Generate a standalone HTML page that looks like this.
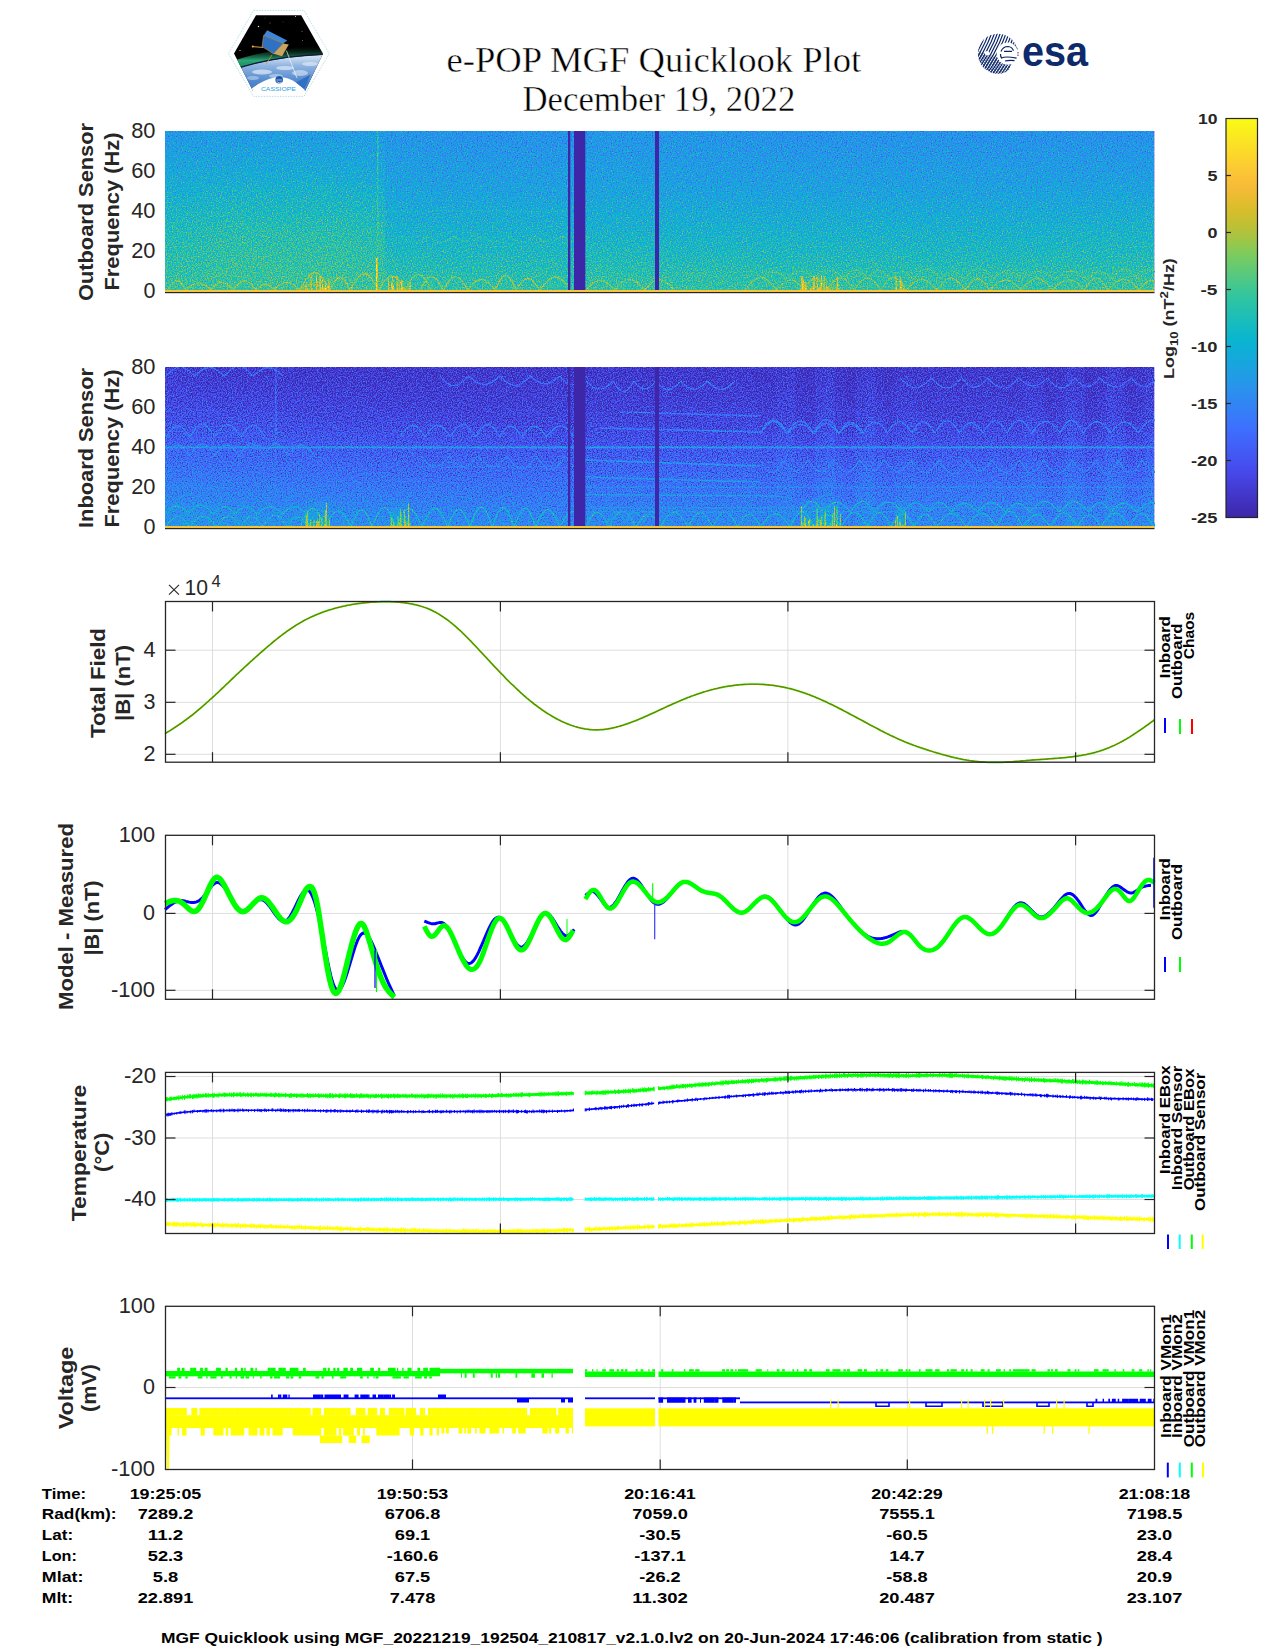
<!DOCTYPE html>
<html><head><meta charset="utf-8"><style>
html,body{margin:0;padding:0;background:#ffffff;}
body{width:1275px;height:1650px;overflow:hidden;}
svg{display:block;font-family:"Liberation Sans", sans-serif;}
</style></head><body>
<svg width="1275" height="1650" viewBox="0 0 1275 1650">
<defs><clipPath id="hexclip"><polygon points="256,15.2 301.2,15.2 323,53.8 305,91 253,91 234,53.6"/></clipPath>
<linearGradient id="earthg" x1="0" y1="0" x2="0" y2="1"><stop offset="0" stop-color="#dfeaf8"/><stop offset="0.25" stop-color="#8fb4e0"/><stop offset="0.6" stop-color="#4f86cc"/><stop offset="1" stop-color="#3c72c0"/></linearGradient>
<linearGradient id="aurg" x1="0" y1="0" x2="0" y2="1"><stop offset="0" stop-color="#0a2a1a" stop-opacity="0"/><stop offset="0.6" stop-color="#2aa877"/><stop offset="1" stop-color="#167a55"/></linearGradient>
<mask id="esamask" maskUnits="userSpaceOnUse" x="970" y="25" width="60" height="60"><circle cx="997.9" cy="53.7" r="20" fill="#fff"/><circle cx="1007.8" cy="53.6" r="11.2" fill="#000"/><circle cx="987.1" cy="53.3" r="2.3" fill="#000"/></mask>
<clipPath id="esabl"><polygon points="970,48 1010,62 1010,85 970,85"/></clipPath>
<linearGradient id="glow474354" x1="0" y1="1" x2="0" y2="0"><stop offset="0" stop-color="#b8b8b8" stop-opacity="0.3"/><stop offset="1" stop-color="#b8b8b8" stop-opacity="0"/></linearGradient>
<filter id="pfp1" filterUnits="userSpaceOnUse" x="165" y="131.0" width="990" height="161.0" color-interpolation-filters="sRGB"><feTurbulence type="fractalNoise" baseFrequency="0.80" numOctaves="2" seed="3" result="n"/><feColorMatrix in="n" type="matrix" values="1 0 0 0 0  1 0 0 0 0  1 0 0 0 0  0 0 0 0 1" result="ng"/><feComposite in="SourceGraphic" in2="ng" operator="arithmetic" k1="0" k2="1" k3="0.650" k4="-0.325" result="v"/><feComponentTransfer in="v"><feFuncR type="table" tableValues="0.2431 0.2510 0.2588 0.2667 0.2745 0.2745 0.2667 0.2588 0.2510 0.2392 0.2196 0.2000 0.1804 0.1608 0.1333 0.1059 0.0784 0.0510 0.0392 0.0745 0.1098 0.1490 0.1843 0.2471 0.3176 0.3882 0.4588 0.5412 0.6431 0.7255 0.7922 0.8549 0.9098 0.9608 0.9843 0.9843 0.9882 0.9843 0.9804 0.9804 0.9765"/><feFuncG type="table" tableValues="0.1490 0.1765 0.2078 0.2353 0.2667 0.2980 0.3333 0.3686 0.4039 0.4392 0.4745 0.5098 0.5412 0.5765 0.6078 0.6353 0.6627 0.6902 0.7137 0.7294 0.7451 0.7569 0.7725 0.7804 0.7843 0.7922 0.7961 0.7922 0.7725 0.7569 0.7490 0.7412 0.7373 0.7333 0.7529 0.7922 0.8275 0.8667 0.9059 0.9451 0.9843"/><feFuncB type="table" tableValues="0.6588 0.7176 0.7765 0.8353 0.8941 0.9333 0.9490 0.9647 0.9843 0.9961 0.9804 0.9647 0.9451 0.9255 0.9059 0.8824 0.8588 0.8353 0.8078 0.7647 0.7216 0.6745 0.6314 0.5765 0.5137 0.4510 0.3882 0.3294 0.2627 0.2157 0.1882 0.1647 0.1882 0.2157 0.2157 0.2000 0.1765 0.1529 0.1294 0.1059 0.0824"/></feComponentTransfer></filter>
<linearGradient id="p10" x1="0" y1="0" x2="0" y2="1"><stop offset="0.00" stop-color="#595959"/><stop offset="0.12" stop-color="#5e5e5e"/><stop offset="0.25" stop-color="#666666"/><stop offset="0.38" stop-color="#6e6e6e"/><stop offset="0.50" stop-color="#757575"/><stop offset="0.62" stop-color="#7d7d7d"/><stop offset="0.75" stop-color="#828282"/><stop offset="0.82" stop-color="#858585"/><stop offset="0.90" stop-color="#878787"/><stop offset="0.96" stop-color="#8a8a8a"/><stop offset="1.00" stop-color="#8c8c8c"/></linearGradient>
<linearGradient id="p11" x1="0" y1="0" x2="0" y2="1"><stop offset="0.00" stop-color="#595959"/><stop offset="0.12" stop-color="#5f5f5f"/><stop offset="0.25" stop-color="#666666"/><stop offset="0.38" stop-color="#6e6e6e"/><stop offset="0.50" stop-color="#767676"/><stop offset="0.62" stop-color="#7d7d7d"/><stop offset="0.75" stop-color="#828282"/><stop offset="0.82" stop-color="#858585"/><stop offset="0.90" stop-color="#888888"/><stop offset="0.96" stop-color="#8a8a8a"/><stop offset="1.00" stop-color="#8c8c8c"/></linearGradient>
<linearGradient id="p12" x1="0" y1="0" x2="0" y2="1"><stop offset="0.00" stop-color="#5a5a5a"/><stop offset="0.12" stop-color="#5f5f5f"/><stop offset="0.25" stop-color="#676767"/><stop offset="0.38" stop-color="#6f6f6f"/><stop offset="0.50" stop-color="#767676"/><stop offset="0.62" stop-color="#7e7e7e"/><stop offset="0.75" stop-color="#838383"/><stop offset="0.82" stop-color="#868686"/><stop offset="0.90" stop-color="#888888"/><stop offset="0.96" stop-color="#8a8a8a"/><stop offset="1.00" stop-color="#8d8d8d"/></linearGradient>
<linearGradient id="p13" x1="0" y1="0" x2="0" y2="1"><stop offset="0.00" stop-color="#5a5a5a"/><stop offset="0.12" stop-color="#5f5f5f"/><stop offset="0.25" stop-color="#676767"/><stop offset="0.38" stop-color="#707070"/><stop offset="0.50" stop-color="#777777"/><stop offset="0.62" stop-color="#7f7f7f"/><stop offset="0.75" stop-color="#848484"/><stop offset="0.82" stop-color="#868686"/><stop offset="0.90" stop-color="#898989"/><stop offset="0.96" stop-color="#8b8b8b"/><stop offset="1.00" stop-color="#8d8d8d"/></linearGradient>
<linearGradient id="p14" x1="0" y1="0" x2="0" y2="1"><stop offset="0.00" stop-color="#5b5b5b"/><stop offset="0.12" stop-color="#606060"/><stop offset="0.25" stop-color="#676767"/><stop offset="0.38" stop-color="#707070"/><stop offset="0.50" stop-color="#787878"/><stop offset="0.62" stop-color="#808080"/><stop offset="0.75" stop-color="#858585"/><stop offset="0.82" stop-color="#878787"/><stop offset="0.90" stop-color="#8a8a8a"/><stop offset="0.96" stop-color="#8b8b8b"/><stop offset="1.00" stop-color="#8e8e8e"/></linearGradient>
<linearGradient id="p15" x1="0" y1="0" x2="0" y2="1"><stop offset="0.00" stop-color="#5b5b5b"/><stop offset="0.12" stop-color="#606060"/><stop offset="0.25" stop-color="#686868"/><stop offset="0.38" stop-color="#717171"/><stop offset="0.50" stop-color="#797979"/><stop offset="0.62" stop-color="#818181"/><stop offset="0.75" stop-color="#868686"/><stop offset="0.82" stop-color="#888888"/><stop offset="0.90" stop-color="#8b8b8b"/><stop offset="0.96" stop-color="#8c8c8c"/><stop offset="1.00" stop-color="#8e8e8e"/></linearGradient>
<linearGradient id="p16" x1="0" y1="0" x2="0" y2="1"><stop offset="0.00" stop-color="#5b5b5b"/><stop offset="0.12" stop-color="#616161"/><stop offset="0.25" stop-color="#686868"/><stop offset="0.38" stop-color="#727272"/><stop offset="0.50" stop-color="#7a7a7a"/><stop offset="0.62" stop-color="#818181"/><stop offset="0.75" stop-color="#868686"/><stop offset="0.82" stop-color="#898989"/><stop offset="0.90" stop-color="#8c8c8c"/><stop offset="0.96" stop-color="#8c8c8c"/><stop offset="1.00" stop-color="#8e8e8e"/></linearGradient>
<linearGradient id="p17" x1="0" y1="0" x2="0" y2="1"><stop offset="0.00" stop-color="#5c5c5c"/><stop offset="0.12" stop-color="#616161"/><stop offset="0.25" stop-color="#686868"/><stop offset="0.38" stop-color="#737373"/><stop offset="0.50" stop-color="#7a7a7a"/><stop offset="0.62" stop-color="#828282"/><stop offset="0.75" stop-color="#878787"/><stop offset="0.82" stop-color="#8a8a8a"/><stop offset="0.90" stop-color="#8c8c8c"/><stop offset="0.96" stop-color="#8c8c8c"/><stop offset="1.00" stop-color="#8f8f8f"/></linearGradient>
<linearGradient id="p18" x1="0" y1="0" x2="0" y2="1"><stop offset="0.00" stop-color="#5c5c5c"/><stop offset="0.12" stop-color="#616161"/><stop offset="0.25" stop-color="#696969"/><stop offset="0.38" stop-color="#737373"/><stop offset="0.50" stop-color="#7a7a7a"/><stop offset="0.62" stop-color="#828282"/><stop offset="0.75" stop-color="#878787"/><stop offset="0.82" stop-color="#8a8a8a"/><stop offset="0.90" stop-color="#8c8c8c"/><stop offset="0.96" stop-color="#8c8c8c"/><stop offset="1.00" stop-color="#8f8f8f"/></linearGradient>
<linearGradient id="p19" x1="0" y1="0" x2="0" y2="1"><stop offset="0.00" stop-color="#5c5c5c"/><stop offset="0.12" stop-color="#616161"/><stop offset="0.25" stop-color="#696969"/><stop offset="0.38" stop-color="#737373"/><stop offset="0.50" stop-color="#7a7a7a"/><stop offset="0.62" stop-color="#828282"/><stop offset="0.75" stop-color="#878787"/><stop offset="0.82" stop-color="#8a8a8a"/><stop offset="0.90" stop-color="#8c8c8c"/><stop offset="0.96" stop-color="#8c8c8c"/><stop offset="1.00" stop-color="#8f8f8f"/></linearGradient>
<linearGradient id="p110" x1="0" y1="0" x2="0" y2="1"><stop offset="0.00" stop-color="#5c5c5c"/><stop offset="0.12" stop-color="#616161"/><stop offset="0.25" stop-color="#696969"/><stop offset="0.38" stop-color="#737373"/><stop offset="0.50" stop-color="#7a7a7a"/><stop offset="0.62" stop-color="#828282"/><stop offset="0.75" stop-color="#878787"/><stop offset="0.82" stop-color="#8a8a8a"/><stop offset="0.90" stop-color="#8c8c8c"/><stop offset="0.96" stop-color="#8c8c8c"/><stop offset="1.00" stop-color="#8f8f8f"/></linearGradient>
<linearGradient id="p111" x1="0" y1="0" x2="0" y2="1"><stop offset="0.00" stop-color="#5c5c5c"/><stop offset="0.12" stop-color="#616161"/><stop offset="0.25" stop-color="#696969"/><stop offset="0.38" stop-color="#737373"/><stop offset="0.50" stop-color="#7a7a7a"/><stop offset="0.62" stop-color="#828282"/><stop offset="0.75" stop-color="#878787"/><stop offset="0.82" stop-color="#8a8a8a"/><stop offset="0.90" stop-color="#8c8c8c"/><stop offset="0.96" stop-color="#8c8c8c"/><stop offset="1.00" stop-color="#8f8f8f"/></linearGradient>
<linearGradient id="p112" x1="0" y1="0" x2="0" y2="1"><stop offset="0.00" stop-color="#5c5c5c"/><stop offset="0.12" stop-color="#616161"/><stop offset="0.25" stop-color="#696969"/><stop offset="0.38" stop-color="#737373"/><stop offset="0.50" stop-color="#7a7a7a"/><stop offset="0.62" stop-color="#828282"/><stop offset="0.75" stop-color="#878787"/><stop offset="0.82" stop-color="#8a8a8a"/><stop offset="0.90" stop-color="#8c8c8c"/><stop offset="0.96" stop-color="#8c8c8c"/><stop offset="1.00" stop-color="#8f8f8f"/></linearGradient>
<linearGradient id="p113" x1="0" y1="0" x2="0" y2="1"><stop offset="0.00" stop-color="#5c5c5c"/><stop offset="0.12" stop-color="#616161"/><stop offset="0.25" stop-color="#696969"/><stop offset="0.38" stop-color="#737373"/><stop offset="0.50" stop-color="#7a7a7a"/><stop offset="0.62" stop-color="#828282"/><stop offset="0.75" stop-color="#878787"/><stop offset="0.82" stop-color="#8a8a8a"/><stop offset="0.90" stop-color="#8c8c8c"/><stop offset="0.96" stop-color="#8c8c8c"/><stop offset="1.00" stop-color="#8f8f8f"/></linearGradient>
<linearGradient id="p114" x1="0" y1="0" x2="0" y2="1"><stop offset="0.00" stop-color="#5c5c5c"/><stop offset="0.12" stop-color="#616161"/><stop offset="0.25" stop-color="#696969"/><stop offset="0.38" stop-color="#737373"/><stop offset="0.50" stop-color="#7a7a7a"/><stop offset="0.62" stop-color="#828282"/><stop offset="0.75" stop-color="#878787"/><stop offset="0.82" stop-color="#8a8a8a"/><stop offset="0.90" stop-color="#8c8c8c"/><stop offset="0.96" stop-color="#8c8c8c"/><stop offset="1.00" stop-color="#8f8f8f"/></linearGradient>
<linearGradient id="p115" x1="0" y1="0" x2="0" y2="1"><stop offset="0.00" stop-color="#5c5c5c"/><stop offset="0.12" stop-color="#616161"/><stop offset="0.25" stop-color="#696969"/><stop offset="0.38" stop-color="#737373"/><stop offset="0.50" stop-color="#7a7a7a"/><stop offset="0.62" stop-color="#828282"/><stop offset="0.75" stop-color="#878787"/><stop offset="0.82" stop-color="#8a8a8a"/><stop offset="0.90" stop-color="#8c8c8c"/><stop offset="0.96" stop-color="#8c8c8c"/><stop offset="1.00" stop-color="#8f8f8f"/></linearGradient>
<linearGradient id="p116" x1="0" y1="0" x2="0" y2="1"><stop offset="0.00" stop-color="#5c5c5c"/><stop offset="0.12" stop-color="#616161"/><stop offset="0.25" stop-color="#696969"/><stop offset="0.38" stop-color="#737373"/><stop offset="0.50" stop-color="#7a7a7a"/><stop offset="0.62" stop-color="#828282"/><stop offset="0.75" stop-color="#878787"/><stop offset="0.82" stop-color="#8a8a8a"/><stop offset="0.90" stop-color="#8c8c8c"/><stop offset="0.96" stop-color="#8c8c8c"/><stop offset="1.00" stop-color="#8f8f8f"/></linearGradient>
<linearGradient id="p117" x1="0" y1="0" x2="0" y2="1"><stop offset="0.00" stop-color="#5c5c5c"/><stop offset="0.12" stop-color="#616161"/><stop offset="0.25" stop-color="#686868"/><stop offset="0.38" stop-color="#737373"/><stop offset="0.50" stop-color="#7a7a7a"/><stop offset="0.62" stop-color="#828282"/><stop offset="0.75" stop-color="#878787"/><stop offset="0.82" stop-color="#898989"/><stop offset="0.90" stop-color="#8c8c8c"/><stop offset="0.96" stop-color="#8c8c8c"/><stop offset="1.00" stop-color="#8f8f8f"/></linearGradient>
<linearGradient id="p118" x1="0" y1="0" x2="0" y2="1"><stop offset="0.00" stop-color="#5c5c5c"/><stop offset="0.12" stop-color="#616161"/><stop offset="0.25" stop-color="#686868"/><stop offset="0.38" stop-color="#727272"/><stop offset="0.50" stop-color="#7a7a7a"/><stop offset="0.62" stop-color="#818181"/><stop offset="0.75" stop-color="#868686"/><stop offset="0.82" stop-color="#898989"/><stop offset="0.90" stop-color="#8b8b8b"/><stop offset="0.96" stop-color="#8c8c8c"/><stop offset="1.00" stop-color="#8f8f8f"/></linearGradient>
<linearGradient id="p119" x1="0" y1="0" x2="0" y2="1"><stop offset="0.00" stop-color="#5c5c5c"/><stop offset="0.12" stop-color="#616161"/><stop offset="0.25" stop-color="#676767"/><stop offset="0.38" stop-color="#717171"/><stop offset="0.50" stop-color="#797979"/><stop offset="0.62" stop-color="#808080"/><stop offset="0.75" stop-color="#868686"/><stop offset="0.82" stop-color="#888888"/><stop offset="0.90" stop-color="#8b8b8b"/><stop offset="0.96" stop-color="#8c8c8c"/><stop offset="1.00" stop-color="#8f8f8f"/></linearGradient>
<linearGradient id="p120" x1="0" y1="0" x2="0" y2="1"><stop offset="0.00" stop-color="#5c5c5c"/><stop offset="0.12" stop-color="#616161"/><stop offset="0.25" stop-color="#666666"/><stop offset="0.38" stop-color="#717171"/><stop offset="0.50" stop-color="#787878"/><stop offset="0.62" stop-color="#808080"/><stop offset="0.75" stop-color="#858585"/><stop offset="0.82" stop-color="#878787"/><stop offset="0.90" stop-color="#8a8a8a"/><stop offset="0.96" stop-color="#8c8c8c"/><stop offset="1.00" stop-color="#8f8f8f"/></linearGradient>
<linearGradient id="p121" x1="0" y1="0" x2="0" y2="1"><stop offset="0.00" stop-color="#5c5c5c"/><stop offset="0.12" stop-color="#616161"/><stop offset="0.25" stop-color="#666666"/><stop offset="0.38" stop-color="#707070"/><stop offset="0.50" stop-color="#787878"/><stop offset="0.62" stop-color="#808080"/><stop offset="0.75" stop-color="#858585"/><stop offset="0.82" stop-color="#878787"/><stop offset="0.90" stop-color="#8a8a8a"/><stop offset="0.96" stop-color="#8c8c8c"/><stop offset="1.00" stop-color="#8f8f8f"/></linearGradient>
<linearGradient id="p122" x1="0" y1="0" x2="0" y2="1"><stop offset="0.00" stop-color="#575757"/><stop offset="0.12" stop-color="#5a5a5a"/><stop offset="0.25" stop-color="#5f5f5f"/><stop offset="0.38" stop-color="#656565"/><stop offset="0.50" stop-color="#6a6a6a"/><stop offset="0.62" stop-color="#727272"/><stop offset="0.75" stop-color="#797979"/><stop offset="0.82" stop-color="#7e7e7e"/><stop offset="0.90" stop-color="#838383"/><stop offset="0.96" stop-color="#858585"/><stop offset="1.00" stop-color="#8a8a8a"/></linearGradient>
<linearGradient id="p123" x1="0" y1="0" x2="0" y2="1"><stop offset="0.00" stop-color="#575757"/><stop offset="0.12" stop-color="#595959"/><stop offset="0.25" stop-color="#5e5e5e"/><stop offset="0.38" stop-color="#636363"/><stop offset="0.50" stop-color="#696969"/><stop offset="0.62" stop-color="#707070"/><stop offset="0.75" stop-color="#787878"/><stop offset="0.82" stop-color="#7d7d7d"/><stop offset="0.90" stop-color="#828282"/><stop offset="0.96" stop-color="#858585"/><stop offset="1.00" stop-color="#8a8a8a"/></linearGradient>
<linearGradient id="p124" x1="0" y1="0" x2="0" y2="1"><stop offset="0.00" stop-color="#565656"/><stop offset="0.12" stop-color="#595959"/><stop offset="0.25" stop-color="#5e5e5e"/><stop offset="0.38" stop-color="#636363"/><stop offset="0.50" stop-color="#696969"/><stop offset="0.62" stop-color="#707070"/><stop offset="0.75" stop-color="#787878"/><stop offset="0.82" stop-color="#7d7d7d"/><stop offset="0.90" stop-color="#828282"/><stop offset="0.96" stop-color="#858585"/><stop offset="1.00" stop-color="#8a8a8a"/></linearGradient>
<linearGradient id="p125" x1="0" y1="0" x2="0" y2="1"><stop offset="0.00" stop-color="#565656"/><stop offset="0.12" stop-color="#595959"/><stop offset="0.25" stop-color="#5e5e5e"/><stop offset="0.38" stop-color="#636363"/><stop offset="0.50" stop-color="#696969"/><stop offset="0.62" stop-color="#707070"/><stop offset="0.75" stop-color="#787878"/><stop offset="0.82" stop-color="#7d7d7d"/><stop offset="0.90" stop-color="#828282"/><stop offset="0.96" stop-color="#858585"/><stop offset="1.00" stop-color="#8a8a8a"/></linearGradient>
<linearGradient id="p126" x1="0" y1="0" x2="0" y2="1"><stop offset="0.00" stop-color="#565656"/><stop offset="0.12" stop-color="#585858"/><stop offset="0.25" stop-color="#5d5d5d"/><stop offset="0.38" stop-color="#626262"/><stop offset="0.50" stop-color="#696969"/><stop offset="0.62" stop-color="#707070"/><stop offset="0.75" stop-color="#787878"/><stop offset="0.82" stop-color="#7d7d7d"/><stop offset="0.90" stop-color="#828282"/><stop offset="0.96" stop-color="#858585"/><stop offset="1.00" stop-color="#8a8a8a"/></linearGradient>
<linearGradient id="p127" x1="0" y1="0" x2="0" y2="1"><stop offset="0.00" stop-color="#555555"/><stop offset="0.12" stop-color="#585858"/><stop offset="0.25" stop-color="#5d5d5d"/><stop offset="0.38" stop-color="#626262"/><stop offset="0.50" stop-color="#696969"/><stop offset="0.62" stop-color="#707070"/><stop offset="0.75" stop-color="#787878"/><stop offset="0.82" stop-color="#7d7d7d"/><stop offset="0.90" stop-color="#828282"/><stop offset="0.96" stop-color="#858585"/><stop offset="1.00" stop-color="#8a8a8a"/></linearGradient>
<linearGradient id="p128" x1="0" y1="0" x2="0" y2="1"><stop offset="0.00" stop-color="#555555"/><stop offset="0.12" stop-color="#575757"/><stop offset="0.25" stop-color="#5c5c5c"/><stop offset="0.38" stop-color="#626262"/><stop offset="0.50" stop-color="#696969"/><stop offset="0.62" stop-color="#707070"/><stop offset="0.75" stop-color="#787878"/><stop offset="0.82" stop-color="#7d7d7d"/><stop offset="0.90" stop-color="#828282"/><stop offset="0.96" stop-color="#858585"/><stop offset="1.00" stop-color="#8a8a8a"/></linearGradient>
<linearGradient id="p129" x1="0" y1="0" x2="0" y2="1"><stop offset="0.00" stop-color="#545454"/><stop offset="0.12" stop-color="#575757"/><stop offset="0.25" stop-color="#5c5c5c"/><stop offset="0.38" stop-color="#616161"/><stop offset="0.50" stop-color="#696969"/><stop offset="0.62" stop-color="#707070"/><stop offset="0.75" stop-color="#787878"/><stop offset="0.82" stop-color="#7d7d7d"/><stop offset="0.90" stop-color="#828282"/><stop offset="0.96" stop-color="#858585"/><stop offset="1.00" stop-color="#8a8a8a"/></linearGradient>
<linearGradient id="p130" x1="0" y1="0" x2="0" y2="1"><stop offset="0.00" stop-color="#545454"/><stop offset="0.12" stop-color="#575757"/><stop offset="0.25" stop-color="#5c5c5c"/><stop offset="0.38" stop-color="#616161"/><stop offset="0.50" stop-color="#696969"/><stop offset="0.62" stop-color="#707070"/><stop offset="0.75" stop-color="#787878"/><stop offset="0.82" stop-color="#7d7d7d"/><stop offset="0.90" stop-color="#828282"/><stop offset="0.96" stop-color="#858585"/><stop offset="1.00" stop-color="#8a8a8a"/></linearGradient>
<linearGradient id="p131" x1="0" y1="0" x2="0" y2="1"><stop offset="0.00" stop-color="#545454"/><stop offset="0.12" stop-color="#575757"/><stop offset="0.25" stop-color="#5c5c5c"/><stop offset="0.38" stop-color="#616161"/><stop offset="0.50" stop-color="#696969"/><stop offset="0.62" stop-color="#707070"/><stop offset="0.75" stop-color="#787878"/><stop offset="0.82" stop-color="#7d7d7d"/><stop offset="0.90" stop-color="#828282"/><stop offset="0.96" stop-color="#858585"/><stop offset="1.00" stop-color="#8a8a8a"/></linearGradient>
<linearGradient id="p132" x1="0" y1="0" x2="0" y2="1"><stop offset="0.00" stop-color="#545454"/><stop offset="0.12" stop-color="#575757"/><stop offset="0.25" stop-color="#5c5c5c"/><stop offset="0.38" stop-color="#616161"/><stop offset="0.50" stop-color="#696969"/><stop offset="0.62" stop-color="#707070"/><stop offset="0.75" stop-color="#787878"/><stop offset="0.82" stop-color="#7d7d7d"/><stop offset="0.90" stop-color="#828282"/><stop offset="0.96" stop-color="#858585"/><stop offset="1.00" stop-color="#8a8a8a"/></linearGradient>
<linearGradient id="p133" x1="0" y1="0" x2="0" y2="1"><stop offset="0.00" stop-color="#545454"/><stop offset="0.12" stop-color="#575757"/><stop offset="0.25" stop-color="#5c5c5c"/><stop offset="0.38" stop-color="#616161"/><stop offset="0.50" stop-color="#696969"/><stop offset="0.62" stop-color="#707070"/><stop offset="0.75" stop-color="#787878"/><stop offset="0.82" stop-color="#7d7d7d"/><stop offset="0.90" stop-color="#828282"/><stop offset="0.96" stop-color="#858585"/><stop offset="1.00" stop-color="#8a8a8a"/></linearGradient>
<linearGradient id="p134" x1="0" y1="0" x2="0" y2="1"><stop offset="0.00" stop-color="#545454"/><stop offset="0.12" stop-color="#575757"/><stop offset="0.25" stop-color="#5c5c5c"/><stop offset="0.38" stop-color="#616161"/><stop offset="0.50" stop-color="#696969"/><stop offset="0.62" stop-color="#707070"/><stop offset="0.75" stop-color="#787878"/><stop offset="0.82" stop-color="#7d7d7d"/><stop offset="0.90" stop-color="#828282"/><stop offset="0.96" stop-color="#858585"/><stop offset="1.00" stop-color="#8a8a8a"/></linearGradient>
<linearGradient id="p135" x1="0" y1="0" x2="0" y2="1"><stop offset="0.00" stop-color="#545454"/><stop offset="0.12" stop-color="#575757"/><stop offset="0.25" stop-color="#5c5c5c"/><stop offset="0.38" stop-color="#616161"/><stop offset="0.50" stop-color="#696969"/><stop offset="0.62" stop-color="#707070"/><stop offset="0.75" stop-color="#787878"/><stop offset="0.82" stop-color="#7d7d7d"/><stop offset="0.90" stop-color="#828282"/><stop offset="0.96" stop-color="#858585"/><stop offset="1.00" stop-color="#8a8a8a"/></linearGradient>
<linearGradient id="p136" x1="0" y1="0" x2="0" y2="1"><stop offset="0.00" stop-color="#545454"/><stop offset="0.12" stop-color="#575757"/><stop offset="0.25" stop-color="#5c5c5c"/><stop offset="0.38" stop-color="#616161"/><stop offset="0.50" stop-color="#696969"/><stop offset="0.62" stop-color="#707070"/><stop offset="0.75" stop-color="#787878"/><stop offset="0.82" stop-color="#7d7d7d"/><stop offset="0.90" stop-color="#828282"/><stop offset="0.96" stop-color="#858585"/><stop offset="1.00" stop-color="#8a8a8a"/></linearGradient>
<linearGradient id="p137" x1="0" y1="0" x2="0" y2="1"><stop offset="0.00" stop-color="#545454"/><stop offset="0.12" stop-color="#575757"/><stop offset="0.25" stop-color="#5c5c5c"/><stop offset="0.38" stop-color="#616161"/><stop offset="0.50" stop-color="#696969"/><stop offset="0.62" stop-color="#707070"/><stop offset="0.75" stop-color="#787878"/><stop offset="0.82" stop-color="#7d7d7d"/><stop offset="0.90" stop-color="#828282"/><stop offset="0.96" stop-color="#858585"/><stop offset="1.00" stop-color="#8a8a8a"/></linearGradient>
<linearGradient id="p138" x1="0" y1="0" x2="0" y2="1"><stop offset="0.00" stop-color="#545454"/><stop offset="0.12" stop-color="#575757"/><stop offset="0.25" stop-color="#5c5c5c"/><stop offset="0.38" stop-color="#616161"/><stop offset="0.50" stop-color="#696969"/><stop offset="0.62" stop-color="#707070"/><stop offset="0.75" stop-color="#787878"/><stop offset="0.82" stop-color="#7d7d7d"/><stop offset="0.90" stop-color="#828282"/><stop offset="0.96" stop-color="#858585"/><stop offset="1.00" stop-color="#8a8a8a"/></linearGradient>
<linearGradient id="p139" x1="0" y1="0" x2="0" y2="1"><stop offset="0.00" stop-color="#545454"/><stop offset="0.12" stop-color="#575757"/><stop offset="0.25" stop-color="#5c5c5c"/><stop offset="0.38" stop-color="#616161"/><stop offset="0.50" stop-color="#696969"/><stop offset="0.62" stop-color="#707070"/><stop offset="0.75" stop-color="#787878"/><stop offset="0.82" stop-color="#7d7d7d"/><stop offset="0.90" stop-color="#828282"/><stop offset="0.96" stop-color="#858585"/><stop offset="1.00" stop-color="#8a8a8a"/></linearGradient>
<linearGradient id="p140" x1="0" y1="0" x2="0" y2="1"><stop offset="0.00" stop-color="#545454"/><stop offset="0.12" stop-color="#575757"/><stop offset="0.25" stop-color="#5c5c5c"/><stop offset="0.38" stop-color="#616161"/><stop offset="0.50" stop-color="#696969"/><stop offset="0.62" stop-color="#707070"/><stop offset="0.75" stop-color="#787878"/><stop offset="0.82" stop-color="#7d7d7d"/><stop offset="0.90" stop-color="#828282"/><stop offset="0.96" stop-color="#858585"/><stop offset="1.00" stop-color="#8a8a8a"/></linearGradient>
<linearGradient id="p141" x1="0" y1="0" x2="0" y2="1"><stop offset="0.00" stop-color="#555555"/><stop offset="0.12" stop-color="#585858"/><stop offset="0.25" stop-color="#5d5d5d"/><stop offset="0.38" stop-color="#626262"/><stop offset="0.50" stop-color="#6a6a6a"/><stop offset="0.62" stop-color="#707070"/><stop offset="0.75" stop-color="#797979"/><stop offset="0.82" stop-color="#7e7e7e"/><stop offset="0.90" stop-color="#838383"/><stop offset="0.96" stop-color="#868686"/><stop offset="1.00" stop-color="#8b8b8b"/></linearGradient>
<linearGradient id="p142" x1="0" y1="0" x2="0" y2="1"><stop offset="0.00" stop-color="#565656"/><stop offset="0.12" stop-color="#595959"/><stop offset="0.25" stop-color="#5e5e5e"/><stop offset="0.38" stop-color="#636363"/><stop offset="0.50" stop-color="#6b6b6b"/><stop offset="0.62" stop-color="#707070"/><stop offset="0.75" stop-color="#7a7a7a"/><stop offset="0.82" stop-color="#7f7f7f"/><stop offset="0.90" stop-color="#848484"/><stop offset="0.96" stop-color="#878787"/><stop offset="1.00" stop-color="#8c8c8c"/></linearGradient>
<linearGradient id="p143" x1="0" y1="0" x2="0" y2="1"><stop offset="0.00" stop-color="#575757"/><stop offset="0.12" stop-color="#595959"/><stop offset="0.25" stop-color="#5e5e5e"/><stop offset="0.38" stop-color="#636363"/><stop offset="0.50" stop-color="#6b6b6b"/><stop offset="0.62" stop-color="#707070"/><stop offset="0.75" stop-color="#7a7a7a"/><stop offset="0.82" stop-color="#808080"/><stop offset="0.90" stop-color="#858585"/><stop offset="0.96" stop-color="#878787"/><stop offset="1.00" stop-color="#8c8c8c"/></linearGradient>
<linearGradient id="p144" x1="0" y1="0" x2="0" y2="1"><stop offset="0.00" stop-color="#575757"/><stop offset="0.12" stop-color="#595959"/><stop offset="0.25" stop-color="#5e5e5e"/><stop offset="0.38" stop-color="#636363"/><stop offset="0.50" stop-color="#6b6b6b"/><stop offset="0.62" stop-color="#707070"/><stop offset="0.75" stop-color="#7a7a7a"/><stop offset="0.82" stop-color="#7f7f7f"/><stop offset="0.90" stop-color="#858585"/><stop offset="0.96" stop-color="#878787"/><stop offset="1.00" stop-color="#8c8c8c"/></linearGradient>
<linearGradient id="p145" x1="0" y1="0" x2="0" y2="1"><stop offset="0.00" stop-color="#575757"/><stop offset="0.12" stop-color="#595959"/><stop offset="0.25" stop-color="#5e5e5e"/><stop offset="0.38" stop-color="#636363"/><stop offset="0.50" stop-color="#6b6b6b"/><stop offset="0.62" stop-color="#707070"/><stop offset="0.75" stop-color="#7a7a7a"/><stop offset="0.82" stop-color="#7f7f7f"/><stop offset="0.90" stop-color="#858585"/><stop offset="0.96" stop-color="#878787"/><stop offset="1.00" stop-color="#8c8c8c"/></linearGradient>
<linearGradient id="p146" x1="0" y1="0" x2="0" y2="1"><stop offset="0.00" stop-color="#575757"/><stop offset="0.12" stop-color="#595959"/><stop offset="0.25" stop-color="#5e5e5e"/><stop offset="0.38" stop-color="#636363"/><stop offset="0.50" stop-color="#6b6b6b"/><stop offset="0.62" stop-color="#707070"/><stop offset="0.75" stop-color="#7a7a7a"/><stop offset="0.82" stop-color="#7f7f7f"/><stop offset="0.90" stop-color="#858585"/><stop offset="0.96" stop-color="#878787"/><stop offset="1.00" stop-color="#8c8c8c"/></linearGradient>
<linearGradient id="p147" x1="0" y1="0" x2="0" y2="1"><stop offset="0.00" stop-color="#575757"/><stop offset="0.12" stop-color="#595959"/><stop offset="0.25" stop-color="#5d5d5d"/><stop offset="0.38" stop-color="#636363"/><stop offset="0.50" stop-color="#6a6a6a"/><stop offset="0.62" stop-color="#707070"/><stop offset="0.75" stop-color="#7a7a7a"/><stop offset="0.82" stop-color="#7f7f7f"/><stop offset="0.90" stop-color="#858585"/><stop offset="0.96" stop-color="#878787"/><stop offset="1.00" stop-color="#8c8c8c"/></linearGradient>
<linearGradient id="p148" x1="0" y1="0" x2="0" y2="1"><stop offset="0.00" stop-color="#575757"/><stop offset="0.12" stop-color="#595959"/><stop offset="0.25" stop-color="#5d5d5d"/><stop offset="0.38" stop-color="#626262"/><stop offset="0.50" stop-color="#6a6a6a"/><stop offset="0.62" stop-color="#707070"/><stop offset="0.75" stop-color="#797979"/><stop offset="0.82" stop-color="#7e7e7e"/><stop offset="0.90" stop-color="#858585"/><stop offset="0.96" stop-color="#878787"/><stop offset="1.00" stop-color="#8c8c8c"/></linearGradient>
<linearGradient id="p149" x1="0" y1="0" x2="0" y2="1"><stop offset="0.00" stop-color="#575757"/><stop offset="0.12" stop-color="#595959"/><stop offset="0.25" stop-color="#5d5d5d"/><stop offset="0.38" stop-color="#626262"/><stop offset="0.50" stop-color="#696969"/><stop offset="0.62" stop-color="#707070"/><stop offset="0.75" stop-color="#797979"/><stop offset="0.82" stop-color="#7e7e7e"/><stop offset="0.90" stop-color="#858585"/><stop offset="0.96" stop-color="#878787"/><stop offset="1.00" stop-color="#8c8c8c"/></linearGradient>
<linearGradient id="p150" x1="0" y1="0" x2="0" y2="1"><stop offset="0.00" stop-color="#575757"/><stop offset="0.12" stop-color="#595959"/><stop offset="0.25" stop-color="#5c5c5c"/><stop offset="0.38" stop-color="#616161"/><stop offset="0.50" stop-color="#696969"/><stop offset="0.62" stop-color="#707070"/><stop offset="0.75" stop-color="#787878"/><stop offset="0.82" stop-color="#7e7e7e"/><stop offset="0.90" stop-color="#858585"/><stop offset="0.96" stop-color="#878787"/><stop offset="1.00" stop-color="#8c8c8c"/></linearGradient>
<linearGradient id="p151" x1="0" y1="0" x2="0" y2="1"><stop offset="0.00" stop-color="#575757"/><stop offset="0.12" stop-color="#595959"/><stop offset="0.25" stop-color="#5c5c5c"/><stop offset="0.38" stop-color="#616161"/><stop offset="0.50" stop-color="#696969"/><stop offset="0.62" stop-color="#707070"/><stop offset="0.75" stop-color="#787878"/><stop offset="0.82" stop-color="#7d7d7d"/><stop offset="0.90" stop-color="#858585"/><stop offset="0.96" stop-color="#878787"/><stop offset="1.00" stop-color="#8c8c8c"/></linearGradient>
<linearGradient id="p152" x1="0" y1="0" x2="0" y2="1"><stop offset="0.00" stop-color="#575757"/><stop offset="0.12" stop-color="#595959"/><stop offset="0.25" stop-color="#5c5c5c"/><stop offset="0.38" stop-color="#616161"/><stop offset="0.50" stop-color="#696969"/><stop offset="0.62" stop-color="#707070"/><stop offset="0.75" stop-color="#787878"/><stop offset="0.82" stop-color="#7d7d7d"/><stop offset="0.90" stop-color="#858585"/><stop offset="0.96" stop-color="#878787"/><stop offset="1.00" stop-color="#8c8c8c"/></linearGradient>
<linearGradient id="p153" x1="0" y1="0" x2="0" y2="1"><stop offset="0.00" stop-color="#575757"/><stop offset="0.12" stop-color="#595959"/><stop offset="0.25" stop-color="#5c5c5c"/><stop offset="0.38" stop-color="#616161"/><stop offset="0.50" stop-color="#696969"/><stop offset="0.62" stop-color="#707070"/><stop offset="0.75" stop-color="#787878"/><stop offset="0.82" stop-color="#7d7d7d"/><stop offset="0.90" stop-color="#858585"/><stop offset="0.96" stop-color="#878787"/><stop offset="1.00" stop-color="#8c8c8c"/></linearGradient>
<linearGradient id="p154" x1="0" y1="0" x2="0" y2="1"><stop offset="0.00" stop-color="#575757"/><stop offset="0.12" stop-color="#595959"/><stop offset="0.25" stop-color="#5c5c5c"/><stop offset="0.38" stop-color="#616161"/><stop offset="0.50" stop-color="#696969"/><stop offset="0.62" stop-color="#707070"/><stop offset="0.75" stop-color="#787878"/><stop offset="0.82" stop-color="#7d7d7d"/><stop offset="0.90" stop-color="#858585"/><stop offset="0.96" stop-color="#878787"/><stop offset="1.00" stop-color="#8c8c8c"/></linearGradient>
<linearGradient id="p155" x1="0" y1="0" x2="0" y2="1"><stop offset="0.00" stop-color="#565656"/><stop offset="0.12" stop-color="#595959"/><stop offset="0.25" stop-color="#5c5c5c"/><stop offset="0.38" stop-color="#616161"/><stop offset="0.50" stop-color="#696969"/><stop offset="0.62" stop-color="#707070"/><stop offset="0.75" stop-color="#787878"/><stop offset="0.82" stop-color="#7d7d7d"/><stop offset="0.90" stop-color="#858585"/><stop offset="0.96" stop-color="#878787"/><stop offset="1.00" stop-color="#8c8c8c"/></linearGradient>
<linearGradient id="p156" x1="0" y1="0" x2="0" y2="1"><stop offset="0.00" stop-color="#565656"/><stop offset="0.12" stop-color="#595959"/><stop offset="0.25" stop-color="#5c5c5c"/><stop offset="0.38" stop-color="#616161"/><stop offset="0.50" stop-color="#696969"/><stop offset="0.62" stop-color="#707070"/><stop offset="0.75" stop-color="#787878"/><stop offset="0.82" stop-color="#7d7d7d"/><stop offset="0.90" stop-color="#858585"/><stop offset="0.96" stop-color="#878787"/><stop offset="1.00" stop-color="#8c8c8c"/></linearGradient>
<linearGradient id="p157" x1="0" y1="0" x2="0" y2="1"><stop offset="0.00" stop-color="#565656"/><stop offset="0.12" stop-color="#585858"/><stop offset="0.25" stop-color="#5c5c5c"/><stop offset="0.38" stop-color="#616161"/><stop offset="0.50" stop-color="#696969"/><stop offset="0.62" stop-color="#707070"/><stop offset="0.75" stop-color="#787878"/><stop offset="0.82" stop-color="#7d7d7d"/><stop offset="0.90" stop-color="#858585"/><stop offset="0.96" stop-color="#878787"/><stop offset="1.00" stop-color="#8c8c8c"/></linearGradient>
<linearGradient id="p158" x1="0" y1="0" x2="0" y2="1"><stop offset="0.00" stop-color="#555555"/><stop offset="0.12" stop-color="#585858"/><stop offset="0.25" stop-color="#5c5c5c"/><stop offset="0.38" stop-color="#616161"/><stop offset="0.50" stop-color="#696969"/><stop offset="0.62" stop-color="#707070"/><stop offset="0.75" stop-color="#787878"/><stop offset="0.82" stop-color="#7d7d7d"/><stop offset="0.90" stop-color="#858585"/><stop offset="0.96" stop-color="#878787"/><stop offset="1.00" stop-color="#8c8c8c"/></linearGradient>
<linearGradient id="p159" x1="0" y1="0" x2="0" y2="1"><stop offset="0.00" stop-color="#555555"/><stop offset="0.12" stop-color="#585858"/><stop offset="0.25" stop-color="#5c5c5c"/><stop offset="0.38" stop-color="#616161"/><stop offset="0.50" stop-color="#696969"/><stop offset="0.62" stop-color="#707070"/><stop offset="0.75" stop-color="#787878"/><stop offset="0.82" stop-color="#7d7d7d"/><stop offset="0.90" stop-color="#858585"/><stop offset="0.96" stop-color="#878787"/><stop offset="1.00" stop-color="#8c8c8c"/></linearGradient>
<linearGradient id="p160" x1="0" y1="0" x2="0" y2="1"><stop offset="0.00" stop-color="#555555"/><stop offset="0.12" stop-color="#575757"/><stop offset="0.25" stop-color="#5c5c5c"/><stop offset="0.38" stop-color="#616161"/><stop offset="0.50" stop-color="#696969"/><stop offset="0.62" stop-color="#707070"/><stop offset="0.75" stop-color="#787878"/><stop offset="0.82" stop-color="#7d7d7d"/><stop offset="0.90" stop-color="#858585"/><stop offset="0.96" stop-color="#878787"/><stop offset="1.00" stop-color="#8c8c8c"/></linearGradient>
<linearGradient id="p161" x1="0" y1="0" x2="0" y2="1"><stop offset="0.00" stop-color="#545454"/><stop offset="0.12" stop-color="#575757"/><stop offset="0.25" stop-color="#5c5c5c"/><stop offset="0.38" stop-color="#616161"/><stop offset="0.50" stop-color="#696969"/><stop offset="0.62" stop-color="#707070"/><stop offset="0.75" stop-color="#787878"/><stop offset="0.82" stop-color="#7d7d7d"/><stop offset="0.90" stop-color="#858585"/><stop offset="0.96" stop-color="#878787"/><stop offset="1.00" stop-color="#8c8c8c"/></linearGradient>
<linearGradient id="p162" x1="0" y1="0" x2="0" y2="1"><stop offset="0.00" stop-color="#545454"/><stop offset="0.12" stop-color="#575757"/><stop offset="0.25" stop-color="#5c5c5c"/><stop offset="0.38" stop-color="#616161"/><stop offset="0.50" stop-color="#696969"/><stop offset="0.62" stop-color="#707070"/><stop offset="0.75" stop-color="#787878"/><stop offset="0.82" stop-color="#7d7d7d"/><stop offset="0.90" stop-color="#858585"/><stop offset="0.96" stop-color="#878787"/><stop offset="1.00" stop-color="#8c8c8c"/></linearGradient>
<linearGradient id="p163" x1="0" y1="0" x2="0" y2="1"><stop offset="0.00" stop-color="#545454"/><stop offset="0.12" stop-color="#575757"/><stop offset="0.25" stop-color="#5c5c5c"/><stop offset="0.38" stop-color="#616161"/><stop offset="0.50" stop-color="#696969"/><stop offset="0.62" stop-color="#707070"/><stop offset="0.75" stop-color="#787878"/><stop offset="0.82" stop-color="#7d7d7d"/><stop offset="0.90" stop-color="#858585"/><stop offset="0.96" stop-color="#878787"/><stop offset="1.00" stop-color="#8c8c8c"/></linearGradient>
<linearGradient id="p164" x1="0" y1="0" x2="0" y2="1"><stop offset="0.00" stop-color="#545454"/><stop offset="0.12" stop-color="#575757"/><stop offset="0.25" stop-color="#5c5c5c"/><stop offset="0.38" stop-color="#616161"/><stop offset="0.50" stop-color="#696969"/><stop offset="0.62" stop-color="#707070"/><stop offset="0.75" stop-color="#787878"/><stop offset="0.82" stop-color="#7d7d7d"/><stop offset="0.90" stop-color="#858585"/><stop offset="0.96" stop-color="#878787"/><stop offset="1.00" stop-color="#8c8c8c"/></linearGradient>
<linearGradient id="p165" x1="0" y1="0" x2="0" y2="1"><stop offset="0.00" stop-color="#545454"/><stop offset="0.12" stop-color="#575757"/><stop offset="0.25" stop-color="#5c5c5c"/><stop offset="0.38" stop-color="#616161"/><stop offset="0.50" stop-color="#696969"/><stop offset="0.62" stop-color="#707070"/><stop offset="0.75" stop-color="#787878"/><stop offset="0.82" stop-color="#7d7d7d"/><stop offset="0.90" stop-color="#858585"/><stop offset="0.96" stop-color="#878787"/><stop offset="1.00" stop-color="#8c8c8c"/></linearGradient>
<linearGradient id="p166" x1="0" y1="0" x2="0" y2="1"><stop offset="0.00" stop-color="#545454"/><stop offset="0.12" stop-color="#575757"/><stop offset="0.25" stop-color="#5c5c5c"/><stop offset="0.38" stop-color="#616161"/><stop offset="0.50" stop-color="#696969"/><stop offset="0.62" stop-color="#707070"/><stop offset="0.75" stop-color="#787878"/><stop offset="0.82" stop-color="#7d7d7d"/><stop offset="0.90" stop-color="#858585"/><stop offset="0.96" stop-color="#878787"/><stop offset="1.00" stop-color="#8c8c8c"/></linearGradient>
<linearGradient id="p167" x1="0" y1="0" x2="0" y2="1"><stop offset="0.00" stop-color="#545454"/><stop offset="0.12" stop-color="#575757"/><stop offset="0.25" stop-color="#5c5c5c"/><stop offset="0.38" stop-color="#616161"/><stop offset="0.50" stop-color="#696969"/><stop offset="0.62" stop-color="#707070"/><stop offset="0.75" stop-color="#787878"/><stop offset="0.82" stop-color="#7d7d7d"/><stop offset="0.90" stop-color="#858585"/><stop offset="0.96" stop-color="#878787"/><stop offset="1.00" stop-color="#8c8c8c"/></linearGradient>
<linearGradient id="p168" x1="0" y1="0" x2="0" y2="1"><stop offset="0.00" stop-color="#545454"/><stop offset="0.12" stop-color="#575757"/><stop offset="0.25" stop-color="#5c5c5c"/><stop offset="0.38" stop-color="#616161"/><stop offset="0.50" stop-color="#696969"/><stop offset="0.62" stop-color="#707070"/><stop offset="0.75" stop-color="#787878"/><stop offset="0.82" stop-color="#7d7d7d"/><stop offset="0.90" stop-color="#858585"/><stop offset="0.96" stop-color="#878787"/><stop offset="1.00" stop-color="#8c8c8c"/></linearGradient>
<linearGradient id="p169" x1="0" y1="0" x2="0" y2="1"><stop offset="0.00" stop-color="#545454"/><stop offset="0.12" stop-color="#575757"/><stop offset="0.25" stop-color="#5c5c5c"/><stop offset="0.38" stop-color="#616161"/><stop offset="0.50" stop-color="#696969"/><stop offset="0.62" stop-color="#707070"/><stop offset="0.75" stop-color="#787878"/><stop offset="0.82" stop-color="#7d7d7d"/><stop offset="0.90" stop-color="#858585"/><stop offset="0.96" stop-color="#878787"/><stop offset="1.00" stop-color="#8c8c8c"/></linearGradient>
<linearGradient id="p170" x1="0" y1="0" x2="0" y2="1"><stop offset="0.00" stop-color="#545454"/><stop offset="0.12" stop-color="#575757"/><stop offset="0.25" stop-color="#5c5c5c"/><stop offset="0.38" stop-color="#616161"/><stop offset="0.50" stop-color="#696969"/><stop offset="0.62" stop-color="#707070"/><stop offset="0.75" stop-color="#787878"/><stop offset="0.82" stop-color="#7d7d7d"/><stop offset="0.90" stop-color="#858585"/><stop offset="0.96" stop-color="#878787"/><stop offset="1.00" stop-color="#8c8c8c"/></linearGradient>
<linearGradient id="p171" x1="0" y1="0" x2="0" y2="1"><stop offset="0.00" stop-color="#545454"/><stop offset="0.12" stop-color="#575757"/><stop offset="0.25" stop-color="#5c5c5c"/><stop offset="0.38" stop-color="#616161"/><stop offset="0.50" stop-color="#696969"/><stop offset="0.62" stop-color="#707070"/><stop offset="0.75" stop-color="#787878"/><stop offset="0.82" stop-color="#7d7d7d"/><stop offset="0.90" stop-color="#858585"/><stop offset="0.96" stop-color="#878787"/><stop offset="1.00" stop-color="#8c8c8c"/></linearGradient>
<linearGradient id="p172" x1="0" y1="0" x2="0" y2="1"><stop offset="0.00" stop-color="#545454"/><stop offset="0.12" stop-color="#575757"/><stop offset="0.25" stop-color="#5c5c5c"/><stop offset="0.38" stop-color="#616161"/><stop offset="0.50" stop-color="#696969"/><stop offset="0.62" stop-color="#707070"/><stop offset="0.75" stop-color="#787878"/><stop offset="0.82" stop-color="#7d7d7d"/><stop offset="0.90" stop-color="#858585"/><stop offset="0.96" stop-color="#878787"/><stop offset="1.00" stop-color="#8c8c8c"/></linearGradient>
<linearGradient id="p173" x1="0" y1="0" x2="0" y2="1"><stop offset="0.00" stop-color="#545454"/><stop offset="0.12" stop-color="#575757"/><stop offset="0.25" stop-color="#5c5c5c"/><stop offset="0.38" stop-color="#616161"/><stop offset="0.50" stop-color="#696969"/><stop offset="0.62" stop-color="#707070"/><stop offset="0.75" stop-color="#787878"/><stop offset="0.82" stop-color="#7d7d7d"/><stop offset="0.90" stop-color="#858585"/><stop offset="0.96" stop-color="#878787"/><stop offset="1.00" stop-color="#8c8c8c"/></linearGradient>
<linearGradient id="p174" x1="0" y1="0" x2="0" y2="1"><stop offset="0.00" stop-color="#545454"/><stop offset="0.12" stop-color="#575757"/><stop offset="0.25" stop-color="#5c5c5c"/><stop offset="0.38" stop-color="#616161"/><stop offset="0.50" stop-color="#696969"/><stop offset="0.62" stop-color="#707070"/><stop offset="0.75" stop-color="#787878"/><stop offset="0.82" stop-color="#7d7d7d"/><stop offset="0.90" stop-color="#858585"/><stop offset="0.96" stop-color="#878787"/><stop offset="1.00" stop-color="#8c8c8c"/></linearGradient>
<linearGradient id="p175" x1="0" y1="0" x2="0" y2="1"><stop offset="0.00" stop-color="#545454"/><stop offset="0.12" stop-color="#575757"/><stop offset="0.25" stop-color="#5c5c5c"/><stop offset="0.38" stop-color="#616161"/><stop offset="0.50" stop-color="#696969"/><stop offset="0.62" stop-color="#707070"/><stop offset="0.75" stop-color="#787878"/><stop offset="0.82" stop-color="#7d7d7d"/><stop offset="0.90" stop-color="#858585"/><stop offset="0.96" stop-color="#878787"/><stop offset="1.00" stop-color="#8c8c8c"/></linearGradient>
<linearGradient id="p176" x1="0" y1="0" x2="0" y2="1"><stop offset="0.00" stop-color="#545454"/><stop offset="0.12" stop-color="#575757"/><stop offset="0.25" stop-color="#5c5c5c"/><stop offset="0.38" stop-color="#616161"/><stop offset="0.50" stop-color="#696969"/><stop offset="0.62" stop-color="#707070"/><stop offset="0.75" stop-color="#787878"/><stop offset="0.82" stop-color="#7d7d7d"/><stop offset="0.90" stop-color="#858585"/><stop offset="0.96" stop-color="#878787"/><stop offset="1.00" stop-color="#8c8c8c"/></linearGradient>
<linearGradient id="p177" x1="0" y1="0" x2="0" y2="1"><stop offset="0.00" stop-color="#545454"/><stop offset="0.12" stop-color="#575757"/><stop offset="0.25" stop-color="#5c5c5c"/><stop offset="0.38" stop-color="#616161"/><stop offset="0.50" stop-color="#696969"/><stop offset="0.62" stop-color="#707070"/><stop offset="0.75" stop-color="#787878"/><stop offset="0.82" stop-color="#7d7d7d"/><stop offset="0.90" stop-color="#858585"/><stop offset="0.96" stop-color="#878787"/><stop offset="1.00" stop-color="#8c8c8c"/></linearGradient>
<linearGradient id="p178" x1="0" y1="0" x2="0" y2="1"><stop offset="0.00" stop-color="#545454"/><stop offset="0.12" stop-color="#575757"/><stop offset="0.25" stop-color="#5c5c5c"/><stop offset="0.38" stop-color="#616161"/><stop offset="0.50" stop-color="#696969"/><stop offset="0.62" stop-color="#707070"/><stop offset="0.75" stop-color="#787878"/><stop offset="0.82" stop-color="#7d7d7d"/><stop offset="0.90" stop-color="#858585"/><stop offset="0.96" stop-color="#878787"/><stop offset="1.00" stop-color="#8c8c8c"/></linearGradient>
<linearGradient id="p179" x1="0" y1="0" x2="0" y2="1"><stop offset="0.00" stop-color="#545454"/><stop offset="0.12" stop-color="#575757"/><stop offset="0.25" stop-color="#5c5c5c"/><stop offset="0.38" stop-color="#616161"/><stop offset="0.50" stop-color="#696969"/><stop offset="0.62" stop-color="#707070"/><stop offset="0.75" stop-color="#787878"/><stop offset="0.82" stop-color="#7d7d7d"/><stop offset="0.90" stop-color="#858585"/><stop offset="0.96" stop-color="#878787"/><stop offset="1.00" stop-color="#8c8c8c"/></linearGradient>
<linearGradient id="p180" x1="0" y1="0" x2="0" y2="1"><stop offset="0.00" stop-color="#545454"/><stop offset="0.12" stop-color="#575757"/><stop offset="0.25" stop-color="#5c5c5c"/><stop offset="0.38" stop-color="#616161"/><stop offset="0.50" stop-color="#696969"/><stop offset="0.62" stop-color="#707070"/><stop offset="0.75" stop-color="#787878"/><stop offset="0.82" stop-color="#7d7d7d"/><stop offset="0.90" stop-color="#858585"/><stop offset="0.96" stop-color="#878787"/><stop offset="1.00" stop-color="#8c8c8c"/></linearGradient>
<linearGradient id="p181" x1="0" y1="0" x2="0" y2="1"><stop offset="0.00" stop-color="#545454"/><stop offset="0.12" stop-color="#575757"/><stop offset="0.25" stop-color="#5c5c5c"/><stop offset="0.38" stop-color="#616161"/><stop offset="0.50" stop-color="#696969"/><stop offset="0.62" stop-color="#707070"/><stop offset="0.75" stop-color="#787878"/><stop offset="0.82" stop-color="#7d7d7d"/><stop offset="0.90" stop-color="#858585"/><stop offset="0.96" stop-color="#878787"/><stop offset="1.00" stop-color="#8c8c8c"/></linearGradient>
<linearGradient id="p182" x1="0" y1="0" x2="0" y2="1"><stop offset="0.00" stop-color="#545454"/><stop offset="0.12" stop-color="#575757"/><stop offset="0.25" stop-color="#5c5c5c"/><stop offset="0.38" stop-color="#616161"/><stop offset="0.50" stop-color="#696969"/><stop offset="0.62" stop-color="#707070"/><stop offset="0.75" stop-color="#787878"/><stop offset="0.82" stop-color="#7d7d7d"/><stop offset="0.90" stop-color="#858585"/><stop offset="0.96" stop-color="#878787"/><stop offset="1.00" stop-color="#8c8c8c"/></linearGradient>
<linearGradient id="p183" x1="0" y1="0" x2="0" y2="1"><stop offset="0.00" stop-color="#545454"/><stop offset="0.12" stop-color="#575757"/><stop offset="0.25" stop-color="#5c5c5c"/><stop offset="0.38" stop-color="#616161"/><stop offset="0.50" stop-color="#696969"/><stop offset="0.62" stop-color="#707070"/><stop offset="0.75" stop-color="#787878"/><stop offset="0.82" stop-color="#7d7d7d"/><stop offset="0.90" stop-color="#858585"/><stop offset="0.96" stop-color="#878787"/><stop offset="1.00" stop-color="#8c8c8c"/></linearGradient>
<linearGradient id="p184" x1="0" y1="0" x2="0" y2="1"><stop offset="0.00" stop-color="#545454"/><stop offset="0.12" stop-color="#575757"/><stop offset="0.25" stop-color="#5c5c5c"/><stop offset="0.38" stop-color="#616161"/><stop offset="0.50" stop-color="#696969"/><stop offset="0.62" stop-color="#707070"/><stop offset="0.75" stop-color="#787878"/><stop offset="0.82" stop-color="#7d7d7d"/><stop offset="0.90" stop-color="#858585"/><stop offset="0.96" stop-color="#878787"/><stop offset="1.00" stop-color="#8c8c8c"/></linearGradient>
<linearGradient id="p185" x1="0" y1="0" x2="0" y2="1"><stop offset="0.00" stop-color="#545454"/><stop offset="0.12" stop-color="#575757"/><stop offset="0.25" stop-color="#5c5c5c"/><stop offset="0.38" stop-color="#616161"/><stop offset="0.50" stop-color="#696969"/><stop offset="0.62" stop-color="#707070"/><stop offset="0.75" stop-color="#787878"/><stop offset="0.82" stop-color="#7d7d7d"/><stop offset="0.90" stop-color="#858585"/><stop offset="0.96" stop-color="#878787"/><stop offset="1.00" stop-color="#8c8c8c"/></linearGradient>
<linearGradient id="p186" x1="0" y1="0" x2="0" y2="1"><stop offset="0.00" stop-color="#545454"/><stop offset="0.12" stop-color="#575757"/><stop offset="0.25" stop-color="#5c5c5c"/><stop offset="0.38" stop-color="#616161"/><stop offset="0.50" stop-color="#696969"/><stop offset="0.62" stop-color="#707070"/><stop offset="0.75" stop-color="#787878"/><stop offset="0.82" stop-color="#7d7d7d"/><stop offset="0.90" stop-color="#858585"/><stop offset="0.96" stop-color="#878787"/><stop offset="1.00" stop-color="#8d8d8d"/></linearGradient>
<linearGradient id="p187" x1="0" y1="0" x2="0" y2="1"><stop offset="0.00" stop-color="#545454"/><stop offset="0.12" stop-color="#575757"/><stop offset="0.25" stop-color="#5c5c5c"/><stop offset="0.38" stop-color="#616161"/><stop offset="0.50" stop-color="#696969"/><stop offset="0.62" stop-color="#717171"/><stop offset="0.75" stop-color="#787878"/><stop offset="0.82" stop-color="#7d7d7d"/><stop offset="0.90" stop-color="#858585"/><stop offset="0.96" stop-color="#888888"/><stop offset="1.00" stop-color="#8d8d8d"/></linearGradient>
<linearGradient id="p188" x1="0" y1="0" x2="0" y2="1"><stop offset="0.00" stop-color="#545454"/><stop offset="0.12" stop-color="#575757"/><stop offset="0.25" stop-color="#5c5c5c"/><stop offset="0.38" stop-color="#626262"/><stop offset="0.50" stop-color="#696969"/><stop offset="0.62" stop-color="#717171"/><stop offset="0.75" stop-color="#787878"/><stop offset="0.82" stop-color="#7e7e7e"/><stop offset="0.90" stop-color="#858585"/><stop offset="0.96" stop-color="#888888"/><stop offset="1.00" stop-color="#8d8d8d"/></linearGradient>
<linearGradient id="p189" x1="0" y1="0" x2="0" y2="1"><stop offset="0.00" stop-color="#545454"/><stop offset="0.12" stop-color="#575757"/><stop offset="0.25" stop-color="#5c5c5c"/><stop offset="0.38" stop-color="#626262"/><stop offset="0.50" stop-color="#696969"/><stop offset="0.62" stop-color="#717171"/><stop offset="0.75" stop-color="#797979"/><stop offset="0.82" stop-color="#7e7e7e"/><stop offset="0.90" stop-color="#858585"/><stop offset="0.96" stop-color="#888888"/><stop offset="1.00" stop-color="#8d8d8d"/></linearGradient>
<linearGradient id="p190" x1="0" y1="0" x2="0" y2="1"><stop offset="0.00" stop-color="#545454"/><stop offset="0.12" stop-color="#575757"/><stop offset="0.25" stop-color="#5c5c5c"/><stop offset="0.38" stop-color="#626262"/><stop offset="0.50" stop-color="#6a6a6a"/><stop offset="0.62" stop-color="#717171"/><stop offset="0.75" stop-color="#797979"/><stop offset="0.82" stop-color="#7e7e7e"/><stop offset="0.90" stop-color="#868686"/><stop offset="0.96" stop-color="#888888"/><stop offset="1.00" stop-color="#8d8d8d"/></linearGradient>
<linearGradient id="p191" x1="0" y1="0" x2="0" y2="1"><stop offset="0.00" stop-color="#545454"/><stop offset="0.12" stop-color="#575757"/><stop offset="0.25" stop-color="#5c5c5c"/><stop offset="0.38" stop-color="#626262"/><stop offset="0.50" stop-color="#6a6a6a"/><stop offset="0.62" stop-color="#727272"/><stop offset="0.75" stop-color="#797979"/><stop offset="0.82" stop-color="#7e7e7e"/><stop offset="0.90" stop-color="#868686"/><stop offset="0.96" stop-color="#888888"/><stop offset="1.00" stop-color="#8e8e8e"/></linearGradient>
<linearGradient id="p192" x1="0" y1="0" x2="0" y2="1"><stop offset="0.00" stop-color="#545454"/><stop offset="0.12" stop-color="#575757"/><stop offset="0.25" stop-color="#5c5c5c"/><stop offset="0.38" stop-color="#626262"/><stop offset="0.50" stop-color="#6a6a6a"/><stop offset="0.62" stop-color="#727272"/><stop offset="0.75" stop-color="#797979"/><stop offset="0.82" stop-color="#7f7f7f"/><stop offset="0.90" stop-color="#868686"/><stop offset="0.96" stop-color="#898989"/><stop offset="1.00" stop-color="#8e8e8e"/></linearGradient>
<linearGradient id="p193" x1="0" y1="0" x2="0" y2="1"><stop offset="0.00" stop-color="#545454"/><stop offset="0.12" stop-color="#575757"/><stop offset="0.25" stop-color="#5c5c5c"/><stop offset="0.38" stop-color="#636363"/><stop offset="0.50" stop-color="#6a6a6a"/><stop offset="0.62" stop-color="#727272"/><stop offset="0.75" stop-color="#7a7a7a"/><stop offset="0.82" stop-color="#7f7f7f"/><stop offset="0.90" stop-color="#868686"/><stop offset="0.96" stop-color="#898989"/><stop offset="1.00" stop-color="#8e8e8e"/></linearGradient>
<linearGradient id="p194" x1="0" y1="0" x2="0" y2="1"><stop offset="0.00" stop-color="#545454"/><stop offset="0.12" stop-color="#575757"/><stop offset="0.25" stop-color="#5c5c5c"/><stop offset="0.38" stop-color="#636363"/><stop offset="0.50" stop-color="#6b6b6b"/><stop offset="0.62" stop-color="#727272"/><stop offset="0.75" stop-color="#7a7a7a"/><stop offset="0.82" stop-color="#7f7f7f"/><stop offset="0.90" stop-color="#878787"/><stop offset="0.96" stop-color="#898989"/><stop offset="1.00" stop-color="#8e8e8e"/></linearGradient>
<linearGradient id="p195" x1="0" y1="0" x2="0" y2="1"><stop offset="0.00" stop-color="#545454"/><stop offset="0.12" stop-color="#575757"/><stop offset="0.25" stop-color="#5c5c5c"/><stop offset="0.38" stop-color="#636363"/><stop offset="0.50" stop-color="#6b6b6b"/><stop offset="0.62" stop-color="#727272"/><stop offset="0.75" stop-color="#7a7a7a"/><stop offset="0.82" stop-color="#7f7f7f"/><stop offset="0.90" stop-color="#878787"/><stop offset="0.96" stop-color="#898989"/><stop offset="1.00" stop-color="#8e8e8e"/></linearGradient>
<linearGradient id="p196" x1="0" y1="0" x2="0" y2="1"><stop offset="0.00" stop-color="#545454"/><stop offset="0.12" stop-color="#575757"/><stop offset="0.25" stop-color="#5c5c5c"/><stop offset="0.38" stop-color="#636363"/><stop offset="0.50" stop-color="#6b6b6b"/><stop offset="0.62" stop-color="#737373"/><stop offset="0.75" stop-color="#7a7a7a"/><stop offset="0.82" stop-color="#7f7f7f"/><stop offset="0.90" stop-color="#878787"/><stop offset="0.96" stop-color="#8a8a8a"/><stop offset="1.00" stop-color="#8f8f8f"/></linearGradient>
<linearGradient id="p197" x1="0" y1="0" x2="0" y2="1"><stop offset="0.00" stop-color="#545454"/><stop offset="0.12" stop-color="#575757"/><stop offset="0.25" stop-color="#5c5c5c"/><stop offset="0.38" stop-color="#636363"/><stop offset="0.50" stop-color="#6b6b6b"/><stop offset="0.62" stop-color="#737373"/><stop offset="0.75" stop-color="#7a7a7a"/><stop offset="0.82" stop-color="#7f7f7f"/><stop offset="0.90" stop-color="#878787"/><stop offset="0.96" stop-color="#8a8a8a"/><stop offset="1.00" stop-color="#8f8f8f"/></linearGradient>
<linearGradient id="p198" x1="0" y1="0" x2="0" y2="1"><stop offset="0.00" stop-color="#545454"/><stop offset="0.12" stop-color="#575757"/><stop offset="0.25" stop-color="#5c5c5c"/><stop offset="0.38" stop-color="#636363"/><stop offset="0.50" stop-color="#6b6b6b"/><stop offset="0.62" stop-color="#737373"/><stop offset="0.75" stop-color="#7a7a7a"/><stop offset="0.82" stop-color="#7f7f7f"/><stop offset="0.90" stop-color="#878787"/><stop offset="0.96" stop-color="#8a8a8a"/><stop offset="1.00" stop-color="#8f8f8f"/></linearGradient>
<linearGradient id="glow545233" x1="0" y1="1" x2="0" y2="0"><stop offset="0" stop-color="#9e9e9e" stop-opacity="0.3"/><stop offset="1" stop-color="#9e9e9e" stop-opacity="0"/></linearGradient>
<filter id="pfp2" filterUnits="userSpaceOnUse" x="165" y="367.0" width="990" height="161.0" color-interpolation-filters="sRGB"><feTurbulence type="fractalNoise" baseFrequency="0.80" numOctaves="2" seed="9" result="n"/><feColorMatrix in="n" type="matrix" values="1 0 0 0 0  1 0 0 0 0  1 0 0 0 0  0 0 0 0 1" result="ng"/><feComposite in="SourceGraphic" in2="ng" operator="arithmetic" k1="0" k2="1" k3="0.650" k4="-0.325" result="v"/><feComponentTransfer in="v"><feFuncR type="table" tableValues="0.2431 0.2510 0.2588 0.2667 0.2745 0.2745 0.2667 0.2588 0.2510 0.2392 0.2196 0.2000 0.1804 0.1608 0.1333 0.1059 0.0784 0.0510 0.0392 0.0745 0.1098 0.1490 0.1843 0.2471 0.3176 0.3882 0.4588 0.5412 0.6431 0.7255 0.7922 0.8549 0.9098 0.9608 0.9843 0.9843 0.9882 0.9843 0.9804 0.9804 0.9765"/><feFuncG type="table" tableValues="0.1490 0.1765 0.2078 0.2353 0.2667 0.2980 0.3333 0.3686 0.4039 0.4392 0.4745 0.5098 0.5412 0.5765 0.6078 0.6353 0.6627 0.6902 0.7137 0.7294 0.7451 0.7569 0.7725 0.7804 0.7843 0.7922 0.7961 0.7922 0.7725 0.7569 0.7490 0.7412 0.7373 0.7333 0.7529 0.7922 0.8275 0.8667 0.9059 0.9451 0.9843"/><feFuncB type="table" tableValues="0.6588 0.7176 0.7765 0.8353 0.8941 0.9333 0.9490 0.9647 0.9843 0.9961 0.9804 0.9647 0.9451 0.9255 0.9059 0.8824 0.8588 0.8353 0.8078 0.7647 0.7216 0.6745 0.6314 0.5765 0.5137 0.4510 0.3882 0.3294 0.2627 0.2157 0.1882 0.1647 0.1882 0.2157 0.2157 0.2000 0.1765 0.1529 0.1294 0.1059 0.0824"/></feComponentTransfer></filter>
<linearGradient id="p20" x1="0" y1="0" x2="0" y2="1"><stop offset="0.00" stop-color="#121212"/><stop offset="0.12" stop-color="#171717"/><stop offset="0.25" stop-color="#1f1f1f"/><stop offset="0.38" stop-color="#262626"/><stop offset="0.50" stop-color="#303030"/><stop offset="0.62" stop-color="#3b3b3b"/><stop offset="0.75" stop-color="#454545"/><stop offset="0.82" stop-color="#4a4a4a"/><stop offset="0.90" stop-color="#4f4f4f"/><stop offset="0.96" stop-color="#545454"/><stop offset="1.00" stop-color="#575757"/></linearGradient>
<linearGradient id="p21" x1="0" y1="0" x2="0" y2="1"><stop offset="0.00" stop-color="#121212"/><stop offset="0.12" stop-color="#171717"/><stop offset="0.25" stop-color="#1e1e1e"/><stop offset="0.38" stop-color="#262626"/><stop offset="0.50" stop-color="#303030"/><stop offset="0.62" stop-color="#3a3a3a"/><stop offset="0.75" stop-color="#454545"/><stop offset="0.82" stop-color="#4a4a4a"/><stop offset="0.90" stop-color="#4f4f4f"/><stop offset="0.96" stop-color="#545454"/><stop offset="1.00" stop-color="#565656"/></linearGradient>
<linearGradient id="p22" x1="0" y1="0" x2="0" y2="1"><stop offset="0.00" stop-color="#111111"/><stop offset="0.12" stop-color="#161616"/><stop offset="0.25" stop-color="#1e1e1e"/><stop offset="0.38" stop-color="#262626"/><stop offset="0.50" stop-color="#303030"/><stop offset="0.62" stop-color="#3a3a3a"/><stop offset="0.75" stop-color="#444444"/><stop offset="0.82" stop-color="#494949"/><stop offset="0.90" stop-color="#4f4f4f"/><stop offset="0.96" stop-color="#545454"/><stop offset="1.00" stop-color="#565656"/></linearGradient>
<linearGradient id="p23" x1="0" y1="0" x2="0" y2="1"><stop offset="0.00" stop-color="#111111"/><stop offset="0.12" stop-color="#161616"/><stop offset="0.25" stop-color="#1e1e1e"/><stop offset="0.38" stop-color="#252525"/><stop offset="0.50" stop-color="#303030"/><stop offset="0.62" stop-color="#3a3a3a"/><stop offset="0.75" stop-color="#444444"/><stop offset="0.82" stop-color="#494949"/><stop offset="0.90" stop-color="#4e4e4e"/><stop offset="0.96" stop-color="#535353"/><stop offset="1.00" stop-color="#565656"/></linearGradient>
<linearGradient id="p24" x1="0" y1="0" x2="0" y2="1"><stop offset="0.00" stop-color="#101010"/><stop offset="0.12" stop-color="#161616"/><stop offset="0.25" stop-color="#1d1d1d"/><stop offset="0.38" stop-color="#252525"/><stop offset="0.50" stop-color="#2f2f2f"/><stop offset="0.62" stop-color="#393939"/><stop offset="0.75" stop-color="#434343"/><stop offset="0.82" stop-color="#494949"/><stop offset="0.90" stop-color="#4e4e4e"/><stop offset="0.96" stop-color="#535353"/><stop offset="1.00" stop-color="#555555"/></linearGradient>
<linearGradient id="p25" x1="0" y1="0" x2="0" y2="1"><stop offset="0.00" stop-color="#101010"/><stop offset="0.12" stop-color="#151515"/><stop offset="0.25" stop-color="#1d1d1d"/><stop offset="0.38" stop-color="#242424"/><stop offset="0.50" stop-color="#2f2f2f"/><stop offset="0.62" stop-color="#393939"/><stop offset="0.75" stop-color="#434343"/><stop offset="0.82" stop-color="#484848"/><stop offset="0.90" stop-color="#4d4d4d"/><stop offset="0.96" stop-color="#525252"/><stop offset="1.00" stop-color="#555555"/></linearGradient>
<linearGradient id="p26" x1="0" y1="0" x2="0" y2="1"><stop offset="0.00" stop-color="#101010"/><stop offset="0.12" stop-color="#151515"/><stop offset="0.25" stop-color="#1c1c1c"/><stop offset="0.38" stop-color="#242424"/><stop offset="0.50" stop-color="#2e2e2e"/><stop offset="0.62" stop-color="#383838"/><stop offset="0.75" stop-color="#434343"/><stop offset="0.82" stop-color="#484848"/><stop offset="0.90" stop-color="#4d4d4d"/><stop offset="0.96" stop-color="#525252"/><stop offset="1.00" stop-color="#555555"/></linearGradient>
<linearGradient id="p27" x1="0" y1="0" x2="0" y2="1"><stop offset="0.00" stop-color="#0f0f0f"/><stop offset="0.12" stop-color="#141414"/><stop offset="0.25" stop-color="#1c1c1c"/><stop offset="0.38" stop-color="#242424"/><stop offset="0.50" stop-color="#2e2e2e"/><stop offset="0.62" stop-color="#383838"/><stop offset="0.75" stop-color="#424242"/><stop offset="0.82" stop-color="#474747"/><stop offset="0.90" stop-color="#4d4d4d"/><stop offset="0.96" stop-color="#525252"/><stop offset="1.00" stop-color="#545454"/></linearGradient>
<linearGradient id="p28" x1="0" y1="0" x2="0" y2="1"><stop offset="0.00" stop-color="#0f0f0f"/><stop offset="0.12" stop-color="#141414"/><stop offset="0.25" stop-color="#1c1c1c"/><stop offset="0.38" stop-color="#242424"/><stop offset="0.50" stop-color="#2e2e2e"/><stop offset="0.62" stop-color="#383838"/><stop offset="0.75" stop-color="#424242"/><stop offset="0.82" stop-color="#474747"/><stop offset="0.90" stop-color="#4c4c4c"/><stop offset="0.96" stop-color="#525252"/><stop offset="1.00" stop-color="#545454"/></linearGradient>
<linearGradient id="p29" x1="0" y1="0" x2="0" y2="1"><stop offset="0.00" stop-color="#0f0f0f"/><stop offset="0.12" stop-color="#141414"/><stop offset="0.25" stop-color="#1c1c1c"/><stop offset="0.38" stop-color="#242424"/><stop offset="0.50" stop-color="#2e2e2e"/><stop offset="0.62" stop-color="#383838"/><stop offset="0.75" stop-color="#424242"/><stop offset="0.82" stop-color="#474747"/><stop offset="0.90" stop-color="#4c4c4c"/><stop offset="0.96" stop-color="#515151"/><stop offset="1.00" stop-color="#545454"/></linearGradient>
<linearGradient id="p210" x1="0" y1="0" x2="0" y2="1"><stop offset="0.00" stop-color="#0f0f0f"/><stop offset="0.12" stop-color="#141414"/><stop offset="0.25" stop-color="#1c1c1c"/><stop offset="0.38" stop-color="#232323"/><stop offset="0.50" stop-color="#2e2e2e"/><stop offset="0.62" stop-color="#383838"/><stop offset="0.75" stop-color="#424242"/><stop offset="0.82" stop-color="#474747"/><stop offset="0.90" stop-color="#4c4c4c"/><stop offset="0.96" stop-color="#515151"/><stop offset="1.00" stop-color="#545454"/></linearGradient>
<linearGradient id="p211" x1="0" y1="0" x2="0" y2="1"><stop offset="0.00" stop-color="#0f0f0f"/><stop offset="0.12" stop-color="#141414"/><stop offset="0.25" stop-color="#1b1b1b"/><stop offset="0.38" stop-color="#232323"/><stop offset="0.50" stop-color="#2d2d2d"/><stop offset="0.62" stop-color="#373737"/><stop offset="0.75" stop-color="#414141"/><stop offset="0.82" stop-color="#474747"/><stop offset="0.90" stop-color="#4c4c4c"/><stop offset="0.96" stop-color="#515151"/><stop offset="1.00" stop-color="#535353"/></linearGradient>
<linearGradient id="p212" x1="0" y1="0" x2="0" y2="1"><stop offset="0.00" stop-color="#0f0f0f"/><stop offset="0.12" stop-color="#141414"/><stop offset="0.25" stop-color="#1b1b1b"/><stop offset="0.38" stop-color="#222222"/><stop offset="0.50" stop-color="#2d2d2d"/><stop offset="0.62" stop-color="#373737"/><stop offset="0.75" stop-color="#414141"/><stop offset="0.82" stop-color="#464646"/><stop offset="0.90" stop-color="#4b4b4b"/><stop offset="0.96" stop-color="#505050"/><stop offset="1.00" stop-color="#535353"/></linearGradient>
<linearGradient id="p213" x1="0" y1="0" x2="0" y2="1"><stop offset="0.00" stop-color="#0f0f0f"/><stop offset="0.12" stop-color="#141414"/><stop offset="0.25" stop-color="#1a1a1a"/><stop offset="0.38" stop-color="#222222"/><stop offset="0.50" stop-color="#2c2c2c"/><stop offset="0.62" stop-color="#363636"/><stop offset="0.75" stop-color="#414141"/><stop offset="0.82" stop-color="#464646"/><stop offset="0.90" stop-color="#4b4b4b"/><stop offset="0.96" stop-color="#505050"/><stop offset="1.00" stop-color="#525252"/></linearGradient>
<linearGradient id="p214" x1="0" y1="0" x2="0" y2="1"><stop offset="0.00" stop-color="#0f0f0f"/><stop offset="0.12" stop-color="#141414"/><stop offset="0.25" stop-color="#1a1a1a"/><stop offset="0.38" stop-color="#222222"/><stop offset="0.50" stop-color="#2c2c2c"/><stop offset="0.62" stop-color="#363636"/><stop offset="0.75" stop-color="#404040"/><stop offset="0.82" stop-color="#454545"/><stop offset="0.90" stop-color="#4a4a4a"/><stop offset="0.96" stop-color="#4f4f4f"/><stop offset="1.00" stop-color="#525252"/></linearGradient>
<linearGradient id="p215" x1="0" y1="0" x2="0" y2="1"><stop offset="0.00" stop-color="#0f0f0f"/><stop offset="0.12" stop-color="#141414"/><stop offset="0.25" stop-color="#1a1a1a"/><stop offset="0.38" stop-color="#212121"/><stop offset="0.50" stop-color="#2b2b2b"/><stop offset="0.62" stop-color="#363636"/><stop offset="0.75" stop-color="#404040"/><stop offset="0.82" stop-color="#454545"/><stop offset="0.90" stop-color="#4a4a4a"/><stop offset="0.96" stop-color="#4f4f4f"/><stop offset="1.00" stop-color="#525252"/></linearGradient>
<linearGradient id="p216" x1="0" y1="0" x2="0" y2="1"><stop offset="0.00" stop-color="#0f0f0f"/><stop offset="0.12" stop-color="#141414"/><stop offset="0.25" stop-color="#1a1a1a"/><stop offset="0.38" stop-color="#212121"/><stop offset="0.50" stop-color="#2b2b2b"/><stop offset="0.62" stop-color="#363636"/><stop offset="0.75" stop-color="#404040"/><stop offset="0.82" stop-color="#454545"/><stop offset="0.90" stop-color="#4a4a4a"/><stop offset="0.96" stop-color="#4f4f4f"/><stop offset="1.00" stop-color="#525252"/></linearGradient>
<linearGradient id="p217" x1="0" y1="0" x2="0" y2="1"><stop offset="0.00" stop-color="#0f0f0f"/><stop offset="0.12" stop-color="#141414"/><stop offset="0.25" stop-color="#191919"/><stop offset="0.38" stop-color="#212121"/><stop offset="0.50" stop-color="#2b2b2b"/><stop offset="0.62" stop-color="#353535"/><stop offset="0.75" stop-color="#404040"/><stop offset="0.82" stop-color="#454545"/><stop offset="0.90" stop-color="#4a4a4a"/><stop offset="0.96" stop-color="#4f4f4f"/><stop offset="1.00" stop-color="#525252"/></linearGradient>
<linearGradient id="p218" x1="0" y1="0" x2="0" y2="1"><stop offset="0.00" stop-color="#0f0f0f"/><stop offset="0.12" stop-color="#141414"/><stop offset="0.25" stop-color="#191919"/><stop offset="0.38" stop-color="#212121"/><stop offset="0.50" stop-color="#2b2b2b"/><stop offset="0.62" stop-color="#353535"/><stop offset="0.75" stop-color="#3f3f3f"/><stop offset="0.82" stop-color="#454545"/><stop offset="0.90" stop-color="#4a4a4a"/><stop offset="0.96" stop-color="#4f4f4f"/><stop offset="1.00" stop-color="#515151"/></linearGradient>
<linearGradient id="p219" x1="0" y1="0" x2="0" y2="1"><stop offset="0.00" stop-color="#0f0f0f"/><stop offset="0.12" stop-color="#141414"/><stop offset="0.25" stop-color="#191919"/><stop offset="0.38" stop-color="#202020"/><stop offset="0.50" stop-color="#2b2b2b"/><stop offset="0.62" stop-color="#353535"/><stop offset="0.75" stop-color="#3f3f3f"/><stop offset="0.82" stop-color="#444444"/><stop offset="0.90" stop-color="#494949"/><stop offset="0.96" stop-color="#4e4e4e"/><stop offset="1.00" stop-color="#515151"/></linearGradient>
<linearGradient id="p220" x1="0" y1="0" x2="0" y2="1"><stop offset="0.00" stop-color="#0f0f0f"/><stop offset="0.12" stop-color="#131313"/><stop offset="0.25" stop-color="#181818"/><stop offset="0.38" stop-color="#202020"/><stop offset="0.50" stop-color="#2a2a2a"/><stop offset="0.62" stop-color="#343434"/><stop offset="0.75" stop-color="#3f3f3f"/><stop offset="0.82" stop-color="#444444"/><stop offset="0.90" stop-color="#494949"/><stop offset="0.96" stop-color="#4e4e4e"/><stop offset="1.00" stop-color="#515151"/></linearGradient>
<linearGradient id="p221" x1="0" y1="0" x2="0" y2="1"><stop offset="0.00" stop-color="#0f0f0f"/><stop offset="0.12" stop-color="#131313"/><stop offset="0.25" stop-color="#181818"/><stop offset="0.38" stop-color="#202020"/><stop offset="0.50" stop-color="#2a2a2a"/><stop offset="0.62" stop-color="#343434"/><stop offset="0.75" stop-color="#3e3e3e"/><stop offset="0.82" stop-color="#434343"/><stop offset="0.90" stop-color="#484848"/><stop offset="0.96" stop-color="#4e4e4e"/><stop offset="1.00" stop-color="#505050"/></linearGradient>
<linearGradient id="p222" x1="0" y1="0" x2="0" y2="1"><stop offset="0.00" stop-color="#0f0f0f"/><stop offset="0.12" stop-color="#131313"/><stop offset="0.25" stop-color="#181818"/><stop offset="0.38" stop-color="#1f1f1f"/><stop offset="0.50" stop-color="#292929"/><stop offset="0.62" stop-color="#343434"/><stop offset="0.75" stop-color="#3e3e3e"/><stop offset="0.82" stop-color="#434343"/><stop offset="0.90" stop-color="#484848"/><stop offset="0.96" stop-color="#4d4d4d"/><stop offset="1.00" stop-color="#505050"/></linearGradient>
<linearGradient id="p223" x1="0" y1="0" x2="0" y2="1"><stop offset="0.00" stop-color="#0f0f0f"/><stop offset="0.12" stop-color="#121212"/><stop offset="0.25" stop-color="#171717"/><stop offset="0.38" stop-color="#1f1f1f"/><stop offset="0.50" stop-color="#292929"/><stop offset="0.62" stop-color="#333333"/><stop offset="0.75" stop-color="#3e3e3e"/><stop offset="0.82" stop-color="#434343"/><stop offset="0.90" stop-color="#484848"/><stop offset="0.96" stop-color="#4d4d4d"/><stop offset="1.00" stop-color="#4f4f4f"/></linearGradient>
<linearGradient id="p224" x1="0" y1="0" x2="0" y2="1"><stop offset="0.00" stop-color="#0f0f0f"/><stop offset="0.12" stop-color="#121212"/><stop offset="0.25" stop-color="#171717"/><stop offset="0.38" stop-color="#1f1f1f"/><stop offset="0.50" stop-color="#292929"/><stop offset="0.62" stop-color="#333333"/><stop offset="0.75" stop-color="#3d3d3d"/><stop offset="0.82" stop-color="#424242"/><stop offset="0.90" stop-color="#474747"/><stop offset="0.96" stop-color="#4d4d4d"/><stop offset="1.00" stop-color="#4f4f4f"/></linearGradient>
<linearGradient id="p225" x1="0" y1="0" x2="0" y2="1"><stop offset="0.00" stop-color="#0f0f0f"/><stop offset="0.12" stop-color="#121212"/><stop offset="0.25" stop-color="#171717"/><stop offset="0.38" stop-color="#1f1f1f"/><stop offset="0.50" stop-color="#292929"/><stop offset="0.62" stop-color="#333333"/><stop offset="0.75" stop-color="#3d3d3d"/><stop offset="0.82" stop-color="#424242"/><stop offset="0.90" stop-color="#474747"/><stop offset="0.96" stop-color="#4c4c4c"/><stop offset="1.00" stop-color="#4f4f4f"/></linearGradient>
<linearGradient id="p226" x1="0" y1="0" x2="0" y2="1"><stop offset="0.00" stop-color="#0f0f0f"/><stop offset="0.12" stop-color="#121212"/><stop offset="0.25" stop-color="#171717"/><stop offset="0.38" stop-color="#1f1f1f"/><stop offset="0.50" stop-color="#292929"/><stop offset="0.62" stop-color="#333333"/><stop offset="0.75" stop-color="#3d3d3d"/><stop offset="0.82" stop-color="#424242"/><stop offset="0.90" stop-color="#474747"/><stop offset="0.96" stop-color="#4c4c4c"/><stop offset="1.00" stop-color="#4f4f4f"/></linearGradient>
<linearGradient id="p227" x1="0" y1="0" x2="0" y2="1"><stop offset="0.00" stop-color="#0f0f0f"/><stop offset="0.12" stop-color="#121212"/><stop offset="0.25" stop-color="#171717"/><stop offset="0.38" stop-color="#1e1e1e"/><stop offset="0.50" stop-color="#292929"/><stop offset="0.62" stop-color="#333333"/><stop offset="0.75" stop-color="#3d3d3d"/><stop offset="0.82" stop-color="#424242"/><stop offset="0.90" stop-color="#474747"/><stop offset="0.96" stop-color="#4c4c4c"/><stop offset="1.00" stop-color="#4f4f4f"/></linearGradient>
<linearGradient id="p228" x1="0" y1="0" x2="0" y2="1"><stop offset="0.00" stop-color="#0f0f0f"/><stop offset="0.12" stop-color="#121212"/><stop offset="0.25" stop-color="#171717"/><stop offset="0.38" stop-color="#1e1e1e"/><stop offset="0.50" stop-color="#292929"/><stop offset="0.62" stop-color="#333333"/><stop offset="0.75" stop-color="#3d3d3d"/><stop offset="0.82" stop-color="#424242"/><stop offset="0.90" stop-color="#474747"/><stop offset="0.96" stop-color="#4c4c4c"/><stop offset="1.00" stop-color="#4f4f4f"/></linearGradient>
<linearGradient id="p229" x1="0" y1="0" x2="0" y2="1"><stop offset="0.00" stop-color="#0f0f0f"/><stop offset="0.12" stop-color="#121212"/><stop offset="0.25" stop-color="#171717"/><stop offset="0.38" stop-color="#1e1e1e"/><stop offset="0.50" stop-color="#282828"/><stop offset="0.62" stop-color="#333333"/><stop offset="0.75" stop-color="#3d3d3d"/><stop offset="0.82" stop-color="#424242"/><stop offset="0.90" stop-color="#474747"/><stop offset="0.96" stop-color="#4c4c4c"/><stop offset="1.00" stop-color="#4f4f4f"/></linearGradient>
<linearGradient id="p230" x1="0" y1="0" x2="0" y2="1"><stop offset="0.00" stop-color="#0f0f0f"/><stop offset="0.12" stop-color="#121212"/><stop offset="0.25" stop-color="#171717"/><stop offset="0.38" stop-color="#1e1e1e"/><stop offset="0.50" stop-color="#282828"/><stop offset="0.62" stop-color="#323232"/><stop offset="0.75" stop-color="#3c3c3c"/><stop offset="0.82" stop-color="#424242"/><stop offset="0.90" stop-color="#474747"/><stop offset="0.96" stop-color="#4c4c4c"/><stop offset="1.00" stop-color="#4e4e4e"/></linearGradient>
<linearGradient id="p231" x1="0" y1="0" x2="0" y2="1"><stop offset="0.00" stop-color="#0f0f0f"/><stop offset="0.12" stop-color="#121212"/><stop offset="0.25" stop-color="#171717"/><stop offset="0.38" stop-color="#1e1e1e"/><stop offset="0.50" stop-color="#282828"/><stop offset="0.62" stop-color="#323232"/><stop offset="0.75" stop-color="#3c3c3c"/><stop offset="0.82" stop-color="#414141"/><stop offset="0.90" stop-color="#464646"/><stop offset="0.96" stop-color="#4c4c4c"/><stop offset="1.00" stop-color="#4e4e4e"/></linearGradient>
<linearGradient id="p232" x1="0" y1="0" x2="0" y2="1"><stop offset="0.00" stop-color="#0f0f0f"/><stop offset="0.12" stop-color="#121212"/><stop offset="0.25" stop-color="#171717"/><stop offset="0.38" stop-color="#1d1d1d"/><stop offset="0.50" stop-color="#282828"/><stop offset="0.62" stop-color="#323232"/><stop offset="0.75" stop-color="#3c3c3c"/><stop offset="0.82" stop-color="#414141"/><stop offset="0.90" stop-color="#464646"/><stop offset="0.96" stop-color="#4b4b4b"/><stop offset="1.00" stop-color="#4e4e4e"/></linearGradient>
<linearGradient id="p233" x1="0" y1="0" x2="0" y2="1"><stop offset="0.00" stop-color="#0f0f0f"/><stop offset="0.12" stop-color="#121212"/><stop offset="0.25" stop-color="#171717"/><stop offset="0.38" stop-color="#1d1d1d"/><stop offset="0.50" stop-color="#272727"/><stop offset="0.62" stop-color="#323232"/><stop offset="0.75" stop-color="#3c3c3c"/><stop offset="0.82" stop-color="#414141"/><stop offset="0.90" stop-color="#464646"/><stop offset="0.96" stop-color="#4b4b4b"/><stop offset="1.00" stop-color="#4e4e4e"/></linearGradient>
<linearGradient id="p234" x1="0" y1="0" x2="0" y2="1"><stop offset="0.00" stop-color="#0f0f0f"/><stop offset="0.12" stop-color="#121212"/><stop offset="0.25" stop-color="#171717"/><stop offset="0.38" stop-color="#1d1d1d"/><stop offset="0.50" stop-color="#272727"/><stop offset="0.62" stop-color="#313131"/><stop offset="0.75" stop-color="#3b3b3b"/><stop offset="0.82" stop-color="#414141"/><stop offset="0.90" stop-color="#464646"/><stop offset="0.96" stop-color="#4b4b4b"/><stop offset="1.00" stop-color="#4d4d4d"/></linearGradient>
<linearGradient id="p235" x1="0" y1="0" x2="0" y2="1"><stop offset="0.00" stop-color="#0f0f0f"/><stop offset="0.12" stop-color="#121212"/><stop offset="0.25" stop-color="#171717"/><stop offset="0.38" stop-color="#1d1d1d"/><stop offset="0.50" stop-color="#272727"/><stop offset="0.62" stop-color="#313131"/><stop offset="0.75" stop-color="#3b3b3b"/><stop offset="0.82" stop-color="#404040"/><stop offset="0.90" stop-color="#454545"/><stop offset="0.96" stop-color="#4b4b4b"/><stop offset="1.00" stop-color="#4d4d4d"/></linearGradient>
<linearGradient id="p236" x1="0" y1="0" x2="0" y2="1"><stop offset="0.00" stop-color="#0f0f0f"/><stop offset="0.12" stop-color="#121212"/><stop offset="0.25" stop-color="#171717"/><stop offset="0.38" stop-color="#1c1c1c"/><stop offset="0.50" stop-color="#272727"/><stop offset="0.62" stop-color="#313131"/><stop offset="0.75" stop-color="#3b3b3b"/><stop offset="0.82" stop-color="#404040"/><stop offset="0.90" stop-color="#454545"/><stop offset="0.96" stop-color="#4a4a4a"/><stop offset="1.00" stop-color="#4d4d4d"/></linearGradient>
<linearGradient id="p237" x1="0" y1="0" x2="0" y2="1"><stop offset="0.00" stop-color="#0f0f0f"/><stop offset="0.12" stop-color="#121212"/><stop offset="0.25" stop-color="#171717"/><stop offset="0.38" stop-color="#1c1c1c"/><stop offset="0.50" stop-color="#262626"/><stop offset="0.62" stop-color="#313131"/><stop offset="0.75" stop-color="#3b3b3b"/><stop offset="0.82" stop-color="#404040"/><stop offset="0.90" stop-color="#454545"/><stop offset="0.96" stop-color="#4a4a4a"/><stop offset="1.00" stop-color="#4d4d4d"/></linearGradient>
<linearGradient id="p238" x1="0" y1="0" x2="0" y2="1"><stop offset="0.00" stop-color="#0f0f0f"/><stop offset="0.12" stop-color="#121212"/><stop offset="0.25" stop-color="#171717"/><stop offset="0.38" stop-color="#1c1c1c"/><stop offset="0.50" stop-color="#262626"/><stop offset="0.62" stop-color="#313131"/><stop offset="0.75" stop-color="#3b3b3b"/><stop offset="0.82" stop-color="#404040"/><stop offset="0.90" stop-color="#454545"/><stop offset="0.96" stop-color="#4a4a4a"/><stop offset="1.00" stop-color="#4d4d4d"/></linearGradient>
<linearGradient id="p239" x1="0" y1="0" x2="0" y2="1"><stop offset="0.00" stop-color="#0f0f0f"/><stop offset="0.12" stop-color="#121212"/><stop offset="0.25" stop-color="#171717"/><stop offset="0.38" stop-color="#1c1c1c"/><stop offset="0.50" stop-color="#262626"/><stop offset="0.62" stop-color="#303030"/><stop offset="0.75" stop-color="#3b3b3b"/><stop offset="0.82" stop-color="#404040"/><stop offset="0.90" stop-color="#454545"/><stop offset="0.96" stop-color="#4a4a4a"/><stop offset="1.00" stop-color="#4d4d4d"/></linearGradient>
<linearGradient id="p240" x1="0" y1="0" x2="0" y2="1"><stop offset="0.00" stop-color="#0f0f0f"/><stop offset="0.12" stop-color="#121212"/><stop offset="0.25" stop-color="#171717"/><stop offset="0.38" stop-color="#1c1c1c"/><stop offset="0.50" stop-color="#262626"/><stop offset="0.62" stop-color="#303030"/><stop offset="0.75" stop-color="#3b3b3b"/><stop offset="0.82" stop-color="#404040"/><stop offset="0.90" stop-color="#454545"/><stop offset="0.96" stop-color="#4a4a4a"/><stop offset="1.00" stop-color="#4c4c4c"/></linearGradient>
<linearGradient id="p241" x1="0" y1="0" x2="0" y2="1"><stop offset="0.00" stop-color="#0f0f0f"/><stop offset="0.12" stop-color="#121212"/><stop offset="0.25" stop-color="#171717"/><stop offset="0.38" stop-color="#1c1c1c"/><stop offset="0.50" stop-color="#262626"/><stop offset="0.62" stop-color="#303030"/><stop offset="0.75" stop-color="#3b3b3b"/><stop offset="0.82" stop-color="#404040"/><stop offset="0.90" stop-color="#454545"/><stop offset="0.96" stop-color="#4a4a4a"/><stop offset="1.00" stop-color="#4c4c4c"/></linearGradient>
<linearGradient id="p242" x1="0" y1="0" x2="0" y2="1"><stop offset="0.00" stop-color="#0f0f0f"/><stop offset="0.12" stop-color="#121212"/><stop offset="0.25" stop-color="#171717"/><stop offset="0.38" stop-color="#1c1c1c"/><stop offset="0.50" stop-color="#262626"/><stop offset="0.62" stop-color="#303030"/><stop offset="0.75" stop-color="#3b3b3b"/><stop offset="0.82" stop-color="#404040"/><stop offset="0.90" stop-color="#454545"/><stop offset="0.96" stop-color="#4a4a4a"/><stop offset="1.00" stop-color="#4c4c4c"/></linearGradient>
<linearGradient id="p243" x1="0" y1="0" x2="0" y2="1"><stop offset="0.00" stop-color="#0f0f0f"/><stop offset="0.12" stop-color="#121212"/><stop offset="0.25" stop-color="#171717"/><stop offset="0.38" stop-color="#1c1c1c"/><stop offset="0.50" stop-color="#262626"/><stop offset="0.62" stop-color="#303030"/><stop offset="0.75" stop-color="#3b3b3b"/><stop offset="0.82" stop-color="#404040"/><stop offset="0.90" stop-color="#454545"/><stop offset="0.96" stop-color="#4a4a4a"/><stop offset="1.00" stop-color="#4c4c4c"/></linearGradient>
<linearGradient id="p244" x1="0" y1="0" x2="0" y2="1"><stop offset="0.00" stop-color="#0f0f0f"/><stop offset="0.12" stop-color="#121212"/><stop offset="0.25" stop-color="#171717"/><stop offset="0.38" stop-color="#1c1c1c"/><stop offset="0.50" stop-color="#262626"/><stop offset="0.62" stop-color="#303030"/><stop offset="0.75" stop-color="#3b3b3b"/><stop offset="0.82" stop-color="#404040"/><stop offset="0.90" stop-color="#454545"/><stop offset="0.96" stop-color="#4a4a4a"/><stop offset="1.00" stop-color="#4c4c4c"/></linearGradient>
<linearGradient id="p245" x1="0" y1="0" x2="0" y2="1"><stop offset="0.00" stop-color="#0f0f0f"/><stop offset="0.12" stop-color="#121212"/><stop offset="0.25" stop-color="#171717"/><stop offset="0.38" stop-color="#1c1c1c"/><stop offset="0.50" stop-color="#262626"/><stop offset="0.62" stop-color="#303030"/><stop offset="0.75" stop-color="#3b3b3b"/><stop offset="0.82" stop-color="#404040"/><stop offset="0.90" stop-color="#454545"/><stop offset="0.96" stop-color="#4a4a4a"/><stop offset="1.00" stop-color="#4c4c4c"/></linearGradient>
<linearGradient id="p246" x1="0" y1="0" x2="0" y2="1"><stop offset="0.00" stop-color="#0f0f0f"/><stop offset="0.12" stop-color="#121212"/><stop offset="0.25" stop-color="#171717"/><stop offset="0.38" stop-color="#1c1c1c"/><stop offset="0.50" stop-color="#262626"/><stop offset="0.62" stop-color="#303030"/><stop offset="0.75" stop-color="#3b3b3b"/><stop offset="0.82" stop-color="#404040"/><stop offset="0.90" stop-color="#454545"/><stop offset="0.96" stop-color="#4a4a4a"/><stop offset="1.00" stop-color="#4c4c4c"/></linearGradient>
<linearGradient id="p247" x1="0" y1="0" x2="0" y2="1"><stop offset="0.00" stop-color="#0f0f0f"/><stop offset="0.12" stop-color="#121212"/><stop offset="0.25" stop-color="#171717"/><stop offset="0.38" stop-color="#1c1c1c"/><stop offset="0.50" stop-color="#262626"/><stop offset="0.62" stop-color="#303030"/><stop offset="0.75" stop-color="#3b3b3b"/><stop offset="0.82" stop-color="#404040"/><stop offset="0.90" stop-color="#454545"/><stop offset="0.96" stop-color="#4a4a4a"/><stop offset="1.00" stop-color="#4c4c4c"/></linearGradient>
<linearGradient id="p248" x1="0" y1="0" x2="0" y2="1"><stop offset="0.00" stop-color="#0e0e0e"/><stop offset="0.12" stop-color="#101010"/><stop offset="0.25" stop-color="#161616"/><stop offset="0.38" stop-color="#1b1b1b"/><stop offset="0.50" stop-color="#252525"/><stop offset="0.62" stop-color="#2f2f2f"/><stop offset="0.75" stop-color="#393939"/><stop offset="0.82" stop-color="#3e3e3e"/><stop offset="0.90" stop-color="#434343"/><stop offset="0.96" stop-color="#494949"/><stop offset="1.00" stop-color="#4b4b4b"/></linearGradient>
<linearGradient id="p249" x1="0" y1="0" x2="0" y2="1"><stop offset="0.00" stop-color="#111111"/><stop offset="0.12" stop-color="#141414"/><stop offset="0.25" stop-color="#191919"/><stop offset="0.38" stop-color="#1e1e1e"/><stop offset="0.50" stop-color="#282828"/><stop offset="0.62" stop-color="#323232"/><stop offset="0.75" stop-color="#3c3c3c"/><stop offset="0.82" stop-color="#414141"/><stop offset="0.90" stop-color="#474747"/><stop offset="0.96" stop-color="#4c4c4c"/><stop offset="1.00" stop-color="#4e4e4e"/></linearGradient>
<linearGradient id="p250" x1="0" y1="0" x2="0" y2="1"><stop offset="0.00" stop-color="#101010"/><stop offset="0.12" stop-color="#131313"/><stop offset="0.25" stop-color="#181818"/><stop offset="0.38" stop-color="#1d1d1d"/><stop offset="0.50" stop-color="#272727"/><stop offset="0.62" stop-color="#313131"/><stop offset="0.75" stop-color="#3b3b3b"/><stop offset="0.82" stop-color="#404040"/><stop offset="0.90" stop-color="#464646"/><stop offset="0.96" stop-color="#4b4b4b"/><stop offset="1.00" stop-color="#4d4d4d"/></linearGradient>
<linearGradient id="p251" x1="0" y1="0" x2="0" y2="1"><stop offset="0.00" stop-color="#0f0f0f"/><stop offset="0.12" stop-color="#111111"/><stop offset="0.25" stop-color="#161616"/><stop offset="0.38" stop-color="#1b1b1b"/><stop offset="0.50" stop-color="#262626"/><stop offset="0.62" stop-color="#303030"/><stop offset="0.75" stop-color="#3a3a3a"/><stop offset="0.82" stop-color="#3f3f3f"/><stop offset="0.90" stop-color="#444444"/><stop offset="0.96" stop-color="#494949"/><stop offset="1.00" stop-color="#4c4c4c"/></linearGradient>
<linearGradient id="p252" x1="0" y1="0" x2="0" y2="1"><stop offset="0.00" stop-color="#0f0f0f"/><stop offset="0.12" stop-color="#121212"/><stop offset="0.25" stop-color="#171717"/><stop offset="0.38" stop-color="#1c1c1c"/><stop offset="0.50" stop-color="#262626"/><stop offset="0.62" stop-color="#303030"/><stop offset="0.75" stop-color="#3a3a3a"/><stop offset="0.82" stop-color="#404040"/><stop offset="0.90" stop-color="#454545"/><stop offset="0.96" stop-color="#4a4a4a"/><stop offset="1.00" stop-color="#4c4c4c"/></linearGradient>
<linearGradient id="p253" x1="0" y1="0" x2="0" y2="1"><stop offset="0.00" stop-color="#0f0f0f"/><stop offset="0.12" stop-color="#121212"/><stop offset="0.25" stop-color="#171717"/><stop offset="0.38" stop-color="#1c1c1c"/><stop offset="0.50" stop-color="#262626"/><stop offset="0.62" stop-color="#313131"/><stop offset="0.75" stop-color="#3b3b3b"/><stop offset="0.82" stop-color="#404040"/><stop offset="0.90" stop-color="#454545"/><stop offset="0.96" stop-color="#4a4a4a"/><stop offset="1.00" stop-color="#4d4d4d"/></linearGradient>
<linearGradient id="p254" x1="0" y1="0" x2="0" y2="1"><stop offset="0.00" stop-color="#0f0f0f"/><stop offset="0.12" stop-color="#121212"/><stop offset="0.25" stop-color="#171717"/><stop offset="0.38" stop-color="#1c1c1c"/><stop offset="0.50" stop-color="#262626"/><stop offset="0.62" stop-color="#303030"/><stop offset="0.75" stop-color="#3b3b3b"/><stop offset="0.82" stop-color="#404040"/><stop offset="0.90" stop-color="#454545"/><stop offset="0.96" stop-color="#4a4a4a"/><stop offset="1.00" stop-color="#4d4d4d"/></linearGradient>
<linearGradient id="p255" x1="0" y1="0" x2="0" y2="1"><stop offset="0.00" stop-color="#0f0f0f"/><stop offset="0.12" stop-color="#121212"/><stop offset="0.25" stop-color="#171717"/><stop offset="0.38" stop-color="#1c1c1c"/><stop offset="0.50" stop-color="#262626"/><stop offset="0.62" stop-color="#303030"/><stop offset="0.75" stop-color="#3b3b3b"/><stop offset="0.82" stop-color="#404040"/><stop offset="0.90" stop-color="#454545"/><stop offset="0.96" stop-color="#4a4a4a"/><stop offset="1.00" stop-color="#4c4c4c"/></linearGradient>
<linearGradient id="p256" x1="0" y1="0" x2="0" y2="1"><stop offset="0.00" stop-color="#0f0f0f"/><stop offset="0.12" stop-color="#121212"/><stop offset="0.25" stop-color="#171717"/><stop offset="0.38" stop-color="#1c1c1c"/><stop offset="0.50" stop-color="#262626"/><stop offset="0.62" stop-color="#303030"/><stop offset="0.75" stop-color="#3a3a3a"/><stop offset="0.82" stop-color="#3f3f3f"/><stop offset="0.90" stop-color="#454545"/><stop offset="0.96" stop-color="#4a4a4a"/><stop offset="1.00" stop-color="#4c4c4c"/></linearGradient>
<linearGradient id="p257" x1="0" y1="0" x2="0" y2="1"><stop offset="0.00" stop-color="#101010"/><stop offset="0.12" stop-color="#121212"/><stop offset="0.25" stop-color="#181818"/><stop offset="0.38" stop-color="#1d1d1d"/><stop offset="0.50" stop-color="#272727"/><stop offset="0.62" stop-color="#313131"/><stop offset="0.75" stop-color="#3b3b3b"/><stop offset="0.82" stop-color="#404040"/><stop offset="0.90" stop-color="#454545"/><stop offset="0.96" stop-color="#4b4b4b"/><stop offset="1.00" stop-color="#4d4d4d"/></linearGradient>
<linearGradient id="p258" x1="0" y1="0" x2="0" y2="1"><stop offset="0.00" stop-color="#101010"/><stop offset="0.12" stop-color="#131313"/><stop offset="0.25" stop-color="#181818"/><stop offset="0.38" stop-color="#1d1d1d"/><stop offset="0.50" stop-color="#272727"/><stop offset="0.62" stop-color="#323232"/><stop offset="0.75" stop-color="#3c3c3c"/><stop offset="0.82" stop-color="#414141"/><stop offset="0.90" stop-color="#464646"/><stop offset="0.96" stop-color="#4b4b4b"/><stop offset="1.00" stop-color="#4e4e4e"/></linearGradient>
<linearGradient id="p259" x1="0" y1="0" x2="0" y2="1"><stop offset="0.00" stop-color="#0e0e0e"/><stop offset="0.12" stop-color="#101010"/><stop offset="0.25" stop-color="#161616"/><stop offset="0.38" stop-color="#1b1b1b"/><stop offset="0.50" stop-color="#252525"/><stop offset="0.62" stop-color="#2f2f2f"/><stop offset="0.75" stop-color="#393939"/><stop offset="0.82" stop-color="#3e3e3e"/><stop offset="0.90" stop-color="#434343"/><stop offset="0.96" stop-color="#494949"/><stop offset="1.00" stop-color="#4b4b4b"/></linearGradient>
<linearGradient id="p260" x1="0" y1="0" x2="0" y2="1"><stop offset="0.00" stop-color="#0d0d0d"/><stop offset="0.12" stop-color="#0f0f0f"/><stop offset="0.25" stop-color="#151515"/><stop offset="0.38" stop-color="#1a1a1a"/><stop offset="0.50" stop-color="#242424"/><stop offset="0.62" stop-color="#2e2e2e"/><stop offset="0.75" stop-color="#383838"/><stop offset="0.82" stop-color="#3d3d3d"/><stop offset="0.90" stop-color="#424242"/><stop offset="0.96" stop-color="#484848"/><stop offset="1.00" stop-color="#4a4a4a"/></linearGradient>
<linearGradient id="p261" x1="0" y1="0" x2="0" y2="1"><stop offset="0.00" stop-color="#111111"/><stop offset="0.12" stop-color="#141414"/><stop offset="0.25" stop-color="#191919"/><stop offset="0.38" stop-color="#1e1e1e"/><stop offset="0.50" stop-color="#282828"/><stop offset="0.62" stop-color="#333333"/><stop offset="0.75" stop-color="#3d3d3d"/><stop offset="0.82" stop-color="#424242"/><stop offset="0.90" stop-color="#474747"/><stop offset="0.96" stop-color="#4c4c4c"/><stop offset="1.00" stop-color="#4f4f4f"/></linearGradient>
<linearGradient id="p262" x1="0" y1="0" x2="0" y2="1"><stop offset="0.00" stop-color="#131313"/><stop offset="0.12" stop-color="#161616"/><stop offset="0.25" stop-color="#1b1b1b"/><stop offset="0.38" stop-color="#202020"/><stop offset="0.50" stop-color="#2a2a2a"/><stop offset="0.62" stop-color="#343434"/><stop offset="0.75" stop-color="#3e3e3e"/><stop offset="0.82" stop-color="#434343"/><stop offset="0.90" stop-color="#494949"/><stop offset="0.96" stop-color="#4e4e4e"/><stop offset="1.00" stop-color="#505050"/></linearGradient>
<linearGradient id="p263" x1="0" y1="0" x2="0" y2="1"><stop offset="0.00" stop-color="#0d0d0d"/><stop offset="0.12" stop-color="#0f0f0f"/><stop offset="0.25" stop-color="#141414"/><stop offset="0.38" stop-color="#191919"/><stop offset="0.50" stop-color="#242424"/><stop offset="0.62" stop-color="#2e2e2e"/><stop offset="0.75" stop-color="#383838"/><stop offset="0.82" stop-color="#3d3d3d"/><stop offset="0.90" stop-color="#424242"/><stop offset="0.96" stop-color="#474747"/><stop offset="1.00" stop-color="#4a4a4a"/></linearGradient>
<linearGradient id="p264" x1="0" y1="0" x2="0" y2="1"><stop offset="0.00" stop-color="#0a0a0a"/><stop offset="0.12" stop-color="#0d0d0d"/><stop offset="0.25" stop-color="#121212"/><stop offset="0.38" stop-color="#171717"/><stop offset="0.50" stop-color="#212121"/><stop offset="0.62" stop-color="#2c2c2c"/><stop offset="0.75" stop-color="#363636"/><stop offset="0.82" stop-color="#3b3b3b"/><stop offset="0.90" stop-color="#404040"/><stop offset="0.96" stop-color="#454545"/><stop offset="1.00" stop-color="#484848"/></linearGradient>
<linearGradient id="p265" x1="0" y1="0" x2="0" y2="1"><stop offset="0.00" stop-color="#121212"/><stop offset="0.12" stop-color="#151515"/><stop offset="0.25" stop-color="#1a1a1a"/><stop offset="0.38" stop-color="#1f1f1f"/><stop offset="0.50" stop-color="#292929"/><stop offset="0.62" stop-color="#333333"/><stop offset="0.75" stop-color="#3e3e3e"/><stop offset="0.82" stop-color="#434343"/><stop offset="0.90" stop-color="#484848"/><stop offset="0.96" stop-color="#4d4d4d"/><stop offset="1.00" stop-color="#4f4f4f"/></linearGradient>
<linearGradient id="p266" x1="0" y1="0" x2="0" y2="1"><stop offset="0.00" stop-color="#151515"/><stop offset="0.12" stop-color="#181818"/><stop offset="0.25" stop-color="#1d1d1d"/><stop offset="0.38" stop-color="#222222"/><stop offset="0.50" stop-color="#2c2c2c"/><stop offset="0.62" stop-color="#363636"/><stop offset="0.75" stop-color="#404040"/><stop offset="0.82" stop-color="#454545"/><stop offset="0.90" stop-color="#4b4b4b"/><stop offset="0.96" stop-color="#505050"/><stop offset="1.00" stop-color="#525252"/></linearGradient>
<linearGradient id="p267" x1="0" y1="0" x2="0" y2="1"><stop offset="0.00" stop-color="#0d0d0d"/><stop offset="0.12" stop-color="#0f0f0f"/><stop offset="0.25" stop-color="#141414"/><stop offset="0.38" stop-color="#191919"/><stop offset="0.50" stop-color="#242424"/><stop offset="0.62" stop-color="#2e2e2e"/><stop offset="0.75" stop-color="#383838"/><stop offset="0.82" stop-color="#3d3d3d"/><stop offset="0.90" stop-color="#424242"/><stop offset="0.96" stop-color="#474747"/><stop offset="1.00" stop-color="#4a4a4a"/></linearGradient>
<linearGradient id="p268" x1="0" y1="0" x2="0" y2="1"><stop offset="0.00" stop-color="#0a0a0a"/><stop offset="0.12" stop-color="#0c0c0c"/><stop offset="0.25" stop-color="#111111"/><stop offset="0.38" stop-color="#161616"/><stop offset="0.50" stop-color="#212121"/><stop offset="0.62" stop-color="#2b2b2b"/><stop offset="0.75" stop-color="#353535"/><stop offset="0.82" stop-color="#3a3a3a"/><stop offset="0.90" stop-color="#3f3f3f"/><stop offset="0.96" stop-color="#444444"/><stop offset="1.00" stop-color="#474747"/></linearGradient>
<linearGradient id="p269" x1="0" y1="0" x2="0" y2="1"><stop offset="0.00" stop-color="#111111"/><stop offset="0.12" stop-color="#141414"/><stop offset="0.25" stop-color="#191919"/><stop offset="0.38" stop-color="#1e1e1e"/><stop offset="0.50" stop-color="#282828"/><stop offset="0.62" stop-color="#333333"/><stop offset="0.75" stop-color="#3d3d3d"/><stop offset="0.82" stop-color="#424242"/><stop offset="0.90" stop-color="#474747"/><stop offset="0.96" stop-color="#4c4c4c"/><stop offset="1.00" stop-color="#4f4f4f"/></linearGradient>
<linearGradient id="p270" x1="0" y1="0" x2="0" y2="1"><stop offset="0.00" stop-color="#141414"/><stop offset="0.12" stop-color="#171717"/><stop offset="0.25" stop-color="#1c1c1c"/><stop offset="0.38" stop-color="#212121"/><stop offset="0.50" stop-color="#2b2b2b"/><stop offset="0.62" stop-color="#363636"/><stop offset="0.75" stop-color="#404040"/><stop offset="0.82" stop-color="#454545"/><stop offset="0.90" stop-color="#4a4a4a"/><stop offset="0.96" stop-color="#4f4f4f"/><stop offset="1.00" stop-color="#525252"/></linearGradient>
<linearGradient id="p271" x1="0" y1="0" x2="0" y2="1"><stop offset="0.00" stop-color="#0e0e0e"/><stop offset="0.12" stop-color="#101010"/><stop offset="0.25" stop-color="#161616"/><stop offset="0.38" stop-color="#1b1b1b"/><stop offset="0.50" stop-color="#252525"/><stop offset="0.62" stop-color="#2f2f2f"/><stop offset="0.75" stop-color="#393939"/><stop offset="0.82" stop-color="#3e3e3e"/><stop offset="0.90" stop-color="#434343"/><stop offset="0.96" stop-color="#494949"/><stop offset="1.00" stop-color="#4b4b4b"/></linearGradient>
<linearGradient id="p272" x1="0" y1="0" x2="0" y2="1"><stop offset="0.00" stop-color="#0b0b0b"/><stop offset="0.12" stop-color="#0e0e0e"/><stop offset="0.25" stop-color="#131313"/><stop offset="0.38" stop-color="#181818"/><stop offset="0.50" stop-color="#222222"/><stop offset="0.62" stop-color="#2d2d2d"/><stop offset="0.75" stop-color="#373737"/><stop offset="0.82" stop-color="#3c3c3c"/><stop offset="0.90" stop-color="#414141"/><stop offset="0.96" stop-color="#464646"/><stop offset="1.00" stop-color="#494949"/></linearGradient>
<linearGradient id="p273" x1="0" y1="0" x2="0" y2="1"><stop offset="0.00" stop-color="#101010"/><stop offset="0.12" stop-color="#131313"/><stop offset="0.25" stop-color="#181818"/><stop offset="0.38" stop-color="#1d1d1d"/><stop offset="0.50" stop-color="#272727"/><stop offset="0.62" stop-color="#313131"/><stop offset="0.75" stop-color="#3b3b3b"/><stop offset="0.82" stop-color="#414141"/><stop offset="0.90" stop-color="#464646"/><stop offset="0.96" stop-color="#4b4b4b"/><stop offset="1.00" stop-color="#4d4d4d"/></linearGradient>
<linearGradient id="p274" x1="0" y1="0" x2="0" y2="1"><stop offset="0.00" stop-color="#121212"/><stop offset="0.12" stop-color="#141414"/><stop offset="0.25" stop-color="#191919"/><stop offset="0.38" stop-color="#1f1f1f"/><stop offset="0.50" stop-color="#292929"/><stop offset="0.62" stop-color="#333333"/><stop offset="0.75" stop-color="#3d3d3d"/><stop offset="0.82" stop-color="#424242"/><stop offset="0.90" stop-color="#474747"/><stop offset="0.96" stop-color="#4c4c4c"/><stop offset="1.00" stop-color="#4f4f4f"/></linearGradient>
<linearGradient id="p275" x1="0" y1="0" x2="0" y2="1"><stop offset="0.00" stop-color="#0f0f0f"/><stop offset="0.12" stop-color="#121212"/><stop offset="0.25" stop-color="#171717"/><stop offset="0.38" stop-color="#1c1c1c"/><stop offset="0.50" stop-color="#262626"/><stop offset="0.62" stop-color="#303030"/><stop offset="0.75" stop-color="#3a3a3a"/><stop offset="0.82" stop-color="#3f3f3f"/><stop offset="0.90" stop-color="#454545"/><stop offset="0.96" stop-color="#4a4a4a"/><stop offset="1.00" stop-color="#4c4c4c"/></linearGradient>
<linearGradient id="p276" x1="0" y1="0" x2="0" y2="1"><stop offset="0.00" stop-color="#0e0e0e"/><stop offset="0.12" stop-color="#111111"/><stop offset="0.25" stop-color="#161616"/><stop offset="0.38" stop-color="#1b1b1b"/><stop offset="0.50" stop-color="#252525"/><stop offset="0.62" stop-color="#2f2f2f"/><stop offset="0.75" stop-color="#3a3a3a"/><stop offset="0.82" stop-color="#3f3f3f"/><stop offset="0.90" stop-color="#444444"/><stop offset="0.96" stop-color="#494949"/><stop offset="1.00" stop-color="#4b4b4b"/></linearGradient>
<linearGradient id="p277" x1="0" y1="0" x2="0" y2="1"><stop offset="0.00" stop-color="#0f0f0f"/><stop offset="0.12" stop-color="#121212"/><stop offset="0.25" stop-color="#171717"/><stop offset="0.38" stop-color="#1c1c1c"/><stop offset="0.50" stop-color="#262626"/><stop offset="0.62" stop-color="#313131"/><stop offset="0.75" stop-color="#3b3b3b"/><stop offset="0.82" stop-color="#404040"/><stop offset="0.90" stop-color="#454545"/><stop offset="0.96" stop-color="#4a4a4a"/><stop offset="1.00" stop-color="#4d4d4d"/></linearGradient>
<linearGradient id="p278" x1="0" y1="0" x2="0" y2="1"><stop offset="0.00" stop-color="#101010"/><stop offset="0.12" stop-color="#121212"/><stop offset="0.25" stop-color="#171717"/><stop offset="0.38" stop-color="#1c1c1c"/><stop offset="0.50" stop-color="#262626"/><stop offset="0.62" stop-color="#313131"/><stop offset="0.75" stop-color="#3b3b3b"/><stop offset="0.82" stop-color="#404040"/><stop offset="0.90" stop-color="#454545"/><stop offset="0.96" stop-color="#4a4a4a"/><stop offset="1.00" stop-color="#4d4d4d"/></linearGradient>
<linearGradient id="p279" x1="0" y1="0" x2="0" y2="1"><stop offset="0.00" stop-color="#0f0f0f"/><stop offset="0.12" stop-color="#121212"/><stop offset="0.25" stop-color="#171717"/><stop offset="0.38" stop-color="#1c1c1c"/><stop offset="0.50" stop-color="#262626"/><stop offset="0.62" stop-color="#303030"/><stop offset="0.75" stop-color="#3b3b3b"/><stop offset="0.82" stop-color="#404040"/><stop offset="0.90" stop-color="#454545"/><stop offset="0.96" stop-color="#4a4a4a"/><stop offset="1.00" stop-color="#4c4c4c"/></linearGradient>
<linearGradient id="p280" x1="0" y1="0" x2="0" y2="1"><stop offset="0.00" stop-color="#0f0f0f"/><stop offset="0.12" stop-color="#121212"/><stop offset="0.25" stop-color="#171717"/><stop offset="0.38" stop-color="#1c1c1c"/><stop offset="0.50" stop-color="#262626"/><stop offset="0.62" stop-color="#303030"/><stop offset="0.75" stop-color="#3b3b3b"/><stop offset="0.82" stop-color="#404040"/><stop offset="0.90" stop-color="#454545"/><stop offset="0.96" stop-color="#4a4a4a"/><stop offset="1.00" stop-color="#4c4c4c"/></linearGradient>
<linearGradient id="p281" x1="0" y1="0" x2="0" y2="1"><stop offset="0.00" stop-color="#0f0f0f"/><stop offset="0.12" stop-color="#121212"/><stop offset="0.25" stop-color="#171717"/><stop offset="0.38" stop-color="#1c1c1c"/><stop offset="0.50" stop-color="#262626"/><stop offset="0.62" stop-color="#303030"/><stop offset="0.75" stop-color="#3b3b3b"/><stop offset="0.82" stop-color="#404040"/><stop offset="0.90" stop-color="#454545"/><stop offset="0.96" stop-color="#4a4a4a"/><stop offset="1.00" stop-color="#4c4c4c"/></linearGradient>
<linearGradient id="p282" x1="0" y1="0" x2="0" y2="1"><stop offset="0.00" stop-color="#101010"/><stop offset="0.12" stop-color="#121212"/><stop offset="0.25" stop-color="#171717"/><stop offset="0.38" stop-color="#1d1d1d"/><stop offset="0.50" stop-color="#272727"/><stop offset="0.62" stop-color="#313131"/><stop offset="0.75" stop-color="#3b3b3b"/><stop offset="0.82" stop-color="#404040"/><stop offset="0.90" stop-color="#454545"/><stop offset="0.96" stop-color="#4a4a4a"/><stop offset="1.00" stop-color="#4d4d4d"/></linearGradient>
<linearGradient id="p283" x1="0" y1="0" x2="0" y2="1"><stop offset="0.00" stop-color="#0f0f0f"/><stop offset="0.12" stop-color="#121212"/><stop offset="0.25" stop-color="#171717"/><stop offset="0.38" stop-color="#1c1c1c"/><stop offset="0.50" stop-color="#262626"/><stop offset="0.62" stop-color="#313131"/><stop offset="0.75" stop-color="#3b3b3b"/><stop offset="0.82" stop-color="#404040"/><stop offset="0.90" stop-color="#454545"/><stop offset="0.96" stop-color="#4a4a4a"/><stop offset="1.00" stop-color="#4d4d4d"/></linearGradient>
<linearGradient id="p284" x1="0" y1="0" x2="0" y2="1"><stop offset="0.00" stop-color="#0e0e0e"/><stop offset="0.12" stop-color="#101010"/><stop offset="0.25" stop-color="#151515"/><stop offset="0.38" stop-color="#1a1a1a"/><stop offset="0.50" stop-color="#252525"/><stop offset="0.62" stop-color="#2f2f2f"/><stop offset="0.75" stop-color="#393939"/><stop offset="0.82" stop-color="#3e3e3e"/><stop offset="0.90" stop-color="#434343"/><stop offset="0.96" stop-color="#484848"/><stop offset="1.00" stop-color="#4b4b4b"/></linearGradient>
<linearGradient id="p285" x1="0" y1="0" x2="0" y2="1"><stop offset="0.00" stop-color="#0f0f0f"/><stop offset="0.12" stop-color="#111111"/><stop offset="0.25" stop-color="#171717"/><stop offset="0.38" stop-color="#1c1c1c"/><stop offset="0.50" stop-color="#262626"/><stop offset="0.62" stop-color="#303030"/><stop offset="0.75" stop-color="#3a3a3a"/><stop offset="0.82" stop-color="#3f3f3f"/><stop offset="0.90" stop-color="#444444"/><stop offset="0.96" stop-color="#4a4a4a"/><stop offset="1.00" stop-color="#4c4c4c"/></linearGradient>
<linearGradient id="p286" x1="0" y1="0" x2="0" y2="1"><stop offset="0.00" stop-color="#121212"/><stop offset="0.12" stop-color="#151515"/><stop offset="0.25" stop-color="#1a1a1a"/><stop offset="0.38" stop-color="#1f1f1f"/><stop offset="0.50" stop-color="#292929"/><stop offset="0.62" stop-color="#343434"/><stop offset="0.75" stop-color="#3e3e3e"/><stop offset="0.82" stop-color="#434343"/><stop offset="0.90" stop-color="#484848"/><stop offset="0.96" stop-color="#4d4d4d"/><stop offset="1.00" stop-color="#505050"/></linearGradient>
<linearGradient id="p287" x1="0" y1="0" x2="0" y2="1"><stop offset="0.00" stop-color="#101010"/><stop offset="0.12" stop-color="#131313"/><stop offset="0.25" stop-color="#181818"/><stop offset="0.38" stop-color="#1d1d1d"/><stop offset="0.50" stop-color="#272727"/><stop offset="0.62" stop-color="#313131"/><stop offset="0.75" stop-color="#3c3c3c"/><stop offset="0.82" stop-color="#414141"/><stop offset="0.90" stop-color="#464646"/><stop offset="0.96" stop-color="#4b4b4b"/><stop offset="1.00" stop-color="#4d4d4d"/></linearGradient>
<linearGradient id="p288" x1="0" y1="0" x2="0" y2="1"><stop offset="0.00" stop-color="#0b0b0b"/><stop offset="0.12" stop-color="#0d0d0d"/><stop offset="0.25" stop-color="#121212"/><stop offset="0.38" stop-color="#181818"/><stop offset="0.50" stop-color="#222222"/><stop offset="0.62" stop-color="#2c2c2c"/><stop offset="0.75" stop-color="#363636"/><stop offset="0.82" stop-color="#3b3b3b"/><stop offset="0.90" stop-color="#404040"/><stop offset="0.96" stop-color="#454545"/><stop offset="1.00" stop-color="#484848"/></linearGradient>
<linearGradient id="p289" x1="0" y1="0" x2="0" y2="1"><stop offset="0.00" stop-color="#0e0e0e"/><stop offset="0.12" stop-color="#101010"/><stop offset="0.25" stop-color="#151515"/><stop offset="0.38" stop-color="#1b1b1b"/><stop offset="0.50" stop-color="#252525"/><stop offset="0.62" stop-color="#2f2f2f"/><stop offset="0.75" stop-color="#393939"/><stop offset="0.82" stop-color="#3e3e3e"/><stop offset="0.90" stop-color="#434343"/><stop offset="0.96" stop-color="#484848"/><stop offset="1.00" stop-color="#4b4b4b"/></linearGradient>
<linearGradient id="p290" x1="0" y1="0" x2="0" y2="1"><stop offset="0.00" stop-color="#151515"/><stop offset="0.12" stop-color="#171717"/><stop offset="0.25" stop-color="#1c1c1c"/><stop offset="0.38" stop-color="#222222"/><stop offset="0.50" stop-color="#2c2c2c"/><stop offset="0.62" stop-color="#363636"/><stop offset="0.75" stop-color="#404040"/><stop offset="0.82" stop-color="#454545"/><stop offset="0.90" stop-color="#4a4a4a"/><stop offset="0.96" stop-color="#4f4f4f"/><stop offset="1.00" stop-color="#525252"/></linearGradient>
<linearGradient id="p291" x1="0" y1="0" x2="0" y2="1"><stop offset="0.00" stop-color="#111111"/><stop offset="0.12" stop-color="#141414"/><stop offset="0.25" stop-color="#191919"/><stop offset="0.38" stop-color="#1e1e1e"/><stop offset="0.50" stop-color="#282828"/><stop offset="0.62" stop-color="#333333"/><stop offset="0.75" stop-color="#3d3d3d"/><stop offset="0.82" stop-color="#424242"/><stop offset="0.90" stop-color="#474747"/><stop offset="0.96" stop-color="#4c4c4c"/><stop offset="1.00" stop-color="#4f4f4f"/></linearGradient>
<linearGradient id="p292" x1="0" y1="0" x2="0" y2="1"><stop offset="0.00" stop-color="#090909"/><stop offset="0.12" stop-color="#0c0c0c"/><stop offset="0.25" stop-color="#111111"/><stop offset="0.38" stop-color="#161616"/><stop offset="0.50" stop-color="#202020"/><stop offset="0.62" stop-color="#2b2b2b"/><stop offset="0.75" stop-color="#353535"/><stop offset="0.82" stop-color="#3a3a3a"/><stop offset="0.90" stop-color="#3f3f3f"/><stop offset="0.96" stop-color="#444444"/><stop offset="1.00" stop-color="#474747"/></linearGradient>
<linearGradient id="p293" x1="0" y1="0" x2="0" y2="1"><stop offset="0.00" stop-color="#0d0d0d"/><stop offset="0.12" stop-color="#0f0f0f"/><stop offset="0.25" stop-color="#141414"/><stop offset="0.38" stop-color="#191919"/><stop offset="0.50" stop-color="#242424"/><stop offset="0.62" stop-color="#2e2e2e"/><stop offset="0.75" stop-color="#383838"/><stop offset="0.82" stop-color="#3d3d3d"/><stop offset="0.90" stop-color="#424242"/><stop offset="0.96" stop-color="#474747"/><stop offset="1.00" stop-color="#4a4a4a"/></linearGradient>
<linearGradient id="p294" x1="0" y1="0" x2="0" y2="1"><stop offset="0.00" stop-color="#151515"/><stop offset="0.12" stop-color="#171717"/><stop offset="0.25" stop-color="#1d1d1d"/><stop offset="0.38" stop-color="#222222"/><stop offset="0.50" stop-color="#2c2c2c"/><stop offset="0.62" stop-color="#363636"/><stop offset="0.75" stop-color="#404040"/><stop offset="0.82" stop-color="#454545"/><stop offset="0.90" stop-color="#4a4a4a"/><stop offset="0.96" stop-color="#505050"/><stop offset="1.00" stop-color="#525252"/></linearGradient>
<linearGradient id="p295" x1="0" y1="0" x2="0" y2="1"><stop offset="0.00" stop-color="#121212"/><stop offset="0.12" stop-color="#151515"/><stop offset="0.25" stop-color="#1a1a1a"/><stop offset="0.38" stop-color="#1f1f1f"/><stop offset="0.50" stop-color="#292929"/><stop offset="0.62" stop-color="#333333"/><stop offset="0.75" stop-color="#3d3d3d"/><stop offset="0.82" stop-color="#424242"/><stop offset="0.90" stop-color="#484848"/><stop offset="0.96" stop-color="#4d4d4d"/><stop offset="1.00" stop-color="#4f4f4f"/></linearGradient>
<linearGradient id="p296" x1="0" y1="0" x2="0" y2="1"><stop offset="0.00" stop-color="#0b0b0b"/><stop offset="0.12" stop-color="#0d0d0d"/><stop offset="0.25" stop-color="#121212"/><stop offset="0.38" stop-color="#171717"/><stop offset="0.50" stop-color="#222222"/><stop offset="0.62" stop-color="#2c2c2c"/><stop offset="0.75" stop-color="#363636"/><stop offset="0.82" stop-color="#3b3b3b"/><stop offset="0.90" stop-color="#404040"/><stop offset="0.96" stop-color="#454545"/><stop offset="1.00" stop-color="#484848"/></linearGradient>
<linearGradient id="p297" x1="0" y1="0" x2="0" y2="1"><stop offset="0.00" stop-color="#0d0d0d"/><stop offset="0.12" stop-color="#0f0f0f"/><stop offset="0.25" stop-color="#151515"/><stop offset="0.38" stop-color="#1a1a1a"/><stop offset="0.50" stop-color="#242424"/><stop offset="0.62" stop-color="#2e2e2e"/><stop offset="0.75" stop-color="#383838"/><stop offset="0.82" stop-color="#3d3d3d"/><stop offset="0.90" stop-color="#424242"/><stop offset="0.96" stop-color="#484848"/><stop offset="1.00" stop-color="#4a4a4a"/></linearGradient>
<linearGradient id="p298" x1="0" y1="0" x2="0" y2="1"><stop offset="0.00" stop-color="#131313"/><stop offset="0.12" stop-color="#151515"/><stop offset="0.25" stop-color="#1a1a1a"/><stop offset="0.38" stop-color="#1f1f1f"/><stop offset="0.50" stop-color="#2a2a2a"/><stop offset="0.62" stop-color="#343434"/><stop offset="0.75" stop-color="#3e3e3e"/><stop offset="0.82" stop-color="#434343"/><stop offset="0.90" stop-color="#484848"/><stop offset="0.96" stop-color="#4d4d4d"/><stop offset="1.00" stop-color="#505050"/></linearGradient>
<linearGradient id="cbar" x1="0" y1="0" x2="0" y2="1"><stop offset="0.000" stop-color="#f9fb15"/><stop offset="0.025" stop-color="#faf11b"/><stop offset="0.050" stop-color="#fae721"/><stop offset="0.075" stop-color="#fbdd27"/><stop offset="0.100" stop-color="#fcd32d"/><stop offset="0.125" stop-color="#fbca33"/><stop offset="0.150" stop-color="#fbc037"/><stop offset="0.175" stop-color="#f5bb37"/><stop offset="0.200" stop-color="#e8bc30"/><stop offset="0.225" stop-color="#dabd2a"/><stop offset="0.250" stop-color="#cabf30"/><stop offset="0.275" stop-color="#b9c137"/><stop offset="0.300" stop-color="#a4c543"/><stop offset="0.325" stop-color="#8aca54"/><stop offset="0.350" stop-color="#75cb63"/><stop offset="0.375" stop-color="#63ca73"/><stop offset="0.400" stop-color="#51c883"/><stop offset="0.425" stop-color="#3fc793"/><stop offset="0.450" stop-color="#2fc5a1"/><stop offset="0.475" stop-color="#26c1ac"/><stop offset="0.500" stop-color="#1cbeb8"/><stop offset="0.525" stop-color="#13bac3"/><stop offset="0.550" stop-color="#0ab6ce"/><stop offset="0.575" stop-color="#0db0d5"/><stop offset="0.600" stop-color="#14a9db"/><stop offset="0.625" stop-color="#1ba2e1"/><stop offset="0.650" stop-color="#229be7"/><stop offset="0.675" stop-color="#2993ec"/><stop offset="0.700" stop-color="#2e8af1"/><stop offset="0.725" stop-color="#3382f6"/><stop offset="0.750" stop-color="#3879fa"/><stop offset="0.775" stop-color="#3d70fe"/><stop offset="0.800" stop-color="#4067fb"/><stop offset="0.825" stop-color="#425ef6"/><stop offset="0.850" stop-color="#4455f2"/><stop offset="0.875" stop-color="#464cee"/><stop offset="0.900" stop-color="#4644e4"/><stop offset="0.925" stop-color="#443cd5"/><stop offset="0.950" stop-color="#4235c6"/><stop offset="0.975" stop-color="#402db7"/><stop offset="1.000" stop-color="#3e26a8"/></linearGradient></defs>
<rect width="1275" height="1650" fill="#ffffff"/>
<polygon points="253.6,10.4 304,10.4 329.3,53.6 304,96.4 253.6,96.4 228.5,53.6" fill="#ffffff" stroke="#b8e0ec" stroke-width="1" stroke-dasharray="1.5,1.2"/>
<g clip-path="url(#hexclip)">
<rect x="228" y="10" width="100" height="90" fill="#000000"/>
<circle cx="258.5" cy="26.5" r="0.7" fill="#e8ecff"/>
<circle cx="295.5" cy="16.5" r="0.5" fill="#e8ecff"/>
<circle cx="240.0" cy="50.5" r="0.6" fill="#e8ecff"/>
<circle cx="302.0" cy="31.5" r="0.4" fill="#e8ecff"/>
<circle cx="270.0" cy="23.0" r="0.4" fill="#e8ecff"/>
<circle cx="302.5" cy="40.5" r="0.4" fill="#e8ecff"/>
<circle cx="283.0" cy="22.0" r="0.3" fill="#e8ecff"/>
<circle cx="265.0" cy="18.0" r="0.3" fill="#e8ecff"/>
<path d="M230,62 Q272,47 326,46 L326,55 Q272,56 232,70 Z" fill="url(#aurg)"/>
<path d="M230,70.5 Q272,56.5 326,54.6 L326,100 L230,100 Z" fill="url(#earthg)"/>
<path d="M233,70 Q272,56 326,54.2" stroke="#0b1a3a" stroke-width="1.2" fill="none"/>
<ellipse cx="262.0" cy="72.0" rx="10.0" ry="2.5" fill="#ffffff" opacity="0.55"/>
<ellipse cx="285.0" cy="68.0" rx="9.0" ry="2.0" fill="#ffffff" opacity="0.50"/>
<ellipse cx="300.0" cy="73.0" rx="8.0" ry="3.0" fill="#ffffff" opacity="0.45"/>
<ellipse cx="276.0" cy="76.0" rx="7.0" ry="2.0" fill="#ffffff" opacity="0.40"/>
<ellipse cx="253.0" cy="78.0" rx="6.0" ry="2.0" fill="#ffffff" opacity="0.35"/>
<ellipse cx="310.0" cy="64.0" rx="8.0" ry="2.0" fill="#ffffff" opacity="0.45"/>
<path d="M248,93 L250,90 Q262,80 275,77.5 Q287,76 296,82.5 L304,89 L306,93 Z" fill="#ffffff"/>
<path d="M296,82.5 L310.5,74.4 L304,89 Z" fill="#2f6fc4"/>
</g>
<polygon points="267.2,30.2 287.2,40.4 283.2,43.4 263.6,35.4" fill="#3f86d6"/>
<polygon points="263.6,35.4 283.2,43.4 273.6,53.8 262,46.6" fill="#2f72c4" stroke="#c9943f" stroke-width="0.6"/>
<polygon points="283.2,43.4 288.8,44.5 282,56.2 273.6,53.8" fill="#c9a560"/>
<line x1="252" y1="46.6" x2="263" y2="47.4" stroke="#d8a050" stroke-width="1"/>
<circle cx="252.8" cy="46.6" r="1" fill="#ffb040"/>
<line x1="286.4" y1="50.6" x2="297" y2="78" stroke="#f0f4ff" stroke-width="0.7"/>
<line x1="272" y1="55" x2="266" y2="64" stroke="#c9943f" stroke-width="0.8"/>
<circle cx="279.2" cy="79.8" r="3.8" fill="#1f57a8"/>
<path d="M276.5,80 H282 M276.8,81.5 Q279,84 282,82" stroke="#ffffff" stroke-width="0.6" fill="none"/>
<text x="278.4" y="90.8" font-size="5.2" text-anchor="middle" fill="#2aa0dc" textLength="35" lengthAdjust="spacingAndGlyphs">CASSIOPE</text>
<text x="446.5" y="71.6" font-size="36.8" font-family='Liberation Serif, serif' text-anchor="start" textLength="414.8" lengthAdjust="spacingAndGlyphs" fill="#000000" stroke="#ffffff" stroke-width="0.45">e-POP MGF Quicklook Plot</text>
<text x="522.5" y="110.9" font-size="36.8" font-family='Liberation Serif, serif' text-anchor="start" textLength="272.8" lengthAdjust="spacingAndGlyphs" fill="#000000" stroke="#ffffff" stroke-width="0.45">December 19, 2022</text>
<g mask="url(#esamask)" stroke="#0a2466" fill="none">
<path d="M955.2,30 Q947.2,54 927.2,80 M958.1,30 Q950.1,54 930.1,80 M961.0,30 Q953.0,54 933.0,80 M963.9,30 Q955.9,54 935.9,80 M966.8,30 Q958.8,54 938.8,80 M969.7,30 Q961.7,54 941.7,80 M972.6,30 Q964.6,54 944.6,80 M975.5,30 Q967.5,54 947.5,80 M978.4,30 Q970.4,54 950.4,80 M981.3,30 Q973.3,54 953.3,80 M984.2,30 Q976.2,54 956.2,80 M987.1,30 Q979.1,54 959.1,80 M990.0,30 Q982.0,54 962.0,80 M992.9,30 Q984.9,54 964.9,80 M995.8,30 Q987.8,54 967.8,80 M998.7,30 Q990.7,54 970.7,80 M1001.6,30 Q993.6,54 973.6,80 M1004.5,30 Q996.5,54 976.5,80 M1007.4,30 Q999.4,54 979.4,80 M1010.3,30 Q1002.3,54 982.3,80 M1013.2,30 Q1005.2,54 985.2,80 M1016.1,30 Q1008.1,54 988.1,80 M1019.0,30 Q1011.0,54 991.0,80 M1021.9,30 Q1013.9,54 993.9,80 M1024.8,30 Q1016.8,54 996.8,80 M1027.7,30 Q1019.7,54 999.7,80 " stroke-width="1.15"/>
<g clip-path="url(#esabl)"><path d="M946.0,30 L996.0,80 M948.9,30 L998.9,80 M951.8,30 L1001.8,80 M954.7,30 L1004.7,80 M957.6,30 L1007.6,80 M960.5,30 L1010.5,80 M963.4,30 L1013.4,80 M966.3,30 L1016.3,80 M969.2,30 L1019.2,80 M972.1,30 L1022.1,80 M975.0,30 L1025.0,80 M977.9,30 L1027.9,80 M980.8,30 L1030.8,80 M983.7,30 L1033.7,80 M986.6,30 L1036.6,80 M989.5,30 L1039.5,80 M992.4,30 L1042.4,80 M995.3,30 L1045.3,80 M998.2,30 L1048.2,80 M1001.1,30 L1051.1,80 M1004.0,30 L1054.0,80 M1006.9,30 L1056.9,80 " stroke-width="0.7"/></g>
</g>
<path d="M1001,51.5 Q1003,46.5 1008,46.5 Q1012,46.8 1013.5,50.7 M1004,51.3 H1012 M1002,57.8 Q1006,56 1016.6,58.2 M1005,61 Q1009,60 1014.5,60.6 M1000.5,54 Q1000.3,57 1002,58.5" stroke="#0a2466" stroke-width="1.2" fill="none"/>
<path d="M1011,42.5 Q1016,45 1017.8,50 M1018,52 L1018,56" stroke="#0a2466" stroke-width="0.9" fill="none" stroke-dasharray="1.5,1"/>
<text x="1022" y="65.5" font-size="43" font-weight="bold" fill="#0d2a6b" textLength="66" lengthAdjust="spacingAndGlyphs">esa</text>
<g filter="url(#pfp1)"><g shape-rendering="crispEdges"><rect x="165" y="131.0" width="10.3" height="161.0" fill="url(#p10)"/><rect x="175" y="131.0" width="10.3" height="161.0" fill="url(#p11)"/><rect x="185" y="131.0" width="10.3" height="161.0" fill="url(#p12)"/><rect x="195" y="131.0" width="10.3" height="161.0" fill="url(#p13)"/><rect x="205" y="131.0" width="10.3" height="161.0" fill="url(#p14)"/><rect x="215" y="131.0" width="10.3" height="161.0" fill="url(#p15)"/><rect x="225" y="131.0" width="10.3" height="161.0" fill="url(#p16)"/><rect x="235" y="131.0" width="10.3" height="161.0" fill="url(#p17)"/><rect x="245" y="131.0" width="10.3" height="161.0" fill="url(#p18)"/><rect x="255" y="131.0" width="10.3" height="161.0" fill="url(#p19)"/><rect x="265" y="131.0" width="10.3" height="161.0" fill="url(#p110)"/><rect x="275" y="131.0" width="10.3" height="161.0" fill="url(#p111)"/><rect x="285" y="131.0" width="10.3" height="161.0" fill="url(#p112)"/><rect x="295" y="131.0" width="10.3" height="161.0" fill="url(#p113)"/><rect x="305" y="131.0" width="10.3" height="161.0" fill="url(#p114)"/><rect x="315" y="131.0" width="10.3" height="161.0" fill="url(#p115)"/><rect x="325" y="131.0" width="10.3" height="161.0" fill="url(#p116)"/><rect x="335" y="131.0" width="10.3" height="161.0" fill="url(#p117)"/><rect x="345" y="131.0" width="10.3" height="161.0" fill="url(#p118)"/><rect x="355" y="131.0" width="10.3" height="161.0" fill="url(#p119)"/><rect x="365" y="131.0" width="10.3" height="161.0" fill="url(#p120)"/><rect x="375" y="131.0" width="10.3" height="161.0" fill="url(#p121)"/><rect x="385" y="131.0" width="10.3" height="161.0" fill="url(#p122)"/><rect x="395" y="131.0" width="10.3" height="161.0" fill="url(#p123)"/><rect x="405" y="131.0" width="10.3" height="161.0" fill="url(#p124)"/><rect x="415" y="131.0" width="10.3" height="161.0" fill="url(#p125)"/><rect x="425" y="131.0" width="10.3" height="161.0" fill="url(#p126)"/><rect x="435" y="131.0" width="10.3" height="161.0" fill="url(#p127)"/><rect x="445" y="131.0" width="10.3" height="161.0" fill="url(#p128)"/><rect x="455" y="131.0" width="10.3" height="161.0" fill="url(#p129)"/><rect x="465" y="131.0" width="10.3" height="161.0" fill="url(#p130)"/><rect x="475" y="131.0" width="10.3" height="161.0" fill="url(#p131)"/><rect x="485" y="131.0" width="10.3" height="161.0" fill="url(#p132)"/><rect x="495" y="131.0" width="10.3" height="161.0" fill="url(#p133)"/><rect x="505" y="131.0" width="10.3" height="161.0" fill="url(#p134)"/><rect x="515" y="131.0" width="10.3" height="161.0" fill="url(#p135)"/><rect x="525" y="131.0" width="10.3" height="161.0" fill="url(#p136)"/><rect x="535" y="131.0" width="10.3" height="161.0" fill="url(#p137)"/><rect x="545" y="131.0" width="10.3" height="161.0" fill="url(#p138)"/><rect x="555" y="131.0" width="10.3" height="161.0" fill="url(#p139)"/><rect x="565" y="131.0" width="10.3" height="161.0" fill="url(#p140)"/><rect x="575" y="131.0" width="10.3" height="161.0" fill="url(#p141)"/><rect x="585" y="131.0" width="10.3" height="161.0" fill="url(#p142)"/><rect x="595" y="131.0" width="10.3" height="161.0" fill="url(#p143)"/><rect x="605" y="131.0" width="10.3" height="161.0" fill="url(#p144)"/><rect x="615" y="131.0" width="10.3" height="161.0" fill="url(#p145)"/><rect x="625" y="131.0" width="10.3" height="161.0" fill="url(#p146)"/><rect x="635" y="131.0" width="10.3" height="161.0" fill="url(#p147)"/><rect x="645" y="131.0" width="10.3" height="161.0" fill="url(#p148)"/><rect x="655" y="131.0" width="10.3" height="161.0" fill="url(#p149)"/><rect x="665" y="131.0" width="10.3" height="161.0" fill="url(#p150)"/><rect x="675" y="131.0" width="10.3" height="161.0" fill="url(#p151)"/><rect x="685" y="131.0" width="10.3" height="161.0" fill="url(#p152)"/><rect x="695" y="131.0" width="10.3" height="161.0" fill="url(#p153)"/><rect x="705" y="131.0" width="10.3" height="161.0" fill="url(#p154)"/><rect x="715" y="131.0" width="10.3" height="161.0" fill="url(#p155)"/><rect x="725" y="131.0" width="10.3" height="161.0" fill="url(#p156)"/><rect x="735" y="131.0" width="10.3" height="161.0" fill="url(#p157)"/><rect x="745" y="131.0" width="10.3" height="161.0" fill="url(#p158)"/><rect x="755" y="131.0" width="10.3" height="161.0" fill="url(#p159)"/><rect x="765" y="131.0" width="10.3" height="161.0" fill="url(#p160)"/><rect x="775" y="131.0" width="10.3" height="161.0" fill="url(#p161)"/><rect x="785" y="131.0" width="10.3" height="161.0" fill="url(#p162)"/><rect x="795" y="131.0" width="10.3" height="161.0" fill="url(#p163)"/><rect x="805" y="131.0" width="10.3" height="161.0" fill="url(#p164)"/><rect x="815" y="131.0" width="10.3" height="161.0" fill="url(#p165)"/><rect x="825" y="131.0" width="10.3" height="161.0" fill="url(#p166)"/><rect x="835" y="131.0" width="10.3" height="161.0" fill="url(#p167)"/><rect x="845" y="131.0" width="10.3" height="161.0" fill="url(#p168)"/><rect x="855" y="131.0" width="10.3" height="161.0" fill="url(#p169)"/><rect x="865" y="131.0" width="10.3" height="161.0" fill="url(#p170)"/><rect x="875" y="131.0" width="10.3" height="161.0" fill="url(#p171)"/><rect x="885" y="131.0" width="10.3" height="161.0" fill="url(#p172)"/><rect x="895" y="131.0" width="10.3" height="161.0" fill="url(#p173)"/><rect x="905" y="131.0" width="10.3" height="161.0" fill="url(#p174)"/><rect x="915" y="131.0" width="10.3" height="161.0" fill="url(#p175)"/><rect x="925" y="131.0" width="10.3" height="161.0" fill="url(#p176)"/><rect x="935" y="131.0" width="10.3" height="161.0" fill="url(#p177)"/><rect x="945" y="131.0" width="10.3" height="161.0" fill="url(#p178)"/><rect x="955" y="131.0" width="10.3" height="161.0" fill="url(#p179)"/><rect x="965" y="131.0" width="10.3" height="161.0" fill="url(#p180)"/><rect x="975" y="131.0" width="10.3" height="161.0" fill="url(#p181)"/><rect x="985" y="131.0" width="10.3" height="161.0" fill="url(#p182)"/><rect x="995" y="131.0" width="10.3" height="161.0" fill="url(#p183)"/><rect x="1005" y="131.0" width="10.3" height="161.0" fill="url(#p184)"/><rect x="1015" y="131.0" width="10.3" height="161.0" fill="url(#p185)"/><rect x="1025" y="131.0" width="10.3" height="161.0" fill="url(#p186)"/><rect x="1035" y="131.0" width="10.3" height="161.0" fill="url(#p187)"/><rect x="1045" y="131.0" width="10.3" height="161.0" fill="url(#p188)"/><rect x="1055" y="131.0" width="10.3" height="161.0" fill="url(#p189)"/><rect x="1065" y="131.0" width="10.3" height="161.0" fill="url(#p190)"/><rect x="1075" y="131.0" width="10.3" height="161.0" fill="url(#p191)"/><rect x="1085" y="131.0" width="10.3" height="161.0" fill="url(#p192)"/><rect x="1095" y="131.0" width="10.3" height="161.0" fill="url(#p193)"/><rect x="1105" y="131.0" width="10.3" height="161.0" fill="url(#p194)"/><rect x="1115" y="131.0" width="10.3" height="161.0" fill="url(#p195)"/><rect x="1125" y="131.0" width="10.3" height="161.0" fill="url(#p196)"/><rect x="1135" y="131.0" width="10.3" height="161.0" fill="url(#p197)"/><rect x="1145" y="131.0" width="9.3" height="161.0" fill="url(#p198)"/></g><path d="M168.0,290.0 L170.2,286.4 L172.5,283.4 L174.7,281.3 L177.0,280.6 L179.2,281.3 L181.5,283.4 L183.7,286.4 L186.0,290.0 M186.0,290.0 L189.1,287.3 L192.2,285.0 L195.3,283.5 L198.4,283.0 L201.5,283.5 L204.7,285.0 L207.8,287.3 L210.9,290.0 M210.9,290.0 L213.6,287.0 L216.4,284.5 L219.1,282.8 L221.9,282.2 L224.6,282.8 L227.3,284.5 L230.1,287.0 L232.8,290.0 M232.8,290.0 L235.8,286.5 L238.7,283.5 L241.7,281.5 L244.7,280.8 L247.6,281.5 L250.6,283.5 L253.5,286.5 L256.5,290.0 M256.5,290.0 L258.7,287.7 L260.9,285.7 L263.1,284.4 L265.3,283.9 L267.5,284.4 L269.6,285.7 L271.8,287.7 L274.0,290.0 M274.0,290.0 L277.2,287.0 L280.5,284.5 L283.7,282.9 L286.9,282.3 L290.1,282.9 L293.3,284.5 L296.5,287.0 L299.7,290.0 M299.7,290.0 L302.8,287.7 L305.9,285.8 L309.1,284.4 L312.2,284.0 L315.3,284.4 L318.4,285.8 L321.5,287.7 L324.6,290.0 " stroke="#b8b8b8" stroke-width="1.2" fill="none" opacity="0.85" stroke-linejoin="round"/><path d="M300.0,290.0 L303.7,283.2 L307.4,277.5 L311.1,273.7 L314.8,272.3 L318.5,273.7 L322.2,277.5 L325.9,283.2 L329.6,290.0 M329.6,290.0 L332.1,285.2 L334.7,281.2 L337.3,278.4 L339.8,277.5 L342.4,278.4 L345.0,281.2 L347.6,285.2 L350.1,290.0 M350.1,290.0 L353.7,283.7 L357.2,278.4 L360.8,274.8 L364.3,273.6 L367.8,274.8 L371.4,278.4 L374.9,283.7 L378.5,290.0 M378.5,290.0 L381.8,284.7 L385.2,280.2 L388.5,277.2 L391.8,276.2 L395.2,277.2 L398.5,280.2 L401.8,284.7 L405.2,290.0 M405.2,290.0 L408.4,284.0 L411.7,278.9 L415.0,275.5 L418.2,274.4 L421.5,275.5 L424.7,278.9 L428.0,284.0 L431.2,290.0 " stroke="#bdbdbd" stroke-width="1.3" fill="none" opacity="0.90" stroke-linejoin="round"/><path d="M420.0,290.0 L422.9,284.9 L425.8,280.6 L428.7,277.8 L431.6,276.8 L434.5,277.8 L437.5,280.6 L440.4,284.9 L443.3,290.0 M443.3,290.0 L446.4,284.8 L449.4,280.4 L452.5,277.5 L455.6,276.5 L458.7,277.5 L461.8,280.4 L464.8,284.8 L467.9,290.0 M467.9,290.0 L471.3,285.9 L474.7,282.4 L478.2,280.1 L481.6,279.3 L485.0,280.1 L488.4,282.4 L491.8,285.9 L495.2,290.0 M495.2,290.0 L497.8,284.4 L500.5,279.6 L503.1,276.4 L505.7,275.2 L508.3,276.4 L510.9,279.6 L513.5,284.4 L516.2,290.0 M516.2,290.0 L519.1,285.6 L522.0,281.8 L525.0,279.3 L527.9,278.4 L530.9,279.3 L533.8,281.8 L536.7,285.6 L539.7,290.0 M539.7,290.0 L543.6,285.1 L547.5,280.9 L551.3,278.1 L555.2,277.2 L559.1,278.1 L563.0,280.9 L566.9,285.1 L570.8,290.0 " stroke="#b8b8b8" stroke-width="1.3" fill="none" opacity="0.90" stroke-linejoin="round"/><path d="M400.0,236.0 L403.4,238.3 L406.8,240.2 L410.1,241.5 L413.5,242.0 L416.9,241.5 L420.2,240.2 L423.6,238.3 L427.0,236.0 M427.0,236.0 L430.4,238.3 L433.8,240.2 L437.1,241.5 L440.5,242.0 L443.9,241.5 L447.2,240.2 L450.6,238.3 L454.0,236.0 M454.0,236.0 L457.4,238.3 L460.8,240.2 L464.1,241.5 L467.5,242.0 L470.9,241.5 L474.2,240.2 L477.6,238.3 L481.0,236.0 M481.0,236.0 L484.4,238.3 L487.8,240.2 L491.1,241.5 L494.5,242.0 L497.9,241.5 L501.2,240.2 L504.6,238.3 L508.0,236.0 M508.0,236.0 L511.4,238.3 L514.8,240.2 L518.1,241.5 L521.5,242.0 L524.9,241.5 L528.2,240.2 L531.6,238.3 L535.0,236.0 M535.0,236.0 L538.4,238.3 L541.8,240.2 L545.1,241.5 L548.5,242.0 L551.9,241.5 L555.2,240.2 L558.6,238.3 L562.0,236.0 M562.0,236.0 L565.4,238.3 L568.8,240.2 L572.1,241.5 L575.5,242.0 L578.9,241.5 L582.2,240.2 L585.6,238.3 L589.0,236.0 " stroke="#8f8f8f" stroke-width="1.2" fill="none" opacity="0.80" stroke-linejoin="round"/><rect x="380" y="210.5" width="190" height="1.2" fill="#808080" opacity="0.6"/><path d="M586.0,290.0 L589.5,286.2 L593.1,283.0 L596.6,280.9 L600.2,280.1 L603.7,280.9 L607.2,283.0 L610.8,286.2 L614.3,290.0 M614.3,290.0 L618.1,285.9 L621.9,282.5 L625.6,280.2 L629.4,279.4 L633.2,280.2 L637.0,282.5 L640.7,285.9 L644.5,290.0 M644.5,290.0 L648.2,286.0 L651.9,282.6 L655.6,280.3 L659.3,279.5 L663.0,280.3 L666.7,282.6 L670.4,286.0 L674.1,290.0 " stroke="#b2b2b2" stroke-width="1.2" fill="none" opacity="0.85" stroke-linejoin="round"/><path d="M745.0,290.0 L748.9,285.2 L752.8,281.2 L756.7,278.5 L760.6,277.6 L764.6,278.5 L768.5,281.2 L772.4,285.2 L776.3,290.0 M776.3,290.0 L779.8,286.2 L783.2,283.0 L786.7,280.8 L790.2,280.0 L793.7,280.8 L797.2,283.0 L800.6,286.2 L804.1,290.0 M804.1,290.0 L806.9,285.5 L809.7,281.7 L812.5,279.2 L815.3,278.3 L818.1,279.2 L820.9,281.7 L823.7,285.5 L826.5,290.0 M826.5,290.0 L830.0,285.4 L833.4,281.4 L836.9,278.8 L840.4,277.9 L843.8,278.8 L847.3,281.4 L850.7,285.4 L854.2,290.0 M854.2,290.0 L857.5,285.3 L860.8,281.4 L864.2,278.7 L867.5,277.8 L870.8,278.7 L874.1,281.4 L877.4,285.3 L880.8,290.0 M880.8,290.0 L884.0,285.3 L887.1,281.3 L890.3,278.6 L893.5,277.7 L896.7,278.6 L899.9,281.3 L903.0,285.3 L906.2,290.0 M906.2,290.0 L910.0,285.9 L913.9,282.5 L917.7,280.2 L921.5,279.4 L925.3,280.2 L929.2,282.5 L933.0,285.9 L936.8,290.0 M936.8,290.0 L940.4,285.5 L943.9,281.7 L947.5,279.1 L951.0,278.2 L954.6,279.1 L958.1,281.7 L961.7,285.5 L965.2,290.0 M965.2,290.0 L968.3,285.7 L971.4,282.1 L974.4,279.6 L977.5,278.8 L980.6,279.6 L983.6,282.1 L986.7,285.7 L989.8,290.0 M989.8,290.0 L993.7,286.2 L997.6,283.0 L1001.6,280.8 L1005.5,280.0 L1009.4,280.8 L1013.4,283.0 L1017.3,286.2 L1021.2,290.0 M1021.2,290.0 L1025.1,285.5 L1029.1,281.6 L1033.0,279.1 L1036.9,278.2 L1040.8,279.1 L1044.8,281.6 L1048.7,285.5 L1052.6,290.0 M1052.6,290.0 L1056.6,286.1 L1060.6,282.7 L1064.5,280.5 L1068.5,279.7 L1072.5,280.5 L1076.5,282.7 L1080.5,286.1 L1084.5,290.0 M1084.5,290.0 L1087.4,285.3 L1090.3,281.3 L1093.3,278.6 L1096.2,277.7 L1099.1,278.6 L1102.0,281.3 L1105.0,285.3 L1107.9,290.0 M1107.9,290.0 L1111.8,285.9 L1115.8,282.4 L1119.7,280.1 L1123.6,279.2 L1127.5,280.1 L1131.5,282.4 L1135.4,285.9 L1139.3,290.0 M1139.3,290.0 L1142.2,286.3 L1145.2,283.2 L1148.1,281.1 L1151.0,280.3 L1154.0,281.1 L1156.9,283.2 L1159.8,286.3 L1162.8,290.0 " stroke="#b2b2b2" stroke-width="1.2" fill="none" opacity="0.85" stroke-linejoin="round"/><path d="M760.0,279.0 L763.3,276.0 L766.5,273.5 L769.8,271.8 L773.0,271.3 L776.3,271.8 L779.5,273.5 L782.8,276.0 L786.0,279.0 M786.0,279.0 L789.7,276.1 L793.4,273.7 L797.2,272.1 L800.9,271.5 L804.6,272.1 L808.3,273.7 L812.0,276.1 L815.7,279.0 M815.7,279.0 L819.3,275.7 L822.8,273.0 L826.4,271.1 L829.9,270.5 L833.5,271.1 L837.0,273.0 L840.6,275.7 L844.1,279.0 M844.1,279.0 L847.0,275.5 L849.9,272.6 L852.8,270.7 L855.6,270.0 L858.5,270.7 L861.4,272.6 L864.3,275.5 L867.2,279.0 M867.2,279.0 L870.0,275.6 L872.9,272.8 L875.7,270.9 L878.6,270.2 L881.4,270.9 L884.3,272.8 L887.1,275.6 L890.0,279.0 M890.0,279.0 L892.9,276.1 L895.8,273.7 L898.7,272.0 L901.6,271.5 L904.5,272.0 L907.4,273.7 L910.3,276.1 L913.2,279.0 M913.2,279.0 L916.6,275.1 L920.0,271.8 L923.4,269.6 L926.7,268.8 L930.1,269.6 L933.5,271.8 L936.9,275.1 L940.3,279.0 M940.3,279.0 L943.3,275.9 L946.3,273.3 L949.2,271.6 L952.2,271.0 L955.2,271.6 L958.2,273.3 L961.1,275.9 L964.1,279.0 M964.1,279.0 L967.8,274.9 L971.5,271.5 L975.1,269.2 L978.8,268.4 L982.5,269.2 L986.2,271.5 L989.9,274.9 L993.5,279.0 M993.5,279.0 L997.1,275.7 L1000.8,272.9 L1004.4,271.0 L1008.0,270.4 L1011.6,271.0 L1015.2,272.9 L1018.8,275.7 L1022.4,279.0 M1022.4,279.0 L1026.6,276.2 L1030.7,273.8 L1034.9,272.2 L1039.1,271.6 L1043.2,272.2 L1047.4,273.8 L1051.6,276.2 L1055.7,279.0 M1055.7,279.0 L1059.7,275.8 L1063.7,273.2 L1067.7,271.4 L1071.7,270.8 L1075.7,271.4 L1079.7,273.2 L1083.8,275.8 L1087.8,279.0 M1087.8,279.0 L1090.8,276.1 L1093.8,273.6 L1096.8,272.0 L1099.8,271.4 L1102.8,272.0 L1105.8,273.6 L1108.8,276.1 L1111.8,279.0 M1111.8,279.0 L1115.0,275.1 L1118.2,271.8 L1121.5,269.6 L1124.7,268.9 L1127.9,269.6 L1131.2,271.8 L1134.4,275.1 L1137.6,279.0 M1137.6,279.0 L1140.7,275.4 L1143.7,272.4 L1146.8,270.4 L1149.8,269.7 L1152.9,270.4 L1155.9,272.4 L1159.0,275.4 L1162.0,279.0 " stroke="#a3a3a3" stroke-width="1.2" fill="none" opacity="0.70" stroke-linejoin="round"/><rect x="377" y="131" width="1.5" height="160" fill="#999999" opacity="0.6"/><rect x="305.0" y="276.0" width="27.0" height="15.0" fill="url(#glow474354)"/><rect x="328.4" y="279.3" width="1" height="11.7" fill="#d1d1d1"/><rect x="326.1" y="287.4" width="1" height="3.6" fill="#d1d1d1"/><rect x="328.1" y="289.7" width="1" height="1.3" fill="#d1d1d1"/><rect x="326.7" y="287.1" width="1" height="3.9" fill="#d1d1d1"/><rect x="321.6" y="289.8" width="1" height="1.2" fill="#d1d1d1"/><rect x="317.1" y="290.1" width="1" height="0.9" fill="#d1d1d1"/><rect x="319.5" y="277.7" width="1" height="13.3" fill="#d1d1d1"/><rect x="322.1" y="285.6" width="1" height="5.4" fill="#d1d1d1"/><rect x="315.7" y="287.4" width="1" height="3.6" fill="#d1d1d1"/><rect x="325.0" y="284.7" width="1" height="6.3" fill="#d1d1d1"/><rect x="321.8" y="280.3" width="1" height="10.7" fill="#d1d1d1"/><rect x="306.7" y="290.8" width="1" height="0.2" fill="#d1d1d1"/><rect x="328.7" y="285.5" width="1" height="5.5" fill="#d1d1d1"/><rect x="326.0" y="288.6" width="1" height="2.4" fill="#d1d1d1"/><rect x="321.0" y="289.7" width="1" height="1.3" fill="#d1d1d1"/><rect x="311.3" y="288.9" width="1" height="2.1" fill="#d1d1d1"/><rect x="305.1" y="290.5" width="1" height="0.5" fill="#d1d1d1"/><rect x="322.7" y="287.9" width="1" height="3.1" fill="#d1d1d1"/><rect x="319.9" y="276.0" width="1" height="15.0" fill="#d1d1d1"/><rect x="307.2" y="289.2" width="1" height="1.8" fill="#d1d1d1"/><rect x="325.5" y="286.7" width="1" height="4.3" fill="#d1d1d1"/><rect x="305.8" y="286.0" width="1" height="5.0" fill="#d1d1d1"/><rect x="307.9" y="290.3" width="1" height="0.7" fill="#d1d1d1"/><rect x="312.9" y="290.6" width="1" height="0.4" fill="#d1d1d1"/><rect x="305.5" y="284.1" width="1" height="6.9" fill="#d1d1d1"/><rect x="310.8" y="276.0" width="1" height="15.0" fill="#d1d1d1"/><rect x="306.4" y="288.2" width="1" height="2.8" fill="#d1d1d1"/><rect x="324.1" y="287.7" width="1" height="3.3" fill="#d1d1d1"/><rect x="320.3" y="289.7" width="1" height="1.3" fill="#d1d1d1"/><rect x="323.2" y="288.5" width="1" height="2.5" fill="#d1d1d1"/><rect x="313.4" y="290.9" width="1" height="0.1" fill="#d1d1d1"/><rect x="316.1" y="276.0" width="1" height="15.0" fill="#d1d1d1"/><rect x="388.0" y="276.0" width="22.0" height="15.0" fill="url(#glow474354)"/><rect x="391.0" y="283.6" width="1" height="7.4" fill="#d1d1d1"/><rect x="388.2" y="287.2" width="1" height="3.8" fill="#d1d1d1"/><rect x="398.7" y="284.1" width="1" height="6.9" fill="#d1d1d1"/><rect x="392.1" y="286.7" width="1" height="4.3" fill="#d1d1d1"/><rect x="409.7" y="282.2" width="1" height="8.8" fill="#d1d1d1"/><rect x="397.2" y="288.1" width="1" height="2.9" fill="#d1d1d1"/><rect x="396.7" y="276.0" width="1" height="15.0" fill="#d1d1d1"/><rect x="388.0" y="279.0" width="1" height="12.0" fill="#d1d1d1"/><rect x="409.4" y="285.6" width="1" height="5.4" fill="#d1d1d1"/><rect x="410.0" y="290.9" width="1" height="0.1" fill="#d1d1d1"/><rect x="392.1" y="276.0" width="1" height="15.0" fill="#d1d1d1"/><rect x="401.2" y="285.8" width="1" height="5.2" fill="#d1d1d1"/><rect x="388.9" y="290.1" width="1" height="0.9" fill="#d1d1d1"/><rect x="397.7" y="290.9" width="1" height="0.1" fill="#d1d1d1"/><rect x="401.4" y="280.4" width="1" height="10.6" fill="#d1d1d1"/><rect x="396.5" y="290.5" width="1" height="0.5" fill="#d1d1d1"/><rect x="392.6" y="284.9" width="1" height="6.1" fill="#d1d1d1"/><rect x="388.3" y="288.2" width="1" height="2.8" fill="#d1d1d1"/><rect x="401.7" y="290.2" width="1" height="0.8" fill="#d1d1d1"/><rect x="400.9" y="280.3" width="1" height="10.7" fill="#d1d1d1"/><rect x="391.0" y="288.1" width="1" height="2.9" fill="#d1d1d1"/><rect x="401.8" y="288.8" width="1" height="2.2" fill="#d1d1d1"/><rect x="393.0" y="285.3" width="1" height="5.7" fill="#d1d1d1"/><rect x="404.0" y="290.0" width="1" height="1.0" fill="#d1d1d1"/><rect x="401.8" y="286.2" width="1" height="4.8" fill="#d1d1d1"/><rect x="403.1" y="288.1" width="1" height="2.9" fill="#d1d1d1"/><rect x="800.0" y="276.0" width="40.0" height="15.0" fill="url(#glow474354)"/><rect x="819.3" y="290.5" width="1" height="0.5" fill="#d1d1d1"/><rect x="801.9" y="290.3" width="1" height="0.7" fill="#d1d1d1"/><rect x="820.5" y="289.2" width="1" height="1.8" fill="#d1d1d1"/><rect x="829.6" y="288.0" width="1" height="3.0" fill="#d1d1d1"/><rect x="816.8" y="276.9" width="1" height="14.1" fill="#d1d1d1"/><rect x="819.6" y="286.6" width="1" height="4.4" fill="#d1d1d1"/><rect x="837.2" y="276.0" width="1" height="15.0" fill="#d1d1d1"/><rect x="805.1" y="287.1" width="1" height="3.9" fill="#d1d1d1"/><rect x="826.1" y="285.3" width="1" height="5.7" fill="#d1d1d1"/><rect x="803.0" y="289.6" width="1" height="1.4" fill="#d1d1d1"/><rect x="836.6" y="282.7" width="1" height="8.3" fill="#d1d1d1"/><rect x="802.8" y="287.8" width="1" height="3.2" fill="#d1d1d1"/><rect x="810.0" y="290.7" width="1" height="0.3" fill="#d1d1d1"/><rect x="811.3" y="286.5" width="1" height="4.5" fill="#d1d1d1"/><rect x="838.9" y="290.4" width="1" height="0.6" fill="#d1d1d1"/><rect x="805.5" y="287.4" width="1" height="3.6" fill="#d1d1d1"/><rect x="813.2" y="283.1" width="1" height="7.9" fill="#d1d1d1"/><rect x="820.9" y="276.0" width="1" height="15.0" fill="#d1d1d1"/><rect x="823.6" y="276.0" width="1" height="15.0" fill="#d1d1d1"/><rect x="819.0" y="288.3" width="1" height="2.7" fill="#d1d1d1"/><rect x="812.5" y="290.8" width="1" height="0.2" fill="#d1d1d1"/><rect x="823.9" y="290.5" width="1" height="0.5" fill="#d1d1d1"/><rect x="802.7" y="288.8" width="1" height="2.2" fill="#d1d1d1"/><rect x="805.5" y="290.5" width="1" height="0.5" fill="#d1d1d1"/><rect x="818.1" y="288.2" width="1" height="2.8" fill="#d1d1d1"/><rect x="801.8" y="276.0" width="1" height="15.0" fill="#d1d1d1"/><rect x="829.5" y="290.2" width="1" height="0.8" fill="#d1d1d1"/><rect x="838.5" y="288.5" width="1" height="2.5" fill="#d1d1d1"/><rect x="803.4" y="287.2" width="1" height="3.8" fill="#d1d1d1"/><rect x="803.1" y="279.3" width="1" height="11.7" fill="#d1d1d1"/><rect x="837.8" y="290.8" width="1" height="0.2" fill="#d1d1d1"/><rect x="820.0" y="290.9" width="1" height="0.1" fill="#d1d1d1"/><rect x="826.5" y="288.1" width="1" height="2.9" fill="#d1d1d1"/><rect x="800.5" y="290.6" width="1" height="0.4" fill="#d1d1d1"/><rect x="803.6" y="290.3" width="1" height="0.7" fill="#d1d1d1"/><rect x="810.3" y="287.8" width="1" height="3.2" fill="#d1d1d1"/><rect x="813.2" y="276.0" width="1" height="15.0" fill="#d1d1d1"/><rect x="827.8" y="287.3" width="1" height="3.7" fill="#d1d1d1"/><rect x="818.5" y="286.3" width="1" height="4.7" fill="#d1d1d1"/><rect x="820.7" y="286.7" width="1" height="4.3" fill="#d1d1d1"/><rect x="812.4" y="290.4" width="1" height="0.6" fill="#d1d1d1"/><rect x="800.9" y="276.0" width="1" height="15.0" fill="#d1d1d1"/><rect x="804.5" y="281.9" width="1" height="9.1" fill="#d1d1d1"/><rect x="826.4" y="287.0" width="1" height="4.0" fill="#d1d1d1"/><rect x="835.9" y="288.2" width="1" height="2.8" fill="#d1d1d1"/><rect x="805.7" y="285.3" width="1" height="5.7" fill="#d1d1d1"/><rect x="820.7" y="282.6" width="1" height="8.4" fill="#d1d1d1"/><rect x="813.7" y="276.0" width="1" height="15.0" fill="#d1d1d1"/><rect x="895.0" y="276.0" width="10.0" height="15.0" fill="url(#glow474354)"/><rect x="900.0" y="289.3" width="1" height="1.7" fill="#d1d1d1"/><rect x="899.0" y="289.3" width="1" height="1.7" fill="#d1d1d1"/><rect x="901.3" y="281.2" width="1" height="9.8" fill="#d1d1d1"/><rect x="902.5" y="289.7" width="1" height="1.3" fill="#d1d1d1"/><rect x="897.1" y="289.5" width="1" height="1.5" fill="#d1d1d1"/><rect x="904.2" y="289.6" width="1" height="1.4" fill="#d1d1d1"/><rect x="896.3" y="288.4" width="1" height="2.6" fill="#d1d1d1"/><rect x="904.0" y="290.8" width="1" height="0.2" fill="#d1d1d1"/><rect x="895.6" y="276.0" width="1" height="15.0" fill="#d1d1d1"/><rect x="903.2" y="290.3" width="1" height="0.7" fill="#d1d1d1"/><rect x="899.7" y="276.0" width="1" height="15.0" fill="#d1d1d1"/><rect x="903.3" y="288.1" width="1" height="2.9" fill="#d1d1d1"/><rect x="376" y="258" width="1.5" height="33" fill="#e6e6e6"/></g>
<rect x="568.0" y="131.0" width="2.3" height="159.0" fill="#3e26a8"/>
<rect x="574.0" y="131.0" width="11.3" height="159.0" fill="#3e26a8"/>
<rect x="655.0" y="131.0" width="4.0" height="159.0" fill="#3e26a8"/>
<rect x="165" y="290.0" width="989" height="2" fill="#f7c43a"/>
<rect x="165" y="292.0" width="989.5" height="1.2" fill="#262626"/>
<g filter="url(#pfp2)"><g shape-rendering="crispEdges"><rect x="165" y="367.0" width="10.3" height="161.0" fill="url(#p20)"/><rect x="175" y="367.0" width="10.3" height="161.0" fill="url(#p21)"/><rect x="185" y="367.0" width="10.3" height="161.0" fill="url(#p22)"/><rect x="195" y="367.0" width="10.3" height="161.0" fill="url(#p23)"/><rect x="205" y="367.0" width="10.3" height="161.0" fill="url(#p24)"/><rect x="215" y="367.0" width="10.3" height="161.0" fill="url(#p25)"/><rect x="225" y="367.0" width="10.3" height="161.0" fill="url(#p26)"/><rect x="235" y="367.0" width="10.3" height="161.0" fill="url(#p27)"/><rect x="245" y="367.0" width="10.3" height="161.0" fill="url(#p28)"/><rect x="255" y="367.0" width="10.3" height="161.0" fill="url(#p29)"/><rect x="265" y="367.0" width="10.3" height="161.0" fill="url(#p210)"/><rect x="275" y="367.0" width="10.3" height="161.0" fill="url(#p211)"/><rect x="285" y="367.0" width="10.3" height="161.0" fill="url(#p212)"/><rect x="295" y="367.0" width="10.3" height="161.0" fill="url(#p213)"/><rect x="305" y="367.0" width="10.3" height="161.0" fill="url(#p214)"/><rect x="315" y="367.0" width="10.3" height="161.0" fill="url(#p215)"/><rect x="325" y="367.0" width="10.3" height="161.0" fill="url(#p216)"/><rect x="335" y="367.0" width="10.3" height="161.0" fill="url(#p217)"/><rect x="345" y="367.0" width="10.3" height="161.0" fill="url(#p218)"/><rect x="355" y="367.0" width="10.3" height="161.0" fill="url(#p219)"/><rect x="365" y="367.0" width="10.3" height="161.0" fill="url(#p220)"/><rect x="375" y="367.0" width="10.3" height="161.0" fill="url(#p221)"/><rect x="385" y="367.0" width="10.3" height="161.0" fill="url(#p222)"/><rect x="395" y="367.0" width="10.3" height="161.0" fill="url(#p223)"/><rect x="405" y="367.0" width="10.3" height="161.0" fill="url(#p224)"/><rect x="415" y="367.0" width="10.3" height="161.0" fill="url(#p225)"/><rect x="425" y="367.0" width="10.3" height="161.0" fill="url(#p226)"/><rect x="435" y="367.0" width="10.3" height="161.0" fill="url(#p227)"/><rect x="445" y="367.0" width="10.3" height="161.0" fill="url(#p228)"/><rect x="455" y="367.0" width="10.3" height="161.0" fill="url(#p229)"/><rect x="465" y="367.0" width="10.3" height="161.0" fill="url(#p230)"/><rect x="475" y="367.0" width="10.3" height="161.0" fill="url(#p231)"/><rect x="485" y="367.0" width="10.3" height="161.0" fill="url(#p232)"/><rect x="495" y="367.0" width="10.3" height="161.0" fill="url(#p233)"/><rect x="505" y="367.0" width="10.3" height="161.0" fill="url(#p234)"/><rect x="515" y="367.0" width="10.3" height="161.0" fill="url(#p235)"/><rect x="525" y="367.0" width="10.3" height="161.0" fill="url(#p236)"/><rect x="535" y="367.0" width="10.3" height="161.0" fill="url(#p237)"/><rect x="545" y="367.0" width="10.3" height="161.0" fill="url(#p238)"/><rect x="555" y="367.0" width="10.3" height="161.0" fill="url(#p239)"/><rect x="565" y="367.0" width="10.3" height="161.0" fill="url(#p240)"/><rect x="575" y="367.0" width="10.3" height="161.0" fill="url(#p241)"/><rect x="585" y="367.0" width="10.3" height="161.0" fill="url(#p242)"/><rect x="595" y="367.0" width="10.3" height="161.0" fill="url(#p243)"/><rect x="605" y="367.0" width="10.3" height="161.0" fill="url(#p244)"/><rect x="615" y="367.0" width="10.3" height="161.0" fill="url(#p245)"/><rect x="625" y="367.0" width="10.3" height="161.0" fill="url(#p246)"/><rect x="635" y="367.0" width="10.3" height="161.0" fill="url(#p247)"/><rect x="645" y="367.0" width="10.3" height="161.0" fill="url(#p248)"/><rect x="655" y="367.0" width="10.3" height="161.0" fill="url(#p249)"/><rect x="665" y="367.0" width="10.3" height="161.0" fill="url(#p250)"/><rect x="675" y="367.0" width="10.3" height="161.0" fill="url(#p251)"/><rect x="685" y="367.0" width="10.3" height="161.0" fill="url(#p252)"/><rect x="695" y="367.0" width="10.3" height="161.0" fill="url(#p253)"/><rect x="705" y="367.0" width="10.3" height="161.0" fill="url(#p254)"/><rect x="715" y="367.0" width="10.3" height="161.0" fill="url(#p255)"/><rect x="725" y="367.0" width="10.3" height="161.0" fill="url(#p256)"/><rect x="735" y="367.0" width="10.3" height="161.0" fill="url(#p257)"/><rect x="745" y="367.0" width="10.3" height="161.0" fill="url(#p258)"/><rect x="755" y="367.0" width="10.3" height="161.0" fill="url(#p259)"/><rect x="765" y="367.0" width="10.3" height="161.0" fill="url(#p260)"/><rect x="775" y="367.0" width="10.3" height="161.0" fill="url(#p261)"/><rect x="785" y="367.0" width="10.3" height="161.0" fill="url(#p262)"/><rect x="795" y="367.0" width="10.3" height="161.0" fill="url(#p263)"/><rect x="805" y="367.0" width="10.3" height="161.0" fill="url(#p264)"/><rect x="815" y="367.0" width="10.3" height="161.0" fill="url(#p265)"/><rect x="825" y="367.0" width="10.3" height="161.0" fill="url(#p266)"/><rect x="835" y="367.0" width="10.3" height="161.0" fill="url(#p267)"/><rect x="845" y="367.0" width="10.3" height="161.0" fill="url(#p268)"/><rect x="855" y="367.0" width="10.3" height="161.0" fill="url(#p269)"/><rect x="865" y="367.0" width="10.3" height="161.0" fill="url(#p270)"/><rect x="875" y="367.0" width="10.3" height="161.0" fill="url(#p271)"/><rect x="885" y="367.0" width="10.3" height="161.0" fill="url(#p272)"/><rect x="895" y="367.0" width="10.3" height="161.0" fill="url(#p273)"/><rect x="905" y="367.0" width="10.3" height="161.0" fill="url(#p274)"/><rect x="915" y="367.0" width="10.3" height="161.0" fill="url(#p275)"/><rect x="925" y="367.0" width="10.3" height="161.0" fill="url(#p276)"/><rect x="935" y="367.0" width="10.3" height="161.0" fill="url(#p277)"/><rect x="945" y="367.0" width="10.3" height="161.0" fill="url(#p278)"/><rect x="955" y="367.0" width="10.3" height="161.0" fill="url(#p279)"/><rect x="965" y="367.0" width="10.3" height="161.0" fill="url(#p280)"/><rect x="975" y="367.0" width="10.3" height="161.0" fill="url(#p281)"/><rect x="985" y="367.0" width="10.3" height="161.0" fill="url(#p282)"/><rect x="995" y="367.0" width="10.3" height="161.0" fill="url(#p283)"/><rect x="1005" y="367.0" width="10.3" height="161.0" fill="url(#p284)"/><rect x="1015" y="367.0" width="10.3" height="161.0" fill="url(#p285)"/><rect x="1025" y="367.0" width="10.3" height="161.0" fill="url(#p286)"/><rect x="1035" y="367.0" width="10.3" height="161.0" fill="url(#p287)"/><rect x="1045" y="367.0" width="10.3" height="161.0" fill="url(#p288)"/><rect x="1055" y="367.0" width="10.3" height="161.0" fill="url(#p289)"/><rect x="1065" y="367.0" width="10.3" height="161.0" fill="url(#p290)"/><rect x="1075" y="367.0" width="10.3" height="161.0" fill="url(#p291)"/><rect x="1085" y="367.0" width="10.3" height="161.0" fill="url(#p292)"/><rect x="1095" y="367.0" width="10.3" height="161.0" fill="url(#p293)"/><rect x="1105" y="367.0" width="10.3" height="161.0" fill="url(#p294)"/><rect x="1115" y="367.0" width="10.3" height="161.0" fill="url(#p295)"/><rect x="1125" y="367.0" width="10.3" height="161.0" fill="url(#p296)"/><rect x="1135" y="367.0" width="10.3" height="161.0" fill="url(#p297)"/><rect x="1145" y="367.0" width="9.3" height="161.0" fill="url(#p298)"/></g><path d="M166.0,527.0 L169.0,522.7 L171.9,519.1 L174.9,516.7 L177.8,515.8 L180.8,516.7 L183.7,519.1 L186.7,522.7 L189.7,527.0 M189.7,527.0 L193.0,522.8 L196.4,519.3 L199.8,516.9 L203.2,516.1 L206.6,516.9 L209.9,519.3 L213.3,522.8 L216.7,527.0 M216.7,527.0 L219.7,522.7 L222.7,519.0 L225.7,516.6 L228.7,515.7 L231.7,516.6 L234.8,519.0 L237.8,522.7 L240.8,527.0 M240.8,527.0 L243.5,522.8 L246.2,519.2 L248.9,516.8 L251.6,516.0 L254.3,516.8 L257.1,519.2 L259.8,522.8 L262.5,527.0 M262.5,527.0 L265.6,522.4 L268.7,518.5 L271.8,515.9 L275.0,515.0 L278.1,515.9 L281.2,518.5 L284.3,522.4 L287.4,527.0 M287.4,527.0 L290.1,523.0 L292.7,519.7 L295.3,517.4 L298.0,516.6 L300.6,517.4 L303.2,519.7 L305.9,523.0 L308.5,527.0 " stroke="#757575" stroke-width="1.2" fill="none" opacity="1.00" stroke-linejoin="round"/><path d="M300.0,527.0 L303.1,519.8 L306.2,513.7 L309.3,509.6 L312.4,508.1 L315.5,509.6 L318.6,513.7 L321.7,519.8 L324.8,527.0 M324.8,527.0 L328.1,520.9 L331.4,515.6 L334.7,512.2 L337.9,510.9 L341.2,512.2 L344.5,515.6 L347.8,520.9 L351.1,527.0 M351.1,527.0 L353.7,520.4 L356.4,514.8 L359.1,511.0 L361.7,509.7 L364.4,511.0 L367.1,514.8 L369.7,520.4 L372.4,527.0 M372.4,527.0 L375.3,519.5 L378.2,513.1 L381.1,508.8 L384.0,507.3 L387.0,508.8 L389.9,513.1 L392.8,519.5 L395.7,527.0 M395.7,527.0 L399.0,519.9 L402.3,513.9 L405.6,509.9 L408.9,508.5 L412.2,509.9 L415.5,513.9 L418.8,519.9 L422.1,527.0 M422.1,527.0 L425.3,519.8 L428.5,513.7 L431.7,509.6 L434.8,508.1 L438.0,509.6 L441.2,513.7 L444.4,519.8 L447.6,527.0 M447.6,527.0 L450.4,520.2 L453.1,514.5 L455.9,510.7 L458.7,509.3 L461.5,510.7 L464.3,514.5 L467.1,520.2 L469.9,527.0 M469.9,527.0 L472.7,519.3 L475.5,512.7 L478.3,508.3 L481.1,506.8 L483.9,508.3 L486.8,512.7 L489.6,519.3 L492.4,527.0 M492.4,527.0 L495.1,519.5 L497.8,513.1 L500.5,508.8 L503.2,507.3 L505.9,508.8 L508.6,513.1 L511.3,519.5 L514.1,527.0 M514.1,527.0 L516.8,519.7 L519.5,513.6 L522.2,509.4 L525.0,508.0 L527.7,509.4 L530.4,513.6 L533.1,519.7 L535.9,527.0 M535.9,527.0 L538.8,520.3 L541.8,514.6 L544.8,510.8 L547.8,509.5 L550.7,510.8 L553.7,514.6 L556.7,520.3 L559.6,527.0 M559.6,527.0 L563.1,521.1 L566.5,516.1 L570.0,512.8 L573.4,511.6 L576.9,512.8 L580.3,516.1 L583.8,521.1 L587.2,527.0 " stroke="#7a7a7a" stroke-width="1.2" fill="none" opacity="1.00" stroke-linejoin="round"/><path d="M166.0,514.0 L168.8,510.8 L171.6,508.0 L174.3,506.2 L177.1,505.6 L179.9,506.2 L182.7,508.0 L185.5,510.8 L188.3,514.0 M188.3,514.0 L191.4,510.6 L194.6,507.8 L197.8,505.8 L200.9,505.2 L204.1,505.8 L207.3,507.8 L210.4,510.6 L213.6,514.0 M213.6,514.0 L216.3,511.2 L219.0,508.8 L221.7,507.2 L224.5,506.6 L227.2,507.2 L229.9,508.8 L232.6,511.2 L235.3,514.0 M235.3,514.0 L238.0,511.2 L240.7,508.8 L243.4,507.2 L246.1,506.7 L248.7,507.2 L251.4,508.8 L254.1,511.2 L256.8,514.0 M256.8,514.0 L260.0,511.3 L263.2,509.0 L266.4,507.4 L269.6,506.9 L272.8,507.4 L276.1,509.0 L279.3,511.3 L282.5,514.0 M282.5,514.0 L285.5,511.2 L288.5,508.8 L291.6,507.2 L294.6,506.7 L297.6,507.2 L300.6,508.8 L303.7,511.2 L306.7,514.0 " stroke="#737373" stroke-width="1.2" fill="none" opacity="1.00" stroke-linejoin="round"/><path d="M586.0,527.0 L588.9,521.3 L591.7,516.5 L594.6,513.3 L597.5,512.1 L600.3,513.3 L603.2,516.5 L606.1,521.3 L608.9,527.0 M608.9,527.0 L612.3,520.9 L615.7,515.8 L619.1,512.4 L622.5,511.2 L625.9,512.4 L629.3,515.8 L632.7,520.9 L636.1,527.0 M636.1,527.0 L639.1,522.0 L642.2,517.8 L645.2,515.0 L648.2,514.0 L651.3,515.0 L654.3,517.8 L657.3,522.0 L660.3,527.0 M660.3,527.0 L663.8,521.4 L667.3,516.6 L670.8,513.5 L674.2,512.3 L677.7,513.5 L681.2,516.6 L684.7,521.4 L688.2,527.0 M688.2,527.0 L691.2,521.3 L694.3,516.6 L697.3,513.4 L700.4,512.2 L703.4,513.4 L706.5,516.6 L709.6,521.3 L712.6,527.0 M712.6,527.0 L715.8,521.2 L718.9,516.3 L722.1,513.0 L725.2,511.8 L728.4,513.0 L731.5,516.3 L734.7,521.2 L737.8,527.0 M737.8,527.0 L740.7,522.1 L743.6,517.9 L746.5,515.1 L749.3,514.2 L752.2,515.1 L755.1,517.9 L758.0,522.1 L760.8,527.0 M760.8,527.0 L764.5,521.9 L768.1,517.5 L771.8,514.6 L775.4,513.6 L779.0,514.6 L782.7,517.5 L786.3,521.9 L790.0,527.0 M790.0,527.0 L793.0,521.2 L796.0,516.2 L799.0,512.9 L802.0,511.7 L805.1,512.9 L808.1,516.2 L811.1,521.2 L814.1,527.0 M814.1,527.0 L817.5,522.2 L820.9,518.1 L824.2,515.4 L827.6,514.5 L831.0,515.4 L834.4,518.1 L837.8,522.2 L841.1,527.0 M841.1,527.0 L844.4,521.4 L847.7,516.6 L851.0,513.4 L854.3,512.3 L857.6,513.4 L860.9,516.6 L864.2,521.4 L867.5,527.0 M867.5,527.0 L870.5,521.4 L873.4,516.6 L876.3,513.5 L879.2,512.4 L882.1,513.5 L885.1,516.6 L888.0,521.4 L890.9,527.0 M890.9,527.0 L893.8,521.9 L896.7,517.6 L899.6,514.7 L902.4,513.7 L905.3,514.7 L908.2,517.6 L911.1,521.9 L914.0,527.0 M914.0,527.0 L916.8,522.1 L919.7,518.0 L922.5,515.2 L925.4,514.2 L928.2,515.2 L931.0,518.0 L933.9,522.1 L936.7,527.0 M936.7,527.0 L940.4,521.8 L944.2,517.4 L947.9,514.4 L951.6,513.4 L955.3,514.4 L959.0,517.4 L962.7,521.8 L966.5,527.0 M966.5,527.0 L970.2,521.7 L973.9,517.3 L977.6,514.3 L981.4,513.3 L985.1,514.3 L988.8,517.3 L992.6,521.7 L996.3,527.0 M996.3,527.0 L999.6,521.0 L1003.0,516.0 L1006.3,512.6 L1009.7,511.4 L1013.1,512.6 L1016.4,516.0 L1019.8,521.0 L1023.1,527.0 M1023.1,527.0 L1026.6,522.3 L1030.0,518.3 L1033.4,515.6 L1036.8,514.6 L1040.3,515.6 L1043.7,518.3 L1047.1,522.3 L1050.6,527.0 M1050.6,527.0 L1053.9,521.4 L1057.2,516.7 L1060.6,513.5 L1063.9,512.4 L1067.3,513.5 L1070.6,516.7 L1073.9,521.4 L1077.3,527.0 M1077.3,527.0 L1080.2,522.3 L1083.1,518.3 L1086.1,515.6 L1089.0,514.7 L1092.0,515.6 L1094.9,518.3 L1097.8,522.3 L1100.8,527.0 M1100.8,527.0 L1104.4,521.6 L1108.0,517.1 L1111.6,514.0 L1115.2,512.9 L1118.9,514.0 L1122.5,517.1 L1126.1,521.6 L1129.7,527.0 M1129.7,527.0 L1132.7,521.7 L1135.6,517.2 L1138.6,514.2 L1141.5,513.2 L1144.5,514.2 L1147.4,517.2 L1150.4,521.7 L1153.3,527.0 M1153.3,527.0 L1156.3,521.2 L1159.3,516.2 L1162.2,512.9 L1165.2,511.7 L1168.2,512.9 L1171.2,516.2 L1174.1,521.2 L1177.1,527.0 " stroke="#757575" stroke-width="1.2" fill="none" opacity="1.00" stroke-linejoin="round"/><path d="M800.0,512.0 L802.9,508.0 L805.8,504.5 L808.8,502.2 L811.7,501.4 L814.6,502.2 L817.5,504.5 L820.5,508.0 L823.4,512.0 M823.4,512.0 L826.8,508.2 L830.1,505.0 L833.5,502.8 L836.9,502.1 L840.3,502.8 L843.7,505.0 L847.1,508.2 L850.4,512.0 M850.4,512.0 L853.4,507.8 L856.4,504.3 L859.4,502.0 L862.3,501.1 L865.3,502.0 L868.3,504.3 L871.3,507.8 L874.2,512.0 M874.2,512.0 L877.8,508.2 L881.3,504.9 L884.9,502.7 L888.4,502.0 L892.0,502.7 L895.5,504.9 L899.1,508.2 L902.6,512.0 M902.6,512.0 L905.9,508.5 L909.1,505.5 L912.4,503.5 L915.6,502.8 L918.9,503.5 L922.2,505.5 L925.4,508.5 L928.7,512.0 M928.7,512.0 L931.4,508.3 L934.2,505.2 L937.0,503.1 L939.7,502.4 L942.5,503.1 L945.3,505.2 L948.0,508.3 L950.8,512.0 M950.8,512.0 L954.1,508.7 L957.5,505.8 L960.8,504.0 L964.1,503.3 L967.5,504.0 L970.8,505.8 L974.1,508.7 L977.5,512.0 M977.5,512.0 L981.0,508.5 L984.5,505.5 L988.1,503.5 L991.6,502.8 L995.1,503.5 L998.7,505.5 L1002.2,508.5 L1005.7,512.0 M1005.7,512.0 L1008.7,508.7 L1011.7,505.9 L1014.7,504.0 L1017.7,503.4 L1020.7,504.0 L1023.7,505.9 L1026.7,508.7 L1029.7,512.0 M1029.7,512.0 L1033.4,507.9 L1037.1,504.4 L1040.9,502.1 L1044.6,501.3 L1048.3,502.1 L1052.1,504.4 L1055.8,507.9 L1059.5,512.0 M1059.5,512.0 L1063.2,508.0 L1066.8,504.7 L1070.4,502.4 L1074.0,501.7 L1077.6,502.4 L1081.2,504.7 L1084.9,508.0 L1088.5,512.0 M1088.5,512.0 L1091.3,508.4 L1094.1,505.3 L1096.9,503.2 L1099.7,502.5 L1102.4,503.2 L1105.2,505.3 L1108.0,508.4 L1110.8,512.0 M1110.8,512.0 L1114.1,508.6 L1117.3,505.7 L1120.6,503.8 L1123.8,503.2 L1127.1,503.8 L1130.3,505.7 L1133.6,508.6 L1136.8,512.0 M1136.8,512.0 L1140.5,508.3 L1144.2,505.2 L1147.9,503.1 L1151.6,502.4 L1155.3,503.1 L1159.0,505.2 L1162.6,508.3 L1166.3,512.0 " stroke="#737373" stroke-width="1.2" fill="none" opacity="1.00" stroke-linejoin="round"/><path d="M166.0,456.0 L168.9,451.8 L171.9,448.2 L174.8,445.8 L177.7,444.9 L180.7,445.8 L183.6,448.2 L186.5,451.8 L189.5,456.0 M189.5,456.0 L192.6,451.2 L195.8,447.2 L199.0,444.5 L202.2,443.6 L205.4,444.5 L208.5,447.2 L211.7,451.2 L214.9,456.0 M214.9,456.0 L217.9,451.8 L220.9,448.2 L224.0,445.8 L227.0,444.9 L230.0,445.8 L233.0,448.2 L236.0,451.8 L239.0,456.0 M239.0,456.0 L242.1,451.2 L245.2,447.1 L248.3,444.3 L251.3,443.4 L254.4,444.3 L257.5,447.1 L260.6,451.2 L263.6,456.0 M263.6,456.0 L266.7,451.2 L269.7,447.1 L272.7,444.4 L275.7,443.4 L278.7,444.4 L281.8,447.1 L284.8,451.2 L287.8,456.0 M287.8,456.0 L291.2,451.7 L294.5,448.1 L297.9,445.7 L301.2,444.9 L304.6,445.7 L307.9,448.1 L311.3,451.7 L314.6,456.0 " stroke="#4f4f4f" stroke-width="1.1" fill="none" opacity="1.00" stroke-linejoin="round"/><path d="M420.0,456.0 L423.7,459.9 L427.4,463.2 L431.1,465.5 L434.8,466.2 L438.5,465.5 L442.2,463.2 L445.9,459.9 L449.6,456.0 M449.6,456.0 L453.1,460.1 L456.6,463.6 L460.1,465.9 L463.5,466.8 L467.0,465.9 L470.5,463.6 L474.0,460.1 L477.5,456.0 M477.5,456.0 L481.2,459.9 L484.9,463.3 L488.6,465.5 L492.4,466.3 L496.1,465.5 L499.8,463.3 L503.5,459.9 L507.3,456.0 M507.3,456.0 L510.9,460.8 L514.5,464.9 L518.1,467.7 L521.7,468.7 L525.4,467.7 L529.0,464.9 L532.6,460.8 L536.2,456.0 M536.2,456.0 L539.8,461.3 L543.4,465.8 L547.0,468.7 L550.6,469.8 L554.2,468.7 L557.8,465.8 L561.4,461.3 L565.0,456.0 M565.0,456.0 L568.0,460.4 L571.0,464.1 L574.0,466.5 L577.0,467.4 L580.0,466.5 L583.0,464.1 L586.0,460.4 L589.0,456.0 " stroke="#4f4f4f" stroke-width="1.1" fill="none" opacity="1.00" stroke-linejoin="round"/><path d="M166.0,437.0 L169.0,432.7 L172.0,429.0 L174.9,426.5 L177.9,425.7 L180.9,426.5 L183.9,429.0 L186.8,432.7 L189.8,437.0 M189.8,437.0 L192.9,432.0 L196.0,427.8 L199.2,425.0 L202.3,424.0 L205.4,425.0 L208.5,427.8 L211.7,432.0 L214.8,437.0 M214.8,437.0 L218.0,432.2 L221.3,428.1 L224.5,425.4 L227.8,424.5 L231.0,425.4 L234.3,428.1 L237.5,432.2 L240.8,437.0 M240.8,437.0 L243.7,432.4 L246.7,428.5 L249.7,425.9 L252.7,425.0 L255.7,425.9 L258.7,428.5 L261.7,432.4 L264.7,437.0 " stroke="#4c4c4c" stroke-width="1.1" fill="none" opacity="1.00" stroke-linejoin="round"/><path d="M400.0,437.0 L403.1,432.4 L406.2,428.6 L409.3,426.0 L412.5,425.1 L415.6,426.0 L418.7,428.6 L421.8,432.4 L424.9,437.0 M424.9,437.0 L428.1,432.5 L431.3,428.7 L434.4,426.1 L437.6,425.2 L440.8,426.1 L443.9,428.7 L447.1,432.5 L450.3,437.0 M450.3,437.0 L453.4,432.2 L456.6,428.1 L459.8,425.4 L462.9,424.4 L466.1,425.4 L469.2,428.1 L472.4,432.2 L475.6,437.0 M475.6,437.0 L478.6,432.2 L481.6,428.2 L484.6,425.5 L487.6,424.5 L490.6,425.5 L493.7,428.2 L496.7,432.2 L499.7,437.0 M499.7,437.0 L502.5,432.7 L505.2,429.0 L508.0,426.6 L510.8,425.7 L513.5,426.6 L516.3,429.0 L519.1,432.7 L521.9,437.0 M521.9,437.0 L525.0,432.9 L528.0,429.4 L531.1,427.1 L534.2,426.3 L537.3,427.1 L540.4,429.4 L543.5,432.9 L546.6,437.0 M546.6,437.0 L550.1,432.7 L553.6,429.0 L557.0,426.5 L560.5,425.7 L564.0,426.5 L567.5,429.0 L571.0,432.7 L574.5,437.0 " stroke="#4c4c4c" stroke-width="1.1" fill="none" opacity="1.00" stroke-linejoin="round"/><path d="M166.0,376.0 L169.5,372.5 L173.1,369.5 L176.6,367.5 L180.2,366.8 L183.7,367.5 L187.3,369.5 L190.8,372.5 L194.4,376.0 M194.4,376.0 L198.1,372.7 L201.8,369.9 L205.6,368.1 L209.3,367.4 L213.0,368.1 L216.7,369.9 L220.4,372.7 L224.2,376.0 M224.2,376.0 L227.8,372.3 L231.4,369.1 L235.0,367.0 L238.6,366.3 L242.2,367.0 L245.8,369.1 L249.4,372.3 L253.0,376.0 M253.0,376.0 L256.8,372.8 L260.6,370.0 L264.4,368.2 L268.2,367.6 L272.0,368.2 L275.7,370.0 L279.5,372.8 L283.3,376.0 " stroke="#424242" stroke-width="1.1" fill="none" opacity="1.00" stroke-linejoin="round"/><path d="M440.0,376.0 L443.5,379.8 L447.0,382.9 L450.6,385.1 L454.1,385.8 L457.6,385.1 L461.1,382.9 L464.7,379.8 L468.2,376.0 M468.2,376.0 L472.2,379.2 L476.2,382.0 L480.1,383.8 L484.1,384.4 L488.1,383.8 L492.1,382.0 L496.1,379.2 L500.1,376.0 M500.1,376.0 L503.8,379.7 L507.6,382.8 L511.4,384.8 L515.2,385.6 L518.9,384.8 L522.7,382.8 L526.5,379.7 L530.3,376.0 M530.3,376.0 L534.0,379.0 L537.6,381.6 L541.3,383.3 L545.0,383.9 L548.6,383.3 L552.3,381.6 L556.0,379.0 L559.6,376.0 M559.6,376.0 L562.6,379.3 L565.7,382.1 L568.7,384.0 L571.7,384.7 L574.7,384.0 L577.7,382.1 L580.7,379.3 L583.7,376.0 " stroke="#424242" stroke-width="1.1" fill="none" opacity="1.00" stroke-linejoin="round"/><path d="M760.0,460.0 L762.9,464.8 L765.9,468.9 L768.8,471.6 L771.8,472.6 L774.7,471.6 L777.6,468.9 L780.6,464.8 L783.5,460.0 M783.5,460.0 L786.6,464.2 L789.7,467.7 L792.8,470.1 L795.9,470.9 L799.0,470.1 L802.0,467.7 L805.1,464.2 L808.2,460.0 M808.2,460.0 L811.5,464.6 L814.7,468.5 L817.9,471.1 L821.2,472.0 L824.4,471.1 L827.7,468.5 L830.9,464.6 L834.1,460.0 M834.1,460.0 L837.4,464.5 L840.6,468.4 L843.8,470.9 L847.1,471.8 L850.3,470.9 L853.5,468.4 L856.8,464.5 L860.0,460.0 M860.0,460.0 L863.0,464.3 L866.0,467.9 L869.0,470.3 L872.1,471.1 L875.1,470.3 L878.1,467.9 L881.1,464.3 L884.1,460.0 M884.1,460.0 L887.6,464.4 L891.0,468.0 L894.5,470.5 L897.9,471.4 L901.3,470.5 L904.8,468.0 L908.2,464.4 L911.6,460.0 M911.6,460.0 L915.1,465.0 L918.5,469.2 L921.9,472.0 L925.3,473.0 L928.7,472.0 L932.2,469.2 L935.6,465.0 L939.0,460.0 M939.0,460.0 L942.6,465.2 L946.2,469.6 L949.8,472.6 L953.4,473.6 L957.0,472.6 L960.6,469.6 L964.3,465.2 L967.9,460.0 M967.9,460.0 L970.9,464.2 L973.8,467.8 L976.8,470.2 L979.8,471.1 L982.8,470.2 L985.8,467.8 L988.8,464.2 L991.8,460.0 M991.8,460.0 L995.3,464.7 L998.7,468.7 L1002.2,471.3 L1005.7,472.3 L1009.2,471.3 L1012.7,468.7 L1016.1,464.7 L1019.6,460.0 M1019.6,460.0 L1022.6,464.8 L1025.5,468.9 L1028.5,471.7 L1031.5,472.6 L1034.4,471.7 L1037.4,468.9 L1040.3,464.8 L1043.3,460.0 M1043.3,460.0 L1046.9,465.1 L1050.5,469.3 L1054.1,472.2 L1057.8,473.2 L1061.4,472.2 L1065.0,469.3 L1068.6,465.1 L1072.2,460.0 M1072.2,460.0 L1075.2,464.3 L1078.2,468.0 L1081.1,470.4 L1084.1,471.3 L1087.1,470.4 L1090.0,468.0 L1093.0,464.3 L1096.0,460.0 M1096.0,460.0 L1098.8,465.2 L1101.5,469.7 L1104.3,472.7 L1107.1,473.7 L1109.8,472.7 L1112.6,469.7 L1115.4,465.2 L1118.1,460.0 M1118.1,460.0 L1121.1,464.9 L1124.1,469.1 L1127.1,471.8 L1130.1,472.8 L1133.0,471.8 L1136.0,469.1 L1139.0,464.9 L1142.0,460.0 M1142.0,460.0 L1145.3,464.7 L1148.5,468.7 L1151.8,471.4 L1155.1,472.3 L1158.4,471.4 L1161.7,468.7 L1165.0,464.7 L1168.3,460.0 " stroke="#4f4f4f" stroke-width="1.1" fill="none" opacity="1.00" stroke-linejoin="round"/><path d="M760.0,433.0 L763.4,428.0 L766.8,423.8 L770.3,421.0 L773.7,420.0 L777.1,421.0 L780.5,423.8 L784.0,428.0 L787.4,433.0 M787.4,433.0 L790.7,428.4 L793.9,424.5 L797.2,421.9 L800.5,421.0 L803.7,421.9 L807.0,424.5 L810.3,428.4 L813.5,433.0 M813.5,433.0 L816.7,427.7 L819.8,423.3 L823.0,420.3 L826.1,419.2 L829.3,420.3 L832.4,423.3 L835.6,427.7 L838.7,433.0 M838.7,433.0 L841.8,428.9 L844.8,425.4 L847.8,423.1 L850.9,422.3 L853.9,423.1 L857.0,425.4 L860.0,428.9 L863.1,433.0 M863.1,433.0 L866.1,428.7 L869.1,425.1 L872.1,422.7 L875.1,421.9 L878.2,422.7 L881.2,425.1 L884.2,428.7 L887.2,433.0 M887.2,433.0 L890.3,428.7 L893.4,425.1 L896.4,422.7 L899.5,421.8 L902.6,422.7 L905.7,425.1 L908.8,428.7 L911.9,433.0 M911.9,433.0 L914.7,428.6 L917.6,425.0 L920.5,422.5 L923.3,421.6 L926.2,422.5 L929.1,425.0 L931.9,428.6 L934.8,433.0 M934.8,433.0 L937.9,428.3 L940.9,424.3 L944.0,421.7 L947.1,420.8 L950.1,421.7 L953.2,424.3 L956.3,428.3 L959.3,433.0 M959.3,433.0 L962.3,429.0 L965.2,425.6 L968.2,423.3 L971.2,422.5 L974.1,423.3 L977.1,425.6 L980.0,429.0 L983.0,433.0 M983.0,433.0 L986.0,428.3 L988.9,424.4 L991.9,421.8 L994.8,420.8 L997.8,421.8 L1000.8,424.4 L1003.7,428.3 L1006.7,433.0 M1006.7,433.0 L1009.8,428.1 L1013.0,423.9 L1016.1,421.1 L1019.2,420.2 L1022.4,421.1 L1025.5,423.9 L1028.7,428.1 L1031.8,433.0 M1031.8,433.0 L1035.4,428.5 L1038.9,424.7 L1042.4,422.2 L1046.0,421.3 L1049.5,422.2 L1053.1,424.7 L1056.6,428.5 L1060.2,433.0 M1060.2,433.0 L1063.0,428.1 L1065.9,423.9 L1068.7,421.2 L1071.6,420.2 L1074.5,421.2 L1077.3,423.9 L1080.2,428.1 L1083.0,433.0 M1083.0,433.0 L1086.5,428.6 L1090.0,424.8 L1093.5,422.3 L1097.0,421.4 L1100.5,422.3 L1104.0,424.8 L1107.5,428.6 L1111.0,433.0 M1111.0,433.0 L1114.4,428.7 L1117.8,425.0 L1121.3,422.6 L1124.7,421.7 L1128.1,422.6 L1131.5,425.0 L1134.9,428.7 L1138.3,433.0 M1138.3,433.0 L1141.9,427.9 L1145.6,423.7 L1149.2,420.8 L1152.9,419.8 L1156.5,420.8 L1160.2,423.7 L1163.9,427.9 L1167.5,433.0 " stroke="#4c4c4c" stroke-width="1.1" fill="none" opacity="1.00" stroke-linejoin="round"/><path d="M900.0,378.0 L903.9,381.6 L907.9,384.7 L911.8,386.8 L915.7,387.5 L919.6,386.8 L923.6,384.7 L927.5,381.6 L931.4,378.0 M931.4,378.0 L935.2,381.9 L939.0,385.1 L942.7,387.3 L946.5,388.1 L950.3,387.3 L954.1,385.1 L957.9,381.9 L961.6,378.0 M961.6,378.0 L964.9,381.6 L968.1,384.6 L971.4,386.7 L974.6,387.4 L977.9,386.7 L981.1,384.6 L984.4,381.6 L987.6,378.0 M987.6,378.0 L991.6,381.8 L995.5,385.1 L999.4,387.2 L1003.3,388.0 L1007.3,387.2 L1011.2,385.1 L1015.1,381.8 L1019.0,378.0 M1019.0,378.0 L1022.6,381.1 L1026.2,383.7 L1029.8,385.5 L1033.3,386.1 L1036.9,385.5 L1040.5,383.7 L1044.1,381.1 L1047.6,378.0 M1047.6,378.0 L1051.0,382.0 L1054.5,385.3 L1057.9,387.5 L1061.3,388.3 L1064.7,387.5 L1068.1,385.3 L1071.5,382.0 L1074.9,378.0 M1074.9,378.0 L1078.0,381.3 L1081.1,384.0 L1084.1,385.9 L1087.2,386.5 L1090.3,385.9 L1093.4,384.0 L1096.5,381.3 L1099.6,378.0 M1099.6,378.0 L1103.5,381.4 L1107.5,384.3 L1111.5,386.2 L1115.5,386.9 L1119.4,386.2 L1123.4,384.3 L1127.4,381.4 L1131.3,378.0 M1131.3,378.0 L1134.5,381.3 L1137.7,384.0 L1140.9,385.9 L1144.1,386.5 L1147.3,385.9 L1150.5,384.0 L1153.7,381.3 L1156.9,378.0 " stroke="#424242" stroke-width="1.1" fill="none" opacity="1.00" stroke-linejoin="round"/><rect x="165" y="446.5" width="989" height="1.8" fill="#5c5c5c"/><path d="M585.0,460.0 L760.0,466.0" stroke="#5c5c5c" stroke-width="1.5" opacity="0.90"/><path d="M585.0,477.0 L760.0,482.0" stroke="#5c5c5c" stroke-width="1.5" opacity="0.90"/><path d="M585.0,487.3 L1154.0,487.3" stroke="#575757" stroke-width="1.5" opacity="0.60"/><path d="M585.0,494.5 L780.0,496.0" stroke="#5c5c5c" stroke-width="1.5" opacity="0.90"/><path d="M585.0,507.7 L1154.0,507.7" stroke="#5c5c5c" stroke-width="1.5" opacity="0.70"/><path d="M585.0,511.8 L900.0,511.8" stroke="#5c5c5c" stroke-width="1.5" opacity="0.80"/><path d="M600.0,428.0 L760.0,432.0" stroke="#525252" stroke-width="1.5" opacity="0.80"/><path d="M620.0,412.0 L760.0,416.0" stroke="#4c4c4c" stroke-width="1.5" opacity="0.70"/><path d="M165.0,487.3 L230.0,487.3" stroke="#545454" stroke-width="1.5" opacity="0.60"/><path d="M165.0,507.7 L240.0,507.7" stroke="#595959" stroke-width="1.5" opacity="0.60"/><path d="M420.0,467.0 L566.0,467.0" stroke="#4c4c4c" stroke-width="1.5" opacity="0.50"/><path d="M586.0,381.0 L589.4,384.1 L592.8,386.7 L596.2,388.4 L599.6,389.0 L603.1,388.4 L606.5,386.7 L609.9,384.1 L613.3,381.0 M613.3,381.0 L615.9,385.0 L618.4,388.3 L621.0,390.6 L623.6,391.3 L626.2,390.6 L628.7,388.3 L631.3,385.0 L633.9,381.0 M633.9,381.0 L636.6,384.1 L639.3,386.6 L642.0,388.4 L644.7,389.0 L647.4,388.4 L650.2,386.6 L652.9,384.1 L655.6,381.0 M655.6,381.0 L658.7,384.3 L661.9,387.1 L665.0,388.9 L668.1,389.6 L671.3,388.9 L674.4,387.1 L677.5,384.3 L680.7,381.0 M680.7,381.0 L684.0,384.2 L687.4,386.9 L690.7,388.6 L694.1,389.3 L697.4,388.6 L700.8,386.9 L704.1,384.2 L707.5,381.0 M707.5,381.0 L710.9,384.3 L714.3,387.0 L717.7,388.9 L721.1,389.5 L724.6,388.9 L728.0,387.0 L731.4,384.3 L734.8,381.0 " stroke="#454545" stroke-width="1.1" fill="none" opacity="1.00" stroke-linejoin="round"/><path d="M760.0,434.0 L763.4,429.2 L766.8,425.2 L770.1,422.5 L773.5,421.5 L776.9,422.5 L780.3,425.2 L783.7,429.2 L787.1,434.0 M787.1,434.0 L790.4,430.3 L793.8,427.2 L797.1,425.1 L800.5,424.4 L803.8,425.1 L807.2,427.2 L810.5,430.3 L813.9,434.0 M813.9,434.0 L817.0,429.9 L820.1,426.4 L823.1,424.1 L826.2,423.3 L829.3,424.1 L832.4,426.4 L835.5,429.9 L838.5,434.0 M838.5,434.0 L841.6,430.3 L844.6,427.1 L847.6,425.0 L850.7,424.2 L853.7,425.0 L856.7,427.1 L859.7,430.3 L862.8,434.0 " stroke="#4c4c4c" stroke-width="1.1" fill="none" opacity="1.00" stroke-linejoin="round"/><path d="M586.0,522.0 L588.7,518.2 L591.3,515.0 L594.0,512.8 L596.6,512.1 L599.3,512.8 L602.0,515.0 L604.6,518.2 L607.3,522.0 M607.3,522.0 L609.5,518.0 L611.8,514.7 L614.1,512.4 L616.3,511.7 L618.6,512.4 L620.8,514.7 L623.1,518.0 L625.4,522.0 M625.4,522.0 L627.6,518.4 L629.9,515.3 L632.2,513.3 L634.5,512.5 L636.7,513.3 L639.0,515.3 L641.3,518.4 L643.5,522.0 M643.5,522.0 L645.7,518.3 L647.9,515.1 L650.1,513.0 L652.3,512.3 L654.5,513.0 L656.7,515.1 L658.9,518.3 L661.1,522.0 " stroke="#666666" stroke-width="1.2" fill="none" opacity="0.90" stroke-linejoin="round"/><rect x="275" y="367" width="1.5" height="160" fill="#4c4c4c" opacity="0.5"/><rect x="305.0" y="496.0" width="25.0" height="31.0" fill="url(#glow545233)"/><rect x="317.3" y="524.7" width="1" height="2.3" fill="#b8b8b8"/><rect x="326.0" y="502.9" width="1" height="24.1" fill="#b8b8b8"/><rect x="316.3" y="526.5" width="1" height="0.5" fill="#b8b8b8"/><rect x="305.8" y="514.6" width="1" height="12.4" fill="#b8b8b8"/><rect x="306.0" y="519.6" width="1" height="7.4" fill="#b8b8b8"/><rect x="319.3" y="524.8" width="1" height="2.2" fill="#b8b8b8"/><rect x="324.8" y="526.9" width="1" height="0.1" fill="#b8b8b8"/><rect x="308.4" y="523.4" width="1" height="3.6" fill="#b8b8b8"/><rect x="305.6" y="516.4" width="1" height="10.6" fill="#b8b8b8"/><rect x="310.9" y="526.1" width="1" height="0.9" fill="#b8b8b8"/><rect x="306.2" y="521.0" width="1" height="6.0" fill="#b8b8b8"/><rect x="316.2" y="521.0" width="1" height="6.0" fill="#b8b8b8"/><rect x="321.4" y="517.1" width="1" height="9.9" fill="#b8b8b8"/><rect x="329.0" y="520.1" width="1" height="6.9" fill="#b8b8b8"/><rect x="310.0" y="523.1" width="1" height="3.9" fill="#b8b8b8"/><rect x="309.5" y="526.9" width="1" height="0.1" fill="#b8b8b8"/><rect x="316.8" y="519.5" width="1" height="7.5" fill="#b8b8b8"/><rect x="309.5" y="525.1" width="1" height="1.9" fill="#b8b8b8"/><rect x="313.6" y="519.8" width="1" height="7.2" fill="#b8b8b8"/><rect x="318.0" y="521.3" width="1" height="5.7" fill="#b8b8b8"/><rect x="323.9" y="524.0" width="1" height="3.0" fill="#b8b8b8"/><rect x="324.8" y="512.8" width="1" height="14.2" fill="#b8b8b8"/><rect x="307.2" y="510.8" width="1" height="16.2" fill="#b8b8b8"/><rect x="323.1" y="526.2" width="1" height="0.8" fill="#b8b8b8"/><rect x="316.3" y="521.1" width="1" height="5.9" fill="#b8b8b8"/><rect x="327.7" y="524.2" width="1" height="2.8" fill="#b8b8b8"/><rect x="319.2" y="514.3" width="1" height="12.7" fill="#b8b8b8"/><rect x="324.9" y="509.7" width="1" height="17.3" fill="#b8b8b8"/><rect x="316.6" y="520.7" width="1" height="6.3" fill="#b8b8b8"/><rect x="310.1" y="519.3" width="1" height="7.7" fill="#b8b8b8"/><rect x="390.0" y="496.0" width="20.0" height="31.0" fill="url(#glow545233)"/><rect x="406.4" y="520.8" width="1" height="6.2" fill="#b8b8b8"/><rect x="404.4" y="525.6" width="1" height="1.4" fill="#b8b8b8"/><rect x="408.0" y="503.4" width="1" height="23.6" fill="#b8b8b8"/><rect x="409.5" y="522.4" width="1" height="4.6" fill="#b8b8b8"/><rect x="405.8" y="524.7" width="1" height="2.3" fill="#b8b8b8"/><rect x="408.2" y="515.4" width="1" height="11.6" fill="#b8b8b8"/><rect x="397.0" y="526.5" width="1" height="0.5" fill="#b8b8b8"/><rect x="398.8" y="522.2" width="1" height="4.8" fill="#b8b8b8"/><rect x="405.4" y="523.0" width="1" height="4.0" fill="#b8b8b8"/><rect x="390.6" y="517.1" width="1" height="9.9" fill="#b8b8b8"/><rect x="391.3" y="517.3" width="1" height="9.7" fill="#b8b8b8"/><rect x="393.5" y="524.6" width="1" height="2.4" fill="#b8b8b8"/><rect x="405.8" y="526.1" width="1" height="0.9" fill="#b8b8b8"/><rect x="393.0" y="522.6" width="1" height="4.4" fill="#b8b8b8"/><rect x="404.5" y="516.0" width="1" height="11.0" fill="#b8b8b8"/><rect x="403.8" y="509.5" width="1" height="17.5" fill="#b8b8b8"/><rect x="399.9" y="509.1" width="1" height="17.9" fill="#b8b8b8"/><rect x="391.7" y="525.5" width="1" height="1.5" fill="#b8b8b8"/><rect x="400.5" y="524.9" width="1" height="2.1" fill="#b8b8b8"/><rect x="404.6" y="520.9" width="1" height="6.1" fill="#b8b8b8"/><rect x="400.5" y="515.9" width="1" height="11.1" fill="#b8b8b8"/><rect x="401.2" y="524.8" width="1" height="2.2" fill="#b8b8b8"/><rect x="397.6" y="515.8" width="1" height="11.2" fill="#b8b8b8"/><rect x="408.0" y="525.6" width="1" height="1.4" fill="#b8b8b8"/><rect x="800.0" y="496.0" width="40.0" height="31.0" fill="url(#glow545233)"/><rect x="834.0" y="506.3" width="1" height="20.7" fill="#b8b8b8"/><rect x="821.0" y="521.9" width="1" height="5.1" fill="#b8b8b8"/><rect x="808.0" y="522.4" width="1" height="4.6" fill="#b8b8b8"/><rect x="820.1" y="521.4" width="1" height="5.6" fill="#b8b8b8"/><rect x="801.1" y="506.1" width="1" height="20.9" fill="#b8b8b8"/><rect x="820.6" y="523.9" width="1" height="3.1" fill="#b8b8b8"/><rect x="832.0" y="522.0" width="1" height="5.0" fill="#b8b8b8"/><rect x="819.6" y="520.0" width="1" height="7.0" fill="#b8b8b8"/><rect x="802.6" y="522.4" width="1" height="4.6" fill="#b8b8b8"/><rect x="816.6" y="508.1" width="1" height="18.9" fill="#b8b8b8"/><rect x="836.9" y="525.1" width="1" height="1.9" fill="#b8b8b8"/><rect x="818.9" y="526.2" width="1" height="0.8" fill="#b8b8b8"/><rect x="817.3" y="516.9" width="1" height="10.1" fill="#b8b8b8"/><rect x="836.0" y="523.1" width="1" height="3.9" fill="#b8b8b8"/><rect x="812.7" y="525.7" width="1" height="1.3" fill="#b8b8b8"/><rect x="824.7" y="511.4" width="1" height="15.6" fill="#b8b8b8"/><rect x="805.2" y="517.9" width="1" height="9.1" fill="#b8b8b8"/><rect x="800.9" y="525.7" width="1" height="1.3" fill="#b8b8b8"/><rect x="809.1" y="520.0" width="1" height="7.0" fill="#b8b8b8"/><rect x="812.9" y="524.4" width="1" height="2.6" fill="#b8b8b8"/><rect x="824.8" y="526.3" width="1" height="0.7" fill="#b8b8b8"/><rect x="829.2" y="526.2" width="1" height="0.8" fill="#b8b8b8"/><rect x="820.4" y="525.3" width="1" height="1.7" fill="#b8b8b8"/><rect x="807.9" y="522.5" width="1" height="4.5" fill="#b8b8b8"/><rect x="817.5" y="524.2" width="1" height="2.8" fill="#b8b8b8"/><rect x="816.5" y="522.5" width="1" height="4.5" fill="#b8b8b8"/><rect x="806.4" y="525.6" width="1" height="1.4" fill="#b8b8b8"/><rect x="825.3" y="520.9" width="1" height="6.1" fill="#b8b8b8"/><rect x="821.2" y="515.6" width="1" height="11.4" fill="#b8b8b8"/><rect x="824.5" y="515.3" width="1" height="11.7" fill="#b8b8b8"/><rect x="809.3" y="518.9" width="1" height="8.1" fill="#b8b8b8"/><rect x="832.4" y="513.0" width="1" height="14.0" fill="#b8b8b8"/><rect x="812.6" y="524.7" width="1" height="2.3" fill="#b8b8b8"/><rect x="836.9" y="525.5" width="1" height="1.5" fill="#b8b8b8"/><rect x="839.9" y="513.9" width="1" height="13.1" fill="#b8b8b8"/><rect x="805.4" y="525.4" width="1" height="1.6" fill="#b8b8b8"/><rect x="829.1" y="525.2" width="1" height="1.8" fill="#b8b8b8"/><rect x="803.9" y="516.3" width="1" height="10.7" fill="#b8b8b8"/><rect x="816.9" y="517.6" width="1" height="9.4" fill="#b8b8b8"/><rect x="805.0" y="523.9" width="1" height="3.1" fill="#b8b8b8"/><rect x="827.4" y="526.9" width="1" height="0.1" fill="#b8b8b8"/><rect x="808.0" y="520.1" width="1" height="6.9" fill="#b8b8b8"/><rect x="836.5" y="506.3" width="1" height="20.7" fill="#b8b8b8"/><rect x="804.6" y="522.8" width="1" height="4.2" fill="#b8b8b8"/><rect x="830.3" y="522.8" width="1" height="4.2" fill="#b8b8b8"/><rect x="827.4" y="525.7" width="1" height="1.3" fill="#b8b8b8"/><rect x="802.8" y="526.3" width="1" height="0.7" fill="#b8b8b8"/><rect x="801.5" y="522.2" width="1" height="4.8" fill="#b8b8b8"/><rect x="895.0" y="496.0" width="10.0" height="31.0" fill="url(#glow545233)"/><rect x="900.1" y="522.0" width="1" height="5.0" fill="#b8b8b8"/><rect x="896.5" y="525.8" width="1" height="1.2" fill="#b8b8b8"/><rect x="897.0" y="516.0" width="1" height="11.0" fill="#b8b8b8"/><rect x="904.9" y="511.3" width="1" height="15.7" fill="#b8b8b8"/><rect x="896.0" y="526.6" width="1" height="0.4" fill="#b8b8b8"/><rect x="904.5" y="523.3" width="1" height="3.7" fill="#b8b8b8"/><rect x="902.6" y="524.6" width="1" height="2.4" fill="#b8b8b8"/><rect x="899.7" y="522.7" width="1" height="4.3" fill="#b8b8b8"/><rect x="899.3" y="521.5" width="1" height="5.5" fill="#b8b8b8"/><rect x="895.1" y="519.8" width="1" height="7.2" fill="#b8b8b8"/><rect x="903.4" y="525.8" width="1" height="1.2" fill="#b8b8b8"/><rect x="899.5" y="518.9" width="1" height="8.1" fill="#b8b8b8"/></g>
<rect x="568.0" y="367.0" width="2.3" height="159.0" fill="#3e26a8"/>
<rect x="574.0" y="367.0" width="11.3" height="159.0" fill="#3e26a8"/>
<rect x="655.0" y="367.0" width="4.0" height="159.0" fill="#3e26a8"/>
<rect x="165" y="526.0" width="989" height="2" fill="#f7c43a"/>
<rect x="165" y="528.0" width="989.5" height="1.2" fill="#262626"/>
<rect x="1226" y="118.5" width="31.5" height="399" fill="url(#cbar)" stroke="#262626" stroke-width="1.2"/>
<text x="1217.5" y="124.0" font-size="15.5" font-weight="bold" text-anchor="end" textLength="19.5" lengthAdjust="spacingAndGlyphs" fill="#262626" >10</text>
<line x1="1226" y1="175.5" x2="1231" y2="175.5" stroke="#262626" stroke-width="1.2"/>
<text x="1217.5" y="181.0" font-size="15.5" font-weight="bold" text-anchor="end" textLength="10.0" lengthAdjust="spacingAndGlyphs" fill="#262626" >5</text>
<line x1="1226" y1="232.5" x2="1231" y2="232.5" stroke="#262626" stroke-width="1.2"/>
<text x="1217.5" y="238.0" font-size="15.5" font-weight="bold" text-anchor="end" textLength="10.0" lengthAdjust="spacingAndGlyphs" fill="#262626" >0</text>
<line x1="1226" y1="289.5" x2="1231" y2="289.5" stroke="#262626" stroke-width="1.2"/>
<text x="1217.5" y="295.0" font-size="15.5" font-weight="bold" text-anchor="end" textLength="17.0" lengthAdjust="spacingAndGlyphs" fill="#262626" >-5</text>
<line x1="1226" y1="346.5" x2="1231" y2="346.5" stroke="#262626" stroke-width="1.2"/>
<text x="1217.5" y="352.0" font-size="15.5" font-weight="bold" text-anchor="end" textLength="26.5" lengthAdjust="spacingAndGlyphs" fill="#262626" >-10</text>
<line x1="1226" y1="403.5" x2="1231" y2="403.5" stroke="#262626" stroke-width="1.2"/>
<text x="1217.5" y="409.0" font-size="15.5" font-weight="bold" text-anchor="end" textLength="26.5" lengthAdjust="spacingAndGlyphs" fill="#262626" >-15</text>
<line x1="1226" y1="460.5" x2="1231" y2="460.5" stroke="#262626" stroke-width="1.2"/>
<text x="1217.5" y="466.0" font-size="15.5" font-weight="bold" text-anchor="end" textLength="26.5" lengthAdjust="spacingAndGlyphs" fill="#262626" >-20</text>
<text x="1217.5" y="523.0" font-size="15.5" font-weight="bold" text-anchor="end" textLength="26.5" lengthAdjust="spacingAndGlyphs" fill="#262626" >-25</text>
<text transform="translate(1173.5 379) rotate(-90) scale(1.2 1)" font-size="15" font-weight="bold" fill="#262626">Log<tspan font-size="11" dy="4">10</tspan><tspan dy="-4"> (nT</tspan><tspan font-size="11" dy="-6">2</tspan><tspan dy="6">/Hz)</tspan></text>
<text x="155.5" y="137.5" font-size="22.0" text-anchor="end" textLength="24.3" lengthAdjust="spacingAndGlyphs" fill="#262626" >80</text>
<text x="155.5" y="177.5" font-size="22.0" text-anchor="end" textLength="24.3" lengthAdjust="spacingAndGlyphs" fill="#262626" >60</text>
<text x="155.5" y="217.5" font-size="22.0" text-anchor="end" textLength="24.3" lengthAdjust="spacingAndGlyphs" fill="#262626" >40</text>
<text x="155.5" y="257.5" font-size="22.0" text-anchor="end" textLength="24.3" lengthAdjust="spacingAndGlyphs" fill="#262626" >20</text>
<text x="155.5" y="297.5" font-size="22.0" text-anchor="end" textLength="12.0" lengthAdjust="spacingAndGlyphs" fill="#262626" >0</text>
<text x="155.5" y="373.5" font-size="22.0" text-anchor="end" textLength="24.3" lengthAdjust="spacingAndGlyphs" fill="#262626" >80</text>
<text x="155.5" y="413.5" font-size="22.0" text-anchor="end" textLength="24.3" lengthAdjust="spacingAndGlyphs" fill="#262626" >60</text>
<text x="155.5" y="453.5" font-size="22.0" text-anchor="end" textLength="24.3" lengthAdjust="spacingAndGlyphs" fill="#262626" >40</text>
<text x="155.5" y="493.5" font-size="22.0" text-anchor="end" textLength="24.3" lengthAdjust="spacingAndGlyphs" fill="#262626" >20</text>
<text x="155.5" y="533.5" font-size="22.0" text-anchor="end" textLength="12.0" lengthAdjust="spacingAndGlyphs" fill="#262626" >0</text>
<text x="92.5" y="301.0" font-size="20.5" font-weight="bold" text-anchor="start" textLength="178.0" lengthAdjust="spacingAndGlyphs" transform="rotate(-90 92.5 301.0)" fill="#262626" >Outboard Sensor</text>
<text x="118.5" y="290.5" font-size="20.5" font-weight="bold" text-anchor="start" textLength="158.0" lengthAdjust="spacingAndGlyphs" transform="rotate(-90 118.5 290.5)" fill="#262626" >Frequency (Hz)</text>
<text x="92.5" y="528.0" font-size="20.5" font-weight="bold" text-anchor="start" textLength="160.0" lengthAdjust="spacingAndGlyphs" transform="rotate(-90 92.5 528.0)" fill="#262626" >Inboard Sensor</text>
<text x="118.5" y="527.5" font-size="20.5" font-weight="bold" text-anchor="start" textLength="158.0" lengthAdjust="spacingAndGlyphs" transform="rotate(-90 118.5 527.5)" fill="#262626" >Frequency (Hz)</text>
<line x1="212.5" y1="601.5" x2="212.5" y2="762.2" stroke="#dedede" stroke-width="1"/><line x1="500.4" y1="601.5" x2="500.4" y2="762.2" stroke="#dedede" stroke-width="1"/><line x1="787.9" y1="601.5" x2="787.9" y2="762.2" stroke="#dedede" stroke-width="1"/><line x1="1075.6" y1="601.5" x2="1075.6" y2="762.2" stroke="#dedede" stroke-width="1"/><line x1="165.5" y1="650.2" x2="1154.5" y2="650.2" stroke="#dedede" stroke-width="1"/><line x1="165.5" y1="702.3" x2="1154.5" y2="702.3" stroke="#dedede" stroke-width="1"/><line x1="165.5" y1="754.3" x2="1154.5" y2="754.3" stroke="#dedede" stroke-width="1"/>
<path d="M165.0,733.7 L166.5,732.8 L168.0,731.8 L169.5,730.9 L171.0,729.9 L172.5,729.0 L174.0,728.0 L175.5,727.0 L177.0,726.0 L178.5,725.0 L180.0,724.0 L181.5,723.0 L183.0,721.9 L184.5,720.8 L186.0,719.7 L187.5,718.6 L189.0,717.5 L190.5,716.3 L192.0,715.2 L193.5,714.0 L195.0,712.7 L196.5,711.5 L198.0,710.2 L199.5,709.0 L201.0,707.7 L202.5,706.4 L204.0,705.1 L205.5,703.8 L207.0,702.4 L208.5,701.1 L210.0,699.7 L211.5,698.3 L213.0,697.0 L214.6,695.6 L216.1,694.2 L217.6,692.8 L219.1,691.4 L220.6,689.9 L222.1,688.5 L223.6,687.1 L225.1,685.7 L226.6,684.2 L228.1,682.8 L229.6,681.4 L231.1,679.9 L232.6,678.5 L234.1,677.1 L235.6,675.7 L237.1,674.2 L238.6,672.8 L240.1,671.4 L241.6,670.0 L243.1,668.6 L244.6,667.2 L246.1,665.8 L247.6,664.5 L249.1,663.1 L250.6,661.7 L252.1,660.4 L253.6,659.0 L255.1,657.7 L256.6,656.3 L258.1,655.0 L259.6,653.6 L261.1,652.3 L262.6,651.0 L264.1,649.7 L265.6,648.4 L267.1,647.1 L268.6,645.8 L270.1,644.6 L271.6,643.3 L273.1,642.0 L274.6,640.8 L276.1,639.6 L277.6,638.4 L279.1,637.2 L280.6,636.1 L282.1,634.9 L283.6,633.8 L285.1,632.7 L286.6,631.6 L288.1,630.5 L289.6,629.5 L291.1,628.5 L292.6,627.5 L294.1,626.5 L295.6,625.5 L297.1,624.6 L298.6,623.7 L300.1,622.8 L301.6,622.0 L303.1,621.1 L304.6,620.3 L306.1,619.5 L307.6,618.8 L309.1,618.0 L310.6,617.3 L312.1,616.6 L313.7,615.9 L315.2,615.2 L316.7,614.6 L318.2,614.0 L319.7,613.4 L321.2,612.8 L322.7,612.2 L324.2,611.7 L325.7,611.2 L327.2,610.7 L328.7,610.2 L330.2,609.7 L331.7,609.3 L333.2,608.8 L334.7,608.4 L336.2,608.0 L337.7,607.6 L339.2,607.2 L340.7,606.9 L342.2,606.5 L343.7,606.2 L345.2,605.9 L346.7,605.5 L348.2,605.2 L349.7,605.0 L351.2,604.7 L352.7,604.4 L354.2,604.2 L355.7,603.9 L357.2,603.7 L358.7,603.5 L360.2,603.3 L361.7,603.1 L363.2,602.9 L364.7,602.8 L366.2,602.6 L367.7,602.5 L369.2,602.4 L370.7,602.2 L372.2,602.1 L373.7,602.0 L375.2,602.0 L376.7,601.9 L378.2,601.8 L379.7,601.8 L381.2,601.7 L382.7,601.7 L384.2,601.7 L385.7,601.7 L387.2,601.7 L388.7,601.7 L390.2,601.7 L391.7,601.8 L393.2,601.8 L394.7,601.9 L396.2,602.0 L397.7,602.1 L399.2,602.2 L400.7,602.4 L402.2,602.5 L403.7,602.7 L405.2,602.9 L406.7,603.1 L408.2,603.3 L409.7,603.6 L411.2,603.8 L412.8,604.1 L414.3,604.5 L415.8,604.8 L417.3,605.2 L418.8,605.6 L420.3,606.0 L421.8,606.5 L423.3,607.0 L424.8,607.5 L426.3,608.0 L427.8,608.6 L429.3,609.2 L430.8,609.9 L432.3,610.6 L433.8,611.4 L435.3,612.1 L436.8,613.0 L438.3,613.8 L439.8,614.7 L441.3,615.7 L442.8,616.7 L444.3,617.7 L445.8,618.7 L447.3,619.8 L448.8,620.9 L450.3,622.1 L451.8,623.3 L453.3,624.6 L454.8,625.8 L456.3,627.1 L457.8,628.5 L459.3,629.8 L460.8,631.2 L462.3,632.7 L463.8,634.1 L465.3,635.6 L466.8,637.1 L468.3,638.6 L469.8,640.2 L471.3,641.7 L472.8,643.3 L474.3,644.9 L475.8,646.4 L477.3,648.0 L478.8,649.7 L480.3,651.3 L481.8,652.9 L483.3,654.5 L484.8,656.1 L486.3,657.7 L487.8,659.3 L489.3,660.9 L490.8,662.6 L492.3,664.2 L493.8,665.8 L495.3,667.4 L496.8,668.9 L498.3,670.5 L499.8,672.1 L501.3,673.7 L502.8,675.2 L504.3,676.7 L505.8,678.3 L507.3,679.8 L508.8,681.3 L510.3,682.8 L511.9,684.3 L513.4,685.7 L514.9,687.2 L516.4,688.6 L517.9,690.0 L519.4,691.4 L520.9,692.8 L522.4,694.1 L523.9,695.5 L525.4,696.8 L526.9,698.1 L528.4,699.3 L529.9,700.6 L531.4,701.8 L532.9,703.0 L534.4,704.2 L535.9,705.3 L537.4,706.4 L538.9,707.5 L540.4,708.6 L541.9,709.7 L543.4,710.7 L544.9,711.7 L546.4,712.7 L547.9,713.7 L549.4,714.6 L550.9,715.5 L552.4,716.4 L553.9,717.2 L555.4,718.1 L556.9,718.9 L558.4,719.7 L559.9,720.4 L561.4,721.2 L562.9,721.9 L564.4,722.5 L565.9,723.2 L567.4,723.8 L568.9,724.4 L570.4,725.0 L571.9,725.5 L573.4,726.0 L574.9,726.5 L576.4,726.9 L577.9,727.4 L579.4,727.7 L580.9,728.1 L582.4,728.4 L583.9,728.7 L585.4,729.0 L586.9,729.2 L588.4,729.4 L589.9,729.6 L591.4,729.7 L592.9,729.8 L594.4,729.8 L595.9,729.9 L597.4,729.9 L598.9,729.8 L600.4,729.7 L601.9,729.6 L603.4,729.5 L604.9,729.3 L606.4,729.1 L607.9,728.9 L609.4,728.6 L611.0,728.3 L612.5,728.0 L614.0,727.6 L615.5,727.3 L617.0,726.9 L618.5,726.5 L620.0,726.1 L621.5,725.6 L623.0,725.2 L624.5,724.7 L626.0,724.2 L627.5,723.7 L629.0,723.1 L630.5,722.6 L632.0,722.0 L633.5,721.4 L635.0,720.9 L636.5,720.3 L638.0,719.7 L639.5,719.0 L641.0,718.4 L642.5,717.8 L644.0,717.1 L645.5,716.4 L647.0,715.8 L648.5,715.1 L650.0,714.4 L651.5,713.7 L653.0,713.1 L654.5,712.4 L656.0,711.7 L657.5,711.0 L659.0,710.3 L660.5,709.6 L662.0,708.9 L663.5,708.2 L665.0,707.5 L666.5,706.8 L668.0,706.1 L669.5,705.4 L671.0,704.8 L672.5,704.1 L674.0,703.4 L675.5,702.8 L677.0,702.1 L678.5,701.5 L680.0,700.8 L681.5,700.2 L683.0,699.6 L684.5,698.9 L686.0,698.3 L687.5,697.7 L689.0,697.2 L690.5,696.6 L692.0,696.0 L693.5,695.5 L695.0,694.9 L696.5,694.4 L698.0,693.9 L699.5,693.4 L701.0,692.9 L702.5,692.4 L704.0,691.9 L705.5,691.5 L707.0,691.0 L708.5,690.6 L710.1,690.2 L711.6,689.7 L713.1,689.4 L714.6,689.0 L716.1,688.6 L717.6,688.3 L719.1,687.9 L720.6,687.6 L722.1,687.3 L723.6,687.0 L725.1,686.7 L726.6,686.5 L728.1,686.2 L729.6,686.0 L731.1,685.8 L732.6,685.6 L734.1,685.4 L735.6,685.2 L737.1,685.0 L738.6,684.9 L740.1,684.7 L741.6,684.6 L743.1,684.5 L744.6,684.4 L746.1,684.3 L747.6,684.3 L749.1,684.2 L750.6,684.2 L752.1,684.2 L753.6,684.2 L755.1,684.2 L756.6,684.2 L758.1,684.2 L759.6,684.3 L761.1,684.3 L762.6,684.4 L764.1,684.5 L765.6,684.6 L767.1,684.8 L768.6,684.9 L770.1,685.1 L771.6,685.2 L773.1,685.4 L774.6,685.6 L776.1,685.8 L777.6,686.1 L779.1,686.3 L780.6,686.6 L782.1,686.9 L783.6,687.2 L785.1,687.5 L786.6,687.8 L788.1,688.2 L789.6,688.5 L791.1,688.9 L792.6,689.3 L794.1,689.7 L795.6,690.2 L797.1,690.6 L798.6,691.1 L800.1,691.6 L801.6,692.1 L803.1,692.6 L804.6,693.1 L806.1,693.6 L807.6,694.2 L809.2,694.7 L810.7,695.3 L812.2,695.9 L813.7,696.5 L815.2,697.1 L816.7,697.8 L818.2,698.4 L819.7,699.0 L821.2,699.7 L822.7,700.4 L824.2,701.1 L825.7,701.7 L827.2,702.4 L828.7,703.2 L830.2,703.9 L831.7,704.6 L833.2,705.3 L834.7,706.1 L836.2,706.8 L837.7,707.6 L839.2,708.4 L840.7,709.1 L842.2,709.9 L843.7,710.7 L845.2,711.5 L846.7,712.3 L848.2,713.1 L849.7,713.9 L851.2,714.7 L852.7,715.5 L854.2,716.3 L855.7,717.1 L857.2,717.9 L858.7,718.7 L860.2,719.5 L861.7,720.3 L863.2,721.1 L864.7,721.9 L866.2,722.7 L867.7,723.5 L869.2,724.4 L870.7,725.2 L872.2,726.0 L873.7,726.8 L875.2,727.5 L876.7,728.3 L878.2,729.1 L879.7,729.9 L881.2,730.7 L882.7,731.4 L884.2,732.2 L885.7,733.0 L887.2,733.7 L888.7,734.4 L890.2,735.2 L891.7,735.9 L893.2,736.6 L894.7,737.3 L896.2,738.0 L897.7,738.7 L899.2,739.4 L900.7,740.0 L902.2,740.7 L903.7,741.3 L905.2,742.0 L906.7,742.6 L908.3,743.2 L909.8,743.8 L911.3,744.3 L912.8,744.9 L914.3,745.5 L915.8,746.0 L917.3,746.6 L918.8,747.1 L920.3,747.6 L921.8,748.1 L923.3,748.6 L924.8,749.1 L926.3,749.6 L927.8,750.1 L929.3,750.6 L930.8,751.0 L932.3,751.5 L933.8,752.0 L935.3,752.4 L936.8,752.9 L938.3,753.3 L939.8,753.7 L941.3,754.2 L942.8,754.6 L944.3,755.0 L945.8,755.4 L947.3,755.8 L948.8,756.2 L950.3,756.6 L951.8,757.0 L953.3,757.3 L954.8,757.7 L956.3,758.0 L957.8,758.4 L959.3,758.7 L960.8,759.0 L962.3,759.3 L963.8,759.6 L965.3,759.8 L966.8,760.1 L968.3,760.3 L969.8,760.6 L971.3,760.8 L972.8,761.0 L974.3,761.2 L975.8,761.3 L977.3,761.5 L978.8,761.6 L980.3,761.8 L981.8,761.9 L983.3,762.0 L984.8,762.1 L986.3,762.2 L987.8,762.3 L989.3,762.3 L990.8,762.4 L992.3,762.4 L993.8,762.4 L995.3,762.4 L996.8,762.4 L998.3,762.4 L999.8,762.4 L1001.3,762.3 L1002.8,762.3 L1004.3,762.2 L1005.8,762.1 L1007.4,762.0 L1008.9,762.0 L1010.4,761.9 L1011.9,761.8 L1013.4,761.6 L1014.9,761.5 L1016.4,761.4 L1017.9,761.3 L1019.4,761.2 L1020.9,761.0 L1022.4,760.9 L1023.9,760.8 L1025.4,760.7 L1026.9,760.5 L1028.4,760.4 L1029.9,760.3 L1031.4,760.1 L1032.9,760.0 L1034.4,759.9 L1035.9,759.8 L1037.4,759.7 L1038.9,759.6 L1040.4,759.5 L1041.9,759.4 L1043.4,759.3 L1044.9,759.2 L1046.4,759.1 L1047.9,758.9 L1049.4,758.8 L1050.9,758.7 L1052.4,758.6 L1053.9,758.5 L1055.4,758.4 L1056.9,758.3 L1058.4,758.2 L1059.9,758.0 L1061.4,757.9 L1062.9,757.8 L1064.4,757.6 L1065.9,757.5 L1067.4,757.3 L1068.9,757.1 L1070.4,757.0 L1071.9,756.8 L1073.4,756.6 L1074.9,756.4 L1076.4,756.2 L1077.9,756.0 L1079.4,755.7 L1080.9,755.5 L1082.4,755.2 L1083.9,754.9 L1085.4,754.7 L1086.9,754.4 L1088.4,754.0 L1089.9,753.7 L1091.4,753.3 L1092.9,753.0 L1094.4,752.6 L1095.9,752.2 L1097.4,751.7 L1098.9,751.3 L1100.4,750.8 L1101.9,750.3 L1103.4,749.8 L1104.9,749.2 L1106.5,748.7 L1108.0,748.1 L1109.5,747.5 L1111.0,746.8 L1112.5,746.1 L1114.0,745.5 L1115.5,744.8 L1117.0,744.0 L1118.5,743.3 L1120.0,742.5 L1121.5,741.7 L1123.0,740.9 L1124.5,740.0 L1126.0,739.2 L1127.5,738.3 L1129.0,737.4 L1130.5,736.4 L1132.0,735.5 L1133.5,734.5 L1135.0,733.5 L1136.5,732.6 L1138.0,731.5 L1139.5,730.5 L1141.0,729.5 L1142.5,728.4 L1144.0,727.4 L1145.5,726.3 L1147.0,725.3 L1148.5,724.2 L1150.0,723.1 L1151.5,722.0 L1153.0,720.9 L1154.5,719.8" stroke="#00ff00" stroke-width="1.8" fill="none"/>
<path d="M165.0,733.7 L166.5,732.8 L168.0,731.8 L169.5,730.9 L171.0,729.9 L172.5,729.0 L174.0,728.0 L175.5,727.0 L177.0,726.0 L178.5,725.0 L180.0,724.0 L181.5,723.0 L183.0,721.9 L184.5,720.8 L186.0,719.7 L187.5,718.6 L189.0,717.5 L190.5,716.3 L192.0,715.2 L193.5,714.0 L195.0,712.7 L196.5,711.5 L198.0,710.2 L199.5,709.0 L201.0,707.7 L202.5,706.4 L204.0,705.1 L205.5,703.8 L207.0,702.4 L208.5,701.1 L210.0,699.7 L211.5,698.3 L213.0,697.0 L214.6,695.6 L216.1,694.2 L217.6,692.8 L219.1,691.4 L220.6,689.9 L222.1,688.5 L223.6,687.1 L225.1,685.7 L226.6,684.2 L228.1,682.8 L229.6,681.4 L231.1,679.9 L232.6,678.5 L234.1,677.1 L235.6,675.7 L237.1,674.2 L238.6,672.8 L240.1,671.4 L241.6,670.0 L243.1,668.6 L244.6,667.2 L246.1,665.8 L247.6,664.5 L249.1,663.1 L250.6,661.7 L252.1,660.4 L253.6,659.0 L255.1,657.7 L256.6,656.3 L258.1,655.0 L259.6,653.6 L261.1,652.3 L262.6,651.0 L264.1,649.7 L265.6,648.4 L267.1,647.1 L268.6,645.8 L270.1,644.6 L271.6,643.3 L273.1,642.0 L274.6,640.8 L276.1,639.6 L277.6,638.4 L279.1,637.2 L280.6,636.1 L282.1,634.9 L283.6,633.8 L285.1,632.7 L286.6,631.6 L288.1,630.5 L289.6,629.5 L291.1,628.5 L292.6,627.5 L294.1,626.5 L295.6,625.5 L297.1,624.6 L298.6,623.7 L300.1,622.8 L301.6,622.0 L303.1,621.1 L304.6,620.3 L306.1,619.5 L307.6,618.8 L309.1,618.0 L310.6,617.3 L312.1,616.6 L313.7,615.9 L315.2,615.2 L316.7,614.6 L318.2,614.0 L319.7,613.4 L321.2,612.8 L322.7,612.2 L324.2,611.7 L325.7,611.2 L327.2,610.7 L328.7,610.2 L330.2,609.7 L331.7,609.3 L333.2,608.8 L334.7,608.4 L336.2,608.0 L337.7,607.6 L339.2,607.2 L340.7,606.9 L342.2,606.5 L343.7,606.2 L345.2,605.9 L346.7,605.5 L348.2,605.2 L349.7,605.0 L351.2,604.7 L352.7,604.4 L354.2,604.2 L355.7,603.9 L357.2,603.7 L358.7,603.5 L360.2,603.3 L361.7,603.1 L363.2,602.9 L364.7,602.8 L366.2,602.6 L367.7,602.5 L369.2,602.4 L370.7,602.2 L372.2,602.1 L373.7,602.0 L375.2,602.0 L376.7,601.9 L378.2,601.8 L379.7,601.8 L381.2,601.7 L382.7,601.7 L384.2,601.7 L385.7,601.7 L387.2,601.7 L388.7,601.7 L390.2,601.7 L391.7,601.8 L393.2,601.8 L394.7,601.9 L396.2,602.0 L397.7,602.1 L399.2,602.2 L400.7,602.4 L402.2,602.5 L403.7,602.7 L405.2,602.9 L406.7,603.1 L408.2,603.3 L409.7,603.6 L411.2,603.8 L412.8,604.1 L414.3,604.5 L415.8,604.8 L417.3,605.2 L418.8,605.6 L420.3,606.0 L421.8,606.5 L423.3,607.0 L424.8,607.5 L426.3,608.0 L427.8,608.6 L429.3,609.2 L430.8,609.9 L432.3,610.6 L433.8,611.4 L435.3,612.1 L436.8,613.0 L438.3,613.8 L439.8,614.7 L441.3,615.7 L442.8,616.7 L444.3,617.7 L445.8,618.7 L447.3,619.8 L448.8,620.9 L450.3,622.1 L451.8,623.3 L453.3,624.6 L454.8,625.8 L456.3,627.1 L457.8,628.5 L459.3,629.8 L460.8,631.2 L462.3,632.7 L463.8,634.1 L465.3,635.6 L466.8,637.1 L468.3,638.6 L469.8,640.2 L471.3,641.7 L472.8,643.3 L474.3,644.9 L475.8,646.4 L477.3,648.0 L478.8,649.7 L480.3,651.3 L481.8,652.9 L483.3,654.5 L484.8,656.1 L486.3,657.7 L487.8,659.3 L489.3,660.9 L490.8,662.6 L492.3,664.2 L493.8,665.8 L495.3,667.4 L496.8,668.9 L498.3,670.5 L499.8,672.1 L501.3,673.7 L502.8,675.2 L504.3,676.7 L505.8,678.3 L507.3,679.8 L508.8,681.3 L510.3,682.8 L511.9,684.3 L513.4,685.7 L514.9,687.2 L516.4,688.6 L517.9,690.0 L519.4,691.4 L520.9,692.8 L522.4,694.1 L523.9,695.5 L525.4,696.8 L526.9,698.1 L528.4,699.3 L529.9,700.6 L531.4,701.8 L532.9,703.0 L534.4,704.2 L535.9,705.3 L537.4,706.4 L538.9,707.5 L540.4,708.6 L541.9,709.7 L543.4,710.7 L544.9,711.7 L546.4,712.7 L547.9,713.7 L549.4,714.6 L550.9,715.5 L552.4,716.4 L553.9,717.2 L555.4,718.1 L556.9,718.9 L558.4,719.7 L559.9,720.4 L561.4,721.2 L562.9,721.9 L564.4,722.5 L565.9,723.2 L567.4,723.8 L568.9,724.4 L570.4,725.0 L571.9,725.5 L573.4,726.0 L574.9,726.5 L576.4,726.9 L577.9,727.4 L579.4,727.7 L580.9,728.1 L582.4,728.4 L583.9,728.7 L585.4,729.0 L586.9,729.2 L588.4,729.4 L589.9,729.6 L591.4,729.7 L592.9,729.8 L594.4,729.8 L595.9,729.9 L597.4,729.9 L598.9,729.8 L600.4,729.7 L601.9,729.6 L603.4,729.5 L604.9,729.3 L606.4,729.1 L607.9,728.9 L609.4,728.6 L611.0,728.3 L612.5,728.0 L614.0,727.6 L615.5,727.3 L617.0,726.9 L618.5,726.5 L620.0,726.1 L621.5,725.6 L623.0,725.2 L624.5,724.7 L626.0,724.2 L627.5,723.7 L629.0,723.1 L630.5,722.6 L632.0,722.0 L633.5,721.4 L635.0,720.9 L636.5,720.3 L638.0,719.7 L639.5,719.0 L641.0,718.4 L642.5,717.8 L644.0,717.1 L645.5,716.4 L647.0,715.8 L648.5,715.1 L650.0,714.4 L651.5,713.7 L653.0,713.1 L654.5,712.4 L656.0,711.7 L657.5,711.0 L659.0,710.3 L660.5,709.6 L662.0,708.9 L663.5,708.2 L665.0,707.5 L666.5,706.8 L668.0,706.1 L669.5,705.4 L671.0,704.8 L672.5,704.1 L674.0,703.4 L675.5,702.8 L677.0,702.1 L678.5,701.5 L680.0,700.8 L681.5,700.2 L683.0,699.6 L684.5,698.9 L686.0,698.3 L687.5,697.7 L689.0,697.2 L690.5,696.6 L692.0,696.0 L693.5,695.5 L695.0,694.9 L696.5,694.4 L698.0,693.9 L699.5,693.4 L701.0,692.9 L702.5,692.4 L704.0,691.9 L705.5,691.5 L707.0,691.0 L708.5,690.6 L710.1,690.2 L711.6,689.7 L713.1,689.4 L714.6,689.0 L716.1,688.6 L717.6,688.3 L719.1,687.9 L720.6,687.6 L722.1,687.3 L723.6,687.0 L725.1,686.7 L726.6,686.5 L728.1,686.2 L729.6,686.0 L731.1,685.8 L732.6,685.6 L734.1,685.4 L735.6,685.2 L737.1,685.0 L738.6,684.9 L740.1,684.7 L741.6,684.6 L743.1,684.5 L744.6,684.4 L746.1,684.3 L747.6,684.3 L749.1,684.2 L750.6,684.2 L752.1,684.2 L753.6,684.2 L755.1,684.2 L756.6,684.2 L758.1,684.2 L759.6,684.3 L761.1,684.3 L762.6,684.4 L764.1,684.5 L765.6,684.6 L767.1,684.8 L768.6,684.9 L770.1,685.1 L771.6,685.2 L773.1,685.4 L774.6,685.6 L776.1,685.8 L777.6,686.1 L779.1,686.3 L780.6,686.6 L782.1,686.9 L783.6,687.2 L785.1,687.5 L786.6,687.8 L788.1,688.2 L789.6,688.5 L791.1,688.9 L792.6,689.3 L794.1,689.7 L795.6,690.2 L797.1,690.6 L798.6,691.1 L800.1,691.6 L801.6,692.1 L803.1,692.6 L804.6,693.1 L806.1,693.6 L807.6,694.2 L809.2,694.7 L810.7,695.3 L812.2,695.9 L813.7,696.5 L815.2,697.1 L816.7,697.8 L818.2,698.4 L819.7,699.0 L821.2,699.7 L822.7,700.4 L824.2,701.1 L825.7,701.7 L827.2,702.4 L828.7,703.2 L830.2,703.9 L831.7,704.6 L833.2,705.3 L834.7,706.1 L836.2,706.8 L837.7,707.6 L839.2,708.4 L840.7,709.1 L842.2,709.9 L843.7,710.7 L845.2,711.5 L846.7,712.3 L848.2,713.1 L849.7,713.9 L851.2,714.7 L852.7,715.5 L854.2,716.3 L855.7,717.1 L857.2,717.9 L858.7,718.7 L860.2,719.5 L861.7,720.3 L863.2,721.1 L864.7,721.9 L866.2,722.7 L867.7,723.5 L869.2,724.4 L870.7,725.2 L872.2,726.0 L873.7,726.8 L875.2,727.5 L876.7,728.3 L878.2,729.1 L879.7,729.9 L881.2,730.7 L882.7,731.4 L884.2,732.2 L885.7,733.0 L887.2,733.7 L888.7,734.4 L890.2,735.2 L891.7,735.9 L893.2,736.6 L894.7,737.3 L896.2,738.0 L897.7,738.7 L899.2,739.4 L900.7,740.0 L902.2,740.7 L903.7,741.3 L905.2,742.0 L906.7,742.6 L908.3,743.2 L909.8,743.8 L911.3,744.3 L912.8,744.9 L914.3,745.5 L915.8,746.0 L917.3,746.6 L918.8,747.1 L920.3,747.6 L921.8,748.1 L923.3,748.6 L924.8,749.1 L926.3,749.6 L927.8,750.1 L929.3,750.6 L930.8,751.0 L932.3,751.5 L933.8,752.0 L935.3,752.4 L936.8,752.9 L938.3,753.3 L939.8,753.7 L941.3,754.2 L942.8,754.6 L944.3,755.0 L945.8,755.4 L947.3,755.8 L948.8,756.2 L950.3,756.6 L951.8,757.0 L953.3,757.3 L954.8,757.7 L956.3,758.0 L957.8,758.4 L959.3,758.7 L960.8,759.0 L962.3,759.3 L963.8,759.6 L965.3,759.8 L966.8,760.1 L968.3,760.3 L969.8,760.6 L971.3,760.8 L972.8,761.0 L974.3,761.2 L975.8,761.3 L977.3,761.5 L978.8,761.6 L980.3,761.8 L981.8,761.9 L983.3,762.0 L984.8,762.1 L986.3,762.2 L987.8,762.3 L989.3,762.3 L990.8,762.4 L992.3,762.4 L993.8,762.4 L995.3,762.4 L996.8,762.4 L998.3,762.4 L999.8,762.4 L1001.3,762.3 L1002.8,762.3 L1004.3,762.2 L1005.8,762.1 L1007.4,762.0 L1008.9,762.0 L1010.4,761.9 L1011.9,761.8 L1013.4,761.6 L1014.9,761.5 L1016.4,761.4 L1017.9,761.3 L1019.4,761.2 L1020.9,761.0 L1022.4,760.9 L1023.9,760.8 L1025.4,760.7 L1026.9,760.5 L1028.4,760.4 L1029.9,760.3 L1031.4,760.1 L1032.9,760.0 L1034.4,759.9 L1035.9,759.8 L1037.4,759.7 L1038.9,759.6 L1040.4,759.5 L1041.9,759.4 L1043.4,759.3 L1044.9,759.2 L1046.4,759.1 L1047.9,758.9 L1049.4,758.8 L1050.9,758.7 L1052.4,758.6 L1053.9,758.5 L1055.4,758.4 L1056.9,758.3 L1058.4,758.2 L1059.9,758.0 L1061.4,757.9 L1062.9,757.8 L1064.4,757.6 L1065.9,757.5 L1067.4,757.3 L1068.9,757.1 L1070.4,757.0 L1071.9,756.8 L1073.4,756.6 L1074.9,756.4 L1076.4,756.2 L1077.9,756.0 L1079.4,755.7 L1080.9,755.5 L1082.4,755.2 L1083.9,754.9 L1085.4,754.7 L1086.9,754.4 L1088.4,754.0 L1089.9,753.7 L1091.4,753.3 L1092.9,753.0 L1094.4,752.6 L1095.9,752.2 L1097.4,751.7 L1098.9,751.3 L1100.4,750.8 L1101.9,750.3 L1103.4,749.8 L1104.9,749.2 L1106.5,748.7 L1108.0,748.1 L1109.5,747.5 L1111.0,746.8 L1112.5,746.1 L1114.0,745.5 L1115.5,744.8 L1117.0,744.0 L1118.5,743.3 L1120.0,742.5 L1121.5,741.7 L1123.0,740.9 L1124.5,740.0 L1126.0,739.2 L1127.5,738.3 L1129.0,737.4 L1130.5,736.4 L1132.0,735.5 L1133.5,734.5 L1135.0,733.5 L1136.5,732.6 L1138.0,731.5 L1139.5,730.5 L1141.0,729.5 L1142.5,728.4 L1144.0,727.4 L1145.5,726.3 L1147.0,725.3 L1148.5,724.2 L1150.0,723.1 L1151.5,722.0 L1153.0,720.9 L1154.5,719.8" stroke="#ff0000" stroke-width="1.1" fill="none" opacity="0.6"/>
<line x1="212.5" y1="601.5" x2="212.5" y2="611.5" stroke="#262626" stroke-width="1.2"/><line x1="212.5" y1="762.2" x2="212.5" y2="752.2" stroke="#262626" stroke-width="1.2"/><line x1="500.4" y1="601.5" x2="500.4" y2="611.5" stroke="#262626" stroke-width="1.2"/><line x1="500.4" y1="762.2" x2="500.4" y2="752.2" stroke="#262626" stroke-width="1.2"/><line x1="787.9" y1="601.5" x2="787.9" y2="611.5" stroke="#262626" stroke-width="1.2"/><line x1="787.9" y1="762.2" x2="787.9" y2="752.2" stroke="#262626" stroke-width="1.2"/><line x1="1075.6" y1="601.5" x2="1075.6" y2="611.5" stroke="#262626" stroke-width="1.2"/><line x1="1075.6" y1="762.2" x2="1075.6" y2="752.2" stroke="#262626" stroke-width="1.2"/><line x1="165.5" y1="650.2" x2="175.5" y2="650.2" stroke="#262626" stroke-width="1.2"/><line x1="1154.5" y1="650.2" x2="1144.5" y2="650.2" stroke="#262626" stroke-width="1.2"/><line x1="165.5" y1="702.3" x2="175.5" y2="702.3" stroke="#262626" stroke-width="1.2"/><line x1="1154.5" y1="702.3" x2="1144.5" y2="702.3" stroke="#262626" stroke-width="1.2"/><line x1="165.5" y1="754.3" x2="175.5" y2="754.3" stroke="#262626" stroke-width="1.2"/><line x1="1154.5" y1="754.3" x2="1144.5" y2="754.3" stroke="#262626" stroke-width="1.2"/><rect x="165.5" y="601.5" width="989.0" height="160.7" fill="none" stroke="#262626" stroke-width="1.3"/>
<text x="155.5" y="656.7" font-size="22.0" text-anchor="end" textLength="12.0" lengthAdjust="spacingAndGlyphs" fill="#262626" >4</text>
<text x="155.5" y="708.8" font-size="22.0" text-anchor="end" textLength="12.0" lengthAdjust="spacingAndGlyphs" fill="#262626" >3</text>
<text x="155.5" y="760.8" font-size="22.0" text-anchor="end" textLength="12.0" lengthAdjust="spacingAndGlyphs" fill="#262626" >2</text>
<path d="M169,584.8 L179,594.7 M169,594.7 L179,584.8" stroke="#262626" stroke-width="1.1"/>
<text x="184.5" y="595.0" font-size="22.0" text-anchor="start" textLength="23.5" lengthAdjust="spacingAndGlyphs" fill="#262626" >10</text>
<text x="211.5" y="586.6" font-size="16.0" text-anchor="start" textLength="9.2" lengthAdjust="spacingAndGlyphs" fill="#262626" >4</text>
<text x="105.0" y="738.0" font-size="20.5" font-weight="bold" text-anchor="start" textLength="110.0" lengthAdjust="spacingAndGlyphs" transform="rotate(-90 105.0 738.0)" fill="#262626" >Total Field</text>
<text x="130.0" y="721.0" font-size="20.5" font-weight="bold" text-anchor="start" textLength="76.0" lengthAdjust="spacingAndGlyphs" transform="rotate(-90 130.0 721.0)" fill="#262626" >|B| (nT)</text>
<text x="1170.0" y="678.2" font-size="15.5" font-weight="bold" text-anchor="start" textLength="62.0" lengthAdjust="spacingAndGlyphs" transform="rotate(-90 1170.0 678.2)" fill="#000000" >Inboard</text>
<text x="1182.2" y="699.0" font-size="15.5" font-weight="bold" text-anchor="start" textLength="75.5" lengthAdjust="spacingAndGlyphs" transform="rotate(-90 1182.2 699.0)" fill="#000000" >Outboard</text>
<text x="1194.3" y="659.3" font-size="15.5" font-weight="bold" text-anchor="start" textLength="47.5" lengthAdjust="spacingAndGlyphs" transform="rotate(-90 1194.3 659.3)" fill="#000000" >Chaos</text>
<line x1="1165" y1="718" x2="1165" y2="733" stroke="#0000ff" stroke-width="2"/>
<line x1="1180" y1="719" x2="1180" y2="734" stroke="#00ff00" stroke-width="2"/>
<line x1="1192" y1="719" x2="1192" y2="734" stroke="#ff0000" stroke-width="2"/>
<line x1="212.5" y1="835.3" x2="212.5" y2="999.3" stroke="#dedede" stroke-width="1"/><line x1="500.4" y1="835.3" x2="500.4" y2="999.3" stroke="#dedede" stroke-width="1"/><line x1="787.9" y1="835.3" x2="787.9" y2="999.3" stroke="#dedede" stroke-width="1"/><line x1="1075.6" y1="835.3" x2="1075.6" y2="999.3" stroke="#dedede" stroke-width="1"/><line x1="165.5" y1="913.4" x2="1154.5" y2="913.4" stroke="#dedede" stroke-width="1"/><line x1="165.5" y1="990.3" x2="1154.5" y2="990.3" stroke="#dedede" stroke-width="1"/>
<path d="M165.0,909.7 L166.5,908.4 L168.0,907.1 L169.5,905.9 L171.0,904.8 L172.5,903.8 L174.0,902.8 L175.5,902.0 L177.1,901.4 L178.6,900.9 L180.1,900.6 L181.6,900.6 L183.1,900.7 L184.6,901.0 L186.1,901.4 L187.6,901.7 L189.1,902.1 L190.6,902.4 L192.1,902.5 L193.6,902.5 L195.1,902.3 L196.6,901.8 L198.1,901.1 L199.7,900.2 L201.2,899.0 L202.7,897.5 L204.2,895.8 L205.7,893.8 L207.2,891.8 L208.7,889.7 L210.2,887.8 L211.7,886.0 L213.2,884.5 L214.7,883.3 L216.2,882.6 L217.7,882.4 L219.2,882.9 L220.7,883.8 L222.2,885.2 L223.8,886.9 L225.3,888.9 L226.8,891.2 L228.3,893.6 L229.8,896.1 L231.3,898.6 L232.8,901.0 L234.3,903.3 L235.8,905.4 L237.3,907.3 L238.8,908.8 L240.3,909.9 L241.8,910.5 L243.3,910.7 L244.8,910.3 L246.4,909.6 L247.9,908.7 L249.4,907.5 L250.9,906.1 L252.4,904.7 L253.9,903.4 L255.4,902.1 L256.9,901.0 L258.4,900.2 L259.9,899.7 L261.4,899.6 L262.9,900.0 L264.4,900.9 L265.9,902.2 L267.4,903.8 L269.0,905.7 L270.5,907.7 L272.0,909.8 L273.5,912.0 L275.0,914.1 L276.5,916.1 L278.0,917.9 L279.5,919.4 L281.0,920.6 L282.5,921.3 L284.0,921.5 L285.5,921.2 L287.0,920.2 L288.5,918.6 L290.0,916.5 L291.6,913.9 L293.1,911.0 L294.6,908.0 L296.1,904.8 L297.6,901.7 L299.1,898.7 L300.6,896.0 L302.1,893.7 L303.6,891.8 L305.1,890.5 L306.6,889.9 L308.1,890.2 L309.6,891.4 L311.1,893.6 L312.6,896.8 L314.2,900.9 L315.7,905.8 L317.2,911.4 L318.7,917.6 L320.2,924.3 L321.7,931.5 L323.2,938.9 L324.7,946.6 L326.2,954.3 L327.7,961.8 L329.2,968.9 L330.7,975.3 L332.2,980.8 L333.7,985.2 L335.2,988.2 L336.8,989.9 L338.3,990.2 L339.8,989.4 L341.3,987.5 L342.8,984.7 L344.3,981.2 L345.8,977.1 L347.3,972.5 L348.8,967.6 L350.3,962.6 L351.8,957.5 L353.3,952.5 L354.8,947.8 L356.3,943.6 L357.8,939.8 L359.3,936.8 L360.9,934.6 L362.4,933.3 L363.9,933.0 L365.4,933.5 L366.9,934.7 L368.4,936.5 L369.9,938.9 L371.4,941.7 L372.9,944.9 L374.4,948.3 L375.9,952.0 L377.4,955.7 L378.9,959.5 L380.4,963.4 L381.9,967.2 L383.5,971.0 L385.0,974.8 L386.5,978.5 L388.0,982.0 L389.5,985.4 L391.0,988.7 L392.5,991.9 L394.0,995.1" stroke="#0000ff" stroke-width="3" fill="none" stroke-linejoin="round"/>
<path d="M424.3,921.1 L425.8,921.7 L427.3,922.4 L428.8,922.9 L430.4,923.4 L431.9,923.7 L433.4,923.8 L434.9,923.7 L436.4,923.3 L437.9,922.9 L439.4,922.6 L441.0,922.5 L442.5,922.8 L444.0,923.6 L445.5,925.0 L447.0,926.9 L448.5,929.3 L450.0,932.0 L451.6,935.0 L453.1,938.2 L454.6,941.5 L456.1,944.9 L457.6,948.2 L459.1,951.4 L460.6,954.4 L462.2,957.1 L463.7,959.5 L465.2,961.4 L466.7,962.7 L468.2,963.5 L469.7,963.5 L471.2,962.8 L472.8,961.5 L474.3,959.7 L475.8,957.4 L477.3,954.6 L478.8,951.6 L480.3,948.2 L481.8,944.8 L483.4,941.2 L484.9,937.6 L486.4,934.0 L487.9,930.6 L489.4,927.5 L490.9,924.6 L492.4,922.0 L494.0,919.9 L495.5,918.4 L497.0,917.4 L498.5,917.1 L500.0,917.6 L501.5,918.7 L503.0,920.4 L504.5,922.6 L506.1,925.1 L507.6,927.9 L509.1,930.8 L510.6,933.8 L512.1,936.7 L513.6,939.5 L515.1,942.0 L516.7,944.1 L518.2,945.7 L519.7,946.8 L521.2,947.2 L522.7,946.9 L524.2,945.8 L525.7,944.2 L527.3,942.1 L528.8,939.6 L530.3,936.8 L531.8,933.8 L533.3,930.7 L534.8,927.5 L536.3,924.5 L537.9,921.6 L539.4,919.0 L540.9,916.7 L542.4,915.0 L543.9,913.7 L545.4,913.1 L546.9,913.2 L548.5,914.0 L550.0,915.3 L551.5,917.1 L553.0,919.2 L554.5,921.6 L556.0,924.0 L557.5,926.5 L559.1,928.9 L560.6,931.1 L562.1,933.0 L563.6,934.5 L565.1,935.5 L566.6,935.8 L568.1,935.5 L569.7,934.5 L571.2,933.0 L572.7,931.3 L574.2,929.3" stroke="#0000ff" stroke-width="3" fill="none" stroke-linejoin="round"/>
<path d="M585.4,895.3 L586.9,894.1 L588.4,893.0 L589.9,892.1 L591.4,891.6 L592.9,891.6 L594.4,892.2 L595.9,893.4 L597.4,895.0 L598.9,896.9 L600.4,898.9 L601.9,901.0 L603.4,903.1 L604.9,904.8 L606.4,906.2 L607.9,907.1 L609.4,907.4 L610.9,907.0 L612.4,906.0 L613.9,904.5 L615.4,902.5 L616.9,900.2 L618.4,897.7 L619.9,895.0 L621.4,892.3 L622.9,889.6 L624.4,886.9 L625.9,884.5 L627.4,882.3 L628.9,880.6 L630.4,879.2 L631.9,878.4 L633.4,878.2 L634.9,878.7 L636.4,879.6 L637.9,880.9 L639.4,882.7 L640.9,884.7 L642.4,886.9 L643.9,889.2 L645.4,891.6 L646.9,894.1 L648.4,896.4 L649.9,898.5 L651.4,900.4 L652.9,902.0 L654.4,903.2 L655.9,904.0 L657.4,904.3 L658.9,904.2 L660.4,903.8 L661.9,903.0 L663.4,902.0 L664.9,900.7 L666.4,899.2 L667.9,897.5 L669.4,895.7 L670.9,893.8 L672.4,891.9 L673.9,890.1 L675.4,888.3 L676.9,886.6 L678.4,885.1 L679.9,883.8 L681.4,882.8 L682.9,882.2 L684.4,881.9 L685.9,881.9 L687.4,882.2 L688.9,882.7 L690.4,883.4 L691.9,884.3 L693.4,885.2 L694.9,886.3 L696.4,887.3 L697.9,888.4 L699.4,889.4 L700.9,890.3 L702.4,891.1 L703.9,891.7 L705.4,892.2 L706.9,892.5 L708.4,892.7 L709.9,893.0 L711.4,893.2 L712.9,893.4 L714.4,893.7 L715.9,894.1 L717.4,894.7 L718.9,895.4 L720.4,896.4 L721.9,897.5 L723.4,898.8 L724.9,900.3 L726.4,901.8 L727.9,903.3 L729.4,904.9 L730.9,906.4 L732.4,907.8 L733.9,909.2 L735.4,910.3 L736.9,911.3 L738.4,912.1 L739.9,912.6 L741.4,912.8 L742.9,912.6 L744.4,912.1 L745.9,911.3 L747.4,910.2 L748.9,908.9 L750.4,907.5 L751.9,905.9 L753.4,904.3 L754.9,902.7 L756.4,901.2 L757.9,899.8 L759.4,898.5 L760.9,897.5 L762.4,896.7 L763.9,896.2 L765.4,896.2 L766.9,896.5 L768.4,897.1 L769.9,898.1 L771.4,899.3 L772.9,900.8 L774.4,902.5 L775.9,904.4 L777.4,906.4 L778.9,908.4 L780.4,910.5 L781.9,912.6 L783.4,914.7 L784.9,916.7 L786.4,918.6 L787.9,920.3 L789.4,921.8 L790.9,923.1 L792.4,924.1 L793.9,924.7 L795.4,925.0 L796.9,924.8 L798.4,924.2 L799.9,923.1 L801.4,921.7 L802.9,920.1 L804.4,918.1 L805.9,916.0 L807.4,913.7 L808.9,911.3 L810.4,908.9 L811.9,906.5 L813.4,904.1 L814.9,901.8 L816.4,899.7 L817.9,897.8 L819.4,896.1 L820.9,894.8 L822.4,893.8 L823.9,893.3 L825.4,893.1 L826.9,893.3 L828.4,893.9 L829.9,894.8 L831.4,895.9 L832.9,897.3 L834.4,898.9 L835.9,900.7 L837.4,902.6 L838.9,904.6 L840.4,906.7 L841.9,908.8 L843.4,910.9 L844.9,912.9 L846.4,915.0 L847.9,916.9 L849.4,918.9 L850.9,920.7 L852.4,922.5 L853.9,924.3 L855.4,925.9 L856.9,927.5 L858.4,929.0 L859.9,930.4 L861.4,931.7 L862.9,933.0 L864.4,934.1 L865.9,935.1 L867.4,936.0 L869.0,936.8 L870.5,937.4 L872.0,937.9 L873.5,938.3 L875.0,938.6 L876.5,938.8 L878.0,938.8 L879.5,938.7 L881.0,938.6 L882.5,938.4 L884.0,938.0 L885.5,937.6 L887.0,937.2 L888.5,936.7 L890.0,936.1 L891.5,935.5 L893.0,934.8 L894.5,934.2 L896.0,933.5 L897.5,932.8 L899.0,932.2 L900.5,931.8 L902.0,931.5 L903.5,931.5 L905.0,931.7 L906.5,932.3 L908.0,933.2 L909.5,934.4 L911.0,935.9 L912.5,937.6 L914.0,939.4 L915.5,941.2 L917.0,943.0 L918.5,944.7 L920.0,946.2 L921.5,947.5 L923.0,948.6 L924.5,949.4 L926.0,950.0 L927.5,950.4 L929.0,950.5 L930.5,950.4 L932.0,950.2 L933.5,949.7 L935.0,949.0 L936.5,948.0 L938.0,946.9 L939.5,945.5 L941.0,943.9 L942.5,942.1 L944.0,940.2 L945.5,938.1 L947.0,935.9 L948.5,933.6 L950.0,931.4 L951.5,929.2 L953.0,927.0 L954.5,924.9 L956.0,923.0 L957.5,921.3 L959.0,919.8 L960.5,918.6 L962.0,917.7 L963.5,917.1 L965.0,917.0 L966.5,917.1 L968.0,917.7 L969.5,918.5 L971.0,919.5 L972.5,920.8 L974.0,922.1 L975.5,923.6 L977.0,925.2 L978.5,926.7 L980.0,928.3 L981.5,929.7 L983.0,931.0 L984.5,932.2 L986.0,933.1 L987.5,933.8 L989.0,934.2 L990.5,934.3 L992.0,934.0 L993.5,933.4 L995.0,932.6 L996.5,931.4 L998.0,930.0 L999.5,928.3 L1001.0,926.4 L1002.5,924.3 L1004.0,922.0 L1005.5,919.6 L1007.0,917.2 L1008.5,914.8 L1010.0,912.5 L1011.5,910.3 L1013.0,908.3 L1014.5,906.5 L1016.0,905.0 L1017.5,903.8 L1019.0,903.1 L1020.5,902.7 L1022.0,902.9 L1023.5,903.4 L1025.0,904.3 L1026.5,905.5 L1028.0,906.8 L1029.5,908.3 L1031.0,909.9 L1032.5,911.4 L1034.0,912.9 L1035.5,914.3 L1037.0,915.4 L1038.5,916.3 L1040.0,916.8 L1041.5,917.0 L1043.0,916.8 L1044.5,916.2 L1046.0,915.4 L1047.5,914.3 L1049.0,913.0 L1050.5,911.6 L1052.0,910.1 L1053.5,908.4 L1055.0,906.6 L1056.5,904.8 L1058.0,902.9 L1059.5,901.0 L1061.0,899.2 L1062.5,897.5 L1064.0,896.0 L1065.5,894.7 L1067.0,893.9 L1068.5,893.4 L1070.0,893.5 L1071.5,894.0 L1073.0,894.9 L1074.5,896.2 L1076.0,897.7 L1077.5,899.6 L1079.0,901.6 L1080.5,903.8 L1082.0,906.2 L1083.5,908.5 L1085.0,910.6 L1086.5,912.5 L1088.0,914.1 L1089.5,915.1 L1091.0,915.6 L1092.5,915.3 L1094.0,914.3 L1095.5,912.8 L1097.0,910.9 L1098.5,908.6 L1100.0,906.1 L1101.5,903.5 L1103.0,900.8 L1104.5,898.1 L1106.0,895.6 L1107.5,893.1 L1109.0,890.9 L1110.5,889.0 L1112.0,887.5 L1113.5,886.3 L1115.0,885.6 L1116.5,885.5 L1118.0,885.8 L1119.5,886.5 L1121.0,887.5 L1122.5,888.6 L1124.0,889.7 L1125.5,890.8 L1127.0,891.8 L1128.5,892.5 L1130.0,892.9 L1131.5,893.0 L1133.0,892.6 L1134.5,891.9 L1136.0,890.9 L1137.5,889.9 L1139.0,888.8 L1140.5,887.9 L1142.0,887.2 L1143.5,886.6 L1145.0,886.2 L1146.5,885.9 L1148.0,885.6 L1149.5,885.4 L1151.0,885.3" stroke="#0000ff" stroke-width="3" fill="none" stroke-linejoin="round"/>
<path d="M165.1,903.6 L166.6,902.9 L168.1,902.2 L169.6,901.6 L171.1,901.1 L172.6,900.7 L174.2,900.5 L175.7,900.5 L177.2,900.7 L178.7,901.1 L180.2,901.8 L181.7,902.6 L183.2,903.7 L184.7,905.0 L186.2,906.4 L187.7,907.9 L189.2,909.2 L190.8,910.4 L192.3,911.2 L193.8,911.6 L195.3,911.3 L196.8,910.5 L198.3,909.0 L199.8,907.0 L201.3,904.6 L202.8,901.7 L204.3,898.6 L205.8,895.2 L207.4,891.7 L208.9,888.2 L210.4,885.0 L211.9,882.1 L213.4,879.8 L214.9,878.1 L216.4,877.3 L217.9,877.5 L219.4,878.4 L220.9,880.0 L222.4,882.2 L224.0,884.7 L225.5,887.5 L227.0,890.4 L228.5,893.4 L230.0,896.3 L231.5,899.2 L233.0,901.9 L234.5,904.5 L236.0,906.7 L237.5,908.6 L239.1,910.1 L240.6,911.2 L242.1,911.7 L243.6,911.6 L245.1,911.1 L246.6,910.2 L248.1,909.0 L249.6,907.6 L251.1,906.0 L252.6,904.3 L254.1,902.7 L255.7,901.2 L257.2,899.8 L258.7,898.8 L260.2,898.0 L261.7,897.7 L263.2,897.9 L264.7,898.6 L266.2,899.7 L267.7,901.1 L269.2,902.8 L270.7,904.8 L272.3,906.9 L273.8,909.1 L275.3,911.3 L276.8,913.5 L278.3,915.6 L279.8,917.5 L281.3,919.2 L282.8,920.5 L284.3,921.4 L285.8,921.8 L287.3,921.7 L288.9,920.9 L290.4,919.7 L291.9,918.0 L293.4,915.8 L294.9,913.3 L296.4,910.4 L297.9,907.2 L299.4,903.7 L300.9,900.1 L302.4,896.6 L303.9,893.3 L305.5,890.4 L307.0,888.2 L308.5,886.8 L310.0,886.4 L311.5,887.2 L313.0,889.3 L314.5,893.0 L316.0,898.3 L317.5,905.4 L319.0,914.2 L320.5,924.1 L322.1,934.5 L323.6,944.9 L325.1,954.8 L326.6,963.9 L328.1,972.2 L329.6,979.4 L331.1,985.3 L332.6,989.7 L334.1,992.5 L335.6,993.5 L337.1,992.9 L338.7,990.8 L340.2,987.5 L341.7,983.2 L343.2,978.2 L344.7,972.6 L346.2,966.7 L347.7,960.5 L349.2,954.3 L350.7,948.3 L352.2,942.5 L353.8,937.2 L355.3,932.6 L356.8,928.7 L358.3,925.7 L359.8,923.9 L361.3,923.4 L362.8,924.3 L364.3,926.6 L365.8,930.0 L367.3,934.3 L368.8,939.1 L370.4,944.4 L371.9,949.7 L373.4,954.9 L374.9,960.0 L376.4,964.8 L377.9,969.3 L379.4,973.6 L380.9,977.5 L382.4,981.0 L383.9,984.2 L385.4,986.9 L387.0,989.2 L388.5,991.2 L390.0,992.9 L391.5,994.4 L393.0,995.8 L394.5,997.1" stroke="#00ff00" stroke-width="5.5" fill="none" stroke-linejoin="round" stroke-linecap="butt"/>
<path d="M424.3,926.4 L425.8,929.4 L427.3,932.1 L428.8,934.4 L430.3,936.0 L431.8,936.6 L433.3,936.2 L434.8,935.0 L436.3,933.3 L437.8,931.3 L439.3,929.2 L440.8,927.4 L442.3,926.1 L443.8,925.5 L445.3,925.9 L446.8,927.0 L448.3,928.9 L449.9,931.3 L451.4,934.3 L452.9,937.5 L454.4,940.9 L455.9,944.5 L457.4,948.1 L458.9,951.6 L460.4,954.9 L461.9,958.1 L463.4,961.0 L464.9,963.6 L466.4,965.8 L467.9,967.5 L469.4,968.7 L470.9,969.4 L472.4,969.5 L473.9,969.0 L475.4,968.0 L476.9,966.3 L478.4,964.1 L479.9,961.3 L481.4,957.9 L482.9,954.0 L484.4,949.9 L485.9,945.5 L487.4,941.1 L488.9,936.8 L490.4,932.6 L491.9,928.7 L493.4,925.2 L494.9,922.3 L496.4,920.1 L497.9,918.6 L499.5,918.1 L501.0,918.5 L502.5,919.7 L504.0,921.5 L505.5,923.9 L507.0,926.7 L508.5,929.8 L510.0,933.1 L511.5,936.4 L513.0,939.6 L514.5,942.6 L516.0,945.3 L517.5,947.5 L519.0,949.1 L520.5,950.0 L522.0,950.1 L523.5,949.3 L525.0,947.9 L526.5,945.8 L528.0,943.2 L529.5,940.3 L531.0,937.0 L532.5,933.6 L534.0,930.1 L535.5,926.7 L537.0,923.4 L538.5,920.4 L540.0,917.8 L541.5,915.7 L543.0,914.1 L544.5,913.3 L546.0,913.2 L547.5,914.1 L549.1,915.6 L550.6,917.7 L552.1,920.2 L553.6,923.0 L555.1,926.0 L556.6,929.0 L558.1,931.9 L559.6,934.6 L561.1,936.8 L562.6,938.5 L564.1,939.6 L565.6,939.9 L567.1,939.2 L568.6,937.7 L570.1,935.6 L571.6,933.1 L573.1,930.4" stroke="#00ff00" stroke-width="5.0" fill="none" stroke-linejoin="round" stroke-linecap="butt"/>
<path d="M585.4,899.2 L586.9,896.7 L588.4,894.3 L589.9,892.2 L591.4,890.7 L592.9,889.9 L594.4,890.0 L595.9,890.9 L597.4,892.4 L598.9,894.5 L600.4,896.9 L601.9,899.5 L603.4,902.0 L604.9,904.4 L606.4,906.3 L607.9,907.8 L609.4,908.5 L610.9,908.5 L612.4,907.8 L613.9,906.5 L615.4,904.7 L616.9,902.6 L618.4,900.2 L619.9,897.5 L621.4,894.9 L622.9,892.2 L624.4,889.6 L625.9,887.2 L627.4,885.1 L628.9,883.5 L630.4,882.3 L631.9,881.7 L633.4,881.6 L634.9,881.9 L636.4,882.7 L637.9,883.7 L639.4,885.1 L640.9,886.7 L642.5,888.4 L644.0,890.3 L645.5,892.2 L647.0,894.1 L648.5,895.9 L650.0,897.6 L651.5,899.1 L653.0,900.4 L654.5,901.4 L656.0,902.0 L657.5,902.2 L659.0,902.2 L660.5,901.8 L662.0,901.2 L663.5,900.3 L665.0,899.2 L666.5,898.0 L668.0,896.5 L669.5,894.9 L671.0,893.2 L672.5,891.5 L674.0,889.7 L675.5,888.0 L677.0,886.4 L678.5,885.0 L680.0,883.7 L681.5,882.8 L683.0,882.1 L684.5,881.9 L686.0,881.9 L687.5,882.2 L689.0,882.7 L690.5,883.5 L692.0,884.3 L693.5,885.3 L695.0,886.4 L696.5,887.4 L698.0,888.5 L699.5,889.5 L701.0,890.4 L702.5,891.2 L704.0,891.7 L705.5,892.2 L707.0,892.5 L708.5,892.8 L710.0,893.0 L711.5,893.2 L713.0,893.4 L714.5,893.7 L716.0,894.1 L717.5,894.7 L719.0,895.5 L720.5,896.4 L722.0,897.6 L723.5,898.9 L725.0,900.4 L726.5,901.9 L728.0,903.4 L729.5,905.0 L731.0,906.5 L732.5,907.9 L734.0,909.2 L735.5,910.4 L737.0,911.4 L738.5,912.1 L740.0,912.6 L741.5,912.8 L743.0,912.6 L744.5,912.1 L746.0,911.2 L747.5,910.2 L749.0,908.9 L750.5,907.5 L752.0,905.9 L753.5,904.4 L755.0,902.8 L756.6,901.3 L758.1,900.0 L759.6,898.8 L761.1,897.8 L762.6,897.1 L764.1,896.7 L765.6,896.7 L767.1,897.1 L768.6,897.8 L770.1,898.8 L771.6,900.1 L773.1,901.7 L774.6,903.4 L776.1,905.2 L777.6,907.1 L779.1,909.1 L780.6,911.0 L782.1,912.9 L783.6,914.8 L785.1,916.5 L786.6,918.0 L788.1,919.4 L789.6,920.5 L791.1,921.3 L792.6,921.9 L794.1,922.2 L795.6,922.1 L797.1,921.8 L798.6,921.1 L800.1,920.1 L801.6,918.8 L803.1,917.4 L804.6,915.8 L806.1,914.0 L807.6,912.1 L809.1,910.2 L810.6,908.3 L812.1,906.4 L813.6,904.5 L815.1,902.7 L816.6,901.1 L818.1,899.7 L819.6,898.4 L821.1,897.4 L822.6,896.8 L824.1,896.4 L825.6,896.4 L827.1,896.6 L828.6,897.2 L830.1,898.0 L831.6,899.0 L833.1,900.2 L834.6,901.6 L836.1,903.1 L837.6,904.7 L839.1,906.4 L840.6,908.2 L842.1,910.1 L843.6,911.9 L845.1,913.8 L846.6,915.6 L848.1,917.4 L849.6,919.2 L851.1,920.9 L852.6,922.7 L854.1,924.3 L855.6,926.0 L857.1,927.6 L858.6,929.1 L860.1,930.7 L861.6,932.1 L863.1,933.5 L864.6,934.8 L866.1,936.1 L867.6,937.3 L869.1,938.4 L870.7,939.4 L872.2,940.3 L873.7,941.2 L875.2,942.0 L876.7,942.6 L878.2,943.1 L879.7,943.5 L881.2,943.7 L882.7,943.8 L884.2,943.6 L885.7,943.3 L887.2,942.8 L888.7,942.1 L890.2,941.1 L891.7,940.0 L893.2,938.8 L894.7,937.5 L896.2,936.2 L897.7,935.1 L899.2,934.0 L900.7,933.1 L902.2,932.4 L903.7,932.0 L905.2,932.0 L906.7,932.4 L908.2,933.2 L909.7,934.4 L911.2,935.9 L912.7,937.6 L914.2,939.4 L915.7,941.3 L917.2,943.2 L918.7,944.9 L920.2,946.5 L921.7,947.7 L923.2,948.8 L924.7,949.6 L926.2,950.1 L927.7,950.4 L929.2,950.5 L930.7,950.4 L932.2,950.1 L933.7,949.6 L935.2,948.8 L936.7,947.9 L938.2,946.7 L939.7,945.3 L941.2,943.6 L942.7,941.8 L944.2,939.8 L945.7,937.7 L947.2,935.5 L948.7,933.2 L950.2,931.0 L951.7,928.8 L953.2,926.6 L954.7,924.6 L956.2,922.7 L957.7,921.0 L959.2,919.6 L960.7,918.4 L962.2,917.6 L963.7,917.1 L965.2,917.0 L966.7,917.2 L968.2,917.8 L969.7,918.7 L971.2,919.8 L972.7,921.0 L974.2,922.5 L975.7,924.0 L977.2,925.5 L978.7,927.1 L980.2,928.6 L981.7,930.0 L983.2,931.3 L984.8,932.4 L986.3,933.3 L987.8,933.9 L989.3,934.2 L990.8,934.2 L992.3,933.8 L993.8,933.2 L995.3,932.3 L996.8,931.1 L998.3,929.6 L999.8,928.0 L1001.3,926.1 L1002.8,924.1 L1004.3,921.9 L1005.8,919.7 L1007.3,917.5 L1008.8,915.3 L1010.3,913.1 L1011.8,911.2 L1013.3,909.4 L1014.8,907.8 L1016.3,906.5 L1017.8,905.5 L1019.3,904.9 L1020.8,904.7 L1022.3,905.0 L1023.8,905.6 L1025.3,906.5 L1026.8,907.7 L1028.3,909.0 L1029.8,910.4 L1031.3,911.9 L1032.8,913.3 L1034.3,914.7 L1035.8,915.9 L1037.3,916.9 L1038.8,917.7 L1040.3,918.1 L1041.8,918.1 L1043.3,917.9 L1044.8,917.3 L1046.3,916.4 L1047.8,915.4 L1049.3,914.1 L1050.8,912.7 L1052.3,911.2 L1053.8,909.6 L1055.3,907.9 L1056.8,906.2 L1058.3,904.6 L1059.8,902.9 L1061.3,901.4 L1062.8,900.1 L1064.3,899.1 L1065.8,898.4 L1067.3,898.3 L1068.8,898.6 L1070.3,899.5 L1071.8,900.6 L1073.3,902.1 L1074.8,903.7 L1076.3,905.3 L1077.8,906.9 L1079.3,908.4 L1080.8,909.7 L1082.3,910.9 L1083.8,911.9 L1085.3,912.6 L1086.8,912.9 L1088.3,913.0 L1089.8,912.7 L1091.3,912.2 L1092.8,911.4 L1094.3,910.4 L1095.8,909.1 L1097.3,907.6 L1098.9,905.9 L1100.4,904.1 L1101.9,902.1 L1103.4,900.1 L1104.9,898.1 L1106.4,896.1 L1107.9,894.1 L1109.4,892.4 L1110.9,890.9 L1112.4,889.7 L1113.9,889.0 L1115.4,888.9 L1116.9,889.3 L1118.4,890.3 L1119.9,891.7 L1121.4,893.4 L1122.9,895.3 L1124.4,897.3 L1125.9,899.1 L1127.4,900.4 L1128.9,901.1 L1130.4,901.0 L1131.9,900.0 L1133.4,898.4 L1134.9,896.3 L1136.4,893.9 L1137.9,891.3 L1139.4,888.9 L1140.9,886.5 L1142.4,884.4 L1143.9,882.6 L1145.4,881.2 L1146.9,880.3 L1148.4,879.9 L1149.9,880.1 L1151.4,880.8 L1152.9,881.7 L1154.4,882.8" stroke="#00ff00" stroke-width="4.5" fill="none" stroke-linejoin="round" stroke-linecap="butt"/>
<line x1="375" y1="950.5" x2="375" y2="988" stroke="#0000ff" stroke-width="1.2"/>
<line x1="376.5" y1="949.5" x2="376.5" y2="992" stroke="#00ff00" stroke-width="1.2"/>
<line x1="654.7" y1="903.6" x2="654.7" y2="939.3" stroke="#3a3aff" stroke-width="1.2"/>
<line x1="652.7" y1="883.2" x2="652.7" y2="901" stroke="#00ff00" stroke-width="1.2"/>
<line x1="567" y1="919" x2="567" y2="940" stroke="#00ff00" stroke-width="1"/>
<line x1="1154" y1="857.7" x2="1154" y2="907.7" stroke="#0000ff" stroke-width="1.5"/>
<line x1="212.5" y1="835.3" x2="212.5" y2="845.3" stroke="#262626" stroke-width="1.2"/><line x1="212.5" y1="999.3" x2="212.5" y2="989.3" stroke="#262626" stroke-width="1.2"/><line x1="500.4" y1="835.3" x2="500.4" y2="845.3" stroke="#262626" stroke-width="1.2"/><line x1="500.4" y1="999.3" x2="500.4" y2="989.3" stroke="#262626" stroke-width="1.2"/><line x1="787.9" y1="835.3" x2="787.9" y2="845.3" stroke="#262626" stroke-width="1.2"/><line x1="787.9" y1="999.3" x2="787.9" y2="989.3" stroke="#262626" stroke-width="1.2"/><line x1="1075.6" y1="835.3" x2="1075.6" y2="845.3" stroke="#262626" stroke-width="1.2"/><line x1="1075.6" y1="999.3" x2="1075.6" y2="989.3" stroke="#262626" stroke-width="1.2"/><line x1="165.5" y1="913.4" x2="175.5" y2="913.4" stroke="#262626" stroke-width="1.2"/><line x1="1154.5" y1="913.4" x2="1144.5" y2="913.4" stroke="#262626" stroke-width="1.2"/><line x1="165.5" y1="990.3" x2="175.5" y2="990.3" stroke="#262626" stroke-width="1.2"/><line x1="1154.5" y1="990.3" x2="1144.5" y2="990.3" stroke="#262626" stroke-width="1.2"/><rect x="165.5" y="835.3" width="989.0" height="164.0" fill="none" stroke="#262626" stroke-width="1.3"/>
<text x="155.0" y="842.0" font-size="22.0" text-anchor="end" textLength="36.3" lengthAdjust="spacingAndGlyphs" fill="#262626" >100</text>
<text x="155.0" y="919.9" font-size="22.0" text-anchor="end" textLength="12.0" lengthAdjust="spacingAndGlyphs" fill="#262626" >0</text>
<text x="155.0" y="996.8" font-size="22.0" text-anchor="end" textLength="44.0" lengthAdjust="spacingAndGlyphs" fill="#262626" >-100</text>
<text x="73.2" y="1010.0" font-size="20.5" font-weight="bold" text-anchor="start" textLength="187.0" lengthAdjust="spacingAndGlyphs" transform="rotate(-90 73.2 1010.0)" fill="#262626" >Model - Measured</text>
<text x="98.5" y="955.5" font-size="20.5" font-weight="bold" text-anchor="start" textLength="75.0" lengthAdjust="spacingAndGlyphs" transform="rotate(-90 98.5 955.5)" fill="#262626" >|B| (nT)</text>
<text x="1170.0" y="920.2" font-size="15.5" font-weight="bold" text-anchor="start" textLength="62.0" lengthAdjust="spacingAndGlyphs" transform="rotate(-90 1170.0 920.2)" fill="#000000" >Inboard</text>
<text x="1182.2" y="940.0" font-size="15.5" font-weight="bold" text-anchor="start" textLength="76.0" lengthAdjust="spacingAndGlyphs" transform="rotate(-90 1182.2 940.0)" fill="#000000" >Outboard</text>
<line x1="1165" y1="957" x2="1165" y2="972" stroke="#0000ff" stroke-width="2"/>
<line x1="1180" y1="957" x2="1180" y2="972" stroke="#00ff00" stroke-width="2"/>
<line x1="212.5" y1="1072.4" x2="212.5" y2="1233.5" stroke="#dedede" stroke-width="1"/><line x1="500.4" y1="1072.4" x2="500.4" y2="1233.5" stroke="#dedede" stroke-width="1"/><line x1="787.9" y1="1072.4" x2="787.9" y2="1233.5" stroke="#dedede" stroke-width="1"/><line x1="1075.6" y1="1072.4" x2="1075.6" y2="1233.5" stroke="#dedede" stroke-width="1"/><line x1="165.5" y1="1076.5" x2="1154.5" y2="1076.5" stroke="#dedede" stroke-width="1"/><line x1="165.5" y1="1138.0" x2="1154.5" y2="1138.0" stroke="#dedede" stroke-width="1"/><line x1="165.5" y1="1199.5" x2="1154.5" y2="1199.5" stroke="#dedede" stroke-width="1"/>
<path d="M165.5,1099.7 168.5,1099.3 171.5,1098.8 174.5,1098.4 177.5,1098.0 180.5,1097.7 183.5,1097.3 186.5,1097.0 189.5,1096.7 192.5,1096.5 195.5,1096.3 198.5,1096.1 201.5,1095.9 204.5,1095.7 207.5,1095.5 210.5,1095.4 213.5,1095.3 216.5,1095.2 219.5,1095.1 222.5,1095.0 225.5,1095.0 228.5,1094.9 231.5,1094.9 234.5,1094.8 237.5,1094.8 240.5,1094.8 243.5,1094.8 246.5,1094.8 249.5,1094.8 252.5,1094.8 255.5,1094.8 258.5,1094.9 261.5,1094.9 264.5,1095.0 267.5,1095.0 270.5,1095.0 273.5,1095.1 276.5,1095.1 279.5,1095.2 282.5,1095.2 285.5,1095.3 288.5,1095.3 291.5,1095.4 294.5,1095.4 297.5,1095.5 300.5,1095.5 303.5,1095.5 306.5,1095.6 309.5,1095.6 312.5,1095.6 315.5,1095.7 318.5,1095.7 321.5,1095.7 324.5,1095.7 327.5,1095.8 330.5,1095.8 333.5,1095.8 336.5,1095.8 339.5,1095.8 342.5,1095.9 345.5,1095.9 348.5,1095.9 351.5,1095.9 354.5,1095.9 357.5,1095.9 360.5,1095.9 363.5,1095.9 366.5,1096.0 369.5,1096.0 372.5,1096.0 375.5,1096.0 378.5,1096.0 381.5,1096.0 384.5,1096.0 387.5,1096.0 390.5,1096.0 393.5,1096.0 396.5,1096.0 399.5,1096.0 402.5,1096.0 405.5,1096.0 408.5,1096.0 411.5,1096.0 414.5,1096.0 417.5,1096.0 420.5,1096.0 423.5,1096.0 426.5,1096.0 429.5,1096.0 432.5,1096.0 435.5,1096.0 438.5,1096.0 441.5,1096.0 444.5,1096.0 447.5,1096.0 450.5,1096.0 453.5,1096.0 456.5,1096.0 459.5,1096.0 462.5,1095.9 465.5,1095.9 468.5,1095.9 471.5,1095.9 474.5,1095.8 477.5,1095.8 480.5,1095.8 483.5,1095.7 486.5,1095.7 489.5,1095.7 492.5,1095.6 495.5,1095.6 498.5,1095.5 501.5,1095.4 504.5,1095.4 507.5,1095.3 510.5,1095.2 513.5,1095.1 516.5,1095.1 519.5,1095.0 522.5,1094.9 525.5,1094.8 528.5,1094.7 531.5,1094.6 534.5,1094.5 537.5,1094.4 540.5,1094.4 543.5,1094.3 546.5,1094.2 549.5,1094.1 552.5,1094.0 555.5,1093.9 558.5,1093.8 561.5,1093.7 564.5,1093.6 567.5,1093.5 570.5,1093.4 573.5,1093.4" stroke="#00ff00" stroke-width="2.6" fill="none"/><path d="M165.5,1097.5V1101.9M166.5,1097.1V1101.3M167.7,1097.1V1101.2M169.8,1097.1V1100.9M170.4,1096.6V1100.6M171.7,1096.6V1100.8M173.9,1096.7V1100.3M174.6,1097.1V1099.9M176.1,1096.7V1100.2M177.0,1095.7V1099.4M178.8,1095.3V1100.5M180.2,1095.3V1099.2M182.3,1094.8V1099.8M184.5,1095.1V1099.9M185.7,1095.7V1098.7M187.7,1094.4V1098.8M189.4,1094.2V1098.5M190.4,1094.0V1098.5M192.5,1094.8V1099.1M193.2,1094.6V1098.4M193.9,1093.9V1099.0M195.1,1094.0V1098.0M196.2,1094.0V1098.2M197.0,1093.5V1098.8M198.5,1093.5V1097.8M199.8,1093.8V1097.4M200.5,1093.9V1097.5M202.3,1093.6V1097.7M203.7,1093.5V1097.2M205.5,1093.2V1097.2M206.3,1093.2V1097.8M208.2,1092.8V1097.8M210.3,1093.8V1097.3M212.3,1093.0V1097.5M213.5,1093.7V1097.8M214.2,1092.7V1097.7M216.3,1093.8V1097.2M218.1,1093.3V1097.8M219.8,1092.6V1096.4M221.9,1093.5V1096.8M223.1,1092.6V1096.4M224.4,1092.5V1097.1M225.5,1092.9V1096.5M226.2,1093.0V1096.6M227.7,1093.5V1096.5M229.5,1092.5V1096.4M231.4,1092.5V1097.1M232.9,1093.4V1096.6M233.5,1092.3V1097.3M234.2,1092.3V1096.5M236.4,1092.5V1096.6M237.8,1092.6V1096.8M239.3,1092.4V1096.2M240.4,1092.2V1097.0M241.8,1093.5V1097.2M242.9,1092.8V1096.4M243.8,1092.1V1096.5M245.7,1093.4V1097.2M247.5,1092.6V1096.7M248.5,1093.4V1096.9M250.6,1092.8V1097.1M251.6,1092.8V1097.3M253.7,1092.9V1097.1M255.6,1092.7V1096.5M256.2,1092.5V1096.3M257.9,1093.1V1097.1M259.0,1093.5V1097.0M260.7,1092.6V1096.7M262.7,1092.9V1096.3M263.8,1093.4V1096.4M264.7,1092.8V1096.3M265.7,1093.4V1096.7M266.8,1092.5V1097.4M268.9,1093.6V1096.7M270.2,1093.0V1096.6M271.1,1092.5V1097.0M272.0,1093.3V1096.8M273.6,1093.4V1096.5M274.5,1093.5V1097.5M275.5,1092.5V1096.7M276.3,1093.0V1096.6M278.3,1092.8V1097.2M279.0,1092.9V1097.5M280.1,1093.4V1097.3M281.9,1092.7V1096.7M283.0,1093.8V1096.6M283.8,1093.6V1096.8M285.4,1092.8V1097.5M286.1,1093.4V1097.0M288.2,1093.8V1096.9M289.4,1094.0V1098.0M290.3,1093.1V1097.8M291.6,1093.2V1097.7M293.6,1093.5V1096.9M294.8,1093.4V1097.1M296.5,1093.5V1098.0M297.5,1093.8V1097.3M299.1,1093.5V1097.5M300.3,1094.0V1097.0M301.1,1093.2V1097.9M302.9,1093.2V1097.9M304.1,1094.1V1097.7M306.1,1094.2V1097.0M307.4,1093.0V1097.5M308.6,1094.1V1097.8M309.2,1093.6V1097.4M310.4,1093.6V1098.1M311.8,1093.8V1097.2M313.1,1093.3V1097.8M315.0,1094.2V1097.4M315.7,1093.1V1097.0M317.3,1093.8V1097.0M318.6,1093.4V1097.9M319.3,1093.8V1097.7M319.9,1094.4V1097.4M320.9,1093.6V1097.1M321.8,1093.6V1097.5M323.5,1093.7V1097.5M325.5,1093.6V1097.8M326.9,1093.4V1098.1M327.9,1094.0V1098.5M329.5,1093.2V1097.8M330.6,1093.2V1098.1M332.3,1093.1V1098.3M333.7,1094.2V1098.3M335.8,1093.3V1097.7M336.6,1094.1V1097.1M338.7,1093.9V1098.1M339.7,1093.4V1098.2M340.9,1093.2V1097.3M342.8,1093.6V1097.6M344.3,1093.7V1098.0M345.2,1093.3V1098.4M346.1,1094.3V1097.3M347.2,1093.2V1097.6M347.9,1094.2V1097.5M349.5,1094.2V1097.2M350.5,1093.3V1097.9M351.4,1093.9V1097.6M352.2,1093.5V1098.2M353.2,1094.1V1097.7M354.0,1094.0V1098.0M354.8,1094.5V1097.8M356.3,1093.2V1097.6M357.9,1093.8V1097.4M359.7,1094.3V1098.5M360.6,1093.4V1097.7M361.7,1093.3V1098.0M363.2,1093.7V1098.2M364.9,1093.8V1097.7M366.4,1093.7V1097.3M367.3,1093.7V1097.8M368.7,1094.1V1098.4M370.3,1094.7V1098.7M371.1,1093.8V1097.7M373.0,1093.5V1097.9M374.6,1094.6V1098.1M375.3,1093.8V1098.1M376.4,1093.7V1098.0M378.5,1093.8V1097.7M380.6,1094.3V1097.3M381.5,1093.6V1098.6M382.4,1094.2V1098.4M384.0,1093.5V1098.4M384.8,1094.7V1097.5M386.3,1093.6V1097.8M387.5,1094.4V1098.2M388.6,1093.7V1098.6M390.4,1094.0V1098.3M391.1,1094.3V1097.6M391.8,1094.0V1097.5M393.4,1093.5V1097.4M394.6,1093.9V1098.5M395.9,1093.8V1097.8M397.3,1093.7V1098.0M398.0,1093.8V1097.7M399.1,1094.1V1098.1M400.2,1094.1V1098.1M402.3,1093.9V1097.5M403.9,1093.8V1097.7M405.1,1094.3V1097.5M406.0,1093.6V1097.9M407.2,1094.6V1098.4M409.3,1094.1V1098.1M411.5,1093.6V1097.5M412.6,1093.6V1097.7M414.1,1094.4V1097.6M415.3,1094.1V1098.5M417.1,1093.6V1098.7M419.2,1094.3V1098.4M421.3,1093.6V1098.3M423.1,1093.7V1098.5M424.4,1094.7V1098.5M425.2,1094.4V1098.2M425.8,1094.6V1098.0M426.5,1094.7V1097.4M427.4,1094.0V1098.5M428.2,1093.7V1098.1M429.1,1093.7V1097.7M430.3,1094.0V1098.1M431.9,1093.3V1097.6M433.6,1094.2V1098.2M435.1,1094.1V1098.7M436.6,1094.0V1098.7M438.2,1093.6V1097.9M439.1,1094.1V1098.1M440.7,1093.4V1098.2M442.5,1093.5V1097.8M444.1,1093.6V1098.4M445.9,1094.0V1098.3M447.0,1094.3V1098.3M449.1,1093.7V1097.5M450.6,1094.0V1098.3M452.4,1094.2V1098.7M453.9,1094.2V1098.7M455.0,1093.5V1097.5M457.2,1094.3V1098.4M458.5,1094.3V1097.3M459.9,1093.3V1098.5M461.5,1094.3V1097.4M462.7,1093.4V1098.2M463.4,1094.1V1098.2M465.6,1093.5V1098.0M466.5,1094.6V1098.0M467.7,1093.6V1098.2M469.6,1094.4V1097.2M471.7,1093.7V1097.7M473.6,1093.7V1097.2M475.0,1094.4V1098.4M475.8,1093.2V1097.6M477.9,1093.8V1098.4M479.1,1093.9V1097.5M480.3,1094.2V1097.6M481.4,1094.3V1098.2M483.3,1093.7V1097.4M485.0,1094.0V1097.9M485.7,1093.7V1097.8M486.6,1093.9V1097.7M488.6,1094.3V1097.5M489.6,1093.4V1097.0M491.6,1094.0V1098.1M492.4,1093.4V1097.6M493.8,1094.1V1097.3M495.9,1093.9V1097.6M497.3,1093.4V1097.2M498.5,1093.0V1096.9M500.1,1093.4V1097.0M501.6,1092.7V1096.9M502.2,1093.4V1097.4M504.4,1093.9V1096.8M506.3,1093.2V1097.6M508.1,1093.7V1097.9M508.7,1093.7V1097.0M510.1,1093.5V1097.6M510.8,1093.6V1096.7M511.6,1093.6V1097.2M513.5,1093.1V1096.5M515.0,1092.6V1096.7M516.6,1092.8V1096.6M518.3,1093.1V1097.3M520.1,1092.6V1096.7M521.2,1092.7V1097.2M521.8,1092.4V1097.1M522.5,1092.4V1096.3M524.1,1093.3V1096.5M526.1,1092.9V1096.6M528.1,1092.7V1096.9M529.4,1092.6V1097.2M530.6,1093.3V1096.4M532.2,1093.1V1096.0M534.1,1092.9V1096.4M535.6,1093.1V1095.9M536.9,1093.0V1096.2M538.5,1092.5V1096.1M540.1,1091.7V1096.8M541.8,1091.7V1096.6M543.1,1092.8V1095.8M544.1,1091.8V1096.7M545.0,1092.4V1095.6M546.9,1092.2V1095.9M548.8,1092.0V1095.7M550.9,1092.4V1095.4M552.9,1092.1V1095.8M554.0,1092.0V1095.7M555.8,1091.5V1096.4M557.2,1091.4V1096.0M558.7,1091.1V1096.3M560.4,1092.3V1095.1M561.4,1091.8V1095.5M562.9,1091.6V1095.8M565.1,1091.9V1095.5M566.7,1091.4V1096.1M568.2,1091.9V1094.8M569.3,1091.8V1095.4M571.4,1091.3V1095.3M573.2,1092.0V1095.3" stroke="#00ff00" stroke-width="1" fill="none"/><path d="M585.2,1093.1 588.2,1093.0 591.2,1092.9 594.2,1092.8 597.2,1092.7 600.2,1092.6 603.2,1092.4 606.2,1092.3 609.2,1092.2 612.2,1092.0 615.2,1091.9 618.2,1091.7 621.2,1091.6 624.2,1091.4 627.2,1091.2 630.2,1091.0 633.2,1090.8 636.2,1090.6 639.2,1090.4 642.2,1090.1 645.2,1089.9 648.2,1089.6 651.2,1089.3 654.2,1089.0" stroke="#00ff00" stroke-width="2.6" fill="none"/><path d="M585.2,1090.9V1095.3M586.0,1090.6V1094.6M588.1,1091.2V1095.0M589.6,1091.2V1094.7M591.3,1090.8V1095.1M592.7,1090.5V1094.6M594.1,1090.7V1094.5M596.2,1090.7V1095.3M597.7,1090.6V1094.6M599.2,1091.2V1094.7M601.0,1091.0V1095.2M602.9,1090.1V1095.0M603.9,1090.6V1095.1M605.1,1090.8V1094.8M605.9,1089.8V1094.9M608.0,1089.6V1094.6M608.7,1090.7V1093.5M610.9,1089.9V1093.5M612.8,1090.7V1093.8M614.6,1089.5V1093.3M615.5,1090.2V1094.0M617.3,1090.1V1093.4M618.4,1089.3V1093.9M619.5,1090.0V1093.7M620.9,1089.9V1093.3M621.9,1089.8V1092.9M623.8,1089.0V1093.8M625.6,1088.8V1093.3M627.1,1089.5V1093.1M628.4,1088.7V1093.2M629.2,1089.4V1093.1M630.3,1088.6V1093.6M632.3,1088.4V1092.2M632.9,1088.1V1092.7M633.9,1088.9V1093.1M635.0,1089.1V1093.3M636.7,1088.9V1092.7M638.4,1088.4V1092.2M640.2,1087.8V1092.4M642.3,1087.4V1091.6M643.7,1087.9V1092.5M644.8,1087.3V1091.8M645.7,1088.3V1091.7M646.7,1088.1V1092.2M648.4,1087.0V1091.6M650.2,1087.4V1091.6M652.0,1087.5V1090.6M653.4,1086.8V1090.6M654.1,1086.8V1091.6" stroke="#00ff00" stroke-width="1" fill="none"/><path d="M658.6,1088.6 661.6,1088.3 664.6,1088.0 667.6,1087.7 670.6,1087.4 673.6,1087.1 676.6,1086.8 679.6,1086.5 682.6,1086.2 685.6,1085.9 688.6,1085.7 691.6,1085.4 694.6,1085.2 697.6,1084.9 700.6,1084.6 703.6,1084.4 706.6,1084.2 709.6,1083.9 712.6,1083.7 715.6,1083.5 718.6,1083.2 721.6,1083.0 724.6,1082.8 727.6,1082.6 730.6,1082.4 733.6,1082.1 736.6,1081.9 739.6,1081.7 742.6,1081.5 745.6,1081.3 748.6,1081.1 751.6,1080.9 754.6,1080.7 757.6,1080.5 760.6,1080.3 763.6,1080.1 766.6,1079.9 769.6,1079.7 772.6,1079.5 775.6,1079.4 778.6,1079.2 781.6,1079.0 784.6,1078.8 787.6,1078.6 790.6,1078.4 793.6,1078.2 796.6,1078.0 799.6,1077.8 802.6,1077.6 805.6,1077.5 808.6,1077.3 811.6,1077.1 814.6,1076.9 817.6,1076.8 820.6,1076.6 823.6,1076.4 826.6,1076.3 829.6,1076.1 832.6,1076.0 835.6,1075.9 838.6,1075.8 841.6,1075.6 844.6,1075.5 847.6,1075.4 850.6,1075.4 853.6,1075.3 856.6,1075.2 859.6,1075.2 862.6,1075.1 865.6,1075.1 868.6,1075.1 871.6,1075.1 874.6,1075.1 877.6,1075.2 880.6,1075.2 883.6,1075.3 886.6,1075.4 889.6,1075.4 892.6,1075.5 895.6,1075.6 898.6,1075.6 901.6,1075.7 904.6,1075.7 907.6,1075.7 910.6,1075.7 913.6,1075.6 916.6,1075.6 919.6,1075.5 922.6,1075.4 925.6,1075.4 928.6,1075.3 931.6,1075.3 934.6,1075.2 937.6,1075.2 940.6,1075.3 943.6,1075.3 946.6,1075.3 949.6,1075.4 952.6,1075.5 955.6,1075.6 958.6,1075.7 961.6,1075.8 964.6,1076.0 967.6,1076.1 970.6,1076.3 973.6,1076.4 976.6,1076.6 979.6,1076.8 982.6,1077.0 985.6,1077.1 988.6,1077.3 991.6,1077.5 994.6,1077.7 997.6,1077.9 1000.6,1078.1 1003.6,1078.2 1006.6,1078.4 1009.6,1078.6 1012.6,1078.7 1015.6,1078.9 1018.6,1079.1 1021.6,1079.2 1024.6,1079.4 1027.6,1079.5 1030.6,1079.7 1033.6,1079.8 1036.6,1080.0 1039.6,1080.1 1042.6,1080.2 1045.6,1080.4 1048.6,1080.5 1051.6,1080.6 1054.6,1080.8 1057.6,1080.9 1060.6,1081.0 1063.6,1081.2 1066.6,1081.3 1069.6,1081.4 1072.6,1081.6 1075.6,1081.7 1078.6,1081.9 1081.6,1082.0 1084.6,1082.1 1087.6,1082.3 1090.6,1082.4 1093.6,1082.6 1096.6,1082.7 1099.6,1082.9 1102.6,1083.0 1105.6,1083.1 1108.6,1083.3 1111.6,1083.4 1114.6,1083.6 1117.6,1083.7 1120.6,1083.9 1123.6,1084.0 1126.6,1084.2 1129.6,1084.4 1132.6,1084.5 1135.6,1084.7 1138.6,1084.8 1141.6,1085.0 1144.6,1085.1 1147.6,1085.3 1150.6,1085.4 1153.6,1085.6" stroke="#00ff00" stroke-width="2.6" fill="none"/><path d="M658.6,1086.1V1090.0M659.8,1086.8V1090.4M660.9,1086.9V1089.8M663.1,1086.3V1090.0M664.6,1086.5V1090.2M666.7,1085.7V1089.2M668.0,1086.0V1090.3M670.1,1085.0V1089.9M671.9,1084.6V1089.5M672.8,1084.7V1089.0M673.9,1084.5V1088.8M674.8,1085.3V1088.9M676.4,1084.2V1088.1M677.1,1084.2V1088.3M679.2,1084.7V1088.8M681.0,1083.8V1088.6M682.5,1084.0V1088.2M683.6,1083.9V1088.3M685.4,1084.0V1088.6M687.5,1083.8V1087.7M689.4,1083.5V1087.4M691.1,1083.5V1087.8M692.0,1083.8V1088.0M694.2,1083.5V1086.8M695.2,1082.7V1087.4M697.1,1083.0V1086.3M699.1,1082.2V1087.2M701.0,1082.9V1087.2M702.3,1082.2V1086.8M703.9,1082.7V1086.7M705.4,1082.2V1086.6M706.9,1082.4V1086.7M708.5,1082.5V1086.7M709.5,1082.5V1085.8M711.3,1082.1V1086.1M712.8,1081.4V1085.0M714.8,1082.0V1085.9M716.0,1081.2V1085.0M717.9,1081.4V1084.8M719.7,1081.6V1084.5M720.9,1080.6V1085.6M722.2,1080.5V1085.6M723.4,1080.6V1085.1M725.3,1080.1V1084.5M726.5,1080.4V1084.4M727.3,1081.0V1084.6M728.2,1080.4V1084.9M728.9,1080.5V1084.4M729.7,1080.8V1083.8M731.3,1079.7V1083.7M732.4,1080.4V1084.2M733.7,1080.2V1084.1M734.6,1080.7V1084.0M736.6,1080.0V1084.1M738.5,1079.5V1083.5M740.7,1080.1V1083.3M742.3,1079.2V1083.4M743.1,1079.9V1083.3M744.3,1079.7V1083.4M745.7,1079.4V1083.7M747.4,1078.9V1082.7M748.3,1079.5V1083.8M749.5,1078.9V1083.0M751.5,1078.7V1083.5M752.2,1079.0V1083.0M753.6,1078.7V1083.1M755.2,1078.5V1082.7M756.4,1078.6V1082.1M758.2,1078.7V1082.6M759.7,1079.0V1082.7M761.6,1077.8V1081.9M762.3,1078.7V1081.7M763.9,1078.3V1082.8M766.0,1078.5V1082.6M766.7,1078.0V1082.4M767.3,1078.1V1081.9M768.1,1077.5V1081.3M770.0,1077.7V1081.6M772.0,1078.1V1081.0M773.1,1077.7V1081.4M774.4,1077.2V1081.7M775.8,1076.9V1081.7M777.3,1077.3V1081.6M779.1,1076.7V1080.6M780.1,1077.2V1081.2M780.8,1077.3V1081.5M781.5,1077.3V1080.4M783.3,1076.5V1080.6M784.4,1076.4V1080.9M785.8,1076.3V1080.7M786.6,1076.0V1080.6M788.7,1076.3V1081.1M790.4,1075.8V1080.7M791.3,1075.7V1080.4M792.7,1076.6V1079.6M794.2,1076.7V1080.4M794.8,1076.8V1080.6M796.3,1076.1V1080.4M798.2,1076.2V1080.5M799.2,1076.1V1079.7M800.6,1075.6V1079.5M802.0,1076.0V1079.6M803.1,1076.1V1079.7M804.6,1075.8V1079.7M805.4,1075.5V1079.1M806.8,1075.4V1079.6M807.9,1075.6V1079.4M809.4,1075.3V1079.0M810.1,1075.3V1079.5M811.9,1075.4V1079.4M813.3,1074.7V1078.4M814.2,1075.1V1079.1M815.6,1074.9V1078.8M817.0,1074.7V1078.2M818.5,1074.9V1079.0M819.6,1074.7V1078.4M821.5,1075.2V1078.7M822.1,1074.1V1078.6M823.6,1074.6V1078.4M825.7,1073.6V1079.0M826.9,1074.0V1078.4M828.8,1074.7V1078.8M830.3,1073.4V1078.3M832.4,1073.9V1078.0M834.5,1073.6V1078.0M835.9,1073.3V1077.9M836.9,1073.5V1078.4M837.7,1073.8V1077.5M839.6,1073.1V1078.0M841.6,1073.7V1077.9M843.5,1072.9V1076.9M844.3,1072.9V1077.4M845.2,1073.5V1077.9M847.4,1074.1V1078.0M848.7,1073.0V1077.0M850.5,1073.6V1077.0M852.0,1073.4V1078.0M853.7,1073.1V1076.9M855.3,1073.1V1076.9M857.3,1073.0V1077.9M858.2,1073.6V1077.5M859.1,1073.9V1076.9M860.8,1072.9V1077.8M862.0,1072.6V1077.5M863.0,1073.5V1077.7M864.2,1072.8V1076.4M866.3,1073.4V1077.8M868.2,1073.5V1076.7M869.1,1073.3V1077.3M870.4,1072.6V1077.0M872.4,1073.4V1076.9M874.2,1073.1V1077.2M875.8,1073.1V1077.8M877.6,1073.1V1076.7M878.5,1072.6V1077.2M880.2,1073.2V1077.6M882.2,1073.3V1077.5M884.1,1073.2V1077.9M885.9,1073.7V1077.8M888.0,1072.8V1078.0M889.3,1073.7V1078.0M890.5,1072.9V1077.0M891.2,1073.5V1077.6M892.4,1074.0V1078.0M893.7,1072.8V1077.3M895.1,1072.9V1077.3M896.3,1073.8V1078.0M897.0,1073.0V1077.6M898.4,1073.1V1077.8M899.3,1073.1V1078.3M901.5,1073.9V1077.4M902.4,1074.2V1077.1M903.4,1073.8V1077.7M905.0,1074.2V1077.7M905.8,1073.9V1077.7M906.6,1073.0V1077.9M908.7,1073.1V1078.4M910.6,1073.9V1077.5M912.6,1073.6V1077.3M914.6,1073.8V1077.2M916.3,1073.1V1077.8M917.6,1073.6V1077.3M918.7,1072.9V1077.6M919.5,1073.0V1077.8M920.9,1073.2V1077.5M921.9,1073.7V1076.9M924.1,1073.6V1077.4M924.7,1073.9V1077.1M926.0,1073.2V1076.7M927.1,1072.7V1077.7M928.5,1073.9V1076.7M930.4,1073.1V1077.2M932.4,1073.5V1077.5M933.6,1073.3V1077.0M935.4,1073.8V1076.6M937.3,1073.9V1077.5M939.3,1073.0V1077.5M940.1,1073.2V1076.7M942.1,1073.8V1077.6M942.8,1072.7V1076.6M944.7,1072.8V1077.1M946.4,1073.6V1077.3M947.2,1073.8V1077.6M949.1,1072.8V1078.0M949.8,1073.7V1077.8M950.7,1072.7V1077.9M951.3,1073.4V1078.1M952.6,1073.2V1078.0M954.6,1073.4V1077.4M956.0,1073.1V1077.0M956.9,1073.2V1077.3M958.9,1073.8V1077.8M960.5,1074.4V1077.3M962.6,1073.6V1077.8M964.3,1073.9V1078.6M966.4,1074.4V1078.0M968.0,1073.5V1078.3M968.7,1074.4V1078.1M970.2,1074.9V1077.6M971.6,1074.6V1078.0M973.0,1074.5V1078.5M974.7,1075.0V1078.0M976.0,1075.0V1078.5M977.8,1074.4V1078.5M979.6,1075.4V1078.3M981.6,1075.0V1078.5M982.5,1074.9V1079.3M983.4,1075.5V1078.5M985.1,1075.7V1078.6M986.0,1075.6V1079.3M987.2,1074.9V1078.6M988.6,1075.2V1078.9M990.7,1075.9V1079.0M991.3,1075.8V1079.5M993.3,1075.9V1080.2M995.0,1075.0V1079.3M997.1,1076.0V1079.4M999.3,1075.6V1080.5M1001.0,1075.7V1080.0M1002.5,1076.6V1079.9M1003.2,1076.3V1080.7M1004.0,1076.4V1080.0M1005.0,1076.6V1081.0M1006.1,1076.2V1080.7M1007.1,1077.0V1079.8M1009.2,1075.9V1080.7M1010.2,1076.5V1080.2M1011.9,1076.1V1081.3M1013.2,1077.1V1080.7M1014.7,1076.9V1080.2M1016.6,1076.4V1081.4M1018.5,1076.9V1081.1M1019.6,1077.8V1080.6M1021.2,1077.5V1080.7M1022.3,1077.6V1081.8M1024.4,1077.7V1082.1M1025.9,1076.9V1080.9M1027.7,1077.2V1081.2M1029.7,1077.3V1082.3M1031.5,1077.0V1082.2M1033.3,1078.3V1081.6M1034.7,1077.5V1082.0M1036.6,1078.3V1081.7M1038.3,1077.7V1081.8M1039.7,1078.7V1081.4M1041.1,1078.1V1082.0M1042.1,1078.7V1082.0M1043.6,1077.9V1082.2M1044.6,1078.4V1082.9M1045.3,1078.6V1082.2M1046.3,1079.0V1082.4M1047.9,1078.9V1082.3M1049.9,1078.4V1082.8M1050.8,1079.2V1082.2M1052.0,1079.3V1082.6M1054.0,1078.1V1082.4M1055.6,1078.3V1082.2M1057.2,1078.3V1082.3M1058.1,1078.7V1082.4M1059.0,1079.2V1083.2M1060.7,1078.8V1082.7M1061.6,1079.3V1083.7M1062.2,1078.7V1082.9M1062.8,1079.4V1083.5M1064.6,1079.3V1082.6M1066.0,1079.7V1084.0M1067.8,1079.8V1083.7M1069.0,1078.9V1083.6M1071.1,1080.2V1084.0M1072.6,1079.0V1083.1M1073.8,1079.1V1083.9M1075.9,1079.4V1084.3M1077.3,1080.4V1084.1M1079.4,1079.7V1084.0M1080.8,1080.7V1084.4M1082.6,1079.5V1084.7M1083.5,1080.2V1083.6M1085.2,1080.1V1084.5M1086.7,1080.4V1084.4M1088.2,1080.9V1084.3M1089.5,1079.7V1084.2M1091.6,1080.8V1084.1M1092.9,1080.7V1084.2M1094.9,1081.0V1084.9M1095.8,1080.8V1084.3M1096.8,1080.4V1084.8M1097.6,1080.5V1084.9M1099.1,1081.3V1084.7M1100.4,1080.8V1084.6M1102.5,1081.4V1085.1M1103.7,1081.7V1085.1M1105.7,1081.1V1084.9M1107.6,1081.9V1084.7M1108.7,1081.3V1084.9M1110.0,1080.7V1085.1M1111.7,1081.5V1085.3M1113.3,1081.9V1085.2M1114.3,1081.9V1085.2M1116.4,1081.4V1085.6M1118.1,1082.4V1085.1M1120.0,1081.6V1086.2M1121.2,1081.3V1085.6M1122.9,1081.5V1086.1M1124.0,1082.6V1085.5M1125.0,1082.1V1086.4M1125.7,1082.5V1085.9M1127.6,1082.3V1086.7M1128.6,1081.7V1086.9M1130.4,1083.1V1086.5M1132.3,1082.7V1086.2M1134.3,1081.9V1086.2M1135.7,1083.3V1086.8M1136.4,1083.0V1086.4M1137.9,1083.3V1087.4M1139.9,1082.3V1086.7M1141.2,1082.5V1087.0M1142.5,1082.4V1086.8M1144.0,1083.0V1087.4M1144.6,1082.5V1087.3M1145.3,1082.6V1087.3M1146.7,1083.2V1087.2M1147.9,1082.8V1087.1M1148.5,1082.6V1087.8M1149.5,1083.8V1087.0M1151.4,1083.3V1087.4M1153.2,1083.5V1087.4M1153.9,1083.5V1088.1" stroke="#00ff00" stroke-width="1" fill="none"/>
<path d="M165.5,1115.0 168.5,1114.5 171.5,1114.0 174.5,1113.5 177.5,1113.0 180.5,1112.6 183.5,1112.3 186.5,1112.0 189.5,1111.7 192.5,1111.5 195.5,1111.3 198.5,1111.1 201.5,1111.0 204.5,1110.9 207.5,1110.8 210.5,1110.8 213.5,1110.7 216.5,1110.6 219.5,1110.6 222.5,1110.5 225.5,1110.5 228.5,1110.5 231.5,1110.4 234.5,1110.4 237.5,1110.4 240.5,1110.3 243.5,1110.3 246.5,1110.3 249.5,1110.3 252.5,1110.3 255.5,1110.3 258.5,1110.3 261.5,1110.3 264.5,1110.3 267.5,1110.3 270.5,1110.3 273.5,1110.3 276.5,1110.3 279.5,1110.3 282.5,1110.4 285.5,1110.4 288.5,1110.4 291.5,1110.4 294.5,1110.4 297.5,1110.5 300.5,1110.5 303.5,1110.5 306.5,1110.6 309.5,1110.6 312.5,1110.6 315.5,1110.7 318.5,1110.7 321.5,1110.8 324.5,1110.8 327.5,1110.8 330.5,1110.9 333.5,1110.9 336.5,1110.9 339.5,1111.0 342.5,1111.0 345.5,1111.1 348.5,1111.1 351.5,1111.1 354.5,1111.2 357.5,1111.2 360.5,1111.3 363.5,1111.3 366.5,1111.3 369.5,1111.4 372.5,1111.4 375.5,1111.4 378.5,1111.5 381.5,1111.5 384.5,1111.5 387.5,1111.5 390.5,1111.6 393.5,1111.6 396.5,1111.6 399.5,1111.6 402.5,1111.6 405.5,1111.7 408.5,1111.7 411.5,1111.7 414.5,1111.7 417.5,1111.7 420.5,1111.7 423.5,1111.7 426.5,1111.7 429.5,1111.7 432.5,1111.6 435.5,1111.6 438.5,1111.6 441.5,1111.6 444.5,1111.6 447.5,1111.6 450.5,1111.6 453.5,1111.5 456.5,1111.5 459.5,1111.5 462.5,1111.5 465.5,1111.5 468.5,1111.4 471.5,1111.4 474.5,1111.4 477.5,1111.4 480.5,1111.4 483.5,1111.4 486.5,1111.4 489.5,1111.4 492.5,1111.4 495.5,1111.4 498.5,1111.4 501.5,1111.4 504.5,1111.4 507.5,1111.4 510.5,1111.4 513.5,1111.4 516.5,1111.4 519.5,1111.5 522.5,1111.5 525.5,1111.5 528.5,1111.5 531.5,1111.5 534.5,1111.5 537.5,1111.4 540.5,1111.4 543.5,1111.4 546.5,1111.4 549.5,1111.3 552.5,1111.2 555.5,1111.2 558.5,1111.1 561.5,1111.0 564.5,1110.9 567.5,1110.7 570.5,1110.6 573.5,1110.4" stroke="#0000ff" stroke-width="1.6" fill="none"/><path d="M165.5,1113.6V1116.0M167.1,1113.0V1116.4M168.2,1112.7V1116.4M168.9,1112.9V1115.7M169.8,1113.1V1115.9M170.7,1112.9V1115.8M171.9,1112.1V1115.4M174.4,1112.7V1114.4M176.8,1112.1V1114.6M180.0,1111.2V1114.0M180.8,1111.6V1113.7M184.2,1110.5V1113.2M185.0,1110.2V1114.1M187.1,1110.8V1113.4M190.3,1110.5V1113.4M192.3,1110.0V1113.4M193.0,1110.3V1112.4M194.1,1109.5V1112.2M197.4,1110.0V1112.7M199.5,1110.2V1112.2M200.6,1109.9V1111.9M202.9,1109.9V1112.6M205.1,1109.1V1112.9M206.6,1109.3V1112.6M208.1,1109.3V1112.5M211.2,1109.0V1112.1M213.2,1109.5V1112.3M216.7,1109.8V1112.3M219.4,1109.3V1111.4M220.8,1108.7V1112.3M223.3,1108.6V1112.4M224.0,1109.2V1112.2M226.9,1109.1V1111.4M229.3,1108.8V1111.7M230.0,1109.4V1111.4M232.0,1108.6V1111.4M233.6,1109.3V1111.4M234.7,1108.9V1112.1M238.0,1108.5V1112.3M240.1,1108.6V1111.5M242.6,1108.5V1111.5M243.8,1109.2V1111.9M246.3,1109.0V1111.4M248.4,1109.3V1112.1M251.4,1109.4V1111.5M254.6,1109.2V1112.1M257.8,1108.6V1111.9M259.6,1109.2V1111.6M260.4,1109.3V1111.8M261.7,1109.2V1112.2M264.3,1108.9V1111.7M265.0,1108.4V1111.6M266.4,1109.3V1112.0M268.6,1108.9V1111.6M272.0,1108.3V1111.6M272.8,1108.3V1111.4M275.8,1109.5V1112.1M277.8,1108.5V1111.4M280.1,1108.4V1111.5M280.9,1108.5V1112.0M281.5,1109.1V1111.3M283.3,1108.6V1111.8M285.1,1109.0V1112.1M285.9,1109.0V1112.0M288.5,1109.0V1112.3M290.0,1109.5V1112.3M293.2,1108.9V1112.4M295.3,1109.1V1111.7M297.1,1109.2V1111.8M298.5,1109.2V1111.4M299.3,1108.9V1111.9M302.4,1109.1V1111.5M304.7,1108.9V1112.3M307.4,1108.6V1111.7M309.6,1109.5V1111.6M312.5,1109.7V1111.6M314.2,1109.6V1111.6M315.3,1109.0V1112.1M318.7,1109.6V1111.9M320.6,1109.4V1112.5M323.6,1109.3V1112.0M325.9,1109.8V1112.7M326.8,1109.3V1112.6M327.9,1109.6V1112.3M330.9,1108.9V1112.8M334.2,1109.2V1112.5M335.1,1109.0V1112.3M337.7,1109.7V1112.8M340.2,1109.3V1112.8M341.8,1109.7V1112.3M343.4,1110.2V1112.3M346.8,1109.6V1112.5M350.0,1109.7V1112.8M352.6,1109.4V1112.0M355.6,1110.0V1112.7M356.4,1109.6V1112.3M357.9,1109.4V1112.8M361.4,1109.5V1113.0M363.2,1110.1V1112.6M366.7,1109.5V1112.9M368.4,1109.6V1112.9M369.4,1109.4V1112.5M371.9,1110.0V1112.3M373.0,1109.7V1113.4M374.8,1110.1V1112.4M377.0,1109.8V1113.4M378.2,1109.6V1112.8M381.6,1110.3V1113.5M382.8,1109.6V1113.3M384.7,1110.1V1112.9M386.5,1109.8V1112.6M387.7,1110.2V1113.2M389.5,1109.8V1113.6M390.4,1110.2V1112.8M391.5,1110.1V1113.4M392.3,1110.4V1113.1M393.3,1110.3V1113.2M395.7,1109.8V1112.8M397.4,1109.9V1112.4M399.1,1110.3V1113.3M401.6,1109.9V1112.7M403.9,1110.5V1112.7M407.4,1110.6V1113.3M408.0,1110.0V1113.3M410.7,1110.0V1112.8M413.3,1110.1V1113.4M415.7,1110.1V1113.0M419.1,1109.7V1112.6M422.0,1110.1V1113.3M423.5,1110.4V1113.0M424.9,1110.8V1113.1M428.1,1110.0V1112.5M429.5,1109.7V1113.1M432.7,1110.1V1113.4M435.5,1109.8V1113.0M436.1,1109.9V1112.7M437.5,1109.8V1112.7M440.3,1110.4V1113.4M441.5,1110.6V1113.2M443.1,1110.0V1113.1M446.6,1109.7V1112.7M449.5,1110.4V1113.4M451.0,1109.9V1113.4M454.4,1110.0V1113.0M457.2,1110.5V1113.4M460.2,1109.9V1113.2M463.2,1110.2V1112.3M465.3,1110.2V1113.4M467.1,1109.8V1112.8M468.9,1109.6V1112.7M470.9,1110.4V1113.0M472.6,1110.2V1113.3M474.1,1109.4V1113.3M477.0,1110.1V1113.1M479.2,1109.7V1113.2M481.0,1109.6V1113.3M482.5,1110.4V1112.6M483.9,1110.5V1113.2M486.8,1110.3V1113.0M488.0,1110.2V1113.2M490.0,1110.0V1113.1M492.1,1109.9V1112.8M494.5,1109.9V1112.3M496.5,1110.5V1112.8M499.5,1109.8V1113.2M501.6,1110.4V1112.4M503.4,1110.0V1113.2M505.4,1109.8V1112.9M508.4,1109.9V1113.3M509.1,1109.5V1112.7M509.9,1110.5V1112.3M512.0,1109.8V1112.5M513.5,1109.5V1112.9M516.4,1109.7V1113.4M517.5,1110.0V1113.4M518.5,1110.1V1112.9M521.6,1109.9V1112.8M524.6,1110.1V1112.9M525.5,1109.7V1113.0M526.5,1110.5V1113.4M527.4,1110.3V1113.5M529.4,1110.3V1112.5M531.7,1110.6V1113.2M533.0,1109.6V1112.3M534.0,1110.2V1113.2M537.0,1110.0V1112.4M539.6,1109.5V1112.5M541.7,1109.5V1113.0M542.5,1110.2V1112.4M543.3,1109.6V1113.4M544.6,1109.9V1112.7M546.5,1110.0V1113.3M549.2,1109.7V1112.6M552.4,1109.6V1112.8M554.7,1110.1V1112.0M557.5,1109.9V1113.0M559.3,1110.0V1112.2M561.5,1109.6V1112.2M564.8,1109.8V1112.7M567.2,1109.7V1112.1M570.1,1109.3V1111.8M573.5,1108.5V1111.3" stroke="#0000ff" stroke-width="1" fill="none"/><path d="M585.2,1109.6 588.2,1109.4 591.2,1109.2 594.2,1108.9 597.2,1108.7 600.2,1108.4 603.2,1108.2 606.2,1107.9 609.2,1107.6 612.2,1107.4 615.2,1107.1 618.2,1106.8 621.2,1106.5 624.2,1106.2 627.2,1106.0 630.2,1105.7 633.2,1105.4 636.2,1105.1 639.2,1104.8 642.2,1104.5 645.2,1104.2 648.2,1103.9 651.2,1103.6 654.2,1103.3" stroke="#0000ff" stroke-width="1.6" fill="none"/><path d="M585.2,1108.5V1111.4M586.2,1108.5V1111.3M589.4,1107.5V1110.9M591.7,1108.3V1110.2M595.2,1107.4V1109.8M596.0,1106.9V1110.4M598.6,1107.7V1110.2M600.2,1106.8V1109.4M601.9,1106.9V1110.2M604.7,1106.1V1109.8M605.8,1106.4V1109.4M607.1,1106.8V1109.8M609.5,1106.5V1108.8M610.5,1106.2V1109.0M611.5,1105.9V1109.4M614.6,1106.0V1109.0M615.3,1106.3V1108.3M617.2,1106.0V1108.6M619.5,1105.3V1108.7M621.5,1105.4V1107.8M623.6,1104.7V1107.6M626.4,1105.2V1108.0M627.5,1104.4V1107.0M628.3,1104.0V1107.7M631.5,1104.3V1107.0M634.0,1103.7V1107.1M636.3,1104.1V1106.9M639.6,1103.3V1106.6M641.8,1103.7V1106.3M642.6,1103.5V1106.3M646.0,1103.3V1106.1M648.3,1102.0V1105.9M649.1,1102.0V1104.7M651.8,1101.6V1104.7" stroke="#0000ff" stroke-width="1" fill="none"/><path d="M658.6,1102.9 661.6,1102.6 664.6,1102.3 667.6,1102.0 670.6,1101.8 673.6,1101.5 676.6,1101.2 679.6,1100.9 682.6,1100.7 685.6,1100.4 688.6,1100.1 691.6,1099.8 694.6,1099.6 697.6,1099.3 700.6,1099.0 703.6,1098.8 706.6,1098.5 709.6,1098.3 712.6,1098.0 715.6,1097.8 718.6,1097.5 721.6,1097.3 724.6,1097.0 727.6,1096.8 730.6,1096.5 733.6,1096.3 736.6,1096.0 739.6,1095.8 742.6,1095.6 745.6,1095.3 748.6,1095.1 751.6,1094.9 754.6,1094.7 757.6,1094.4 760.6,1094.2 763.6,1094.0 766.6,1093.8 769.6,1093.6 772.6,1093.4 775.6,1093.2 778.6,1093.0 781.6,1092.8 784.6,1092.6 787.6,1092.4 790.6,1092.2 793.6,1092.0 796.6,1091.8 799.6,1091.7 802.6,1091.5 805.6,1091.3 808.6,1091.2 811.6,1091.0 814.6,1090.9 817.6,1090.7 820.6,1090.6 823.6,1090.5 826.6,1090.4 829.6,1090.3 832.6,1090.2 835.6,1090.1 838.6,1090.0 841.6,1090.0 844.6,1089.9 847.6,1089.9 850.6,1089.8 853.6,1089.8 856.6,1089.8 859.6,1089.7 862.6,1089.7 865.6,1089.7 868.6,1089.7 871.6,1089.7 874.6,1089.7 877.6,1089.7 880.6,1089.8 883.6,1089.8 886.6,1089.8 889.6,1089.8 892.6,1089.9 895.6,1089.9 898.6,1090.0 901.6,1090.0 904.6,1090.1 907.6,1090.1 910.6,1090.2 913.6,1090.3 916.6,1090.3 919.6,1090.4 922.6,1090.5 925.6,1090.5 928.6,1090.6 931.6,1090.7 934.6,1090.8 937.6,1090.9 940.6,1090.9 943.6,1091.0 946.6,1091.1 949.6,1091.2 952.6,1091.3 955.6,1091.4 958.6,1091.5 961.6,1091.6 964.6,1091.7 967.6,1091.9 970.6,1092.0 973.6,1092.1 976.6,1092.2 979.6,1092.3 982.6,1092.5 985.6,1092.6 988.6,1092.7 991.6,1092.9 994.6,1093.0 997.6,1093.1 1000.6,1093.3 1003.6,1093.4 1006.6,1093.6 1009.6,1093.7 1012.6,1093.9 1015.6,1094.0 1018.6,1094.2 1021.6,1094.3 1024.6,1094.5 1027.6,1094.7 1030.6,1094.8 1033.6,1095.0 1036.6,1095.2 1039.6,1095.3 1042.6,1095.5 1045.6,1095.7 1048.6,1095.8 1051.6,1096.0 1054.6,1096.2 1057.6,1096.4 1060.6,1096.5 1063.6,1096.7 1066.6,1096.9 1069.6,1097.0 1072.6,1097.2 1075.6,1097.3 1078.6,1097.5 1081.6,1097.6 1084.6,1097.7 1087.6,1097.8 1090.6,1097.9 1093.6,1098.0 1096.6,1098.1 1099.6,1098.2 1102.6,1098.3 1105.6,1098.4 1108.6,1098.5 1111.6,1098.6 1114.6,1098.6 1117.6,1098.7 1120.6,1098.8 1123.6,1098.8 1126.6,1098.9 1129.6,1098.9 1132.6,1099.0 1135.6,1099.0 1138.6,1099.1 1141.6,1099.1 1144.6,1099.2 1147.6,1099.2 1150.6,1099.3 1153.6,1099.3" stroke="#0000ff" stroke-width="1.6" fill="none"/><path d="M658.6,1101.8V1104.7M659.8,1101.3V1104.0M663.1,1100.6V1103.8M664.2,1101.1V1103.3M666.9,1100.6V1103.6M669.5,1100.6V1103.3M672.7,1100.0V1103.6M673.4,1100.5V1102.4M676.9,1099.9V1102.2M677.6,1099.6V1102.5M678.9,1099.5V1101.8M681.9,1099.9V1101.9M684.8,1099.5V1102.0M687.4,1098.4V1101.7M690.8,1099.0V1100.9M692.2,1098.1V1101.6M695.2,1098.5V1100.9M696.0,1097.6V1100.4M697.5,1098.5V1101.2M700.6,1098.1V1100.1M703.9,1097.8V1100.6M704.9,1097.3V1099.6M706.7,1097.7V1099.8M709.5,1097.1V1099.4M712.3,1096.8V1098.9M713.9,1096.9V1098.7M715.8,1096.3V1098.8M719.0,1095.9V1099.1M722.1,1096.3V1098.4M724.7,1095.9V1098.7M725.6,1095.5V1098.6M727.4,1095.1V1098.5M728.3,1094.7V1098.4M729.5,1094.9V1098.6M731.2,1095.2V1097.5M733.8,1095.4V1097.5M736.3,1094.5V1097.3M736.9,1095.0V1097.5M739.2,1094.8V1096.7M742.3,1094.8V1097.0M743.3,1094.5V1097.2M745.5,1094.5V1097.3M749.0,1093.7V1096.9M750.7,1094.0V1096.1M753.2,1093.1V1096.8M753.8,1093.7V1096.6M757.1,1092.5V1095.8M758.3,1093.4V1095.8M759.8,1092.4V1095.1M762.9,1092.2V1095.9M764.5,1092.4V1095.8M765.2,1092.1V1095.4M767.7,1092.6V1095.3M769.2,1091.7V1094.6M771.5,1091.7V1094.4M773.0,1091.8V1094.9M775.9,1091.9V1094.9M777.3,1092.1V1094.0M780.8,1091.1V1094.1M783.1,1091.7V1094.7M785.4,1090.6V1093.5M786.0,1091.3V1093.5M786.7,1091.2V1093.5M788.2,1090.7V1093.9M789.4,1090.8V1094.0M792.2,1090.6V1092.9M793.2,1090.6V1093.8M795.4,1090.1V1093.4M797.1,1090.0V1092.8M799.4,1090.1V1093.1M800.6,1090.1V1093.4M801.5,1089.6V1092.6M803.2,1090.2V1093.4M805.7,1089.8V1092.9M808.8,1089.6V1092.9M811.2,1089.2V1092.5M814.7,1089.8V1092.1M817.1,1089.4V1092.1M819.7,1089.8V1092.6M820.5,1088.7V1092.0M822.1,1089.7V1092.4M825.6,1088.8V1091.7M826.3,1089.1V1091.3M829.5,1089.1V1091.2M831.2,1088.3V1091.5M832.5,1089.0V1091.7M835.0,1089.0V1091.4M836.3,1089.0V1091.4M839.7,1088.6V1091.4M840.5,1088.7V1091.3M842.4,1088.5V1090.9M845.7,1088.5V1091.3M847.8,1088.5V1091.5M848.6,1088.2V1091.2M851.1,1088.2V1090.9M853.0,1088.6V1091.8M854.5,1088.0V1090.9M855.9,1088.7V1091.7M857.6,1088.9V1090.8M859.7,1088.2V1090.9M860.4,1087.9V1091.3M862.2,1087.9V1091.6M864.7,1088.9V1091.6M866.4,1088.2V1091.6M867.7,1088.0V1091.3M869.5,1088.4V1090.7M871.2,1088.7V1091.5M872.4,1088.5V1091.1M873.0,1087.8V1091.3M874.0,1088.8V1090.7M877.2,1088.4V1090.6M879.3,1088.3V1091.5M880.1,1087.9V1091.1M881.2,1088.7V1091.0M883.2,1088.0V1091.5M884.2,1088.7V1091.6M886.2,1088.3V1091.0M888.3,1087.9V1090.7M889.3,1088.8V1091.0M892.3,1088.0V1091.8M893.9,1088.0V1091.1M894.7,1088.9V1091.9M896.8,1088.7V1091.1M897.8,1088.7V1091.9M898.4,1088.9V1090.9M900.2,1088.1V1091.7M901.3,1088.1V1091.7M902.1,1088.5V1091.3M903.9,1088.6V1091.3M905.7,1088.7V1091.9M906.5,1088.6V1091.2M909.3,1089.1V1091.0M911.5,1088.9V1091.7M912.9,1089.0V1091.9M913.7,1088.4V1091.8M916.5,1088.9V1091.5M918.1,1089.1V1091.8M920.0,1088.7V1091.6M923.5,1089.3V1092.3M925.6,1088.6V1091.6M928.6,1089.1V1091.7M930.5,1089.1V1091.5M933.7,1089.4V1092.5M935.8,1089.2V1092.3M939.2,1089.3V1092.6M941.7,1090.0V1092.1M943.8,1089.7V1092.8M947.2,1089.4V1092.5M950.6,1090.4V1093.0M951.3,1090.4V1092.3M951.9,1089.9V1092.6M952.7,1090.2V1093.3M955.4,1090.3V1093.0M956.4,1090.3V1093.2M959.5,1090.1V1093.5M962.9,1089.8V1092.9M965.3,1090.8V1093.1M967.8,1090.9V1092.7M969.1,1090.3V1093.0M971.1,1090.5V1093.6M974.0,1090.2V1093.8M975.4,1091.2V1093.3M978.2,1090.7V1093.9M981.0,1090.6V1094.2M982.6,1090.7V1093.9M985.2,1091.5V1094.5M986.9,1091.6V1093.8M987.6,1090.7V1094.0M988.8,1091.0V1094.5M991.2,1092.0V1094.3M992.7,1091.6V1093.7M996.0,1091.5V1094.1M997.0,1091.9V1095.0M997.7,1091.5V1094.5M999.1,1091.9V1094.9M1001.9,1092.2V1095.1M1005.4,1092.6V1094.7M1006.8,1092.4V1095.1M1008.0,1092.6V1094.9M1009.9,1091.8V1094.6M1010.5,1092.0V1095.6M1012.0,1092.0V1095.4M1014.8,1092.6V1095.9M1017.7,1093.0V1095.1M1018.4,1093.3V1095.5M1021.6,1092.5V1095.8M1024.6,1093.6V1096.4M1027.9,1093.7V1096.2M1030.1,1093.1V1096.2M1032.0,1093.5V1096.2M1033.0,1093.4V1096.7M1035.3,1093.3V1096.5M1036.8,1093.7V1096.7M1039.9,1094.2V1096.4M1040.6,1094.2V1097.2M1041.3,1094.5V1097.3M1044.8,1094.1V1097.2M1046.5,1093.8V1097.2M1047.4,1093.8V1097.7M1048.3,1094.2V1096.9M1050.0,1095.1V1096.8M1053.0,1094.5V1097.8M1055.3,1094.9V1097.4M1057.3,1094.5V1098.1M1059.7,1095.2V1097.3M1060.6,1095.4V1098.0M1062.9,1094.9V1097.7M1066.4,1094.9V1097.8M1069.7,1095.4V1098.9M1070.5,1095.5V1098.1M1072.8,1095.8V1098.6M1074.7,1095.9V1098.4M1077.9,1096.3V1098.9M1080.4,1095.8V1099.4M1081.4,1095.7V1099.4M1082.3,1096.8V1098.5M1084.4,1095.8V1098.6M1086.2,1096.0V1098.9M1087.9,1096.3V1099.0M1090.1,1096.6V1099.9M1092.8,1097.0V1099.2M1093.7,1096.5V1099.7M1095.8,1097.1V1099.9M1099.2,1096.3V1099.2M1100.4,1096.9V1100.1M1101.2,1096.6V1099.3M1104.6,1096.9V1099.4M1106.2,1096.7V1099.6M1108.6,1097.6V1100.3M1110.5,1097.4V1099.7M1111.5,1097.8V1100.5M1114.9,1097.4V1099.5M1118.2,1097.5V1100.3M1119.0,1097.8V1100.6M1120.1,1097.7V1099.7M1123.1,1097.2V1100.3M1126.1,1097.5V1100.3M1128.3,1097.4V1100.7M1131.2,1097.4V1099.9M1133.5,1097.6V1100.3M1135.1,1098.2V1100.4M1136.1,1097.7V1101.0M1137.1,1097.1V1100.2M1138.8,1097.8V1100.3M1142.0,1098.3V1100.7M1144.7,1097.8V1101.1M1147.4,1097.3V1101.0M1148.9,1097.7V1100.7M1151.4,1097.8V1101.0M1152.6,1098.3V1101.0" stroke="#0000ff" stroke-width="1" fill="none"/>
<path d="M165.5,1199.9 168.5,1199.9 171.5,1199.9 174.5,1199.9 177.5,1199.9 180.5,1199.9 183.5,1199.9 186.5,1199.9 189.5,1199.9 192.5,1199.9 195.5,1199.8 198.5,1199.8 201.5,1199.8 204.5,1199.8 207.5,1199.8 210.5,1199.8 213.5,1199.8 216.5,1199.8 219.5,1199.8 222.5,1199.8 225.5,1199.8 228.5,1199.8 231.5,1199.8 234.5,1199.8 237.5,1199.8 240.5,1199.8 243.5,1199.8 246.5,1199.8 249.5,1199.8 252.5,1199.8 255.5,1199.7 258.5,1199.7 261.5,1199.7 264.5,1199.7 267.5,1199.7 270.5,1199.7 273.5,1199.7 276.5,1199.7 279.5,1199.7 282.5,1199.7 285.5,1199.7 288.5,1199.7 291.5,1199.7 294.5,1199.7 297.5,1199.7 300.5,1199.7 303.5,1199.7 306.5,1199.7 309.5,1199.7 312.5,1199.6 315.5,1199.6 318.5,1199.6 321.5,1199.6 324.5,1199.6 327.5,1199.6 330.5,1199.6 333.5,1199.6 336.5,1199.6 339.5,1199.6 342.5,1199.6 345.5,1199.6 348.5,1199.6 351.5,1199.6 354.5,1199.6 357.5,1199.6 360.5,1199.6 363.5,1199.6 366.5,1199.6 369.5,1199.6 372.5,1199.5 375.5,1199.5 378.5,1199.5 381.5,1199.5 384.5,1199.5 387.5,1199.5 390.5,1199.5 393.5,1199.5 396.5,1199.5 399.5,1199.5 402.5,1199.5 405.5,1199.5 408.5,1199.5 411.5,1199.5 414.5,1199.5 417.5,1199.5 420.5,1199.5 423.5,1199.5 426.5,1199.5 429.5,1199.5 432.5,1199.4 435.5,1199.4 438.5,1199.4 441.5,1199.4 444.5,1199.4 447.5,1199.4 450.5,1199.4 453.5,1199.4 456.5,1199.4 459.5,1199.4 462.5,1199.4 465.5,1199.4 468.5,1199.4 471.5,1199.4 474.5,1199.4 477.5,1199.4 480.5,1199.4 483.5,1199.4 486.5,1199.4 489.5,1199.3 492.5,1199.3 495.5,1199.3 498.5,1199.3 501.5,1199.3 504.5,1199.3 507.5,1199.3 510.5,1199.3 513.5,1199.3 516.5,1199.3 519.5,1199.3 522.5,1199.3 525.5,1199.3 528.5,1199.3 531.5,1199.3 534.5,1199.3 537.5,1199.3 540.5,1199.3 543.5,1199.3 546.5,1199.3 549.5,1199.2 552.5,1199.2 555.5,1199.2 558.5,1199.2 561.5,1199.2 564.5,1199.2 567.5,1199.2 570.5,1199.2 573.5,1199.2" stroke="#00ffff" stroke-width="2.4" fill="none"/><path d="M165.5,1198.5V1201.5M166.5,1198.4V1202.0M167.1,1197.9V1201.8M167.8,1198.7V1201.7M170.1,1198.3V1201.8M172.2,1197.7V1201.7M173.6,1197.9V1201.7M175.1,1197.8V1201.5M176.9,1198.0V1202.0M177.7,1197.9V1202.0M178.5,1198.5V1201.6M179.9,1197.8V1201.1M180.5,1197.8V1201.8M182.0,1198.4V1201.6M184.3,1197.9V1201.6M185.2,1198.3V1201.5M187.2,1197.8V1201.8M189.3,1197.8V1201.6M190.2,1197.7V1201.5M192.5,1198.0V1201.6M194.0,1198.4V1201.8M194.8,1198.1V1201.2M195.8,1198.0V1202.0M197.6,1198.2V1201.3M199.7,1197.9V1201.8M202.1,1198.4V1202.0M203.5,1198.1V1201.1M205.2,1197.8V1201.3M205.9,1198.1V1201.8M207.1,1198.4V1201.2M208.7,1198.0V1201.4M211.0,1198.1V1202.0M212.9,1198.5V1201.8M213.7,1197.8V1201.6M214.6,1198.3V1201.4M215.9,1198.4V1201.1M217.1,1197.8V1201.5M218.3,1198.4V1202.0M219.0,1198.5V1201.0M220.9,1198.5V1201.1M223.2,1198.5V1201.4M224.3,1197.7V1201.7M225.4,1198.6V1201.1M227.2,1198.3V1201.7M228.7,1198.1V1201.5M229.9,1198.2V1201.1M231.1,1197.8V1201.2M232.1,1197.9V1201.7M232.8,1197.9V1201.5M235.2,1198.6V1201.2M237.4,1197.9V1201.9M238.6,1197.6V1201.4M240.9,1198.5V1201.5M242.2,1198.1V1201.9M242.9,1198.0V1201.6M244.9,1197.7V1201.3M245.9,1198.3V1201.6M247.1,1198.3V1201.1M248.0,1197.8V1201.6M249.5,1198.1V1201.0M252.0,1198.5V1201.1M253.1,1198.0V1201.8M253.9,1198.2V1201.4M254.5,1197.8V1201.2M256.9,1197.6V1201.8M258.5,1198.3V1201.0M259.3,1197.7V1201.7M261.2,1198.3V1201.1M263.6,1197.8V1201.6M266.0,1198.1V1201.6M267.5,1197.8V1201.4M269.3,1197.6V1201.3M270.3,1197.6V1201.7M271.9,1198.3V1201.6M272.6,1198.0V1201.0M274.6,1198.3V1201.3M276.3,1197.7V1201.7M278.0,1198.4V1201.6M279.9,1197.8V1200.9M281.5,1198.3V1200.9M284.0,1197.6V1201.3M286.5,1197.9V1200.9M288.9,1197.8V1201.8M289.5,1198.2V1201.0M291.0,1197.8V1201.1M292.1,1198.4V1201.8M294.0,1198.3V1201.5M295.1,1198.3V1201.1M297.4,1197.7V1201.8M298.5,1198.3V1201.4M300.6,1197.9V1201.4M301.8,1197.6V1201.2M302.6,1197.8V1201.1M304.9,1197.6V1201.0M305.7,1198.2V1201.6M307.4,1197.9V1200.9M308.3,1198.2V1201.8M309.4,1197.7V1201.4M311.3,1197.7V1201.4M312.6,1198.1V1201.0M314.8,1198.3V1201.7M316.3,1197.5V1201.2M317.0,1197.9V1201.5M319.4,1198.3V1201.6M321.6,1197.9V1201.7M323.3,1197.4V1201.6M325.6,1197.9V1200.9M327.0,1197.5V1201.4M328.4,1198.0V1201.2M329.5,1198.1V1200.8M331.0,1198.0V1201.1M333.3,1198.4V1201.7M335.6,1197.6V1201.2M337.4,1197.7V1201.0M338.8,1197.6V1201.7M341.3,1197.9V1201.3M342.1,1197.7V1200.9M343.7,1197.7V1201.3M344.9,1197.9V1201.2M347.4,1198.4V1201.3M349.7,1197.7V1201.3M351.1,1198.1V1201.0M353.0,1198.1V1201.7M354.5,1198.1V1200.9M355.6,1197.8V1201.6M357.3,1198.1V1201.6M358.5,1198.0V1201.7M360.5,1197.8V1201.5M361.2,1197.4V1201.4M363.0,1198.0V1201.1M363.9,1197.4V1200.9M364.9,1197.7V1201.3M366.5,1197.7V1201.0M367.2,1198.1V1201.3M368.6,1197.4V1201.2M370.3,1198.3V1201.2M371.8,1197.8V1201.6M373.8,1197.6V1201.1M374.7,1198.2V1201.4M376.2,1197.9V1200.8M376.9,1198.1V1201.4M378.5,1198.1V1200.8M380.5,1197.8V1201.5M381.5,1197.4V1200.8M382.4,1198.0V1200.8M384.7,1197.4V1201.5M386.5,1197.3V1201.4M388.1,1197.5V1201.4M390.1,1197.4V1200.8M390.7,1197.7V1200.7M392.2,1197.9V1201.5M393.0,1197.6V1201.0M395.3,1197.7V1201.4M397.5,1197.4V1201.6M398.9,1197.5V1201.1M400.8,1197.9V1200.9M401.6,1197.8V1201.6M402.4,1198.1V1200.9M404.9,1197.4V1200.9M405.5,1198.3V1200.8M406.5,1197.8V1201.3M408.1,1197.5V1201.0M409.4,1198.0V1201.5M411.1,1197.4V1201.0M412.3,1197.4V1200.8M413.2,1197.5V1201.1M414.6,1197.8V1200.7M415.9,1197.8V1201.3M417.7,1197.4V1200.9M419.2,1197.7V1200.8M421.3,1197.5V1201.6M422.5,1197.7V1201.2M423.7,1198.0V1200.7M425.6,1198.0V1201.3M426.3,1198.2V1200.9M427.0,1197.5V1201.0M428.6,1197.8V1200.8M430.3,1197.3V1201.3M432.0,1197.6V1200.8M433.8,1197.3V1200.9M434.7,1198.2V1201.3M436.1,1198.1V1200.7M437.8,1197.3V1200.9M438.6,1197.8V1201.6M440.7,1197.6V1201.6M442.2,1197.8V1200.9M443.3,1197.4V1200.9M445.4,1198.0V1200.8M446.7,1197.5V1201.2M448.5,1198.1V1201.5M449.8,1197.3V1200.7M450.6,1197.7V1201.5M451.3,1198.2V1201.3M452.0,1198.2V1201.2M453.3,1197.3V1201.3M455.1,1197.2V1201.3M457.3,1197.4V1201.4M459.0,1197.8V1200.7M460.4,1197.8V1200.8M461.9,1197.3V1201.1M462.6,1197.6V1200.9M464.4,1197.9V1201.4M466.0,1197.2V1201.0M467.2,1198.0V1200.9M469.3,1197.3V1201.5M471.1,1197.8V1200.7M472.2,1197.8V1200.8M473.8,1198.0V1200.8M475.4,1197.4V1201.3M476.6,1197.9V1200.7M479.0,1197.5V1201.3M481.1,1198.0V1201.5M482.7,1197.4V1200.8M484.4,1197.6V1201.4M486.8,1197.2V1201.5M488.9,1197.2V1201.1M489.7,1197.4V1201.4M491.7,1197.9V1200.9M493.6,1197.2V1201.4M495.8,1197.3V1201.4M498.2,1197.8V1201.0M499.7,1197.4V1201.1M501.6,1197.5V1201.0M503.5,1197.2V1200.6M504.9,1198.1V1201.0M507.1,1197.9V1200.7M507.8,1198.0V1201.5M508.5,1197.9V1201.4M509.7,1198.0V1201.1M511.9,1197.9V1201.2M514.3,1197.7V1201.1M515.8,1197.2V1201.5M517.6,1197.3V1201.4M519.9,1197.8V1200.9M520.6,1197.7V1201.2M521.3,1197.7V1201.1M523.3,1197.6V1201.1M525.0,1197.9V1200.8M526.7,1197.4V1200.9M528.7,1197.5V1200.8M530.8,1197.3V1201.3M532.5,1197.2V1200.5M534.7,1197.4V1200.8M537.0,1197.9V1200.5M539.3,1197.3V1200.7M540.4,1198.0V1200.7M542.4,1197.8V1201.0M543.1,1197.9V1201.1M543.8,1197.9V1200.7M544.7,1197.7V1201.1M545.6,1197.4V1201.0M546.2,1198.0V1201.1M547.1,1197.4V1201.1M548.7,1197.2V1201.4M549.7,1197.9V1201.1M550.7,1198.0V1200.8M553.2,1197.7V1200.6M555.1,1197.5V1200.7M556.7,1197.2V1200.5M557.3,1197.2V1200.6M559.0,1197.1V1201.2M560.6,1197.8V1201.4M561.4,1197.6V1201.1M563.7,1197.5V1200.9M564.6,1197.3V1200.6M566.5,1197.5V1201.1M567.3,1198.0V1201.4M569.1,1197.0V1200.8M570.4,1197.2V1201.1M571.6,1197.3V1200.7" stroke="#00ffff" stroke-width="1" fill="none"/><path d="M585.2,1199.2 588.2,1199.2 591.2,1199.2 594.2,1199.2 597.2,1199.2 600.2,1199.2 603.2,1199.2 606.2,1199.2 609.2,1199.1 612.2,1199.1 615.2,1199.1 618.2,1199.1 621.2,1199.1 624.2,1199.1 627.2,1199.1 630.2,1199.1 633.2,1199.1 636.2,1199.1 639.2,1199.1 642.2,1199.1 645.2,1199.1 648.2,1199.1 651.2,1199.1 654.2,1199.1" stroke="#00ffff" stroke-width="2.4" fill="none"/><path d="M585.2,1197.2V1200.8M587.0,1197.7V1200.7M589.0,1197.3V1200.9M590.6,1197.5V1200.9M591.6,1197.4V1201.3M593.2,1197.5V1200.5M594.4,1197.3V1200.5M595.1,1197.5V1200.6M596.3,1197.2V1201.0M598.5,1197.3V1200.5M599.7,1197.1V1200.8M600.8,1197.4V1200.8M601.9,1197.5V1200.9M603.3,1197.8V1201.1M604.2,1197.4V1200.5M605.5,1197.2V1200.7M607.0,1197.2V1200.4M609.1,1197.0V1201.2M611.0,1197.1V1200.8M612.1,1197.8V1201.1M613.4,1197.7V1201.3M615.6,1197.3V1201.1M617.4,1197.8V1201.3M619.3,1197.9V1200.9M620.1,1197.4V1200.5M622.0,1197.7V1201.2M622.6,1197.0V1201.3M624.2,1197.5V1201.0M625.4,1197.3V1201.0M626.3,1197.7V1201.0M627.4,1197.5V1200.9M629.6,1197.1V1200.7M631.7,1197.9V1200.8M632.5,1197.3V1200.6M633.7,1197.7V1200.9M634.7,1197.8V1201.1M636.1,1197.1V1200.5M637.3,1197.0V1201.2M638.3,1197.2V1200.7M640.2,1197.8V1200.5M641.2,1197.4V1200.5M642.2,1197.6V1200.5M644.4,1196.9V1201.0M646.7,1197.1V1201.0M647.3,1197.0V1200.4M649.7,1197.3V1200.3M651.1,1197.0V1201.0M652.6,1197.6V1200.7M653.7,1197.0V1200.6" stroke="#00ffff" stroke-width="1" fill="none"/><path d="M658.6,1199.1 661.6,1199.1 664.6,1199.1 667.6,1199.0 670.6,1199.0 673.6,1199.0 676.6,1199.0 679.6,1199.0 682.6,1199.0 685.6,1199.0 688.6,1199.0 691.6,1199.0 694.6,1199.0 697.6,1199.0 700.6,1199.0 703.6,1199.0 706.6,1199.0 709.6,1199.0 712.6,1199.0 715.6,1199.0 718.6,1199.0 721.6,1199.0 724.6,1198.9 727.6,1198.9 730.6,1198.9 733.6,1198.9 736.6,1198.9 739.6,1198.9 742.6,1198.9 745.6,1198.9 748.6,1198.9 751.6,1198.9 754.6,1198.9 757.6,1198.9 760.6,1198.9 763.6,1198.9 766.6,1198.9 769.6,1198.9 772.6,1198.9 775.6,1198.9 778.6,1198.9 781.6,1198.9 784.6,1198.8 787.6,1198.8 790.6,1198.8 793.6,1198.8 796.6,1198.8 799.6,1198.8 802.6,1198.8 805.6,1198.8 808.6,1198.8 811.6,1198.8 814.6,1198.8 817.6,1198.8 820.6,1198.8 823.6,1198.8 826.6,1198.8 829.6,1198.8 832.6,1198.8 835.6,1198.8 838.6,1198.8 841.6,1198.7 844.6,1198.7 847.6,1198.7 850.6,1198.7 853.6,1198.7 856.6,1198.7 859.6,1198.7 862.6,1198.7 865.6,1198.7 868.6,1198.7 871.6,1198.7 874.6,1198.7 877.6,1198.6 880.6,1198.6 883.6,1198.6 886.6,1198.5 889.6,1198.5 892.6,1198.5 895.6,1198.4 898.6,1198.4 901.6,1198.4 904.6,1198.3 907.6,1198.3 910.6,1198.3 913.6,1198.2 916.6,1198.2 919.6,1198.2 922.6,1198.1 925.6,1198.1 928.6,1198.1 931.6,1198.0 934.6,1198.0 937.6,1198.0 940.6,1197.9 943.6,1197.9 946.6,1197.9 949.6,1197.8 952.6,1197.8 955.6,1197.8 958.6,1197.8 961.6,1197.7 964.6,1197.7 967.6,1197.7 970.6,1197.6 973.6,1197.6 976.6,1197.6 979.6,1197.5 982.6,1197.5 985.6,1197.5 988.6,1197.4 991.6,1197.4 994.6,1197.4 997.6,1197.3 1000.6,1197.3 1003.6,1197.3 1006.6,1197.2 1009.6,1197.2 1012.6,1197.2 1015.6,1197.1 1018.6,1197.1 1021.6,1197.1 1024.6,1197.0 1027.6,1197.0 1030.6,1197.0 1033.6,1196.9 1036.6,1196.9 1039.6,1196.9 1042.6,1196.8 1045.6,1196.8 1048.6,1196.8 1051.6,1196.8 1054.6,1196.7 1057.6,1196.7 1060.6,1196.7 1063.6,1196.7 1066.6,1196.7 1069.6,1196.6 1072.6,1196.6 1075.6,1196.6 1078.6,1196.6 1081.6,1196.5 1084.6,1196.5 1087.6,1196.5 1090.6,1196.5 1093.6,1196.5 1096.6,1196.4 1099.6,1196.4 1102.6,1196.4 1105.6,1196.4 1108.6,1196.3 1111.6,1196.3 1114.6,1196.3 1117.6,1196.3 1120.6,1196.2 1123.6,1196.2 1126.6,1196.2 1129.6,1196.2 1132.6,1196.2 1135.6,1196.1 1138.6,1196.1 1141.6,1196.1 1144.6,1196.1 1147.6,1196.0 1150.6,1196.0 1153.6,1196.0" stroke="#00ffff" stroke-width="2.4" fill="none"/><path d="M658.6,1196.9V1201.0M660.7,1197.4V1201.2M662.8,1197.2V1201.1M663.7,1197.8V1200.5M665.8,1197.4V1200.4M667.5,1196.9V1200.5M668.4,1197.8V1200.4M669.6,1197.0V1200.6M672.1,1197.7V1201.1M673.5,1197.6V1201.2M674.1,1197.7V1200.5M675.0,1197.0V1200.6M677.2,1196.9V1200.8M677.9,1197.3V1200.4M679.4,1196.9V1200.8M681.4,1197.0V1201.1M682.6,1197.5V1200.8M684.6,1197.4V1200.2M685.3,1197.5V1200.4M687.0,1197.3V1201.2M688.7,1197.0V1200.3M690.5,1197.2V1200.8M692.0,1197.5V1200.9M693.8,1197.6V1201.2M694.7,1197.6V1200.3M696.2,1197.5V1200.6M698.1,1197.5V1200.6M699.5,1197.2V1201.0M700.9,1197.1V1201.1M703.1,1197.6V1200.6M704.4,1197.2V1201.0M706.0,1197.3V1200.9M706.8,1197.4V1200.5M708.6,1197.7V1200.7M709.7,1197.8V1200.5M711.8,1197.1V1201.0M713.1,1196.8V1201.1M714.1,1197.0V1200.9M715.8,1196.9V1200.4M717.0,1197.4V1200.7M719.3,1196.9V1200.7M720.8,1196.9V1201.0M723.0,1197.1V1200.2M724.2,1197.5V1200.6M725.7,1196.9V1201.0M726.3,1197.3V1200.7M728.4,1196.8V1200.3M730.0,1197.6V1201.1M732.1,1197.6V1201.0M734.2,1197.5V1200.5M734.8,1197.3V1200.7M735.7,1196.9V1200.4M736.7,1197.7V1200.7M738.4,1197.4V1200.6M740.8,1196.9V1201.0M742.8,1197.2V1200.8M743.9,1196.9V1200.3M744.7,1197.6V1200.4M745.4,1197.0V1200.9M747.1,1196.9V1200.4M748.5,1197.3V1200.7M750.2,1197.1V1200.7M752.0,1197.0V1200.8M753.0,1196.9V1200.7M755.2,1196.8V1200.5M757.7,1197.6V1200.6M759.9,1197.6V1201.0M762.4,1197.1V1200.5M764.1,1197.1V1200.8M764.9,1196.8V1200.3M766.0,1196.9V1200.5M767.1,1197.3V1200.8M769.6,1196.7V1200.9M772.1,1197.1V1201.0M773.9,1197.1V1200.3M774.6,1197.2V1200.4M776.8,1197.5V1200.8M778.4,1197.3V1200.6M779.6,1197.5V1200.7M780.5,1197.1V1200.8M781.2,1197.1V1200.7M783.4,1197.2V1200.2M784.2,1197.1V1200.6M785.9,1197.6V1200.2M786.6,1197.3V1200.5M787.8,1196.9V1201.0M789.2,1196.8V1200.6M791.6,1197.6V1200.7M792.4,1197.2V1200.7M793.3,1197.6V1200.3M795.0,1197.0V1200.4M797.1,1197.3V1200.7M799.3,1197.0V1200.5M801.3,1197.0V1200.1M802.2,1197.1V1200.5M803.2,1196.8V1200.1M805.5,1196.7V1201.0M807.1,1196.6V1200.2M809.3,1197.0V1200.8M810.2,1196.7V1200.0M811.9,1196.8V1200.8M813.7,1197.4V1200.4M815.1,1197.0V1200.4M815.9,1196.6V1200.1M818.4,1196.6V1200.6M819.4,1197.3V1200.5M820.1,1197.5V1200.5M821.5,1197.5V1200.5M823.5,1197.5V1200.5M824.6,1197.1V1200.3M825.7,1196.7V1200.1M826.5,1196.8V1201.0M828.5,1197.3V1200.9M830.1,1196.6V1200.7M831.3,1197.3V1200.1M833.1,1197.5V1200.2M834.1,1197.1V1200.5M836.2,1197.3V1200.4M838.6,1196.7V1200.7M840.2,1197.4V1200.6M841.5,1196.6V1200.9M842.6,1197.4V1200.7M844.0,1196.6V1200.7M845.4,1197.3V1200.9M846.4,1196.9V1200.6M848.6,1197.4V1200.2M849.4,1197.5V1200.7M851.5,1197.4V1200.5M853.9,1196.8V1200.2M856.3,1197.4V1200.2M857.1,1197.1V1200.4M858.7,1197.3V1200.0M860.3,1196.5V1200.6M861.0,1196.6V1200.3M862.6,1196.7V1200.6M863.8,1196.9V1200.8M866.2,1196.8V1200.4M867.9,1197.4V1200.6M869.2,1196.9V1200.2M870.2,1196.5V1200.5M872.6,1197.2V1200.3M875.0,1197.4V1200.0M877.0,1196.8V1200.1M878.1,1196.7V1199.9M880.5,1197.0V1200.7M882.2,1196.4V1200.4M882.9,1196.6V1200.8M884.7,1197.1V1200.0M886.7,1196.7V1200.4M887.7,1196.7V1200.1M889.4,1196.3V1200.0M891.1,1196.4V1199.8M891.8,1197.1V1200.0M893.7,1196.8V1200.3M896.0,1197.1V1199.8M896.8,1196.4V1200.0M899.1,1196.3V1200.3M900.2,1196.2V1199.8M902.4,1196.8V1199.8M903.3,1196.3V1199.7M904.0,1197.0V1199.6M905.9,1196.4V1199.9M907.2,1197.0V1200.1M908.6,1197.1V1200.0M910.8,1196.2V1199.8M912.6,1196.7V1199.5M914.0,1196.5V1199.6M914.9,1196.6V1199.7M916.3,1196.9V1200.1M918.6,1196.8V1200.0M919.9,1196.2V1199.6M920.8,1196.7V1199.6M922.7,1196.5V1199.5M924.5,1196.0V1199.5M926.8,1196.2V1199.9M928.0,1195.9V1200.1M928.8,1196.0V1200.0M930.2,1196.3V1200.0M931.0,1196.1V1199.8M932.2,1196.5V1199.7M934.0,1196.4V1200.1M935.3,1196.6V1199.5M937.6,1196.6V1199.2M938.9,1195.8V1199.5M940.1,1196.0V1199.4M941.1,1196.5V1199.5M942.6,1196.7V1199.2M944.1,1196.4V1199.3M946.0,1196.1V1199.2M946.8,1196.2V1199.4M948.3,1196.6V1199.4M950.2,1196.6V1199.7M951.8,1196.6V1199.3M954.2,1196.3V1199.9M955.3,1196.6V1199.0M956.7,1195.6V1199.3M958.0,1196.4V1199.7M960.4,1196.2V1199.4M961.8,1195.8V1199.8M963.5,1196.3V1199.7M966.0,1196.4V1199.2M967.0,1195.7V1198.9M968.7,1195.7V1199.4M970.0,1196.4V1198.9M971.5,1195.6V1199.7M973.9,1195.8V1198.9M975.4,1195.8V1199.0M976.7,1195.5V1199.3M978.3,1195.9V1198.8M979.5,1196.3V1199.4M981.1,1195.6V1199.4M982.0,1195.4V1199.2M982.7,1195.8V1199.2M984.6,1195.6V1199.1M985.8,1195.9V1199.3M986.7,1195.6V1198.7M987.3,1195.7V1199.3M989.4,1195.6V1198.7M991.8,1195.3V1199.5M994.2,1195.5V1198.7M995.5,1195.8V1198.7M996.2,1195.6V1199.3M997.4,1195.2V1199.4M998.5,1195.2V1199.1M1000.0,1196.0V1198.8M1002.2,1195.8V1199.3M1004.3,1195.6V1199.1M1006.3,1195.3V1199.1M1007.7,1195.3V1199.4M1009.7,1195.2V1198.9M1011.1,1195.8V1199.3M1013.0,1195.0V1198.7M1014.9,1195.6V1199.2M1016.9,1195.0V1198.9M1019.3,1195.5V1198.9M1020.1,1195.5V1198.8M1022.1,1195.3V1198.6M1024.3,1195.2V1198.9M1025.7,1195.8V1198.8M1028.0,1195.6V1198.4M1028.9,1195.1V1198.9M1030.7,1195.4V1199.0M1032.8,1195.1V1198.3M1034.8,1195.2V1198.4M1037.2,1195.6V1198.9M1038.8,1195.5V1198.6M1041.2,1195.0V1198.8M1043.5,1195.0V1198.5M1045.5,1195.2V1198.9M1047.8,1195.4V1198.6M1050.1,1195.0V1198.7M1051.8,1195.4V1198.8M1053.4,1194.8V1198.1M1055.1,1195.2V1198.8M1057.4,1194.7V1198.2M1059.5,1194.5V1198.4M1060.9,1194.7V1198.3M1061.8,1194.7V1198.4M1062.4,1195.2V1198.1M1063.5,1195.3V1198.9M1064.9,1194.8V1198.2M1066.0,1194.9V1198.2M1068.5,1194.7V1198.0M1070.8,1194.6V1197.8M1072.3,1195.3V1197.8M1074.8,1195.1V1197.9M1077.0,1195.3V1198.0M1079.4,1194.6V1198.1M1081.0,1195.3V1197.9M1081.7,1195.1V1198.1M1082.9,1195.0V1198.4M1084.4,1195.1V1198.2M1085.3,1195.1V1197.8M1086.1,1194.8V1198.0M1087.0,1194.4V1198.0M1089.4,1194.4V1198.2M1090.0,1194.6V1198.3M1092.4,1194.8V1198.1M1093.1,1195.2V1198.5M1093.8,1194.4V1198.6M1095.5,1194.5V1198.0M1097.7,1195.0V1198.5M1099.4,1194.3V1198.3M1101.5,1194.7V1197.6M1103.2,1194.9V1197.9M1104.1,1195.1V1198.0M1106.3,1194.7V1197.7M1107.2,1194.2V1198.1M1107.9,1194.2V1198.4M1108.8,1194.7V1197.6M1109.4,1194.2V1198.2M1111.8,1194.7V1197.8M1113.4,1194.8V1197.9M1115.2,1194.3V1197.7M1117.3,1194.7V1198.1M1118.8,1194.3V1198.2M1121.0,1194.5V1197.9M1122.5,1194.3V1198.3M1124.1,1194.4V1198.1M1126.5,1194.2V1198.3M1128.9,1194.5V1198.2M1129.9,1194.5V1198.1M1131.1,1194.1V1197.8M1133.2,1194.7V1197.5M1135.6,1194.0V1197.6M1136.4,1194.4V1198.0M1137.1,1194.3V1197.9M1139.0,1194.8V1198.0M1141.4,1194.1V1198.0M1142.6,1194.0V1197.7M1144.8,1194.7V1197.7M1147.1,1194.9V1197.7M1149.0,1194.4V1197.8M1151.2,1194.7V1198.1M1152.2,1194.0V1197.5M1153.8,1194.8V1197.5" stroke="#00ffff" stroke-width="1" fill="none"/>
<path d="M165.5,1224.2 168.5,1224.2 171.5,1224.3 174.5,1224.3 177.5,1224.4 180.5,1224.4 183.5,1224.5 186.5,1224.5 189.5,1224.6 192.5,1224.6 195.5,1224.7 198.5,1224.7 201.5,1224.8 204.5,1224.9 207.5,1224.9 210.5,1225.0 213.5,1225.0 216.5,1225.1 219.5,1225.2 222.5,1225.2 225.5,1225.3 228.5,1225.4 231.5,1225.5 234.5,1225.5 237.5,1225.6 240.5,1225.7 243.5,1225.8 246.5,1225.9 249.5,1225.9 252.5,1226.0 255.5,1226.1 258.5,1226.2 261.5,1226.3 264.5,1226.4 267.5,1226.4 270.5,1226.5 273.5,1226.6 276.5,1226.7 279.5,1226.8 282.5,1226.9 285.5,1227.0 288.5,1227.1 291.5,1227.2 294.5,1227.3 297.5,1227.3 300.5,1227.4 303.5,1227.5 306.5,1227.6 309.5,1227.7 312.5,1227.8 315.5,1227.9 318.5,1228.0 321.5,1228.1 324.5,1228.2 327.5,1228.3 330.5,1228.4 333.5,1228.4 336.5,1228.5 339.5,1228.6 342.5,1228.7 345.5,1228.8 348.5,1228.9 351.5,1229.0 354.5,1229.0 357.5,1229.1 360.5,1229.2 363.5,1229.3 366.5,1229.4 369.5,1229.5 372.5,1229.5 375.5,1229.6 378.5,1229.7 381.5,1229.8 384.5,1229.8 387.5,1229.9 390.5,1230.0 393.5,1230.0 396.5,1230.1 399.5,1230.2 402.5,1230.2 405.5,1230.3 408.5,1230.4 411.5,1230.4 414.5,1230.5 417.5,1230.5 420.5,1230.6 423.5,1230.7 426.5,1230.7 429.5,1230.8 432.5,1230.8 435.5,1230.9 438.5,1230.9 441.5,1230.9 444.5,1231.0 447.5,1231.0 450.5,1231.1 453.5,1231.1 456.5,1231.1 459.5,1231.1 462.5,1231.2 465.5,1231.2 468.5,1231.2 471.5,1231.2 474.5,1231.3 477.5,1231.3 480.5,1231.3 483.5,1231.3 486.5,1231.3 489.5,1231.3 492.5,1231.3 495.5,1231.3 498.5,1231.3 501.5,1231.3 504.5,1231.3 507.5,1231.3 510.5,1231.3 513.5,1231.2 516.5,1231.2 519.5,1231.2 522.5,1231.2 525.5,1231.1 528.5,1231.1 531.5,1231.1 534.5,1231.0 537.5,1231.0 540.5,1230.9 543.5,1230.8 546.5,1230.8 549.5,1230.7 552.5,1230.6 555.5,1230.6 558.5,1230.5 561.5,1230.4 564.5,1230.3 567.5,1230.2 570.5,1230.1 573.5,1230.0" stroke="#ffff00" stroke-width="2.4" fill="none"/><path d="M165.5,1222.3V1226.3M167.4,1221.8V1225.7M168.2,1221.8V1226.5M169.8,1221.5V1226.3M170.9,1222.5V1225.5M172.8,1222.5V1226.3M173.6,1221.6V1226.2M174.3,1222.0V1226.8M175.0,1222.1V1225.8M176.0,1221.7V1227.1M176.7,1223.0V1226.2M177.6,1222.0V1225.7M178.6,1222.1V1226.3M180.2,1222.8V1227.0M182.0,1222.5V1226.7M183.5,1222.5V1227.2M185.4,1222.2V1227.2M186.7,1221.8V1226.4M188.2,1222.3V1226.5M189.2,1222.5V1225.9M190.7,1222.1V1226.6M192.0,1222.0V1227.4M193.3,1222.1V1226.2M194.4,1221.9V1226.9M195.6,1223.2V1227.4M197.1,1222.3V1226.5M198.8,1222.5V1226.3M200.8,1222.2V1226.1M201.7,1223.2V1227.0M202.7,1223.2V1227.5M203.7,1223.5V1227.1M205.5,1223.3V1226.4M206.9,1223.7V1227.0M208.7,1223.3V1226.9M209.7,1223.7V1227.2M210.8,1223.4V1226.2M212.9,1222.5V1227.2M214.5,1222.6V1227.6M215.9,1223.0V1227.5M217.3,1222.8V1226.4M218.0,1222.7V1226.8M220.1,1223.0V1227.2M221.4,1223.9V1227.6M222.6,1222.6V1227.1M223.6,1223.8V1227.6M224.6,1223.3V1226.7M226.4,1222.7V1227.0M228.0,1223.4V1228.1M230.1,1224.0V1227.5M231.5,1223.4V1227.6M232.5,1224.0V1227.6M234.0,1223.7V1227.0M235.5,1223.1V1227.5M236.6,1224.2V1228.1M237.7,1222.9V1227.1M238.4,1223.1V1227.6M240.5,1224.2V1228.3M242.3,1223.7V1227.5M243.3,1223.8V1227.3M245.4,1223.2V1228.4M246.6,1224.0V1227.2M248.1,1224.5V1227.4M250.2,1223.8V1227.9M250.9,1223.9V1228.2M251.9,1223.5V1227.9M253.2,1224.0V1227.8M254.5,1224.2V1228.5M256.3,1224.2V1228.7M258.3,1224.0V1228.0M259.5,1224.8V1227.9M260.3,1223.9V1228.6M262.2,1223.6V1227.6M264.1,1224.6V1229.0M265.3,1224.7V1228.1M266.6,1224.8V1228.8M268.2,1225.0V1228.8M270.3,1223.9V1228.1M271.5,1224.3V1228.3M272.3,1225.0V1228.6M273.4,1225.0V1228.3M275.5,1224.9V1228.6M276.3,1224.8V1228.9M278.2,1225.3V1228.5M279.8,1225.5V1228.5M280.7,1224.3V1228.9M282.1,1225.3V1228.2M283.5,1225.2V1228.8M285.3,1225.7V1229.0M287.4,1224.5V1228.3M289.5,1225.3V1228.6M291.3,1225.2V1229.5M292.5,1225.8V1228.9M294.2,1225.5V1229.4M295.0,1225.3V1229.8M297.0,1225.3V1229.1M298.4,1225.1V1229.3M299.4,1225.1V1228.6M301.5,1224.8V1229.3M303.0,1226.2V1229.2M304.0,1226.2V1229.0M305.4,1225.0V1230.1M306.9,1226.0V1228.9M308.3,1226.4V1229.0M309.1,1225.7V1229.2M310.6,1225.7V1229.8M311.8,1226.1V1229.4M313.7,1225.8V1230.4M315.5,1226.3V1229.6M316.2,1226.4V1229.4M318.1,1225.7V1229.9M319.5,1226.3V1230.6M320.4,1225.4V1230.7M322.6,1226.6V1230.3M324.2,1225.5V1229.6M325.7,1226.9V1229.5M327.5,1225.6V1229.8M329.7,1226.1V1229.8M330.3,1225.9V1230.1M332.4,1226.7V1230.4M333.1,1226.5V1230.5M334.8,1227.2V1229.8M336.1,1226.2V1230.4M337.6,1226.0V1230.4M339.0,1226.2V1231.0M340.5,1226.8V1231.4M341.7,1226.2V1231.3M343.7,1227.5V1231.3M345.7,1226.8V1230.3M347.5,1226.9V1230.7M348.9,1227.0V1230.5M350.5,1226.2V1231.4M352.0,1227.4V1230.9M354.1,1227.5V1231.4M355.9,1227.8V1230.3M356.5,1227.9V1230.9M358.3,1226.7V1231.1M360.1,1227.5V1230.6M360.7,1226.5V1232.0M362.2,1227.9V1231.2M364.4,1227.6V1231.3M366.0,1227.3V1230.8M367.3,1227.0V1230.9M368.4,1227.0V1230.7M369.6,1227.4V1230.9M370.4,1228.0V1231.5M371.9,1227.6V1231.2M372.7,1227.4V1232.2M374.4,1227.6V1231.1M376.3,1228.3V1232.2M378.1,1227.9V1231.6M379.8,1227.0V1231.6M380.6,1228.0V1232.0M382.0,1227.6V1231.8M383.6,1228.0V1231.9M385.0,1227.4V1232.6M386.9,1227.5V1232.4M387.5,1227.4V1232.5M389.2,1227.8V1231.8M390.6,1228.8V1232.3M392.5,1227.6V1231.7M393.2,1228.8V1231.2M394.8,1227.9V1232.5M395.4,1227.9V1232.0M397.0,1228.0V1232.7M398.5,1228.2V1231.8M400.4,1228.0V1231.9M401.5,1227.4V1232.7M403.6,1227.6V1232.0M404.7,1228.6V1232.9M405.5,1228.3V1232.5M407.4,1228.5V1231.7M409.5,1229.1V1232.4M410.8,1228.4V1232.1M411.9,1227.7V1231.8M412.5,1228.3V1231.7M413.1,1228.6V1232.6M414.4,1227.8V1231.9M415.1,1228.1V1232.4M416.0,1228.7V1232.9M417.8,1228.5V1232.2M419.4,1228.2V1233.1M421.5,1229.0V1232.7M423.6,1228.1V1232.5M425.0,1228.6V1232.1M427.0,1228.4V1232.0M428.0,1229.0V1232.4M429.9,1228.7V1233.0M431.8,1229.6V1232.4M434.0,1229.0V1232.7M435.9,1228.5V1233.1M436.9,1229.1V1232.4M439.1,1228.9V1232.4M441.0,1229.4V1233.5M442.5,1229.5V1232.2M443.6,1229.3V1233.7M445.8,1229.3V1233.0M446.6,1228.3V1232.9M448.3,1229.5V1232.4M449.9,1228.5V1232.8M451.0,1229.5V1232.3M452.0,1229.3V1232.4M453.8,1229.2V1232.4M454.4,1229.5V1232.4M455.9,1229.3V1232.7M457.9,1228.9V1232.6M459.2,1229.7V1233.1M461.2,1229.5V1232.7M462.3,1228.9V1232.8M463.1,1228.5V1233.5M463.9,1228.5V1233.3M464.8,1228.8V1233.3M465.8,1228.8V1232.8M466.5,1228.8V1232.8M467.1,1229.7V1233.2M468.3,1229.8V1232.5M469.0,1228.7V1232.6M470.6,1229.4V1232.7M472.0,1229.1V1233.8M473.1,1229.2V1234.0M473.7,1229.0V1233.3M475.1,1229.2V1233.1M476.0,1229.5V1232.6M476.7,1228.6V1232.6M478.4,1228.8V1233.3M480.0,1230.1V1233.0M481.2,1230.0V1233.9M483.0,1229.0V1233.7M483.8,1229.0V1234.0M484.7,1229.5V1232.9M486.0,1229.6V1233.0M487.5,1229.3V1233.9M489.1,1228.9V1232.7M490.9,1229.1V1232.8M492.7,1229.0V1232.8M493.4,1230.0V1234.1M494.2,1228.7V1234.0M495.6,1229.6V1233.6M497.7,1229.6V1233.3M499.5,1229.6V1232.8M501.7,1229.0V1233.6M503.5,1228.7V1232.9M504.4,1229.6V1232.5M505.2,1229.5V1233.9M507.4,1229.5V1233.5M508.8,1229.8V1233.8M509.4,1229.0V1234.0M510.8,1229.9V1233.0M512.0,1228.8V1232.6M513.5,1228.8V1233.5M514.4,1229.5V1233.8M516.0,1228.7V1233.7M517.5,1228.5V1233.0M518.6,1229.1V1233.2M519.4,1229.1V1232.7M520.2,1228.6V1232.7M521.6,1229.2V1233.9M522.4,1228.8V1233.5M524.3,1229.8V1232.5M525.7,1229.7V1233.3M527.0,1228.9V1232.6M529.1,1229.1V1233.6M530.4,1229.7V1233.5M532.2,1228.5V1233.4M533.7,1228.9V1232.5M535.6,1228.7V1232.5M536.6,1228.9V1233.5M537.4,1229.0V1233.3M538.2,1229.3V1233.7M540.2,1228.7V1233.0M541.1,1229.4V1232.5M542.0,1229.3V1232.1M542.7,1228.4V1233.3M544.1,1228.4V1232.9M544.7,1228.7V1233.0M545.7,1229.6V1233.1M547.5,1228.4V1233.4M549.7,1228.9V1231.9M550.5,1229.3V1232.7M552.1,1228.9V1232.0M553.8,1228.5V1232.6M555.4,1229.3V1232.9M557.1,1228.4V1231.7M558.0,1228.5V1232.6M559.8,1227.8V1232.3M561.5,1228.5V1231.7M563.5,1227.8V1232.4M564.5,1227.8V1232.2M566.3,1228.2V1231.8M567.0,1228.0V1231.7M567.7,1228.3V1232.6M569.7,1228.0V1231.3M570.4,1227.8V1231.3M572.3,1228.7V1232.7M573.4,1228.7V1231.8" stroke="#ffff00" stroke-width="1" fill="none"/><path d="M585.2,1229.5 588.2,1229.3 591.2,1229.2 594.2,1229.1 597.2,1229.0 600.2,1228.8 603.2,1228.7 606.2,1228.6 609.2,1228.5 612.2,1228.4 615.2,1228.2 618.2,1228.1 621.2,1228.0 624.2,1227.9 627.2,1227.7 630.2,1227.6 633.2,1227.5 636.2,1227.4 639.2,1227.3 642.2,1227.1 645.2,1227.0 648.2,1226.9 651.2,1226.8 654.2,1226.6" stroke="#ffff00" stroke-width="2.4" fill="none"/><path d="M585.2,1227.3V1231.9M587.2,1226.7V1230.8M589.1,1226.5V1231.7M590.0,1226.7V1231.6M591.4,1227.9V1231.8M592.9,1227.9V1231.3M594.0,1227.8V1230.8M595.2,1226.6V1231.1M596.3,1226.3V1231.0M598.4,1227.3V1231.0M599.3,1226.8V1230.6M600.0,1227.0V1231.2M601.7,1227.5V1230.8M603.9,1226.0V1230.5M606.0,1227.1V1231.2M607.7,1226.9V1229.9M609.5,1227.2V1230.9M610.1,1226.0V1230.7M611.1,1226.5V1229.8M612.4,1226.4V1231.0M614.5,1226.7V1230.1M615.7,1226.6V1230.8M617.4,1225.6V1230.2M618.5,1226.0V1229.5M619.8,1226.4V1229.7M621.9,1226.8V1229.2M623.9,1225.8V1229.6M625.8,1225.0V1229.7M628.0,1225.3V1229.5M629.2,1226.4V1229.5M630.6,1225.1V1230.4M632.6,1225.5V1229.1M634.0,1224.9V1230.2M635.8,1225.4V1228.9M637.5,1224.6V1229.7M638.2,1225.8V1228.8M639.6,1224.7V1229.1M641.6,1225.9V1229.4M642.6,1225.7V1228.3M644.1,1225.3V1229.1M644.8,1224.6V1229.5M647.0,1224.5V1228.2M648.2,1224.5V1229.6M649.8,1224.8V1229.2M651.7,1224.6V1228.8M652.9,1224.7V1228.4M654.0,1225.2V1228.2" stroke="#ffff00" stroke-width="1" fill="none"/><path d="M658.6,1226.5 661.6,1226.3 664.6,1226.2 667.6,1226.1 670.6,1226.0 673.6,1225.8 676.6,1225.7 679.6,1225.6 682.6,1225.4 685.6,1225.3 688.6,1225.2 691.6,1225.0 694.6,1224.9 697.6,1224.8 700.6,1224.6 703.6,1224.5 706.6,1224.4 709.6,1224.2 712.6,1224.1 715.6,1223.9 718.6,1223.8 721.6,1223.7 724.6,1223.5 727.6,1223.4 730.6,1223.2 733.6,1223.1 736.6,1222.9 739.6,1222.8 742.6,1222.6 745.6,1222.5 748.6,1222.3 751.6,1222.2 754.6,1222.0 757.6,1221.9 760.6,1221.7 763.6,1221.6 766.6,1221.4 769.6,1221.3 772.6,1221.1 775.6,1220.9 778.6,1220.8 781.6,1220.6 784.6,1220.5 787.6,1220.3 790.6,1220.1 793.6,1220.0 796.6,1219.8 799.6,1219.7 802.6,1219.5 805.6,1219.3 808.6,1219.2 811.6,1219.0 814.6,1218.8 817.6,1218.7 820.6,1218.5 823.6,1218.4 826.6,1218.2 829.6,1218.0 832.6,1217.9 835.6,1217.7 838.6,1217.6 841.6,1217.4 844.6,1217.3 847.6,1217.1 850.6,1217.0 853.6,1216.8 856.6,1216.7 859.6,1216.6 862.6,1216.4 865.6,1216.3 868.6,1216.2 871.6,1216.0 874.6,1215.9 877.6,1215.8 880.6,1215.7 883.6,1215.6 886.6,1215.4 889.6,1215.3 892.6,1215.2 895.6,1215.1 898.6,1215.1 901.6,1215.0 904.6,1214.9 907.6,1214.8 910.6,1214.7 913.6,1214.7 916.6,1214.6 919.6,1214.6 922.6,1214.5 925.6,1214.5 928.6,1214.4 931.6,1214.4 934.6,1214.4 937.6,1214.4 940.6,1214.3 943.6,1214.3 946.6,1214.3 949.6,1214.3 952.6,1214.4 955.6,1214.4 958.6,1214.4 961.6,1214.4 964.6,1214.4 967.6,1214.5 970.6,1214.5 973.6,1214.6 976.6,1214.6 979.6,1214.7 982.6,1214.7 985.6,1214.8 988.6,1214.8 991.6,1214.9 994.6,1215.0 997.6,1215.0 1000.6,1215.1 1003.6,1215.2 1006.6,1215.2 1009.6,1215.3 1012.6,1215.4 1015.6,1215.5 1018.6,1215.6 1021.6,1215.6 1024.6,1215.7 1027.6,1215.8 1030.6,1215.9 1033.6,1216.0 1036.6,1216.1 1039.6,1216.2 1042.6,1216.3 1045.6,1216.3 1048.6,1216.4 1051.6,1216.5 1054.6,1216.6 1057.6,1216.7 1060.6,1216.8 1063.6,1216.9 1066.6,1217.0 1069.6,1217.1 1072.6,1217.1 1075.6,1217.2 1078.6,1217.3 1081.6,1217.4 1084.6,1217.5 1087.6,1217.6 1090.6,1217.7 1093.6,1217.8 1096.6,1217.8 1099.6,1217.9 1102.6,1218.0 1105.6,1218.1 1108.6,1218.2 1111.6,1218.3 1114.6,1218.4 1117.6,1218.5 1120.6,1218.5 1123.6,1218.6 1126.6,1218.7 1129.6,1218.8 1132.6,1218.9 1135.6,1219.0 1138.6,1219.1 1141.6,1219.1 1144.6,1219.2 1147.6,1219.3 1150.6,1219.4 1153.6,1219.5" stroke="#ffff00" stroke-width="2.4" fill="none"/><path d="M658.6,1224.6V1228.7M659.5,1223.9V1228.3M660.5,1223.9V1228.2M662.3,1224.6V1229.0M664.0,1224.5V1227.8M665.8,1224.6V1228.2M666.7,1224.3V1228.2M668.8,1224.4V1228.2M670.2,1223.7V1227.3M670.9,1224.2V1227.8M671.9,1223.2V1227.2M672.9,1224.0V1228.3M674.2,1223.0V1227.5M674.9,1223.6V1227.7M675.7,1224.4V1228.3M677.6,1223.6V1228.1M679.2,1223.2V1227.1M681.4,1224.2V1227.1M682.3,1224.0V1227.7M684.0,1223.8V1227.4M685.8,1223.4V1227.5M686.5,1222.8V1226.8M687.3,1223.8V1226.6M688.2,1223.8V1227.0M690.0,1222.4V1227.4M692.0,1222.6V1227.6M692.6,1222.2V1226.7M694.2,1223.3V1226.6M696.3,1222.8V1226.4M698.3,1223.1V1226.3M699.9,1222.3V1227.2M700.5,1222.8V1225.8M702.6,1222.0V1226.4M704.4,1221.7V1226.8M706.4,1222.3V1226.4M707.9,1222.7V1226.7M710.0,1222.7V1226.6M711.5,1221.5V1225.4M712.8,1221.4V1225.7M714.6,1221.5V1225.7M715.7,1222.3V1225.3M717.4,1221.1V1226.3M719.1,1222.6V1225.4M721.2,1222.0V1226.3M722.1,1221.3V1224.9M723.2,1221.0V1225.8M724.2,1222.0V1226.1M725.0,1221.4V1225.1M727.0,1222.0V1224.9M729.0,1220.9V1224.6M730.1,1221.1V1225.8M732.1,1220.7V1224.4M733.6,1220.6V1224.9M735.1,1221.1V1225.1M737.2,1221.7V1224.9M738.9,1221.5V1225.3M739.5,1220.8V1225.1M740.5,1220.2V1224.5M742.5,1220.5V1224.1M744.3,1219.9V1225.0M746.0,1221.2V1225.0M748.0,1220.2V1224.5M750.1,1220.3V1224.4M751.6,1220.3V1224.1M752.9,1219.4V1223.9M753.6,1219.4V1223.7M755.7,1219.9V1223.3M756.8,1219.2V1223.9M758.5,1219.7V1223.9M760.5,1219.6V1224.0M761.2,1219.5V1223.2M762.4,1219.0V1223.8M763.5,1219.6V1224.2M764.4,1220.1V1223.5M765.8,1219.1V1223.9M767.4,1220.1V1222.7M768.1,1219.6V1223.8M770.1,1218.8V1223.6M771.1,1219.1V1222.4M772.6,1219.2V1222.6M774.4,1218.6V1222.3M775.5,1219.2V1222.9M776.4,1219.0V1222.6M777.6,1219.3V1222.4M779.4,1219.2V1222.8M780.7,1218.3V1222.6M782.1,1219.0V1221.8M784.2,1218.6V1221.9M786.4,1218.5V1222.6M787.4,1218.7V1221.7M788.0,1218.2V1221.8M789.7,1217.8V1222.1M791.8,1218.7V1222.1M793.5,1217.7V1222.7M794.7,1218.1V1222.2M795.3,1218.4V1221.5M796.6,1218.1V1222.1M798.0,1217.5V1221.0M799.0,1218.0V1222.0M800.0,1218.0V1222.0M800.9,1218.3V1222.1M802.2,1217.0V1221.9M803.2,1216.7V1220.9M805.0,1218.0V1220.7M806.9,1217.7V1221.1M807.7,1217.6V1221.3M809.4,1217.5V1221.2M810.8,1216.6V1220.3M811.6,1217.2V1220.9M812.7,1216.3V1220.3M814.2,1216.8V1221.3M815.6,1216.7V1220.7M816.6,1216.9V1221.0M818.0,1216.8V1220.1M819.8,1216.7V1220.9M820.8,1216.5V1220.7M821.7,1216.9V1220.4M823.5,1216.2V1220.1M824.9,1216.6V1220.9M826.1,1216.5V1220.6M827.3,1216.2V1219.9M828.5,1215.8V1220.9M830.1,1215.3V1220.1M831.4,1215.4V1219.5M832.0,1216.1V1219.2M832.8,1216.3V1219.6M834.9,1216.0V1219.0M836.3,1216.0V1219.3M838.5,1215.3V1218.9M840.0,1214.7V1219.2M840.6,1216.0V1218.8M842.6,1214.9V1220.2M844.1,1215.7V1219.9M846.0,1215.2V1219.6M847.8,1215.7V1218.8M849.6,1214.5V1219.6M850.6,1215.0V1219.3M851.7,1214.1V1218.2M853.2,1214.2V1218.9M855.0,1215.5V1219.5M855.8,1214.7V1218.4M858.0,1214.6V1218.4M859.8,1214.2V1218.4M860.7,1214.1V1217.9M862.7,1214.3V1217.6M863.7,1213.7V1218.3M865.6,1214.5V1218.2M867.3,1213.9V1217.7M869.1,1213.9V1218.1M870.3,1214.7V1218.4M871.2,1213.7V1217.9M872.1,1214.6V1218.1M873.9,1214.5V1217.3M875.0,1213.4V1218.5M876.8,1214.1V1217.4M878.5,1214.5V1217.4M880.2,1213.9V1217.4M881.9,1214.2V1218.1M882.8,1214.0V1217.4M884.4,1214.2V1218.3M886.5,1213.0V1216.8M888.0,1214.0V1216.7M889.2,1212.7V1217.7M891.3,1212.9V1216.5M892.0,1213.5V1217.6M894.1,1212.7V1217.4M895.9,1213.7V1217.6M896.6,1212.4V1216.7M897.5,1213.5V1216.7M898.8,1213.6V1216.6M899.7,1212.8V1217.4M901.1,1213.3V1217.3M902.9,1213.1V1216.4M903.7,1213.4V1216.2M905.2,1212.8V1216.5M907.4,1212.4V1217.0M908.7,1212.7V1216.2M910.4,1213.4V1216.4M911.7,1212.2V1216.3M913.4,1212.5V1217.2M914.9,1212.5V1216.4M915.8,1212.2V1216.4M916.5,1213.2V1215.9M918.4,1212.1V1217.3M919.6,1212.4V1216.3M921.8,1212.3V1215.9M923.1,1213.0V1216.8M923.9,1212.6V1216.0M924.6,1211.8V1217.0M925.7,1212.0V1217.1M926.3,1213.1V1216.3M927.5,1212.4V1216.2M928.9,1212.9V1217.2M930.4,1212.8V1215.9M932.5,1211.9V1215.6M933.6,1212.8V1215.7M935.2,1212.1V1216.3M936.9,1212.6V1216.5M938.6,1212.2V1215.7M939.5,1211.9V1216.2M940.4,1212.6V1216.0M942.2,1211.9V1216.4M944.0,1212.7V1215.9M946.0,1213.1V1217.0M947.6,1212.0V1216.5M948.8,1212.6V1215.6M950.4,1211.6V1216.2M951.8,1212.9V1215.7M953.8,1212.1V1216.0M955.7,1211.9V1216.8M956.4,1212.9V1216.3M957.2,1212.1V1216.6M958.7,1211.8V1216.9M959.3,1212.3V1216.5M960.6,1212.7V1216.1M961.2,1211.6V1217.2M962.2,1212.6V1216.8M962.8,1211.9V1216.5M964.4,1213.0V1216.8M965.3,1212.0V1215.7M967.3,1212.8V1217.2M968.7,1212.4V1215.8M970.5,1213.3V1216.5M971.8,1212.7V1216.3M972.4,1213.3V1216.8M974.5,1212.9V1216.6M976.1,1213.3V1217.3M976.9,1213.4V1216.4M977.7,1212.7V1216.8M979.0,1213.1V1217.2M979.9,1212.2V1216.4M981.1,1212.1V1216.5M982.8,1212.7V1216.9M983.4,1213.1V1217.5M985.0,1212.0V1216.3M986.5,1212.8V1217.1M987.7,1212.1V1217.4M989.0,1212.4V1216.0M990.2,1212.7V1216.2M991.2,1212.1V1216.1M992.0,1213.1V1217.3M993.9,1212.5V1216.2M995.5,1212.7V1217.7M996.3,1212.6V1217.5M997.8,1212.8V1217.7M998.6,1213.0V1217.2M999.9,1213.2V1216.5M1001.7,1212.7V1217.1M1003.7,1213.2V1216.5M1005.1,1213.7V1217.9M1006.8,1213.8V1217.0M1007.9,1213.1V1217.8M1008.9,1214.1V1218.0M1011.0,1213.7V1218.0M1012.0,1213.6V1216.7M1013.4,1213.3V1216.7M1015.5,1213.7V1216.7M1016.7,1214.1V1216.7M1018.5,1214.1V1216.9M1019.1,1213.9V1216.8M1020.5,1213.8V1217.8M1022.5,1214.1V1217.4M1023.3,1213.7V1217.0M1025.2,1213.2V1218.2M1026.8,1214.5V1218.6M1027.8,1214.1V1218.1M1029.1,1213.8V1217.9M1030.0,1213.9V1217.5M1031.4,1214.2V1218.0M1032.0,1213.7V1218.6M1033.0,1214.0V1217.4M1035.1,1214.2V1218.7M1036.3,1213.8V1217.3M1038.2,1214.8V1218.2M1040.1,1214.4V1217.9M1041.9,1213.5V1217.9M1043.5,1214.8V1217.6M1044.4,1213.8V1218.8M1046.5,1214.6V1217.7M1047.1,1214.1V1219.1M1047.8,1214.6V1217.7M1049.3,1214.8V1218.7M1050.5,1213.9V1217.7M1051.9,1214.1V1218.2M1053.7,1213.8V1219.2M1055.0,1215.0V1218.3M1056.3,1214.1V1218.4M1057.7,1215.2V1218.8M1059.2,1214.1V1218.5M1061.0,1215.1V1219.0M1063.2,1215.0V1219.0M1065.3,1215.0V1219.5M1067.2,1214.8V1219.1M1068.3,1215.1V1218.6M1068.9,1215.0V1218.6M1070.3,1215.8V1218.3M1071.5,1215.6V1219.3M1072.8,1214.8V1219.9M1073.9,1214.6V1218.4M1074.5,1215.4V1219.2M1076.2,1215.9V1218.9M1077.3,1215.1V1218.9M1079.2,1214.7V1218.6M1081.2,1214.7V1218.9M1082.2,1215.6V1219.1M1083.9,1214.8V1220.2M1084.9,1214.9V1220.0M1086.6,1215.3V1219.5M1087.5,1216.2V1219.7M1088.4,1216.2V1220.3M1090.1,1215.2V1220.3M1090.8,1216.4V1219.4M1092.7,1215.6V1219.3M1094.6,1215.1V1220.5M1096.1,1215.5V1220.1M1098.2,1215.8V1220.1M1099.3,1216.5V1220.1M1100.9,1215.2V1219.6M1102.0,1216.2V1219.6M1103.3,1215.7V1220.5M1105.1,1215.3V1220.7M1105.7,1216.3V1219.7M1107.7,1216.3V1220.0M1108.7,1216.5V1219.4M1109.4,1216.1V1219.9M1110.8,1216.9V1220.9M1111.6,1216.5V1220.3M1112.9,1215.6V1220.6M1115.1,1216.3V1220.9M1115.9,1216.1V1220.1M1117.8,1217.0V1221.3M1119.5,1217.2V1220.6M1120.7,1215.8V1221.2M1121.8,1217.0V1221.2M1123.0,1216.8V1220.8M1124.5,1215.9V1220.4M1126.6,1216.0V1221.0M1127.2,1216.5V1221.0M1128.9,1217.3V1221.2M1130.1,1216.1V1220.5M1131.3,1217.5V1220.8M1132.4,1216.7V1221.0M1134.2,1216.5V1220.4M1135.3,1217.6V1220.5M1136.1,1217.7V1220.7M1137.2,1217.0V1220.4M1138.0,1216.5V1220.7M1139.6,1216.6V1221.8M1141.1,1216.5V1220.4M1143.1,1218.0V1221.5M1144.4,1217.1V1221.4M1146.6,1217.3V1220.6M1148.7,1216.8V1221.4M1150.0,1217.0V1221.5M1150.7,1216.8V1222.1M1152.4,1216.8V1222.2M1153.9,1217.3V1221.2" stroke="#ffff00" stroke-width="1" fill="none"/>
<line x1="212.5" y1="1072.4" x2="212.5" y2="1082.4" stroke="#262626" stroke-width="1.2"/><line x1="212.5" y1="1233.5" x2="212.5" y2="1223.5" stroke="#262626" stroke-width="1.2"/><line x1="500.4" y1="1072.4" x2="500.4" y2="1082.4" stroke="#262626" stroke-width="1.2"/><line x1="500.4" y1="1233.5" x2="500.4" y2="1223.5" stroke="#262626" stroke-width="1.2"/><line x1="787.9" y1="1072.4" x2="787.9" y2="1082.4" stroke="#262626" stroke-width="1.2"/><line x1="787.9" y1="1233.5" x2="787.9" y2="1223.5" stroke="#262626" stroke-width="1.2"/><line x1="1075.6" y1="1072.4" x2="1075.6" y2="1082.4" stroke="#262626" stroke-width="1.2"/><line x1="1075.6" y1="1233.5" x2="1075.6" y2="1223.5" stroke="#262626" stroke-width="1.2"/><line x1="165.5" y1="1076.5" x2="175.5" y2="1076.5" stroke="#262626" stroke-width="1.2"/><line x1="1154.5" y1="1076.5" x2="1144.5" y2="1076.5" stroke="#262626" stroke-width="1.2"/><line x1="165.5" y1="1138.0" x2="175.5" y2="1138.0" stroke="#262626" stroke-width="1.2"/><line x1="1154.5" y1="1138.0" x2="1144.5" y2="1138.0" stroke="#262626" stroke-width="1.2"/><line x1="165.5" y1="1199.5" x2="175.5" y2="1199.5" stroke="#262626" stroke-width="1.2"/><line x1="1154.5" y1="1199.5" x2="1144.5" y2="1199.5" stroke="#262626" stroke-width="1.2"/><rect x="165.5" y="1072.4" width="989.0" height="161.1" fill="none" stroke="#262626" stroke-width="1.3"/>
<text x="156.0" y="1083.0" font-size="22.0" text-anchor="end" textLength="32.0" lengthAdjust="spacingAndGlyphs" fill="#262626" >-20</text>
<text x="156.0" y="1144.5" font-size="22.0" text-anchor="end" textLength="32.0" lengthAdjust="spacingAndGlyphs" fill="#262626" >-30</text>
<text x="156.0" y="1206.0" font-size="22.0" text-anchor="end" textLength="32.0" lengthAdjust="spacingAndGlyphs" fill="#262626" >-40</text>
<text x="86.3" y="1221.2" font-size="20.5" font-weight="bold" text-anchor="start" textLength="136.4" lengthAdjust="spacingAndGlyphs" transform="rotate(-90 86.3 1221.2)" fill="#262626" >Temperature</text>
<text x="109.0" y="1171.9" font-size="20.5" font-weight="bold" text-anchor="start" textLength="39.2" lengthAdjust="spacingAndGlyphs" transform="rotate(-90 109.0 1171.9)" fill="#262626" >(°C)</text>
<text x="1170.0" y="1174.0" font-size="15.5" font-weight="bold" text-anchor="start" textLength="108.5" lengthAdjust="spacingAndGlyphs" transform="rotate(-90 1170.0 1174.0)" fill="#000000" >Inboard EBox</text>
<text x="1182.1" y="1190.3" font-size="15.5" font-weight="bold" text-anchor="start" textLength="124.8" lengthAdjust="spacingAndGlyphs" transform="rotate(-90 1182.1 1190.3)" fill="#000000" >Inboard Sensor</text>
<text x="1194.2" y="1190.3" font-size="15.5" font-weight="bold" text-anchor="start" textLength="121.8" lengthAdjust="spacingAndGlyphs" transform="rotate(-90 1194.2 1190.3)" fill="#000000" >Outboard EBox</text>
<text x="1205.2" y="1211.0" font-size="15.5" font-weight="bold" text-anchor="start" textLength="138.3" lengthAdjust="spacingAndGlyphs" transform="rotate(-90 1205.2 1211.0)" fill="#000000" >Outboard Sensor</text>
<line x1="1168.0" y1="1234.5" x2="1168.0" y2="1249" stroke="#0000ff" stroke-width="2"/>
<line x1="1179.7" y1="1234.5" x2="1179.7" y2="1249" stroke="#00ffff" stroke-width="2"/>
<line x1="1191.8" y1="1234.5" x2="1191.8" y2="1249" stroke="#00ff00" stroke-width="2"/>
<line x1="1202.7" y1="1234.5" x2="1202.7" y2="1249" stroke="#ffff00" stroke-width="2"/>
<line x1="412.5" y1="1306.3" x2="412.5" y2="1469.5" stroke="#dedede" stroke-width="1"/><line x1="660.2" y1="1306.3" x2="660.2" y2="1469.5" stroke="#dedede" stroke-width="1"/><line x1="907.3" y1="1306.3" x2="907.3" y2="1469.5" stroke="#dedede" stroke-width="1"/><line x1="165.5" y1="1387.5" x2="1154.5" y2="1387.5" stroke="#dedede" stroke-width="1"/>
<rect x="166" y="1371" width="274" height="5.3" fill="#00ff00"/>
<path d="M177.2,1367.8h2.9V1371.0h-2.9zM181.7,1367.8h1.4V1371.0h-1.4zM183.1,1367.8h1.4V1371.0h-1.4zM190.2,1367.8h2.6V1371.0h-2.6zM192.9,1367.8h2.3V1371.0h-2.3zM195.2,1367.8h1.0V1371.0h-1.0zM200.1,1367.8h2.8V1371.0h-2.8zM204.8,1367.8h2.8V1371.0h-2.8zM216.1,1367.8h2.1V1371.0h-2.1zM218.2,1367.8h2.7V1371.0h-2.7zM225.5,1367.8h2.3V1371.0h-2.3zM234.9,1367.8h2.2V1371.0h-2.2zM240.8,1367.8h2.4V1371.0h-2.4zM244.3,1367.8h1.4V1371.0h-1.4zM250.4,1367.8h1.7V1371.0h-1.7zM252.1,1367.8h1.2V1371.0h-1.2zM255.4,1367.8h1.4V1371.0h-1.4zM267.8,1367.8h2.7V1371.0h-2.7zM270.6,1367.8h1.4V1371.0h-1.4zM272.0,1367.8h1.2V1371.0h-1.2zM273.2,1367.8h2.3V1371.0h-2.3zM278.4,1367.8h1.9V1371.0h-1.9zM280.3,1367.8h1.9V1371.0h-1.9zM282.3,1367.8h2.2V1371.0h-2.2zM284.4,1367.8h1.3V1371.0h-1.3zM289.7,1367.8h1.8V1371.0h-1.8zM291.5,1367.8h2.4V1371.0h-2.4zM293.9,1367.8h3.0V1371.0h-3.0zM296.9,1367.8h1.5V1371.0h-1.5zM303.1,1367.8h1.5V1371.0h-1.5zM304.5,1367.8h1.2V1371.0h-1.2zM323.1,1367.8h1.3V1371.0h-1.3zM324.5,1367.8h1.9V1371.0h-1.9zM327.7,1367.8h2.1V1371.0h-2.1zM333.3,1367.8h2.2V1371.0h-2.2zM337.1,1367.8h2.2V1371.0h-2.2zM343.4,1367.8h1.2V1371.0h-1.2zM344.6,1367.8h1.9V1371.0h-1.9zM346.5,1367.8h1.3V1371.0h-1.3zM350.2,1367.8h2.9V1371.0h-2.9zM357.0,1367.8h2.5V1371.0h-2.5zM359.4,1367.8h2.8V1371.0h-2.8zM370.2,1367.8h2.6V1371.0h-2.6zM372.8,1367.8h1.1V1371.0h-1.1zM378.2,1367.8h2.0V1371.0h-2.0zM388.0,1367.8h2.4V1371.0h-2.4zM390.4,1367.8h2.2V1371.0h-2.2zM392.6,1367.8h3.0V1371.0h-3.0zM397.0,1367.8h1.2V1371.0h-1.2zM402.2,1367.8h1.4V1371.0h-1.4zM407.5,1367.8h2.4V1371.0h-2.4zM410.0,1367.8h1.6V1371.0h-1.6zM417.4,1367.8h2.7V1371.0h-2.7zM423.2,1367.8h1.9V1371.0h-1.9zM425.0,1367.8h1.4V1371.0h-1.4zM426.4,1367.8h1.5V1371.0h-1.5zM429.5,1367.8h2.9V1371.0h-2.9zM432.4,1367.8h1.1V1371.0h-1.1zM433.5,1367.8h2.7V1371.0h-2.7zM436.2,1367.8h2.3V1371.0h-2.3zM438.5,1367.8h1.5V1371.0h-1.5z" fill="#00ff00"/>
<path d="M168.9,1376.3h2.6V1378.5h-2.6zM171.5,1376.3h2.0V1378.5h-2.0zM173.5,1376.3h2.1V1378.5h-2.1zM178.5,1376.3h2.8V1378.5h-2.8zM185.4,1376.3h2.3V1378.5h-2.3zM197.8,1376.3h2.8V1378.5h-2.8zM200.6,1376.3h1.8V1378.5h-1.8zM206.3,1376.3h1.3V1378.5h-1.3zM210.3,1376.3h2.8V1378.5h-2.8zM213.1,1376.3h1.5V1378.5h-1.5zM214.6,1376.3h1.9V1378.5h-1.9zM220.8,1376.3h2.0V1378.5h-2.0zM229.6,1376.3h2.0V1378.5h-2.0zM235.7,1376.3h1.3V1378.5h-1.3zM240.5,1376.3h2.4V1378.5h-2.4zM242.9,1376.3h1.1V1378.5h-1.1zM245.5,1376.3h1.1V1378.5h-1.1zM246.6,1376.3h1.4V1378.5h-1.4zM248.0,1376.3h1.1V1378.5h-1.1zM253.1,1376.3h1.0V1378.5h-1.0zM260.1,1376.3h1.5V1378.5h-1.5zM270.0,1376.3h2.5V1378.5h-2.5zM273.9,1376.3h1.4V1378.5h-1.4zM275.3,1376.3h1.2V1378.5h-1.2zM276.5,1376.3h1.0V1378.5h-1.0zM277.6,1376.3h2.5V1378.5h-2.5zM286.0,1376.3h2.2V1378.5h-2.2zM288.2,1376.3h1.1V1378.5h-1.1zM290.6,1376.3h2.7V1378.5h-2.7zM298.7,1376.3h2.5V1378.5h-2.5zM315.5,1376.3h1.3V1378.5h-1.3zM316.7,1376.3h2.5V1378.5h-2.5zM321.5,1376.3h2.2V1378.5h-2.2zM331.9,1376.3h1.7V1378.5h-1.7zM340.2,1376.3h2.0V1378.5h-2.0zM342.2,1376.3h2.1V1378.5h-2.1zM344.4,1376.3h1.8V1378.5h-1.8zM360.1,1376.3h2.7V1378.5h-2.7zM367.1,1376.3h1.6V1378.5h-1.6zM373.5,1376.3h1.1V1378.5h-1.1zM375.7,1376.3h2.8V1378.5h-2.8zM392.4,1376.3h1.8V1378.5h-1.8zM394.2,1376.3h2.0V1378.5h-2.0zM396.2,1376.3h2.9V1378.5h-2.9zM399.1,1376.3h1.8V1378.5h-1.8zM403.6,1376.3h2.3V1378.5h-2.3zM405.9,1376.3h2.9V1378.5h-2.9zM415.1,1376.3h2.3V1378.5h-2.3zM417.3,1376.3h1.3V1378.5h-1.3zM418.6,1376.3h1.2V1378.5h-1.2zM419.8,1376.3h2.0V1378.5h-2.0zM424.1,1376.3h2.9V1378.5h-2.9zM429.3,1376.3h2.5V1378.5h-2.5z" fill="#00ff00"/>
<rect x="440" y="1368.8" width="133" height="4.5" fill="#00ff00"/>
<path d="M460.9,1373.3h1.1V1377.8h-1.1zM464.7,1373.3h1.9V1377.8h-1.9zM472.8,1373.3h1.9V1377.8h-1.9zM490.7,1373.3h2.0V1377.8h-2.0zM495.7,1373.3h1.3V1377.8h-1.3zM498.1,1373.3h1.9V1377.8h-1.9zM515.5,1373.3h1.8V1377.8h-1.8zM531.4,1373.3h1.6V1377.8h-1.6zM533.0,1373.3h1.9V1377.8h-1.9zM541.5,1373.3h1.2V1377.8h-1.2zM542.7,1373.3h1.3V1377.8h-1.3zM551.5,1373.3h1.3V1377.8h-1.3z" fill="#00ff00"/>
<rect x="585.0" y="1371.5" width="70.0" height="5.5" fill="#00ff00"/>
<path d="M585.0,1369.3h2.2V1371.5h-2.2zM592.0,1369.3h1.4V1371.5h-1.4zM596.5,1369.3h1.1V1371.5h-1.1zM602.2,1369.3h1.8V1371.5h-1.8zM604.0,1369.3h1.9V1371.5h-1.9zM609.4,1369.3h2.8V1371.5h-2.8zM612.2,1369.3h1.8V1371.5h-1.8zM616.8,1369.3h2.1V1371.5h-2.1zM620.9,1369.3h1.3V1371.5h-1.3zM622.2,1369.3h1.4V1371.5h-1.4zM624.9,1369.3h2.5V1371.5h-2.5zM635.6,1369.3h1.0V1371.5h-1.0zM636.6,1369.3h1.1V1371.5h-1.1zM640.6,1369.3h2.7V1371.5h-2.7zM648.3,1369.3h1.3V1371.5h-1.3zM652.2,1369.3h2.8V1371.5h-2.8zM654.9,1369.3h0.1V1371.5h-0.1z" fill="#00ff00"/>
<rect x="658.5" y="1371.5" width="495.5" height="5.5" fill="#00ff00"/>
<path d="M661.1,1369.3h2.2V1371.5h-2.2zM671.7,1369.3h1.8V1371.5h-1.8zM683.9,1369.3h1.5V1371.5h-1.5zM689.1,1369.3h1.9V1371.5h-1.9zM691.0,1369.3h2.8V1371.5h-2.8zM695.2,1369.3h2.3V1371.5h-2.3zM697.5,1369.3h2.1V1371.5h-2.1zM722.1,1369.3h2.9V1371.5h-2.9zM726.2,1369.3h2.8V1371.5h-2.8zM730.4,1369.3h2.9V1371.5h-2.9zM735.2,1369.3h1.4V1371.5h-1.4zM737.9,1369.3h1.5V1371.5h-1.5zM739.4,1369.3h1.8V1371.5h-1.8zM741.2,1369.3h1.2V1371.5h-1.2zM742.4,1369.3h1.8V1371.5h-1.8zM744.2,1369.3h2.5V1371.5h-2.5zM746.7,1369.3h1.5V1371.5h-1.5zM755.7,1369.3h2.3V1371.5h-2.3zM758.0,1369.3h1.2V1371.5h-1.2zM759.2,1369.3h2.6V1371.5h-2.6zM767.3,1369.3h1.0V1371.5h-1.0zM776.8,1369.3h2.7V1371.5h-2.7zM782.1,1369.3h2.7V1371.5h-2.7zM792.4,1369.3h1.7V1371.5h-1.7zM796.9,1369.3h1.5V1371.5h-1.5zM803.9,1369.3h2.9V1371.5h-2.9zM809.3,1369.3h2.9V1371.5h-2.9zM826.0,1369.3h2.3V1371.5h-2.3zM828.3,1369.3h1.3V1371.5h-1.3zM832.4,1369.3h1.3V1371.5h-1.3zM833.7,1369.3h1.9V1371.5h-1.9zM835.6,1369.3h2.9V1371.5h-2.9zM838.5,1369.3h2.0V1371.5h-2.0zM843.4,1369.3h2.4V1371.5h-2.4zM846.9,1369.3h3.0V1371.5h-3.0zM857.6,1369.3h2.7V1371.5h-2.7zM860.3,1369.3h1.9V1371.5h-1.9zM864.0,1369.3h2.9V1371.5h-2.9zM876.1,1369.3h1.6V1371.5h-1.6zM880.4,1369.3h2.8V1371.5h-2.8zM885.7,1369.3h1.4V1371.5h-1.4zM887.1,1369.3h1.3V1371.5h-1.3zM898.2,1369.3h2.4V1371.5h-2.4zM900.7,1369.3h2.2V1371.5h-2.2zM905.7,1369.3h1.9V1371.5h-1.9zM908.7,1369.3h1.7V1371.5h-1.7zM919.0,1369.3h1.6V1371.5h-1.6zM925.5,1369.3h1.4V1371.5h-1.4zM926.9,1369.3h2.9V1371.5h-2.9zM929.8,1369.3h2.7V1371.5h-2.7zM935.1,1369.3h2.5V1371.5h-2.5zM937.6,1369.3h2.0V1371.5h-2.0zM946.9,1369.3h2.1V1371.5h-2.1zM950.6,1369.3h2.8V1371.5h-2.8zM953.4,1369.3h1.7V1371.5h-1.7zM955.1,1369.3h1.7V1371.5h-1.7zM961.2,1369.3h3.0V1371.5h-3.0zM965.9,1369.3h1.8V1371.5h-1.8zM970.6,1369.3h2.1V1371.5h-2.1zM980.7,1369.3h1.4V1371.5h-1.4zM982.1,1369.3h2.5V1371.5h-2.5zM987.6,1369.3h2.0V1371.5h-2.0zM996.0,1369.3h2.2V1371.5h-2.2zM998.2,1369.3h2.6V1371.5h-2.6zM1003.6,1369.3h1.4V1371.5h-1.4zM1009.2,1369.3h1.7V1371.5h-1.7zM1013.0,1369.3h2.9V1371.5h-2.9zM1015.9,1369.3h2.5V1371.5h-2.5zM1018.4,1369.3h2.9V1371.5h-2.9zM1021.3,1369.3h1.2V1371.5h-1.2zM1022.5,1369.3h2.0V1371.5h-2.0zM1024.6,1369.3h2.5V1371.5h-2.5zM1027.1,1369.3h2.5V1371.5h-2.5zM1031.6,1369.3h1.4V1371.5h-1.4zM1033.0,1369.3h2.7V1371.5h-2.7zM1047.5,1369.3h2.4V1371.5h-2.4zM1051.1,1369.3h1.8V1371.5h-1.8zM1055.0,1369.3h2.7V1371.5h-2.7zM1067.5,1369.3h3.0V1371.5h-3.0zM1074.6,1369.3h1.9V1371.5h-1.9zM1077.8,1369.3h1.5V1371.5h-1.5zM1094.0,1369.3h2.6V1371.5h-2.6zM1096.6,1369.3h2.0V1371.5h-2.0zM1102.5,1369.3h1.4V1371.5h-1.4zM1103.9,1369.3h2.4V1371.5h-2.4zM1106.4,1369.3h2.3V1371.5h-2.3zM1114.4,1369.3h1.4V1371.5h-1.4zM1122.8,1369.3h1.5V1371.5h-1.5zM1131.7,1369.3h1.3V1371.5h-1.3zM1133.1,1369.3h1.4V1371.5h-1.4zM1139.2,1369.3h3.0V1371.5h-3.0zM1147.4,1369.3h1.5V1371.5h-1.5zM1150.1,1369.3h1.1V1371.5h-1.1z" fill="#00ff00"/>
<rect x="166" y="1397.4" width="407" height="1.8" fill="#0000ff"/>
<rect x="585" y="1397.4" width="70" height="1.8" fill="#0000ff"/>
<rect x="658.5" y="1397.4" width="81.5" height="1.8" fill="#0000ff"/>
<rect x="740" y="1401.5" width="414" height="1.8" fill="#0000ff"/>
<path d="M313.0,1394.5h1.1V1398.0h-1.1zM314.1,1394.5h2.4V1398.0h-2.4zM316.5,1394.5h2.7V1398.0h-2.7zM319.2,1394.5h1.0V1398.0h-1.0zM320.3,1394.5h1.3V1398.0h-1.3zM321.6,1394.5h1.6V1398.0h-1.6zM324.5,1394.5h1.6V1398.0h-1.6zM326.1,1394.5h1.7V1398.0h-1.7zM327.8,1394.5h1.9V1398.0h-1.9zM329.7,1394.5h2.0V1398.0h-2.0zM331.7,1394.5h1.2V1398.0h-1.2zM332.9,1394.5h1.3V1398.0h-1.3zM334.2,1394.5h2.7V1398.0h-2.7zM336.9,1394.5h2.6V1398.0h-2.6zM339.5,1394.5h1.5V1398.0h-1.5zM343.6,1394.5h1.3V1398.0h-1.3zM344.9,1394.5h1.5V1398.0h-1.5zM346.3,1394.5h2.2V1398.0h-2.2zM354.6,1394.5h1.2V1398.0h-1.2zM355.8,1394.5h2.8V1398.0h-2.8zM360.3,1394.5h2.6V1398.0h-2.6zM362.9,1394.5h1.7V1398.0h-1.7zM364.6,1394.5h1.0V1398.0h-1.0zM365.6,1394.5h1.6V1398.0h-1.6zM367.2,1394.5h1.0V1398.0h-1.0zM368.3,1394.5h1.2V1398.0h-1.2zM372.5,1394.5h2.3V1398.0h-2.3zM374.8,1394.5h1.2V1398.0h-1.2zM378.0,1394.5h2.5V1398.0h-2.5zM380.5,1394.5h2.9V1398.0h-2.9zM383.5,1394.5h1.1V1398.0h-1.1zM384.6,1394.5h1.9V1398.0h-1.9zM386.4,1394.5h2.8V1398.0h-2.8zM389.3,1394.5h1.8V1398.0h-1.8zM392.1,1394.5h2.9V1398.0h-2.9z" fill="#0000ff"/>
<path d="M271.1,1394.5h1.6V1398.0h-1.6zM278.0,1394.5h1.3V1398.0h-1.3zM279.4,1394.5h1.9V1398.0h-1.9zM282.8,1394.5h1.4V1398.0h-1.4zM284.2,1394.5h1.4V1398.0h-1.4zM285.6,1394.5h1.7V1398.0h-1.7zM288.4,1394.5h1.3V1398.0h-1.3z" fill="#0000ff"/>
<path d="M438.0,1394.5h1.4V1398.0h-1.4zM439.4,1394.5h1.6V1398.0h-1.6zM441.0,1394.5h1.5V1398.0h-1.5zM442.5,1394.5h1.7V1398.0h-1.7zM444.2,1394.5h1.8V1398.0h-1.8z" fill="#0000ff"/>
<rect x="517" y="1398" width="12" height="4.5" fill="#0000ff"/>
<rect x="561" y="1398" width="4" height="4.5" fill="#0000ff"/><rect x="568" y="1398" width="5" height="4.5" fill="#0000ff"/>
<path d="M658.5,1397.4h1.1V1402.8h-1.1zM659.6,1397.4h1.0V1402.8h-1.0zM660.6,1397.4h2.5V1402.8h-2.5zM667.0,1397.4h2.2V1402.8h-2.2zM669.2,1397.4h2.1V1402.8h-2.1zM671.3,1397.4h2.1V1402.8h-2.1zM673.4,1397.4h2.4V1402.8h-2.4zM675.8,1397.4h1.6V1402.8h-1.6zM677.4,1397.4h1.5V1402.8h-1.5zM678.9,1397.4h2.5V1402.8h-2.5zM681.4,1397.4h1.1V1402.8h-1.1zM682.5,1397.4h1.2V1402.8h-1.2zM683.7,1397.4h1.8V1402.8h-1.8zM688.0,1397.4h2.4V1402.8h-2.4zM690.4,1397.4h1.2V1402.8h-1.2zM693.6,1397.4h2.8V1402.8h-2.8zM700.0,1397.4h1.0V1402.8h-1.0zM703.8,1397.4h2.0V1402.8h-2.0zM705.8,1397.4h2.2V1402.8h-2.2zM708.0,1397.4h2.4V1402.8h-2.4zM710.3,1397.4h1.4V1402.8h-1.4zM711.7,1397.4h2.5V1402.8h-2.5zM714.3,1397.4h2.2V1402.8h-2.2zM716.5,1397.4h2.0V1402.8h-2.0zM722.3,1397.4h2.9V1402.8h-2.9zM725.2,1397.4h2.5V1402.8h-2.5zM727.6,1397.4h1.0V1402.8h-1.0zM728.6,1397.4h2.0V1402.8h-2.0zM730.6,1397.4h2.7V1402.8h-2.7zM733.4,1397.4h2.6V1402.8h-2.6z" fill="#0000ff"/>
<path d="M1095.5,1398.7h1.8V1402.0h-1.8zM1102.6,1398.7h1.4V1402.0h-1.4zM1108.3,1398.7h1.7V1402.0h-1.7zM1111.9,1398.7h2.4V1402.0h-2.4zM1114.3,1398.7h1.5V1402.0h-1.5zM1117.7,1398.7h1.5V1402.0h-1.5zM1122.1,1398.7h2.5V1402.0h-2.5zM1124.6,1398.7h1.5V1402.0h-1.5zM1126.1,1398.7h2.8V1402.0h-2.8zM1129.0,1398.7h1.3V1402.0h-1.3zM1130.2,1398.7h2.6V1402.0h-2.6zM1132.8,1398.7h3.0V1402.0h-3.0zM1135.8,1398.7h2.3V1402.0h-2.3zM1139.7,1398.7h3.0V1402.0h-3.0zM1142.7,1398.7h1.7V1402.0h-1.7zM1144.4,1398.7h1.4V1402.0h-1.4zM1147.8,1398.7h1.7V1402.0h-1.7zM1149.5,1398.7h2.1V1402.0h-2.1zM1153.3,1398.7h0.7V1402.0h-0.7z" fill="#0000ff"/>
<path d="M876.0,1402.3 V1406.3 H889.0 V1402.3" stroke="#0000ff" stroke-width="1.6" fill="none"/>
<path d="M926.0,1402.3 V1406.3 H942.0 V1402.3" stroke="#0000ff" stroke-width="1.6" fill="none"/>
<path d="M983.0,1402.3 V1406.3 H1003.0 V1402.3" stroke="#0000ff" stroke-width="1.6" fill="none"/>
<path d="M1037.0,1402.3 V1406.3 H1049.0 V1402.3" stroke="#0000ff" stroke-width="1.6" fill="none"/>
<path d="M1087.0,1402.3 V1406.3 H1093.0 V1402.3" stroke="#0000ff" stroke-width="1.6" fill="none"/>
<rect x="166" y="1415.2" width="407" height="12.8" fill="#ffff00"/>
<path d="M166.0,1407.9h2.8V1415.2h-2.8zM168.8,1407.9h1.0V1415.2h-1.0zM169.8,1407.9h3.5V1415.2h-3.5zM173.3,1407.9h2.7V1415.2h-2.7zM176.0,1407.9h2.3V1415.2h-2.3zM178.3,1407.9h1.4V1415.2h-1.4zM179.7,1407.9h1.3V1415.2h-1.3zM181.0,1407.9h2.5V1415.2h-2.5zM183.5,1407.9h3.3V1415.2h-3.3zM191.4,1407.9h1.8V1415.2h-1.8zM193.2,1407.9h1.2V1415.2h-1.2zM194.4,1407.9h2.9V1415.2h-2.9zM199.4,1407.9h3.3V1415.2h-3.3zM202.7,1407.9h1.1V1415.2h-1.1zM203.8,1407.9h3.9V1415.2h-3.9zM207.6,1407.9h2.3V1415.2h-2.3zM210.0,1407.9h1.8V1415.2h-1.8zM211.8,1407.9h3.7V1415.2h-3.7zM215.4,1407.9h3.6V1415.2h-3.6zM219.1,1407.9h2.2V1415.2h-2.2zM221.3,1407.9h1.4V1415.2h-1.4zM222.7,1407.9h2.4V1415.2h-2.4zM225.1,1407.9h3.3V1415.2h-3.3zM228.3,1407.9h2.2V1415.2h-2.2zM230.5,1407.9h3.9V1415.2h-3.9zM234.5,1407.9h4.0V1415.2h-4.0zM238.5,1407.9h2.3V1415.2h-2.3zM240.8,1407.9h1.2V1415.2h-1.2zM241.9,1407.9h1.4V1415.2h-1.4zM243.3,1407.9h3.8V1415.2h-3.8zM247.1,1407.9h1.5V1415.2h-1.5zM248.6,1407.9h3.6V1415.2h-3.6zM252.2,1407.9h4.0V1415.2h-4.0zM256.2,1407.9h2.7V1415.2h-2.7zM258.9,1407.9h1.3V1415.2h-1.3zM260.2,1407.9h2.5V1415.2h-2.5zM262.7,1407.9h4.0V1415.2h-4.0zM266.7,1407.9h1.6V1415.2h-1.6zM268.2,1407.9h1.3V1415.2h-1.3zM269.5,1407.9h1.4V1415.2h-1.4zM270.9,1407.9h3.3V1415.2h-3.3zM274.2,1407.9h2.1V1415.2h-2.1zM276.3,1407.9h2.3V1415.2h-2.3zM278.6,1407.9h2.6V1415.2h-2.6zM281.2,1407.9h1.9V1415.2h-1.9zM283.1,1407.9h1.5V1415.2h-1.5zM284.5,1407.9h2.0V1415.2h-2.0zM286.5,1407.9h1.9V1415.2h-1.9zM288.5,1407.9h3.1V1415.2h-3.1zM291.5,1407.9h1.4V1415.2h-1.4zM292.9,1407.9h1.6V1415.2h-1.6zM294.5,1407.9h3.4V1415.2h-3.4zM297.9,1407.9h1.6V1415.2h-1.6zM299.4,1407.9h3.6V1415.2h-3.6zM303.0,1407.9h2.7V1415.2h-2.7zM305.7,1407.9h2.8V1415.2h-2.8zM308.6,1407.9h2.1V1415.2h-2.1zM312.4,1407.9h2.0V1415.2h-2.0zM314.3,1407.9h2.8V1415.2h-2.8zM317.1,1407.9h2.3V1415.2h-2.3zM319.4,1407.9h1.6V1415.2h-1.6zM324.0,1407.9h1.3V1415.2h-1.3zM325.3,1407.9h1.4V1415.2h-1.4zM326.6,1407.9h1.2V1415.2h-1.2zM327.8,1407.9h2.5V1415.2h-2.5zM330.3,1407.9h2.1V1415.2h-2.1zM332.4,1407.9h2.0V1415.2h-2.0zM334.4,1407.9h1.3V1415.2h-1.3zM335.8,1407.9h2.4V1415.2h-2.4zM338.1,1407.9h2.3V1415.2h-2.3zM340.4,1407.9h3.1V1415.2h-3.1zM343.5,1407.9h1.6V1415.2h-1.6zM345.1,1407.9h1.2V1415.2h-1.2zM346.4,1407.9h1.6V1415.2h-1.6zM348.0,1407.9h2.5V1415.2h-2.5zM355.8,1407.9h1.4V1415.2h-1.4zM357.3,1407.9h1.4V1415.2h-1.4zM358.7,1407.9h3.6V1415.2h-3.6zM362.3,1407.9h1.3V1415.2h-1.3zM363.6,1407.9h1.8V1415.2h-1.8zM367.7,1407.9h1.7V1415.2h-1.7zM369.4,1407.9h1.6V1415.2h-1.6zM371.0,1407.9h2.4V1415.2h-2.4zM373.4,1407.9h3.8V1415.2h-3.8zM380.0,1407.9h2.9V1415.2h-2.9zM382.9,1407.9h2.0V1415.2h-2.0zM388.9,1407.9h3.2V1415.2h-3.2zM392.0,1407.9h2.5V1415.2h-2.5zM394.5,1407.9h3.9V1415.2h-3.9zM398.4,1407.9h3.8V1415.2h-3.8zM402.2,1407.9h2.2V1415.2h-2.2zM405.7,1407.9h3.5V1415.2h-3.5zM409.2,1407.9h2.8V1415.2h-2.8zM412.0,1407.9h2.2V1415.2h-2.2zM414.2,1407.9h1.9V1415.2h-1.9zM419.9,1407.9h3.3V1415.2h-3.3zM423.3,1407.9h1.8V1415.2h-1.8zM427.9,1407.9h1.1V1415.2h-1.1zM429.0,1407.9h2.9V1415.2h-2.9zM432.0,1407.9h2.4V1415.2h-2.4zM434.4,1407.9h3.4V1415.2h-3.4zM437.8,1407.9h3.1V1415.2h-3.1zM440.8,1407.9h3.7V1415.2h-3.7zM444.6,1407.9h3.6V1415.2h-3.6zM448.2,1407.9h3.7V1415.2h-3.7zM451.9,1407.9h3.9V1415.2h-3.9zM455.8,1407.9h1.4V1415.2h-1.4zM457.1,1407.9h2.2V1415.2h-2.2zM459.3,1407.9h1.9V1415.2h-1.9zM461.2,1407.9h3.9V1415.2h-3.9zM465.2,1407.9h3.7V1415.2h-3.7zM468.8,1407.9h1.9V1415.2h-1.9zM470.7,1407.9h3.5V1415.2h-3.5zM474.2,1407.9h1.4V1415.2h-1.4zM475.6,1407.9h2.8V1415.2h-2.8zM478.5,1407.9h2.9V1415.2h-2.9zM481.3,1407.9h2.6V1415.2h-2.6zM484.0,1407.9h3.4V1415.2h-3.4zM487.4,1407.9h3.4V1415.2h-3.4zM490.8,1407.9h2.2V1415.2h-2.2zM493.0,1407.9h2.1V1415.2h-2.1zM495.1,1407.9h3.8V1415.2h-3.8zM498.9,1407.9h2.0V1415.2h-2.0zM500.9,1407.9h3.3V1415.2h-3.3zM504.2,1407.9h2.7V1415.2h-2.7zM506.8,1407.9h3.8V1415.2h-3.8zM510.7,1407.9h3.4V1415.2h-3.4zM514.0,1407.9h2.4V1415.2h-2.4zM516.4,1407.9h3.9V1415.2h-3.9zM520.3,1407.9h3.1V1415.2h-3.1zM523.3,1407.9h2.3V1415.2h-2.3zM525.7,1407.9h1.4V1415.2h-1.4zM530.0,1407.9h1.4V1415.2h-1.4zM531.3,1407.9h2.7V1415.2h-2.7zM534.0,1407.9h1.5V1415.2h-1.5zM535.5,1407.9h2.9V1415.2h-2.9zM538.4,1407.9h2.6V1415.2h-2.6zM541.0,1407.9h2.0V1415.2h-2.0zM543.0,1407.9h1.4V1415.2h-1.4zM544.4,1407.9h1.1V1415.2h-1.1zM545.5,1407.9h3.2V1415.2h-3.2zM548.6,1407.9h1.5V1415.2h-1.5zM550.2,1407.9h3.3V1415.2h-3.3zM553.4,1407.9h2.9V1415.2h-2.9zM558.2,1407.9h2.2V1415.2h-2.2zM560.4,1407.9h3.4V1415.2h-3.4zM563.8,1407.9h3.9V1415.2h-3.9zM567.8,1407.9h1.6V1415.2h-1.6zM569.3,1407.9h3.3V1415.2h-3.3zM572.6,1407.9h0.4V1415.2h-0.4z" fill="#ffff00"/>
<path d="M168.6,1428.0h3.0V1435.6h-3.0zM177.5,1428.0h1.4V1435.6h-1.4zM182.1,1428.0h4.4V1435.6h-4.4zM200.7,1428.0h4.1V1435.6h-4.1zM213.3,1428.0h3.4V1435.6h-3.4zM216.7,1428.0h4.2V1435.6h-4.2zM220.9,1428.0h1.3V1435.6h-1.3zM222.2,1428.0h1.3V1435.6h-1.3zM225.7,1428.0h2.5V1435.6h-2.5zM230.7,1428.0h4.0V1435.6h-4.0zM234.7,1428.0h3.3V1435.6h-3.3zM238.0,1428.0h4.6V1435.6h-4.6zM242.6,1428.0h1.6V1435.6h-1.6zM248.6,1428.0h2.5V1435.6h-2.5zM251.2,1428.0h2.9V1435.6h-2.9zM254.0,1428.0h3.4V1435.6h-3.4zM259.6,1428.0h4.8V1435.6h-4.8zM266.5,1428.0h3.4V1435.6h-3.4zM272.5,1428.0h2.3V1435.6h-2.3zM274.8,1428.0h2.4V1435.6h-2.4zM277.2,1428.0h1.7V1435.6h-1.7zM278.9,1428.0h3.8V1435.6h-3.8zM292.7,1428.0h1.1V1435.6h-1.1zM293.8,1428.0h4.4V1435.6h-4.4zM298.2,1428.0h4.6V1435.6h-4.6zM302.8,1428.0h4.1V1435.6h-4.1zM306.9,1428.0h2.4V1435.6h-2.4zM309.3,1428.0h2.9V1435.6h-2.9zM312.2,1428.0h4.2V1435.6h-4.2zM316.4,1428.0h4.8V1435.6h-4.8zM323.8,1428.0h3.1V1435.6h-3.1zM326.9,1428.0h3.4V1435.6h-3.4zM330.4,1428.0h1.1V1435.6h-1.1zM331.5,1428.0h2.2V1435.6h-2.2zM333.7,1428.0h2.8V1435.6h-2.8zM338.9,1428.0h2.4V1435.6h-2.4zM343.1,1428.0h2.3V1435.6h-2.3zM345.4,1428.0h1.5V1435.6h-1.5zM346.9,1428.0h4.8V1435.6h-4.8zM351.8,1428.0h2.0V1435.6h-2.0zM357.1,1428.0h2.9V1435.6h-2.9zM363.0,1428.0h1.7V1435.6h-1.7zM376.3,1428.0h1.1V1435.6h-1.1zM377.4,1428.0h3.7V1435.6h-3.7zM381.1,1428.0h3.4V1435.6h-3.4zM384.5,1428.0h1.4V1435.6h-1.4zM385.9,1428.0h3.8V1435.6h-3.8zM389.7,1428.0h4.2V1435.6h-4.2zM393.9,1428.0h2.3V1435.6h-2.3zM396.2,1428.0h3.4V1435.6h-3.4zM409.7,1428.0h3.2V1435.6h-3.2zM413.0,1428.0h1.1V1435.6h-1.1zM420.2,1428.0h1.7V1435.6h-1.7zM421.9,1428.0h1.7V1435.6h-1.7zM429.5,1428.0h3.1V1435.6h-3.1zM436.8,1428.0h2.2V1435.6h-2.2z" fill="#ffff00"/>
<path d="M441.5,1428.0h2.9V1433.5h-2.9zM446.0,1428.0h2.9V1433.5h-2.9zM458.5,1428.0h3.9V1433.5h-3.9zM464.2,1428.0h1.8V1433.5h-1.8zM467.4,1428.0h3.7V1433.5h-3.7zM475.0,1428.0h1.7V1433.5h-1.7zM479.5,1428.0h3.1V1433.5h-3.1zM482.5,1428.0h3.1V1433.5h-3.1zM489.4,1428.0h2.7V1433.5h-2.7zM492.1,1428.0h3.3V1433.5h-3.3zM495.4,1428.0h3.8V1433.5h-3.8zM502.6,1428.0h1.4V1433.5h-1.4zM512.2,1428.0h3.7V1433.5h-3.7zM518.2,1428.0h3.7V1433.5h-3.7zM521.9,1428.0h3.8V1433.5h-3.8zM542.3,1428.0h1.5V1433.5h-1.5zM543.8,1428.0h3.9V1433.5h-3.9zM548.8,1428.0h2.5V1433.5h-2.5zM555.1,1428.0h2.3V1433.5h-2.3zM557.4,1428.0h1.9V1433.5h-1.9zM565.6,1428.0h3.3V1433.5h-3.3zM571.9,1428.0h1.1V1433.5h-1.1z" fill="#ffff00"/>
<path d="M320.0,1435.6h3.9V1443.0h-3.9zM323.9,1435.6h2.7V1443.0h-2.7zM326.6,1435.6h1.6V1443.0h-1.6zM328.1,1435.6h2.2V1443.0h-2.2zM330.3,1435.6h3.3V1443.0h-3.3zM333.6,1435.6h3.9V1443.0h-3.9zM337.6,1435.6h3.0V1443.0h-3.0zM340.5,1435.6h1.7V1443.0h-1.7zM348.8,1435.6h3.9V1443.0h-3.9zM352.6,1435.6h3.6V1443.0h-3.6zM361.5,1435.6h3.2V1443.0h-3.2zM364.7,1435.6h3.3V1443.0h-3.3zM367.9,1435.6h1.9V1443.0h-1.9z" fill="#ffff00"/>
<rect x="585" y="1408.3" width="70" height="18.1" fill="#ffff00"/>
<rect x="658.5" y="1408.3" width="495.5" height="18.1" fill="#ffff00"/>
<path d="M166,1420 L167,1469 L169,1469 L170,1420 Z" fill="#ffff00"/>
<rect x="830.0" y="1399.5" width="1.2" height="9" fill="#ffff00"/>
<rect x="837.5" y="1399.5" width="1.2" height="9" fill="#ffff00"/>
<rect x="909.0" y="1399.5" width="1.2" height="9" fill="#ffff00"/>
<rect x="961.0" y="1399.5" width="1.2" height="9" fill="#ffff00"/>
<rect x="967.5" y="1399.5" width="1.2" height="9" fill="#ffff00"/>
<rect x="984.0" y="1399.5" width="1.2" height="9" fill="#ffff00"/>
<rect x="990.0" y="1399.5" width="1.2" height="9" fill="#ffff00"/>
<rect x="1003.0" y="1399.5" width="1.2" height="9" fill="#ffff00"/>
<rect x="1056.0" y="1399.5" width="1.2" height="9" fill="#ffff00"/>
<rect x="1063.5" y="1399.5" width="1.2" height="9" fill="#ffff00"/>
<rect x="986.7" y="1426" width="1.2" height="8" fill="#ffff00"/>
<rect x="992.0" y="1426" width="1.2" height="8" fill="#ffff00"/>
<rect x="1043.6" y="1426" width="1.2" height="8" fill="#ffff00"/>
<rect x="1052.0" y="1426" width="1.2" height="8" fill="#ffff00"/>
<rect x="1088.5" y="1426" width="1.2" height="8" fill="#ffff00"/>
<line x1="412.5" y1="1306.3" x2="412.5" y2="1316.3" stroke="#262626" stroke-width="1.2"/><line x1="412.5" y1="1469.5" x2="412.5" y2="1459.5" stroke="#262626" stroke-width="1.2"/><line x1="660.2" y1="1306.3" x2="660.2" y2="1316.3" stroke="#262626" stroke-width="1.2"/><line x1="660.2" y1="1469.5" x2="660.2" y2="1459.5" stroke="#262626" stroke-width="1.2"/><line x1="907.3" y1="1306.3" x2="907.3" y2="1316.3" stroke="#262626" stroke-width="1.2"/><line x1="907.3" y1="1469.5" x2="907.3" y2="1459.5" stroke="#262626" stroke-width="1.2"/><line x1="165.5" y1="1387.5" x2="175.5" y2="1387.5" stroke="#262626" stroke-width="1.2"/><line x1="1154.5" y1="1387.5" x2="1144.5" y2="1387.5" stroke="#262626" stroke-width="1.2"/><rect x="165.5" y="1306.3" width="989.0" height="163.2" fill="none" stroke="#262626" stroke-width="1.3"/>
<text x="155.0" y="1312.8" font-size="22.0" text-anchor="end" textLength="36.3" lengthAdjust="spacingAndGlyphs" fill="#262626" >100</text>
<text x="155.0" y="1394.0" font-size="22.0" text-anchor="end" textLength="12.0" lengthAdjust="spacingAndGlyphs" fill="#262626" >0</text>
<text x="155.0" y="1476.0" font-size="22.0" text-anchor="end" textLength="44.0" lengthAdjust="spacingAndGlyphs" fill="#262626" >-100</text>
<text x="73.2" y="1429.3" font-size="20.5" font-weight="bold" text-anchor="start" textLength="82.7" lengthAdjust="spacingAndGlyphs" transform="rotate(-90 73.2 1429.3)" fill="#262626" >Voltage</text>
<text x="96.0" y="1411.9" font-size="20.5" font-weight="bold" text-anchor="start" textLength="47.9" lengthAdjust="spacingAndGlyphs" transform="rotate(-90 96.0 1411.9)" fill="#262626" >(mV)</text>
<text x="1170.7" y="1438.0" font-size="15.5" font-weight="bold" text-anchor="start" textLength="123.8" lengthAdjust="spacingAndGlyphs" transform="rotate(-90 1170.7 1438.0)" fill="#000000" >Inboard VMon1</text>
<text x="1182.2" y="1438.0" font-size="15.5" font-weight="bold" text-anchor="start" textLength="123.8" lengthAdjust="spacingAndGlyphs" transform="rotate(-90 1182.2 1438.0)" fill="#000000" >Inboard VMon2</text>
<text x="1193.7" y="1447.3" font-size="15.5" font-weight="bold" text-anchor="start" textLength="137.5" lengthAdjust="spacingAndGlyphs" transform="rotate(-90 1193.7 1447.3)" fill="#000000" >Outboard VMon1</text>
<text x="1205.1" y="1447.3" font-size="15.5" font-weight="bold" text-anchor="start" textLength="137.5" lengthAdjust="spacingAndGlyphs" transform="rotate(-90 1205.1 1447.3)" fill="#000000" >Outboard VMon2</text>
<line x1="1167.8" y1="1462.6" x2="1167.8" y2="1477.4" stroke="#0000ff" stroke-width="2"/>
<line x1="1179.8" y1="1462.6" x2="1179.8" y2="1477.4" stroke="#00ffff" stroke-width="2"/>
<line x1="1191.8" y1="1462.6" x2="1191.8" y2="1477.4" stroke="#00ff00" stroke-width="2"/>
<line x1="1203.0" y1="1462.6" x2="1203.0" y2="1477.4" stroke="#ffff00" stroke-width="2"/>
<text x="41.8" y="1498.5" font-size="15.0" font-weight="bold" text-anchor="start" textLength="44.2" lengthAdjust="spacingAndGlyphs" fill="#000000" >Time:</text>
<text x="165.5" y="1498.5" font-size="15.0" font-weight="bold" text-anchor="middle" textLength="71.7" lengthAdjust="spacingAndGlyphs" fill="#000000" >19:25:05</text>
<text x="412.5" y="1498.5" font-size="15.0" font-weight="bold" text-anchor="middle" textLength="71.7" lengthAdjust="spacingAndGlyphs" fill="#000000" >19:50:53</text>
<text x="660.0" y="1498.5" font-size="15.0" font-weight="bold" text-anchor="middle" textLength="71.7" lengthAdjust="spacingAndGlyphs" fill="#000000" >20:16:41</text>
<text x="907.0" y="1498.5" font-size="15.0" font-weight="bold" text-anchor="middle" textLength="71.7" lengthAdjust="spacingAndGlyphs" fill="#000000" >20:42:29</text>
<text x="1154.5" y="1498.5" font-size="15.0" font-weight="bold" text-anchor="middle" textLength="71.7" lengthAdjust="spacingAndGlyphs" fill="#000000" >21:08:18</text>
<text x="41.8" y="1519.3" font-size="15.0" font-weight="bold" text-anchor="start" textLength="74.8" lengthAdjust="spacingAndGlyphs" fill="#000000" >Rad(km):</text>
<text x="165.5" y="1519.3" font-size="15.0" font-weight="bold" text-anchor="middle" textLength="55.6" lengthAdjust="spacingAndGlyphs" fill="#000000" >7289.2</text>
<text x="412.5" y="1519.3" font-size="15.0" font-weight="bold" text-anchor="middle" textLength="55.6" lengthAdjust="spacingAndGlyphs" fill="#000000" >6706.8</text>
<text x="660.0" y="1519.3" font-size="15.0" font-weight="bold" text-anchor="middle" textLength="55.6" lengthAdjust="spacingAndGlyphs" fill="#000000" >7059.0</text>
<text x="907.0" y="1519.3" font-size="15.0" font-weight="bold" text-anchor="middle" textLength="55.6" lengthAdjust="spacingAndGlyphs" fill="#000000" >7555.1</text>
<text x="1154.5" y="1519.3" font-size="15.0" font-weight="bold" text-anchor="middle" textLength="55.6" lengthAdjust="spacingAndGlyphs" fill="#000000" >7198.5</text>
<text x="41.8" y="1540.2" font-size="15.0" font-weight="bold" text-anchor="start" textLength="31.3" lengthAdjust="spacingAndGlyphs" fill="#000000" >Lat:</text>
<text x="165.5" y="1540.2" font-size="15.0" font-weight="bold" text-anchor="middle" textLength="35.5" lengthAdjust="spacingAndGlyphs" fill="#000000" >11.2</text>
<text x="412.5" y="1540.2" font-size="15.0" font-weight="bold" text-anchor="middle" textLength="35.5" lengthAdjust="spacingAndGlyphs" fill="#000000" >69.1</text>
<text x="660.0" y="1540.2" font-size="15.0" font-weight="bold" text-anchor="middle" textLength="41.5" lengthAdjust="spacingAndGlyphs" fill="#000000" >-30.5</text>
<text x="907.0" y="1540.2" font-size="15.0" font-weight="bold" text-anchor="middle" textLength="41.5" lengthAdjust="spacingAndGlyphs" fill="#000000" >-60.5</text>
<text x="1154.5" y="1540.2" font-size="15.0" font-weight="bold" text-anchor="middle" textLength="35.5" lengthAdjust="spacingAndGlyphs" fill="#000000" >23.0</text>
<text x="41.8" y="1561.0" font-size="15.0" font-weight="bold" text-anchor="start" textLength="35.0" lengthAdjust="spacingAndGlyphs" fill="#000000" >Lon:</text>
<text x="165.5" y="1561.0" font-size="15.0" font-weight="bold" text-anchor="middle" textLength="35.5" lengthAdjust="spacingAndGlyphs" fill="#000000" >52.3</text>
<text x="412.5" y="1561.0" font-size="15.0" font-weight="bold" text-anchor="middle" textLength="51.5" lengthAdjust="spacingAndGlyphs" fill="#000000" >-160.6</text>
<text x="660.0" y="1561.0" font-size="15.0" font-weight="bold" text-anchor="middle" textLength="51.5" lengthAdjust="spacingAndGlyphs" fill="#000000" >-137.1</text>
<text x="907.0" y="1561.0" font-size="15.0" font-weight="bold" text-anchor="middle" textLength="35.5" lengthAdjust="spacingAndGlyphs" fill="#000000" >14.7</text>
<text x="1154.5" y="1561.0" font-size="15.0" font-weight="bold" text-anchor="middle" textLength="35.5" lengthAdjust="spacingAndGlyphs" fill="#000000" >28.4</text>
<text x="41.8" y="1581.9" font-size="15.0" font-weight="bold" text-anchor="start" textLength="41.7" lengthAdjust="spacingAndGlyphs" fill="#000000" >Mlat:</text>
<text x="165.5" y="1581.9" font-size="15.0" font-weight="bold" text-anchor="middle" textLength="25.5" lengthAdjust="spacingAndGlyphs" fill="#000000" >5.8</text>
<text x="412.5" y="1581.9" font-size="15.0" font-weight="bold" text-anchor="middle" textLength="35.5" lengthAdjust="spacingAndGlyphs" fill="#000000" >67.5</text>
<text x="660.0" y="1581.9" font-size="15.0" font-weight="bold" text-anchor="middle" textLength="41.5" lengthAdjust="spacingAndGlyphs" fill="#000000" >-26.2</text>
<text x="907.0" y="1581.9" font-size="15.0" font-weight="bold" text-anchor="middle" textLength="41.5" lengthAdjust="spacingAndGlyphs" fill="#000000" >-58.8</text>
<text x="1154.5" y="1581.9" font-size="15.0" font-weight="bold" text-anchor="middle" textLength="35.5" lengthAdjust="spacingAndGlyphs" fill="#000000" >20.9</text>
<text x="41.8" y="1602.8" font-size="15.0" font-weight="bold" text-anchor="start" textLength="31.3" lengthAdjust="spacingAndGlyphs" fill="#000000" >Mlt:</text>
<text x="165.5" y="1602.8" font-size="15.0" font-weight="bold" text-anchor="middle" textLength="55.6" lengthAdjust="spacingAndGlyphs" fill="#000000" >22.891</text>
<text x="412.5" y="1602.8" font-size="15.0" font-weight="bold" text-anchor="middle" textLength="45.6" lengthAdjust="spacingAndGlyphs" fill="#000000" >7.478</text>
<text x="660.0" y="1602.8" font-size="15.0" font-weight="bold" text-anchor="middle" textLength="55.6" lengthAdjust="spacingAndGlyphs" fill="#000000" >11.302</text>
<text x="907.0" y="1602.8" font-size="15.0" font-weight="bold" text-anchor="middle" textLength="55.6" lengthAdjust="spacingAndGlyphs" fill="#000000" >20.487</text>
<text x="1154.5" y="1602.8" font-size="15.0" font-weight="bold" text-anchor="middle" textLength="55.6" lengthAdjust="spacingAndGlyphs" fill="#000000" >23.107</text>
<text x="161.0" y="1642.5" font-size="14.0" font-weight="bold" text-anchor="start" textLength="941.5" lengthAdjust="spacingAndGlyphs" fill="#000000" >MGF Quicklook using MGF_20221219_192504_210817_v2.1.0.lv2 on 20-Jun-2024 17:46:06 (calibration from static )</text>
</svg></body></html>
